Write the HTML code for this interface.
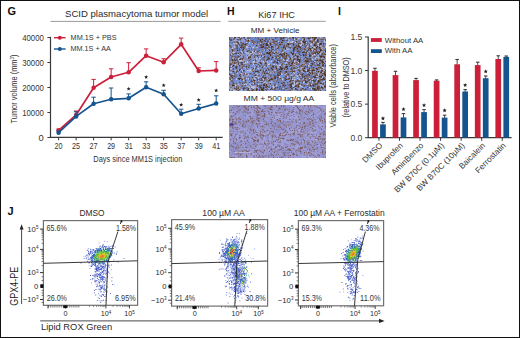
<!DOCTYPE html>
<html><head><meta charset="utf-8"><style>
html,body{margin:0;padding:0;background:#fff;}
#c{position:relative;width:520px;height:338px;overflow:hidden;background:#fff;}
#c svg{position:absolute;left:0;top:0;}
#b{position:absolute;left:0;top:0;width:518px;height:336px;border:1px solid #111;}
</style></head><body><div id="c">
<svg width="520" height="338" viewBox="0 0 520 338" font-family="'Liberation Sans', sans-serif">
<text x="7.6" y="14.9" font-size="11" font-weight="bold" fill="#111" >G</text>
<text x="227.0" y="15.1" font-size="10.5" font-weight="bold" fill="#111" >H</text>
<text x="338.0" y="14.6" font-size="10.5" font-weight="bold" fill="#111" >I</text>
<text x="7.6" y="215.1" font-size="11" font-weight="bold" fill="#111" >J</text>
<text x="65.0" y="16.8" font-size="9.8" textLength="143.2" lengthAdjust="spacingAndGlyphs" fill="#2a2a2a" >SCID plasmacytoma tumor model</text>
<line x1="50.5" y1="21.4" x2="220.6" y2="21.4" stroke="#9a9a9a" stroke-width="1" />
<line x1="50.5" y1="36.8" x2="50.5" y2="137.9" stroke="#3a3a3a" stroke-width="1.2" />
<line x1="49.9" y1="137.4" x2="222.7" y2="137.4" stroke="#3a3a3a" stroke-width="1.2" />
<line x1="47.4" y1="37.5" x2="50.5" y2="37.5" stroke="#3a3a3a" stroke-width="1" />
<text x="43.8" y="40.6" font-size="9.4" text-anchor="end" textLength="21.6" lengthAdjust="spacingAndGlyphs" fill="#333" >40000</text>
<line x1="47.4" y1="62.5" x2="50.5" y2="62.5" stroke="#3a3a3a" stroke-width="1" />
<text x="43.8" y="65.6" font-size="9.4" text-anchor="end" textLength="21.6" lengthAdjust="spacingAndGlyphs" fill="#333" >30000</text>
<line x1="47.4" y1="87.5" x2="50.5" y2="87.5" stroke="#3a3a3a" stroke-width="1" />
<text x="43.8" y="90.6" font-size="9.4" text-anchor="end" textLength="21.6" lengthAdjust="spacingAndGlyphs" fill="#333" >20000</text>
<line x1="47.4" y1="112.5" x2="50.5" y2="112.5" stroke="#3a3a3a" stroke-width="1" />
<text x="43.8" y="115.6" font-size="9.4" text-anchor="end" textLength="21.6" lengthAdjust="spacingAndGlyphs" fill="#333" >10000</text>
<line x1="47.4" y1="137.5" x2="50.5" y2="137.5" stroke="#3a3a3a" stroke-width="1" />
<text x="43.8" y="140.6" font-size="9.4" text-anchor="end" fill="#333" >0</text>
<line x1="58.6" y1="137.4" x2="58.6" y2="140.3" stroke="#3a3a3a" stroke-width="1" />
<text x="58.6" y="149.1" font-size="8.6" text-anchor="middle" textLength="8.0" lengthAdjust="spacingAndGlyphs" fill="#333" >20</text>
<line x1="76.11" y1="137.4" x2="76.11" y2="140.3" stroke="#3a3a3a" stroke-width="1" />
<text x="76.11" y="149.1" font-size="8.6" text-anchor="middle" textLength="8.0" lengthAdjust="spacingAndGlyphs" fill="#333" >25</text>
<line x1="93.62" y1="137.4" x2="93.62" y2="140.3" stroke="#3a3a3a" stroke-width="1" />
<text x="93.62" y="149.1" font-size="8.6" text-anchor="middle" textLength="8.0" lengthAdjust="spacingAndGlyphs" fill="#333" >27</text>
<line x1="111.13" y1="137.4" x2="111.13" y2="140.3" stroke="#3a3a3a" stroke-width="1" />
<text x="111.13" y="149.1" font-size="8.6" text-anchor="middle" textLength="8.0" lengthAdjust="spacingAndGlyphs" fill="#333" >29</text>
<line x1="128.64000000000001" y1="137.4" x2="128.64000000000001" y2="140.3" stroke="#3a3a3a" stroke-width="1" />
<text x="128.64000000000001" y="149.1" font-size="8.6" text-anchor="middle" textLength="8.0" lengthAdjust="spacingAndGlyphs" fill="#333" >31</text>
<line x1="146.15" y1="137.4" x2="146.15" y2="140.3" stroke="#3a3a3a" stroke-width="1" />
<text x="146.15" y="149.1" font-size="8.6" text-anchor="middle" textLength="8.0" lengthAdjust="spacingAndGlyphs" fill="#333" >33</text>
<line x1="163.66" y1="137.4" x2="163.66" y2="140.3" stroke="#3a3a3a" stroke-width="1" />
<text x="163.66" y="149.1" font-size="8.6" text-anchor="middle" textLength="8.0" lengthAdjust="spacingAndGlyphs" fill="#333" >35</text>
<line x1="181.17000000000002" y1="137.4" x2="181.17000000000002" y2="140.3" stroke="#3a3a3a" stroke-width="1" />
<text x="181.17000000000002" y="149.1" font-size="8.6" text-anchor="middle" textLength="8.0" lengthAdjust="spacingAndGlyphs" fill="#333" >37</text>
<line x1="198.68" y1="137.4" x2="198.68" y2="140.3" stroke="#3a3a3a" stroke-width="1" />
<text x="198.68" y="149.1" font-size="8.6" text-anchor="middle" textLength="8.0" lengthAdjust="spacingAndGlyphs" fill="#333" >39</text>
<line x1="216.19" y1="137.4" x2="216.19" y2="140.3" stroke="#3a3a3a" stroke-width="1" />
<text x="216.19" y="149.1" font-size="8.6" text-anchor="middle" textLength="8.0" lengthAdjust="spacingAndGlyphs" fill="#333" >41</text>
<text x="93.3" y="162.2" font-size="9.5" textLength="89" lengthAdjust="spacingAndGlyphs" fill="#333" >Days since MM1S injection</text>
<text transform="translate(17.4,89) rotate(-90)" font-size="9.2" text-anchor="middle" fill="#333" textLength="69" lengthAdjust="spacingAndGlyphs">Tumor volume (mm<tspan font-size="5.5" dy="-3.2">3</tspan><tspan dy="3.2">)</tspan></text>
<line x1="58.6" y1="129" x2="58.6" y2="130.4" stroke="#cc1f3a" stroke-width="1" />
<line x1="56.4" y1="129" x2="60.800000000000004" y2="129" stroke="#cc1f3a" stroke-width="1" />
<line x1="76.11" y1="111" x2="76.11" y2="115" stroke="#cc1f3a" stroke-width="1" />
<line x1="73.91" y1="111" x2="78.31" y2="111" stroke="#cc1f3a" stroke-width="1" />
<line x1="93.62" y1="79.4" x2="93.62" y2="87.7" stroke="#cc1f3a" stroke-width="1" />
<line x1="91.42" y1="79.4" x2="95.82000000000001" y2="79.4" stroke="#cc1f3a" stroke-width="1" />
<line x1="111.13" y1="68.8" x2="111.13" y2="77" stroke="#cc1f3a" stroke-width="1" />
<line x1="108.92999999999999" y1="68.8" x2="113.33" y2="68.8" stroke="#cc1f3a" stroke-width="1" />
<line x1="128.64000000000001" y1="62.7" x2="128.64000000000001" y2="72.3" stroke="#cc1f3a" stroke-width="1" />
<line x1="126.44000000000001" y1="62.7" x2="130.84" y2="62.7" stroke="#cc1f3a" stroke-width="1" />
<line x1="146.15" y1="48.9" x2="146.15" y2="55.7" stroke="#cc1f3a" stroke-width="1" />
<line x1="143.95000000000002" y1="48.9" x2="148.35" y2="48.9" stroke="#cc1f3a" stroke-width="1" />
<line x1="163.66" y1="58.7" x2="163.66" y2="62.2" stroke="#cc1f3a" stroke-width="1" />
<line x1="161.46" y1="58.7" x2="165.85999999999999" y2="58.7" stroke="#cc1f3a" stroke-width="1" />
<line x1="181.17000000000002" y1="38.1" x2="181.17000000000002" y2="44.3" stroke="#cc1f3a" stroke-width="1" />
<line x1="178.97000000000003" y1="38.1" x2="183.37" y2="38.1" stroke="#cc1f3a" stroke-width="1" />
<line x1="198.68" y1="67.8" x2="198.68" y2="71" stroke="#cc1f3a" stroke-width="1" />
<line x1="196.48000000000002" y1="67.8" x2="200.88" y2="67.8" stroke="#cc1f3a" stroke-width="1" />
<line x1="216.19" y1="61.6" x2="216.19" y2="70.4" stroke="#cc1f3a" stroke-width="1" />
<line x1="213.99" y1="61.6" x2="218.39" y2="61.6" stroke="#cc1f3a" stroke-width="1" />
<polyline points="58.6,130.4 76.11,115 93.62,87.7 111.13,77 128.64000000000001,72.3 146.15,55.7 163.66,62.2 181.17000000000002,44.3 198.68,71 216.19,70.4" fill="none" stroke="#cc1f3a" stroke-width="1.7" stroke-linejoin="round"/>
<circle cx="58.6" cy="130.4" r="2.25" fill="#cc1f3a"/>
<circle cx="76.11" cy="115" r="2.25" fill="#cc1f3a"/>
<circle cx="93.62" cy="87.7" r="2.25" fill="#cc1f3a"/>
<circle cx="111.13" cy="77" r="2.25" fill="#cc1f3a"/>
<circle cx="128.64000000000001" cy="72.3" r="2.25" fill="#cc1f3a"/>
<circle cx="146.15" cy="55.7" r="2.25" fill="#cc1f3a"/>
<circle cx="163.66" cy="62.2" r="2.25" fill="#cc1f3a"/>
<circle cx="181.17000000000002" cy="44.3" r="2.25" fill="#cc1f3a"/>
<circle cx="198.68" cy="71" r="2.25" fill="#cc1f3a"/>
<circle cx="216.19" cy="70.4" r="2.25" fill="#cc1f3a"/>
<line x1="58.6" y1="131" x2="58.6" y2="132.7" stroke="#15548f" stroke-width="1" />
<line x1="56.4" y1="131" x2="60.800000000000004" y2="131" stroke="#15548f" stroke-width="1" />
<line x1="76.11" y1="111.7" x2="76.11" y2="116.4" stroke="#15548f" stroke-width="1" />
<line x1="73.91" y1="111.7" x2="78.31" y2="111.7" stroke="#15548f" stroke-width="1" />
<line x1="93.62" y1="97.2" x2="93.62" y2="103.8" stroke="#15548f" stroke-width="1" />
<line x1="91.42" y1="97.2" x2="95.82000000000001" y2="97.2" stroke="#15548f" stroke-width="1" />
<line x1="111.13" y1="88" x2="111.13" y2="99.3" stroke="#15548f" stroke-width="1" />
<line x1="108.92999999999999" y1="88" x2="113.33" y2="88" stroke="#15548f" stroke-width="1" />
<line x1="128.64000000000001" y1="93.9" x2="128.64000000000001" y2="98.3" stroke="#15548f" stroke-width="1" />
<line x1="126.44000000000001" y1="93.9" x2="130.84" y2="93.9" stroke="#15548f" stroke-width="1" />
<line x1="146.15" y1="81.8" x2="146.15" y2="87.3" stroke="#15548f" stroke-width="1" />
<line x1="143.95000000000002" y1="81.8" x2="148.35" y2="81.8" stroke="#15548f" stroke-width="1" />
<line x1="163.66" y1="90.3" x2="163.66" y2="94.2" stroke="#15548f" stroke-width="1" />
<line x1="161.46" y1="90.3" x2="165.85999999999999" y2="90.3" stroke="#15548f" stroke-width="1" />
<line x1="181.17000000000002" y1="109.2" x2="181.17000000000002" y2="113.7" stroke="#15548f" stroke-width="1" />
<line x1="178.97000000000003" y1="109.2" x2="183.37" y2="109.2" stroke="#15548f" stroke-width="1" />
<line x1="198.68" y1="104.3" x2="198.68" y2="108.5" stroke="#15548f" stroke-width="1" />
<line x1="196.48000000000002" y1="104.3" x2="200.88" y2="104.3" stroke="#15548f" stroke-width="1" />
<line x1="216.19" y1="95.8" x2="216.19" y2="103.6" stroke="#15548f" stroke-width="1" />
<line x1="213.99" y1="95.8" x2="218.39" y2="95.8" stroke="#15548f" stroke-width="1" />
<polyline points="58.6,132.7 76.11,116.4 93.62,103.8 111.13,99.3 128.64000000000001,98.3 146.15,87.3 163.66,94.2 181.17000000000002,113.7 198.68,108.5 216.19,103.6" fill="none" stroke="#15548f" stroke-width="1.7" stroke-linejoin="round"/>
<circle cx="58.6" cy="132.7" r="2.25" fill="#15548f"/>
<circle cx="76.11" cy="116.4" r="2.25" fill="#15548f"/>
<circle cx="93.62" cy="103.8" r="2.25" fill="#15548f"/>
<circle cx="111.13" cy="99.3" r="2.25" fill="#15548f"/>
<circle cx="128.64000000000001" cy="98.3" r="2.25" fill="#15548f"/>
<circle cx="146.15" cy="87.3" r="2.25" fill="#15548f"/>
<circle cx="163.66" cy="94.2" r="2.25" fill="#15548f"/>
<circle cx="181.17000000000002" cy="113.7" r="2.25" fill="#15548f"/>
<circle cx="198.68" cy="108.5" r="2.25" fill="#15548f"/>
<circle cx="216.19" cy="103.6" r="2.25" fill="#15548f"/>
<polygon points="128.64,86.80 129.20,88.14 130.64,88.25 129.54,89.19 129.87,90.60 128.64,89.84 127.41,90.60 127.74,89.19 126.64,88.25 128.08,88.14" fill="#222"/>
<polygon points="146.15,74.90 146.71,76.24 148.15,76.35 147.05,77.29 147.38,78.70 146.15,77.94 144.92,78.70 145.25,77.29 144.15,76.35 145.59,76.24" fill="#222"/>
<polygon points="163.66,83.20 164.22,84.54 165.66,84.65 164.56,85.59 164.89,87.00 163.66,86.24 162.43,87.00 162.76,85.59 161.66,84.65 163.10,84.54" fill="#222"/>
<polygon points="181.17,102.70 181.73,104.04 183.17,104.15 182.07,105.09 182.40,106.50 181.17,105.74 179.94,106.50 180.27,105.09 179.17,104.15 180.61,104.04" fill="#222"/>
<polygon points="198.68,97.90 199.24,99.24 200.68,99.35 199.58,100.29 199.91,101.70 198.68,100.94 197.45,101.70 197.78,100.29 196.68,99.35 198.12,99.24" fill="#222"/>
<polygon points="216.19,88.40 216.75,89.74 218.19,89.85 217.09,90.79 217.42,92.20 216.19,91.44 214.96,92.20 215.29,90.79 214.19,89.85 215.63,89.74" fill="#222"/>
<line x1="54" y1="37.7" x2="65.6" y2="37.7" stroke="#cc1f3a" stroke-width="1.4" />
<circle cx="59.8" cy="37.8" r="2.0" fill="#cc1f3a"/>
<line x1="54" y1="49.0" x2="65.6" y2="49.0" stroke="#15548f" stroke-width="1.4" />
<circle cx="59.8" cy="49.1" r="2.0" fill="#15548f"/>
<text x="70.6" y="40.2" font-size="7.4" textLength="46" lengthAdjust="spacingAndGlyphs" fill="#333" >MM.1S + PBS</text>
<text x="70.6" y="51.3" font-size="7.4" textLength="40.2" lengthAdjust="spacingAndGlyphs" fill="#333" >MM.1S + AA</text>
<text x="258.2" y="17.7" font-size="9.3" textLength="36.8" lengthAdjust="spacingAndGlyphs" fill="#2a2a2a" >Ki67 IHC</text>
<line x1="228.2" y1="21.3" x2="325.7" y2="21.3" stroke="#9a9a9a" stroke-width="1" />
<text x="250.8" y="33.2" font-size="8" textLength="48.7" lengthAdjust="spacingAndGlyphs" fill="#2a2a2a" >MM + Vehicle</text>
<text x="243.6" y="101.3" font-size="8" textLength="70.6" lengthAdjust="spacingAndGlyphs" fill="#2a2a2a" >MM + 500 µg/g AA</text>
<filter id="bl" x="-5%" y="-5%" width="110%" height="110%"><feGaussianBlur stdDeviation="0.2"/></filter>
<clipPath id="cp1"><rect x="229" y="37" width="97" height="54"/></clipPath>
<g clip-path="url(#cp1)"><g filter="url(#bl)" shape-rendering="crispEdges"><rect x="229" y="37" width="97" height="54" fill="#686886"/><path fill="#bcc7e0" d="M233 37h1v1h-1zM240 37h1v1h-1zM246 37h1v1h-1zM288 37h1v1h-1zM320 37h1v1h-1zM325 37h1v1h-1zM298 38h1v1h-1zM249 39h1v1h-1zM294 39h1v1h-1zM302 39h1v1h-1zM311 39h1v1h-1zM315 40h1v1h-1zM324 40h1v1h-1zM239 41h1v1h-1zM278 41h1v1h-1zM292 41h2v1h-2zM301 41h1v1h-1zM246 42h1v1h-1zM249 42h1v1h-1zM288 42h1v1h-1zM290 42h3v1h-3zM295 42h1v1h-1zM301 42h1v1h-1zM306 42h1v1h-1zM236 43h1v1h-1zM252 43h1v1h-1zM260 43h1v1h-1zM268 43h1v1h-1zM318 43h1v1h-1zM301 44h1v1h-1zM311 44h1v1h-1zM300 45h1v1h-1zM234 46h1v1h-1zM246 46h1v1h-1zM307 46h1v1h-1zM247 47h1v1h-1zM253 47h1v1h-1zM314 47h1v1h-1zM232 48h1v1h-1zM312 49h1v1h-1zM241 51h1v1h-1zM252 51h1v1h-1zM255 51h1v1h-1zM233 52h1v1h-1zM242 52h1v1h-1zM245 52h1v1h-1zM252 52h1v1h-1zM282 52h1v1h-1zM248 53h1v1h-1zM250 53h1v1h-1zM259 53h1v1h-1zM320 53h1v1h-1zM231 54h1v1h-1zM314 54h1v1h-1zM312 55h1v1h-1zM247 57h1v1h-1zM256 58h1v1h-1zM259 58h1v1h-1zM288 58h1v1h-1zM315 58h1v1h-1zM283 59h1v1h-1zM312 59h1v1h-1zM240 60h2v1h-2zM287 60h1v1h-1zM253 61h2v1h-2zM263 61h1v1h-1zM271 61h1v1h-1zM294 61h1v1h-1zM245 62h1v1h-1zM247 62h1v1h-1zM253 62h1v1h-1zM298 62h1v1h-1zM309 63h1v1h-1zM235 64h1v1h-1zM253 64h1v1h-1zM268 64h1v1h-1zM274 64h1v1h-1zM276 64h1v1h-1zM279 65h2v1h-2zM308 65h1v1h-1zM231 66h1v1h-1zM264 66h1v1h-1zM254 67h1v1h-1zM322 67h1v1h-1zM230 68h2v1h-2zM298 68h1v1h-1zM323 68h1v1h-1zM241 69h1v1h-1zM320 69h1v1h-1zM235 70h1v1h-1zM247 70h1v1h-1zM249 70h2v1h-2zM275 70h1v1h-1zM306 70h1v1h-1zM242 71h1v1h-1zM293 72h1v1h-1zM241 73h1v1h-1zM245 73h1v1h-1zM233 74h1v1h-1zM281 74h1v1h-1zM318 74h1v1h-1zM300 75h1v1h-1zM256 76h1v1h-1zM279 76h1v1h-1zM297 76h1v1h-1zM294 77h1v1h-1zM322 77h1v1h-1zM246 78h1v1h-1zM248 78h1v1h-1zM254 78h1v1h-1zM297 78h1v1h-1zM309 78h1v1h-1zM236 79h1v1h-1zM263 79h1v1h-1zM282 79h1v1h-1zM292 79h1v1h-1zM294 79h1v1h-1zM299 79h1v1h-1zM312 79h1v1h-1zM317 79h1v1h-1zM229 80h1v1h-1zM243 80h1v1h-1zM312 81h1v1h-1zM324 81h1v1h-1zM264 82h1v1h-1zM294 82h1v1h-1zM303 82h1v1h-1zM253 83h1v1h-1zM294 83h1v1h-1zM296 83h1v1h-1zM238 84h1v1h-1zM244 84h1v1h-1zM246 84h1v1h-1zM250 84h1v1h-1zM258 84h1v1h-1zM294 84h1v1h-1zM307 84h1v1h-1zM311 84h1v1h-1zM235 85h1v1h-1zM276 85h1v1h-1zM292 85h1v1h-1zM300 85h1v1h-1zM253 86h1v1h-1zM273 86h1v1h-1zM293 86h1v1h-1zM251 87h3v1h-3zM273 87h1v1h-1zM309 87h1v1h-1zM253 88h1v1h-1zM283 88h1v1h-1zM311 88h1v1h-1zM249 89h1v1h-1zM234 90h1v1h-1zM302 90h1v1h-1z"/><path fill="#aab4d8" d="M245 37h1v1h-1zM286 38h1v1h-1zM294 38h1v1h-1zM285 39h1v1h-1zM310 39h1v1h-1zM316 39h1v1h-1zM234 40h1v1h-1zM269 40h1v1h-1zM288 41h1v1h-1zM324 41h1v1h-1zM239 42h1v1h-1zM287 42h1v1h-1zM313 42h1v1h-1zM324 42h1v1h-1zM233 43h2v1h-2zM249 43h1v1h-1zM311 43h1v1h-1zM317 43h1v1h-1zM234 44h1v1h-1zM306 44h1v1h-1zM310 44h1v1h-1zM290 45h1v1h-1zM318 45h1v1h-1zM247 46h1v1h-1zM290 46h1v1h-1zM325 46h1v1h-1zM232 47h1v1h-1zM234 47h1v1h-1zM246 47h1v1h-1zM252 47h1v1h-1zM256 47h2v1h-2zM325 47h1v1h-1zM287 49h2v1h-2zM285 50h1v1h-1zM246 52h1v1h-1zM283 52h1v1h-1zM307 52h1v1h-1zM247 53h1v1h-1zM251 53h1v1h-1zM261 53h1v1h-1zM237 54h1v1h-1zM249 54h1v1h-1zM273 54h1v1h-1zM249 55h1v1h-1zM262 56h1v1h-1zM292 56h1v1h-1zM274 57h1v1h-1zM277 57h1v1h-1zM281 57h1v1h-1zM316 57h1v1h-1zM233 58h1v1h-1zM238 58h1v1h-1zM254 58h1v1h-1zM318 58h1v1h-1zM238 59h1v1h-1zM256 59h1v1h-1zM239 60h1v1h-1zM284 60h1v1h-1zM286 60h1v1h-1zM240 61h1v1h-1zM242 61h1v1h-1zM247 61h1v1h-1zM267 61h1v1h-1zM278 61h1v1h-1zM314 61h1v1h-1zM230 62h1v1h-1zM257 62h1v1h-1zM263 62h1v1h-1zM267 62h1v1h-1zM285 62h2v1h-2zM245 63h1v1h-1zM269 63h1v1h-1zM285 63h1v1h-1zM318 63h1v1h-1zM269 64h1v1h-1zM273 64h1v1h-1zM277 65h2v1h-2zM308 66h1v1h-1zM278 67h1v1h-1zM323 67h1v1h-1zM257 68h2v1h-2zM301 68h1v1h-1zM250 69h1v1h-1zM300 69h1v1h-1zM310 69h1v1h-1zM242 70h1v1h-1zM248 70h1v1h-1zM324 70h1v1h-1zM249 71h1v1h-1zM268 71h1v1h-1zM302 71h1v1h-1zM230 72h2v1h-2zM268 72h1v1h-1zM270 72h1v1h-1zM322 72h1v1h-1zM237 73h1v1h-1zM255 73h1v1h-1zM281 73h1v1h-1zM286 73h1v1h-1zM294 73h1v1h-1zM318 73h1v1h-1zM248 74h1v1h-1zM257 74h1v1h-1zM282 74h1v1h-1zM299 74h1v1h-1zM291 75h1v1h-1zM296 75h1v1h-1zM255 76h1v1h-1zM287 76h1v1h-1zM316 76h1v1h-1zM237 77h1v1h-1zM258 77h1v1h-1zM279 77h1v1h-1zM236 78h1v1h-1zM258 78h1v1h-1zM282 78h1v1h-1zM303 78h1v1h-1zM313 78h1v1h-1zM231 79h1v1h-1zM248 79h1v1h-1zM255 79h1v1h-1zM318 79h1v1h-1zM258 80h1v1h-1zM294 80h1v1h-1zM260 81h1v1h-1zM310 81h1v1h-1zM323 81h1v1h-1zM271 82h1v1h-1zM312 82h1v1h-1zM316 82h1v1h-1zM308 83h1v1h-1zM235 84h1v1h-1zM320 84h1v1h-1zM270 85h1v1h-1zM293 85h2v1h-2zM322 85h1v1h-1zM247 86h1v1h-1zM251 86h2v1h-2zM254 86h1v1h-1zM300 86h3v1h-3zM323 86h1v1h-1zM249 87h1v1h-1zM254 87h2v1h-2zM294 88h1v1h-1zM231 89h1v1h-1zM241 89h1v1h-1zM311 89h1v1h-1zM233 90h1v1h-1zM235 90h1v1h-1zM240 90h2v1h-2zM271 90h1v1h-1zM293 90h1v1h-1z"/><path fill="#a3a7c7" d="M270 38h1v1h-1zM299 38h1v1h-1zM311 38h1v1h-1zM286 39h1v1h-1zM288 39h1v1h-1zM235 40h2v1h-2zM302 40h1v1h-1zM290 41h2v1h-2zM325 41h1v1h-1zM272 43h1v1h-1zM285 43h1v1h-1zM301 43h1v1h-1zM318 44h1v1h-1zM253 46h1v1h-1zM308 46h1v1h-1zM314 46h1v1h-1zM320 46h1v1h-1zM276 47h1v1h-1zM306 47h1v1h-1zM313 47h1v1h-1zM322 47h1v1h-1zM286 48h1v1h-1zM267 49h1v1h-1zM286 49h1v1h-1zM311 49h1v1h-1zM312 50h1v1h-1zM305 51h1v1h-1zM232 52h1v1h-1zM234 52h1v1h-1zM241 52h1v1h-1zM247 52h2v1h-2zM254 52h1v1h-1zM274 52h1v1h-1zM295 52h1v1h-1zM246 53h1v1h-1zM241 54h1v1h-1zM253 54h1v1h-1zM277 54h1v1h-1zM297 54h1v1h-1zM248 55h1v1h-1zM318 55h1v1h-1zM263 56h1v1h-1zM316 56h1v1h-1zM318 56h1v1h-1zM317 57h1v1h-1zM232 58h1v1h-1zM239 58h1v1h-1zM257 58h1v1h-1zM260 58h1v1h-1zM292 58h1v1h-1zM299 58h1v1h-1zM301 58h1v1h-1zM259 59h1v1h-1zM287 59h2v1h-2zM271 60h1v1h-1zM294 60h2v1h-2zM239 61h1v1h-1zM315 61h1v1h-1zM254 62h1v1h-1zM256 62h1v1h-1zM294 62h1v1h-1zM318 62h1v1h-1zM244 63h1v1h-1zM294 64h1v1h-1zM305 64h1v1h-1zM231 65h1v1h-1zM235 65h1v1h-1zM254 65h1v1h-1zM261 66h1v1h-1zM277 67h1v1h-1zM301 67h2v1h-2zM254 68h1v1h-1zM230 69h1v1h-1zM254 69h1v1h-1zM295 69h1v1h-1zM306 69h1v1h-1zM264 70h1v1h-1zM274 70h1v1h-1zM301 71h1v1h-1zM310 71h1v1h-1zM273 72h1v1h-1zM303 72h1v1h-1zM307 72h1v1h-1zM319 72h1v1h-1zM256 73h1v1h-1zM270 73h1v1h-1zM307 73h1v1h-1zM263 74h1v1h-1zM285 74h1v1h-1zM229 75h1v1h-1zM247 75h1v1h-1zM266 75h1v1h-1zM318 75h1v1h-1zM242 76h1v1h-1zM257 76h1v1h-1zM317 76h1v1h-1zM322 76h1v1h-1zM242 77h2v1h-2zM287 77h1v1h-1zM243 78h1v1h-1zM263 78h1v1h-1zM267 78h1v1h-1zM292 78h1v1h-1zM321 78h1v1h-1zM276 79h1v1h-1zM295 79h1v1h-1zM306 79h1v1h-1zM310 80h1v1h-1zM255 81h1v1h-1zM271 81h1v1h-1zM303 81h2v1h-2zM269 82h2v1h-2zM297 82h1v1h-1zM304 82h1v1h-1zM249 83h1v1h-1zM266 83h1v1h-1zM286 83h1v1h-1zM297 83h1v1h-1zM250 85h2v1h-2zM273 85h1v1h-1zM299 85h1v1h-1zM321 85h1v1h-1zM235 86h1v1h-1zM248 86h2v1h-2zM255 86h1v1h-1zM272 86h1v1h-1zM276 86h1v1h-1zM257 87h1v1h-1zM231 88h1v1h-1zM273 88h1v1h-1zM242 89h1v1h-1zM279 90h1v1h-1zM294 90h1v1h-1zM307 90h1v1h-1z"/><path fill="#8da2de" d="M236 37h1v1h-1zM317 37h1v1h-1zM237 38h2v1h-2zM235 39h1v1h-1zM242 39h2v1h-2zM247 39h1v1h-1zM289 39h1v1h-1zM298 39h1v1h-1zM305 39h1v1h-1zM307 39h1v1h-1zM242 40h3v1h-3zM271 40h1v1h-1zM288 40h2v1h-2zM242 41h1v1h-1zM308 41h1v1h-1zM325 42h1v1h-1zM235 43h1v1h-1zM300 44h1v1h-1zM312 44h1v1h-1zM238 45h1v1h-1zM248 45h1v1h-1zM258 45h1v1h-1zM311 45h1v1h-1zM321 45h1v1h-1zM325 45h1v1h-1zM233 46h1v1h-1zM254 46h1v1h-1zM267 46h1v1h-1zM274 46h1v1h-1zM277 46h1v1h-1zM312 46h1v1h-1zM248 47h1v1h-1zM250 47h1v1h-1zM252 48h1v1h-1zM269 48h2v1h-2zM274 48h1v1h-1zM287 48h2v1h-2zM321 48h1v1h-1zM230 49h1v1h-1zM264 49h1v1h-1zM270 49h1v1h-1zM289 49h1v1h-1zM291 49h1v1h-1zM244 50h1v1h-1zM253 50h1v1h-1zM264 50h1v1h-1zM286 50h1v1h-1zM245 51h1v1h-1zM260 51h1v1h-1zM274 51h1v1h-1zM284 51h1v1h-1zM287 51h2v1h-2zM321 51h1v1h-1zM324 51h1v1h-1zM253 52h1v1h-1zM321 52h1v1h-1zM324 52h1v1h-1zM233 53h1v1h-1zM242 53h1v1h-1zM253 53h3v1h-3zM238 54h1v1h-1zM243 54h1v1h-1zM246 54h1v1h-1zM250 54h1v1h-1zM255 54h2v1h-2zM291 54h1v1h-1zM320 54h1v1h-1zM241 55h1v1h-1zM246 55h1v1h-1zM308 55h1v1h-1zM314 55h1v1h-1zM241 56h1v1h-1zM246 56h2v1h-2zM260 56h1v1h-1zM291 56h1v1h-1zM295 56h1v1h-1zM301 56h1v1h-1zM325 56h1v1h-1zM233 57h1v1h-1zM241 57h1v1h-1zM246 57h1v1h-1zM256 57h1v1h-1zM259 57h1v1h-1zM294 57h2v1h-2zM318 57h2v1h-2zM281 58h1v1h-1zM312 58h1v1h-1zM321 58h2v1h-2zM252 59h1v1h-1zM258 59h1v1h-1zM315 59h1v1h-1zM325 59h1v1h-1zM243 60h2v1h-2zM257 60h3v1h-3zM261 60h1v1h-1zM283 60h1v1h-1zM324 60h1v1h-1zM257 61h2v1h-2zM262 61h1v1h-1zM270 61h1v1h-1zM246 62h1v1h-1zM248 62h1v1h-1zM269 62h1v1h-1zM271 62h1v1h-1zM325 62h1v1h-1zM243 63h1v1h-1zM253 63h1v1h-1zM263 63h1v1h-1zM267 63h2v1h-2zM286 63h1v1h-1zM315 63h1v1h-1zM239 64h1v1h-1zM267 64h1v1h-1zM279 64h2v1h-2zM309 64h1v1h-1zM324 64h1v1h-1zM267 65h2v1h-2zM284 65h1v1h-1zM296 65h1v1h-1zM309 65h1v1h-1zM251 66h1v1h-1zM254 66h1v1h-1zM258 66h1v1h-1zM277 66h2v1h-2zM297 66h1v1h-1zM309 66h1v1h-1zM243 67h1v1h-1zM245 67h1v1h-1zM290 67h1v1h-1zM245 68h1v1h-1zM250 68h1v1h-1zM249 69h1v1h-1zM264 69h1v1h-1zM296 69h1v1h-1zM245 70h2v1h-2zM305 70h1v1h-1zM246 71h3v1h-3zM250 71h2v1h-2zM261 71h1v1h-1zM296 71h1v1h-1zM315 71h1v1h-1zM245 72h4v1h-4zM295 72h1v1h-1zM260 74h1v1h-1zM248 75h2v1h-2zM297 75h1v1h-1zM229 76h1v1h-1zM261 76h1v1h-1zM254 77h1v1h-1zM259 77h1v1h-1zM270 77h1v1h-1zM247 78h1v1h-1zM255 78h1v1h-1zM299 78h1v1h-1zM268 79h1v1h-1zM288 80h1v1h-1zM229 81h1v1h-1zM247 81h1v1h-1zM262 81h1v1h-1zM265 81h1v1h-1zM293 81h1v1h-1zM263 82h1v1h-1zM265 82h2v1h-2zM272 82h1v1h-1zM322 82h1v1h-1zM258 83h1v1h-1zM243 84h1v1h-1zM249 84h1v1h-1zM306 84h1v1h-1zM239 85h1v1h-1zM255 85h1v1h-1zM320 85h1v1h-1zM240 86h1v1h-1zM229 87h1v1h-1zM248 87h1v1h-1zM270 87h1v1h-1zM274 87h1v1h-1zM302 87h1v1h-1zM229 88h1v1h-1zM239 88h1v1h-1zM249 88h1v1h-1zM268 88h3v1h-3zM299 88h1v1h-1zM324 88h1v1h-1zM230 89h1v1h-1zM233 89h1v1h-1zM250 89h1v1h-1zM269 89h1v1h-1zM293 89h1v1h-1zM321 89h1v1h-1zM230 90h1v1h-1zM242 90h1v1h-1zM245 90h1v1h-1zM268 90h3v1h-3zM272 90h2v1h-2zM322 90h1v1h-1z"/><path fill="#9697b3" d="M291 37h1v1h-1zM232 38h1v1h-1zM246 39h1v1h-1zM312 39h1v1h-1zM297 40h1v1h-1zM238 41h1v1h-1zM300 41h1v1h-1zM278 42h1v1h-1zM237 43h1v1h-1zM255 43h1v1h-1zM310 43h1v1h-1zM233 44h1v1h-1zM317 44h1v1h-1zM285 45h1v1h-1zM301 45h1v1h-1zM310 45h1v1h-1zM320 45h1v1h-1zM321 46h1v1h-1zM315 47h1v1h-1zM233 48h1v1h-1zM247 48h1v1h-1zM268 48h1v1h-1zM291 48h1v1h-1zM306 48h1v1h-1zM322 48h1v1h-1zM244 49h1v1h-1zM322 49h1v1h-1zM276 50h1v1h-1zM314 50h1v1h-1zM323 50h1v1h-1zM234 51h1v1h-1zM269 51h1v1h-1zM277 51h1v1h-1zM283 51h1v1h-1zM277 52h1v1h-1zM310 52h1v1h-1zM320 52h1v1h-1zM258 53h1v1h-1zM242 54h1v1h-1zM261 54h1v1h-1zM296 54h1v1h-1zM299 55h1v1h-1zM317 55h1v1h-1zM312 56h1v1h-1zM239 57h1v1h-1zM278 57h1v1h-1zM299 57h1v1h-1zM245 58h1v1h-1zM291 58h1v1h-1zM323 58h1v1h-1zM257 59h1v1h-1zM292 59h1v1h-1zM305 59h1v1h-1zM313 59h1v1h-1zM242 60h1v1h-1zM246 60h1v1h-1zM303 60h1v1h-1zM231 61h1v1h-1zM241 61h1v1h-1zM295 61h1v1h-1zM317 61h1v1h-1zM324 61h1v1h-1zM231 62h1v1h-1zM252 62h1v1h-1zM264 62h1v1h-1zM324 62h1v1h-1zM246 63h1v1h-1zM287 63h1v1h-1zM300 63h1v1h-1zM317 63h1v1h-1zM234 64h1v1h-1zM237 64h1v1h-1zM293 64h1v1h-1zM295 65h1v1h-1zM247 67h1v1h-1zM298 67h1v1h-1zM251 68h1v1h-1zM231 69h1v1h-1zM251 69h1v1h-1zM294 69h1v1h-1zM322 69h1v1h-1zM238 70h1v1h-1zM285 70h1v1h-1zM290 70h1v1h-1zM323 70h1v1h-1zM235 71h1v1h-1zM272 71h1v1h-1zM237 72h1v1h-1zM323 72h1v1h-1zM240 73h1v1h-1zM257 73h1v1h-1zM319 73h1v1h-1zM232 74h1v1h-1zM241 74h1v1h-1zM290 74h2v1h-2zM246 75h1v1h-1zM290 75h1v1h-1zM295 75h1v1h-1zM318 76h1v1h-1zM233 77h1v1h-1zM257 77h1v1h-1zM267 77h1v1h-1zM288 77h1v1h-1zM293 77h1v1h-1zM325 77h1v1h-1zM262 78h1v1h-1zM283 78h1v1h-1zM312 78h1v1h-1zM318 78h1v1h-1zM243 79h1v1h-1zM252 79h1v1h-1zM254 79h1v1h-1zM293 79h1v1h-1zM303 79h1v1h-1zM244 80h1v1h-1zM282 80h1v1h-1zM289 80h1v1h-1zM317 80h1v1h-1zM264 81h1v1h-1zM294 81h1v1h-1zM247 82h1v1h-1zM308 82h1v1h-1zM315 82h1v1h-1zM324 82h1v1h-1zM246 83h1v1h-1zM245 84h1v1h-1zM269 84h1v1h-1zM319 84h1v1h-1zM236 85h1v1h-1zM231 86h1v1h-1zM233 86h1v1h-1zM322 86h1v1h-1zM232 87h2v1h-2zM301 87h1v1h-1zM314 87h1v1h-1zM230 88h1v1h-1zM233 88h1v1h-1zM252 88h1v1h-1zM232 89h1v1h-1zM234 89h1v1h-1zM323 89h1v1h-1zM265 90h1v1h-1zM267 90h1v1h-1zM305 90h1v1h-1zM323 90h1v1h-1z"/><path fill="#8498d4" d="M242 37h1v1h-1zM321 37h1v1h-1zM245 38h1v1h-1zM233 40h1v1h-1zM241 40h1v1h-1zM307 40h1v1h-1zM268 42h1v1h-1zM302 43h1v1h-1zM258 44h1v1h-1zM299 44h1v1h-1zM291 45h1v1h-1zM307 45h1v1h-1zM312 45h1v1h-1zM270 46h1v1h-1zM276 46h1v1h-1zM235 47h1v1h-1zM310 47h1v1h-1zM321 47h1v1h-1zM248 49h1v1h-1zM318 49h1v1h-1zM268 50h1v1h-1zM318 50h2v1h-2zM233 51h1v1h-1zM235 51h1v1h-1zM309 51h1v1h-1zM322 51h1v1h-1zM294 52h1v1h-1zM307 53h1v1h-1zM325 53h1v1h-1zM247 54h1v1h-1zM274 54h1v1h-1zM285 54h1v1h-1zM291 55h1v1h-1zM307 55h1v1h-1zM324 55h2v1h-2zM251 56h1v1h-1zM256 56h1v1h-1zM259 56h1v1h-1zM257 57h1v1h-1zM261 57h1v1h-1zM287 57h1v1h-1zM302 57h1v1h-1zM315 57h1v1h-1zM325 57h1v1h-1zM229 58h1v1h-1zM274 58h1v1h-1zM302 58h1v1h-1zM243 59h2v1h-2zM253 59h1v1h-1zM245 60h1v1h-1zM254 60h1v1h-1zM270 60h1v1h-1zM323 60h1v1h-1zM325 60h1v1h-1zM261 61h1v1h-1zM265 61h2v1h-2zM288 61h1v1h-1zM297 61h1v1h-1zM255 62h1v1h-1zM237 63h1v1h-1zM263 64h1v1h-1zM295 64h1v1h-1zM237 65h1v1h-1zM252 66h1v1h-1zM284 66h1v1h-1zM294 66h1v1h-1zM316 66h1v1h-1zM324 67h1v1h-1zM306 68h1v1h-1zM238 69h1v1h-1zM246 69h1v1h-1zM248 69h1v1h-1zM258 69h2v1h-2zM305 69h1v1h-1zM234 70h1v1h-1zM251 70h1v1h-1zM314 71h1v1h-1zM249 72h2v1h-2zM296 72h1v1h-1zM308 72h1v1h-1zM242 73h1v1h-1zM271 73h1v1h-1zM273 73h1v1h-1zM282 73h2v1h-2zM293 73h1v1h-1zM245 74h1v1h-1zM313 74h1v1h-1zM241 75h2v1h-2zM267 75h1v1h-1zM272 75h1v1h-1zM299 75h1v1h-1zM244 76h1v1h-1zM247 76h1v1h-1zM266 76h1v1h-1zM296 76h1v1h-1zM324 76h1v1h-1zM246 77h1v1h-1zM280 77h1v1h-1zM298 77h1v1h-1zM301 77h1v1h-1zM253 78h1v1h-1zM293 78h1v1h-1zM295 78h1v1h-1zM298 78h1v1h-1zM317 78h1v1h-1zM235 79h1v1h-1zM237 79h1v1h-1zM283 79h1v1h-1zM263 80h1v1h-1zM287 80h1v1h-1zM261 81h1v1h-1zM272 81h1v1h-1zM287 81h1v1h-1zM255 82h1v1h-1zM267 82h1v1h-1zM247 83h1v1h-1zM250 83h1v1h-1zM252 83h1v1h-1zM260 83h1v1h-1zM262 83h1v1h-1zM324 83h1v1h-1zM277 84h1v1h-1zM324 84h1v1h-1zM247 85h1v1h-1zM254 85h1v1h-1zM268 85h1v1h-1zM277 85h1v1h-1zM323 85h1v1h-1zM320 86h1v1h-1zM300 87h1v1h-1zM310 87h1v1h-1zM250 88h1v1h-1zM255 88h1v1h-1zM265 88h1v1h-1zM293 88h1v1h-1zM324 89h1v1h-1zM280 90h1v1h-1zM295 90h2v1h-2z"/><path fill="#7d94d9" d="M254 37h1v1h-1zM261 37h1v1h-1zM263 37h1v1h-1zM300 37h1v1h-1zM305 37h2v1h-2zM318 37h1v1h-1zM322 37h1v1h-1zM236 38h1v1h-1zM246 38h1v1h-1zM285 38h1v1h-1zM317 38h1v1h-1zM325 38h1v1h-1zM236 39h1v1h-1zM299 39h2v1h-2zM306 39h1v1h-1zM237 40h1v1h-1zM296 40h1v1h-1zM308 40h1v1h-1zM316 40h1v1h-1zM231 41h2v1h-2zM241 41h1v1h-1zM243 41h2v1h-2zM270 41h1v1h-1zM285 41h1v1h-1zM244 42h1v1h-1zM247 42h1v1h-1zM265 42h1v1h-1zM308 42h2v1h-2zM319 42h1v1h-1zM239 43h1v1h-1zM248 43h1v1h-1zM250 43h1v1h-1zM297 43h1v1h-1zM230 44h2v1h-2zM248 44h3v1h-3zM303 44h1v1h-1zM231 45h2v1h-2zM247 45h1v1h-1zM250 45h2v1h-2zM272 45h1v1h-1zM232 46h1v1h-1zM235 46h1v1h-1zM238 46h1v1h-1zM251 46h2v1h-2zM302 46h1v1h-1zM311 46h1v1h-1zM229 47h1v1h-1zM239 47h1v1h-1zM254 47h1v1h-1zM274 47h1v1h-1zM287 47h1v1h-1zM304 47h1v1h-1zM229 48h2v1h-2zM240 48h1v1h-1zM245 48h2v1h-2zM250 48h1v1h-1zM289 48h1v1h-1zM324 48h1v1h-1zM229 49h1v1h-1zM241 49h1v1h-1zM247 49h1v1h-1zM250 49h1v1h-1zM252 49h1v1h-1zM274 49h1v1h-1zM277 49h1v1h-1zM280 49h1v1h-1zM290 49h1v1h-1zM241 50h1v1h-1zM245 50h1v1h-1zM273 50h1v1h-1zM278 50h1v1h-1zM284 50h1v1h-1zM231 51h1v1h-1zM236 51h1v1h-1zM240 51h1v1h-1zM263 51h1v1h-1zM267 51h1v1h-1zM273 51h1v1h-1zM275 51h1v1h-1zM278 51h2v1h-2zM285 51h1v1h-1zM308 51h1v1h-1zM229 52h2v1h-2zM263 52h2v1h-2zM287 52h1v1h-1zM229 53h2v1h-2zM265 53h1v1h-1zM279 53h1v1h-1zM288 53h2v1h-2zM316 53h1v1h-1zM229 54h1v1h-1zM234 54h1v1h-1zM290 54h1v1h-1zM298 54h1v1h-1zM229 55h1v1h-1zM239 55h1v1h-1zM263 55h1v1h-1zM290 55h1v1h-1zM313 55h1v1h-1zM230 56h1v1h-1zM240 56h1v1h-1zM245 56h1v1h-1zM252 56h1v1h-1zM287 56h1v1h-1zM302 56h1v1h-1zM251 57h1v1h-1zM291 57h1v1h-1zM307 57h1v1h-1zM311 57h1v1h-1zM247 58h1v1h-1zM251 58h2v1h-2zM265 58h2v1h-2zM247 59h2v1h-2zM265 59h1v1h-1zM286 59h1v1h-1zM302 59h1v1h-1zM314 59h1v1h-1zM247 60h1v1h-1zM262 60h1v1h-1zM265 60h1v1h-1zM269 60h1v1h-1zM272 60h1v1h-1zM313 60h1v1h-1zM236 61h1v1h-1zM245 61h2v1h-2zM252 61h1v1h-1zM259 61h1v1h-1zM269 61h1v1h-1zM272 61h1v1h-1zM249 62h1v1h-1zM258 62h1v1h-1zM268 62h1v1h-1zM270 62h1v1h-1zM282 62h1v1h-1zM302 62h2v1h-2zM316 62h1v1h-1zM239 63h1v1h-1zM247 63h1v1h-1zM270 63h2v1h-2zM274 63h1v1h-1zM279 63h2v1h-2zM301 63h3v1h-3zM256 64h1v1h-1zM259 64h2v1h-2zM271 64h1v1h-1zM283 64h1v1h-1zM300 64h1v1h-1zM310 64h1v1h-1zM238 65h1v1h-1zM245 65h1v1h-1zM252 65h1v1h-1zM257 65h2v1h-2zM283 65h1v1h-1zM285 65h1v1h-1zM321 65h1v1h-1zM267 66h3v1h-3zM288 66h1v1h-1zM313 66h2v1h-2zM233 67h2v1h-2zM238 67h1v1h-1zM244 67h1v1h-1zM250 67h1v1h-1zM258 67h1v1h-1zM263 67h4v1h-4zM268 67h1v1h-1zM289 67h1v1h-1zM315 67h1v1h-1zM325 67h1v1h-1zM234 68h1v1h-1zM244 68h1v1h-1zM248 68h2v1h-2zM259 68h2v1h-2zM266 68h1v1h-1zM269 68h1v1h-1zM325 68h1v1h-1zM244 69h2v1h-2zM253 69h1v1h-1zM267 69h1v1h-1zM289 69h1v1h-1zM297 69h1v1h-1zM315 69h1v1h-1zM240 70h1v1h-1zM253 70h1v1h-1zM289 70h1v1h-1zM315 70h1v1h-1zM231 71h1v1h-1zM239 71h1v1h-1zM245 71h1v1h-1zM260 71h1v1h-1zM266 71h1v1h-1zM295 71h1v1h-1zM297 71h2v1h-2zM313 71h1v1h-1zM239 72h1v1h-1zM251 72h2v1h-2zM256 72h1v1h-1zM260 72h2v1h-2zM290 72h1v1h-1zM232 73h1v1h-1zM248 73h1v1h-1zM259 73h2v1h-2zM272 73h1v1h-1zM292 73h1v1h-1zM295 73h2v1h-2zM238 74h1v1h-1zM242 74h1v1h-1zM266 74h2v1h-2zM276 74h1v1h-1zM284 74h1v1h-1zM292 74h1v1h-1zM296 74h1v1h-1zM245 75h1v1h-1zM250 75h1v1h-1zM262 75h1v1h-1zM292 75h1v1h-1zM298 75h1v1h-1zM312 75h2v1h-2zM260 76h1v1h-1zM268 76h1v1h-1zM280 76h1v1h-1zM284 76h1v1h-1zM260 77h2v1h-2zM269 77h1v1h-1zM281 77h2v1h-2zM295 77h2v1h-2zM317 77h1v1h-1zM240 79h1v1h-1zM246 79h1v1h-1zM296 79h1v1h-1zM298 79h1v1h-1zM302 79h1v1h-1zM235 80h1v1h-1zM238 80h1v1h-1zM265 80h1v1h-1zM237 81h2v1h-2zM240 81h1v1h-1zM243 81h1v1h-1zM248 81h2v1h-2zM286 81h1v1h-1zM316 81h1v1h-1zM321 81h1v1h-1zM229 82h1v1h-1zM234 82h1v1h-1zM237 82h1v1h-1zM300 82h1v1h-1zM238 83h1v1h-1zM245 83h1v1h-1zM251 83h1v1h-1zM259 83h1v1h-1zM263 83h1v1h-1zM271 83h2v1h-2zM289 83h1v1h-1zM300 83h1v1h-1zM303 83h1v1h-1zM237 84h1v1h-1zM242 84h1v1h-1zM248 84h1v1h-1zM273 84h1v1h-1zM276 84h1v1h-1zM281 84h1v1h-1zM293 84h1v1h-1zM246 85h1v1h-1zM281 85h1v1h-1zM316 85h1v1h-1zM229 86h1v1h-1zM239 86h1v1h-1zM246 86h1v1h-1zM270 86h1v1h-1zM306 86h1v1h-1zM235 87h1v1h-1zM239 87h1v1h-1zM295 87h1v1h-1zM303 87h2v1h-2zM311 87h1v1h-1zM241 88h1v1h-1zM258 88h1v1h-1zM290 88h1v1h-1zM298 88h1v1h-1zM304 88h1v1h-1zM245 89h1v1h-1zM258 89h1v1h-1zM298 89h2v1h-2zM236 90h1v1h-1zM258 90h1v1h-1zM292 90h1v1h-1z"/><path fill="#818abb" d="M230 37h1v1h-1zM259 38h2v1h-2zM287 38h1v1h-1zM301 38h1v1h-1zM321 38h1v1h-1zM232 39h1v1h-1zM250 40h1v1h-1zM292 40h1v1h-1zM294 40h1v1h-1zM311 40h1v1h-1zM319 40h1v1h-1zM235 41h1v1h-1zM279 41h1v1h-1zM315 41h1v1h-1zM235 42h1v1h-1zM286 42h1v1h-1zM289 42h1v1h-1zM295 43h1v1h-1zM313 43h1v1h-1zM247 44h1v1h-1zM259 44h1v1h-1zM274 44h1v1h-1zM278 44h1v1h-1zM285 44h1v1h-1zM296 44h1v1h-1zM308 44h1v1h-1zM279 45h1v1h-1zM324 45h1v1h-1zM248 46h1v1h-1zM318 46h1v1h-1zM286 47h1v1h-1zM307 47h1v1h-1zM231 48h1v1h-1zM272 48h1v1h-1zM280 48h1v1h-1zM315 48h1v1h-1zM323 48h1v1h-1zM256 49h2v1h-2zM230 50h2v1h-2zM246 50h1v1h-1zM272 50h1v1h-1zM280 50h1v1h-1zM291 50h1v1h-1zM230 51h1v1h-1zM253 51h1v1h-1zM268 51h1v1h-1zM289 51h1v1h-1zM295 51h1v1h-1zM312 51h1v1h-1zM235 52h1v1h-1zM244 52h1v1h-1zM260 52h1v1h-1zM308 52h1v1h-1zM231 53h1v1h-1zM256 53h1v1h-1zM285 53h1v1h-1zM308 53h1v1h-1zM232 54h1v1h-1zM244 54h2v1h-2zM248 54h1v1h-1zM257 54h1v1h-1zM316 54h1v1h-1zM319 54h1v1h-1zM242 55h1v1h-1zM260 55h1v1h-1zM264 55h1v1h-1zM315 55h1v1h-1zM242 56h1v1h-1zM244 56h1v1h-1zM258 56h1v1h-1zM240 57h1v1h-1zM242 57h1v1h-1zM244 57h1v1h-1zM252 57h2v1h-2zM255 57h1v1h-1zM296 57h1v1h-1zM322 57h1v1h-1zM261 58h1v1h-1zM305 58h1v1h-1zM313 58h1v1h-1zM325 58h1v1h-1zM238 60h1v1h-1zM250 60h2v1h-2zM256 60h1v1h-1zM268 60h1v1h-1zM289 60h1v1h-1zM243 61h1v1h-1zM260 61h1v1h-1zM281 61h1v1h-1zM289 61h1v1h-1zM296 61h1v1h-1zM251 62h1v1h-1zM261 62h1v1h-1zM278 62h1v1h-1zM301 62h1v1h-1zM311 62h1v1h-1zM320 62h1v1h-1zM258 63h1v1h-1zM262 63h1v1h-1zM284 63h1v1h-1zM290 63h1v1h-1zM304 63h1v1h-1zM240 64h1v1h-1zM290 64h1v1h-1zM306 64h1v1h-1zM321 64h1v1h-1zM236 65h1v1h-1zM241 65h1v1h-1zM247 65h1v1h-1zM269 65h1v1h-1zM230 66h1v1h-1zM255 66h1v1h-1zM293 66h1v1h-1zM295 66h1v1h-1zM298 66h1v1h-1zM317 66h2v1h-2zM232 67h1v1h-1zM237 68h1v1h-1zM243 68h1v1h-1zM265 68h1v1h-1zM300 68h1v1h-1zM314 68h1v1h-1zM242 69h1v1h-1zM257 69h1v1h-1zM270 69h1v1h-1zM293 69h1v1h-1zM301 69h1v1h-1zM304 69h1v1h-1zM319 69h1v1h-1zM323 69h1v1h-1zM232 70h1v1h-1zM297 70h1v1h-1zM319 70h1v1h-1zM309 71h1v1h-1zM229 72h1v1h-1zM238 72h1v1h-1zM240 72h1v1h-1zM276 72h1v1h-1zM238 73h1v1h-1zM243 73h1v1h-1zM258 73h1v1h-1zM261 73h1v1h-1zM256 74h1v1h-1zM310 74h1v1h-1zM320 74h1v1h-1zM257 75h1v1h-1zM293 75h1v1h-1zM323 75h1v1h-1zM246 76h1v1h-1zM252 76h1v1h-1zM267 76h1v1h-1zM269 76h1v1h-1zM272 76h1v1h-1zM290 76h1v1h-1zM323 76h1v1h-1zM297 77h1v1h-1zM269 78h1v1h-1zM267 79h1v1h-1zM289 79h1v1h-1zM267 80h1v1h-1zM271 80h1v1h-1zM266 81h1v1h-1zM322 81h1v1h-1zM241 82h1v1h-1zM268 82h1v1h-1zM273 82h1v1h-1zM291 82h1v1h-1zM293 82h1v1h-1zM299 82h1v1h-1zM301 83h1v1h-1zM240 84h1v1h-1zM259 84h3v1h-3zM267 84h1v1h-1zM300 84h1v1h-1zM238 85h1v1h-1zM243 85h1v1h-1zM248 85h1v1h-1zM252 85h1v1h-1zM264 86h1v1h-1zM288 86h1v1h-1zM245 87h1v1h-1zM256 87h1v1h-1zM292 87h1v1h-1zM299 87h1v1h-1zM240 88h1v1h-1zM254 88h1v1h-1zM266 88h1v1h-1zM297 88h1v1h-1zM237 89h1v1h-1zM255 89h1v1h-1zM268 89h1v1h-1zM310 89h1v1h-1zM320 89h1v1h-1zM325 89h1v1h-1zM246 90h1v1h-1zM260 90h1v1h-1zM291 90h1v1h-1zM306 90h1v1h-1zM317 90h1v1h-1zM324 90h1v1h-1z"/><path fill="#798ac6" d="M242 38h2v1h-2zM297 38h1v1h-1zM322 38h1v1h-1zM241 39h1v1h-1zM244 39h1v1h-1zM297 39h1v1h-1zM278 40h1v1h-1zM295 40h1v1h-1zM306 40h1v1h-1zM240 41h1v1h-1zM271 41h1v1h-1zM294 41h1v1h-1zM313 41h1v1h-1zM319 41h1v1h-1zM233 42h1v1h-1zM250 42h1v1h-1zM271 42h1v1h-1zM320 42h1v1h-1zM323 42h1v1h-1zM303 43h1v1h-1zM252 44h1v1h-1zM322 44h1v1h-1zM233 45h2v1h-2zM254 45h1v1h-1zM289 45h1v1h-1zM289 46h1v1h-1zM311 47h1v1h-1zM235 49h1v1h-1zM245 49h1v1h-1zM306 49h1v1h-1zM250 50h1v1h-1zM256 50h1v1h-1zM266 50h1v1h-1zM274 50h1v1h-1zM290 50h1v1h-1zM229 51h1v1h-1zM280 51h1v1h-1zM292 51h1v1h-1zM249 53h1v1h-1zM252 53h1v1h-1zM281 53h1v1h-1zM290 53h1v1h-1zM252 55h1v1h-1zM262 55h1v1h-1zM300 56h1v1h-1zM306 56h1v1h-1zM260 57h1v1h-1zM288 57h1v1h-1zM310 57h1v1h-1zM250 58h1v1h-1zM253 58h1v1h-1zM311 58h1v1h-1zM252 60h1v1h-1zM288 60h1v1h-1zM312 60h1v1h-1zM233 61h1v1h-1zM302 61h1v1h-1zM233 62h1v1h-1zM239 62h1v1h-1zM310 62h1v1h-1zM252 63h1v1h-1zM257 63h1v1h-1zM272 63h2v1h-2zM325 63h1v1h-1zM232 64h1v1h-1zM254 64h1v1h-1zM262 64h1v1h-1zM315 64h2v1h-2zM320 64h1v1h-1zM297 65h1v1h-1zM320 65h1v1h-1zM234 66h1v1h-1zM283 66h1v1h-1zM260 67h1v1h-1zM267 67h1v1h-1zM269 67h1v1h-1zM310 67h1v1h-1zM288 68h1v1h-1zM243 69h1v1h-1zM275 69h1v1h-1zM241 70h1v1h-1zM267 70h1v1h-1zM293 70h1v1h-1zM296 70h1v1h-1zM259 71h1v1h-1zM244 72h1v1h-1zM283 72h1v1h-1zM291 72h1v1h-1zM298 72h1v1h-1zM313 72h1v1h-1zM295 74h1v1h-1zM244 75h1v1h-1zM252 75h1v1h-1zM260 75h1v1h-1zM268 75h1v1h-1zM254 76h1v1h-1zM264 76h1v1h-1zM288 76h1v1h-1zM295 76h1v1h-1zM234 77h1v1h-1zM286 77h1v1h-1zM290 77h1v1h-1zM300 77h1v1h-1zM296 78h1v1h-1zM247 79h1v1h-1zM236 80h1v1h-1zM239 80h1v1h-1zM244 81h1v1h-1zM257 81h1v1h-1zM267 81h1v1h-1zM269 81h2v1h-2zM288 81h1v1h-1zM291 81h2v1h-2zM259 82h1v1h-1zM286 82h1v1h-1zM239 83h1v1h-1zM302 83h1v1h-1zM262 84h1v1h-1zM272 84h1v1h-1zM286 84h1v1h-1zM303 84h1v1h-1zM275 86h1v1h-1zM292 86h1v1h-1zM258 87h1v1h-1zM267 87h1v1h-1zM296 87h1v1h-1zM246 88h1v1h-1zM309 88h1v1h-1zM316 88h1v1h-1zM244 89h1v1h-1zM251 89h1v1h-1zM286 89h1v1h-1zM264 90h1v1h-1zM308 90h1v1h-1z"/><path fill="#91868e" d="M232 37h1v1h-1zM237 37h1v1h-1zM287 37h1v1h-1zM290 37h1v1h-1zM299 37h1v1h-1zM302 38h2v1h-2zM318 38h1v1h-1zM320 38h1v1h-1zM270 39h1v1h-1zM295 39h1v1h-1zM324 39h1v1h-1zM272 41h1v1h-1zM289 41h1v1h-1zM243 42h1v1h-1zM245 42h1v1h-1zM260 42h1v1h-1zM280 42h1v1h-1zM300 42h1v1h-1zM314 42h1v1h-1zM254 43h1v1h-1zM258 43h1v1h-1zM269 44h1v1h-1zM302 44h1v1h-1zM253 45h1v1h-1zM255 45h1v1h-1zM299 45h1v1h-1zM308 45h1v1h-1zM317 45h1v1h-1zM245 46h1v1h-1zM306 46h1v1h-1zM313 46h1v1h-1zM233 47h1v1h-1zM249 47h1v1h-1zM251 47h1v1h-1zM277 47h1v1h-1zM253 48h1v1h-1zM281 48h1v1h-1zM307 48h1v1h-1zM263 49h1v1h-1zM283 49h1v1h-1zM307 49h1v1h-1zM251 50h1v1h-1zM255 50h1v1h-1zM262 50h1v1h-1zM315 50h1v1h-1zM259 51h1v1h-1zM256 52h1v1h-1zM322 52h1v1h-1zM310 53h1v1h-1zM259 54h2v1h-2zM315 54h1v1h-1zM244 55h2v1h-2zM292 55h2v1h-2zM281 56h1v1h-1zM299 56h1v1h-1zM244 58h1v1h-1zM314 58h1v1h-1zM291 59h1v1h-1zM318 59h1v1h-1zM263 60h1v1h-1zM248 61h1v1h-1zM318 61h1v1h-1zM297 62h1v1h-1zM304 62h1v1h-1zM315 62h1v1h-1zM293 63h1v1h-1zM298 63h1v1h-1zM321 63h1v1h-1zM236 64h1v1h-1zM246 64h1v1h-1zM306 65h1v1h-1zM241 66h1v1h-1zM291 66h1v1h-1zM300 66h1v1h-1zM240 67h1v1h-1zM300 67h1v1h-1zM303 67h1v1h-1zM317 67h1v1h-1zM247 68h1v1h-1zM324 68h1v1h-1zM311 69h1v1h-1zM318 69h1v1h-1zM321 69h1v1h-1zM295 70h1v1h-1zM302 70h1v1h-1zM262 71h1v1h-1zM275 71h1v1h-1zM323 71h1v1h-1zM271 72h1v1h-1zM301 72h1v1h-1zM246 73h1v1h-1zM285 73h1v1h-1zM262 74h1v1h-1zM293 74h2v1h-2zM314 74h1v1h-1zM241 76h1v1h-1zM292 76h1v1h-1zM294 76h1v1h-1zM298 76h1v1h-1zM241 77h1v1h-1zM272 77h1v1h-1zM292 77h1v1h-1zM308 77h1v1h-1zM287 78h1v1h-1zM294 78h1v1h-1zM310 78h1v1h-1zM325 78h1v1h-1zM244 79h1v1h-1zM281 79h1v1h-1zM311 79h1v1h-1zM230 80h1v1h-1zM259 80h1v1h-1zM246 81h1v1h-1zM259 81h1v1h-1zM288 82h1v1h-1zM298 82h1v1h-1zM244 83h1v1h-1zM267 83h1v1h-1zM253 84h1v1h-1zM265 84h1v1h-1zM295 84h1v1h-1zM308 84h1v1h-1zM318 84h1v1h-1zM321 84h1v1h-1zM272 85h1v1h-1zM319 85h1v1h-1zM230 86h1v1h-1zM250 87h1v1h-1zM313 87h1v1h-1zM323 87h1v1h-1zM232 88h1v1h-1zM325 88h1v1h-1zM254 90h1v1h-1zM303 90h1v1h-1zM319 90h1v1h-1zM321 90h1v1h-1z"/><path fill="#81839d" d="M241 37h1v1h-1zM259 37h2v1h-2zM239 38h1v1h-1zM319 38h1v1h-1zM319 39h1v1h-1zM232 40h1v1h-1zM301 40h1v1h-1zM323 40h1v1h-1zM233 41h1v1h-1zM245 41h1v1h-1zM250 41h2v1h-2zM287 41h1v1h-1zM295 41h1v1h-1zM298 41h1v1h-1zM269 42h1v1h-1zM294 42h1v1h-1zM302 42h1v1h-1zM310 42h1v1h-1zM271 43h1v1h-1zM284 43h1v1h-1zM296 43h1v1h-1zM306 43h1v1h-1zM229 44h1v1h-1zM236 44h2v1h-2zM257 44h1v1h-1zM252 45h1v1h-1zM269 45h1v1h-1zM273 45h1v1h-1zM240 46h1v1h-1zM273 46h1v1h-1zM285 46h1v1h-1zM316 46h1v1h-1zM319 46h1v1h-1zM324 46h1v1h-1zM275 47h1v1h-1zM292 47h1v1h-1zM323 47h1v1h-1zM254 48h1v1h-1zM256 48h2v1h-2zM284 48h1v1h-1zM295 48h1v1h-1zM312 48h1v1h-1zM233 49h1v1h-1zM236 49h1v1h-1zM253 49h1v1h-1zM266 49h1v1h-1zM284 49h1v1h-1zM317 49h1v1h-1zM235 50h1v1h-1zM263 50h1v1h-1zM251 51h1v1h-1zM256 51h1v1h-1zM290 51h1v1h-1zM237 52h1v1h-1zM249 52h1v1h-1zM255 52h1v1h-1zM281 52h1v1h-1zM245 53h1v1h-1zM296 53h2v1h-2zM319 53h1v1h-1zM240 54h1v1h-1zM258 54h1v1h-1zM265 54h1v1h-1zM294 54h1v1h-1zM313 54h1v1h-1zM233 55h1v1h-1zM253 55h1v1h-1zM269 55h1v1h-1zM294 55h1v1h-1zM248 56h1v1h-1zM253 56h1v1h-1zM255 56h1v1h-1zM304 56h1v1h-1zM311 56h1v1h-1zM292 57h1v1h-1zM312 57h2v1h-2zM246 58h1v1h-1zM255 58h1v1h-1zM293 58h1v1h-1zM317 58h1v1h-1zM320 58h1v1h-1zM324 58h1v1h-1zM245 59h1v1h-1zM249 59h1v1h-1zM254 59h1v1h-1zM260 59h1v1h-1zM280 59h1v1h-1zM282 59h1v1h-1zM301 59h1v1h-1zM304 59h1v1h-1zM321 59h1v1h-1zM324 59h1v1h-1zM231 60h1v1h-1zM248 60h1v1h-1zM273 60h1v1h-1zM296 60h1v1h-1zM304 60h1v1h-1zM235 61h1v1h-1zM249 61h1v1h-1zM256 61h1v1h-1zM264 61h1v1h-1zM286 61h1v1h-1zM290 61h1v1h-1zM237 62h1v1h-1zM244 62h1v1h-1zM262 62h1v1h-1zM266 62h1v1h-1zM232 63h1v1h-1zM295 63h1v1h-1zM233 64h1v1h-1zM247 64h1v1h-1zM307 64h1v1h-1zM262 65h1v1h-1zM288 65h1v1h-1zM299 65h1v1h-1zM303 65h3v1h-3zM313 65h1v1h-1zM231 67h1v1h-1zM241 67h1v1h-1zM283 67h2v1h-2zM296 67h1v1h-1zM321 67h1v1h-1zM297 68h1v1h-1zM310 68h1v1h-1zM262 69h1v1h-1zM274 69h1v1h-1zM285 69h1v1h-1zM262 70h1v1h-1zM301 70h1v1h-1zM320 70h1v1h-1zM234 71h1v1h-1zM267 71h1v1h-1zM270 71h2v1h-2zM243 72h1v1h-1zM275 72h1v1h-1zM294 72h1v1h-1zM234 74h1v1h-1zM254 74h1v1h-1zM289 74h1v1h-1zM317 74h1v1h-1zM253 75h1v1h-1zM261 75h1v1h-1zM285 75h1v1h-1zM319 75h1v1h-1zM243 76h1v1h-1zM248 76h1v1h-1zM258 76h1v1h-1zM271 76h1v1h-1zM273 76h1v1h-1zM300 76h1v1h-1zM305 76h1v1h-1zM273 77h1v1h-1zM257 78h1v1h-1zM266 78h1v1h-1zM315 78h1v1h-1zM262 79h1v1h-1zM280 79h1v1h-1zM305 79h1v1h-1zM280 80h1v1h-1zM325 80h1v1h-1zM230 81h1v1h-1zM274 81h1v1h-1zM253 82h1v1h-1zM256 82h1v1h-1zM275 82h1v1h-1zM289 82h1v1h-1zM296 82h1v1h-1zM307 82h1v1h-1zM261 83h1v1h-1zM275 83h1v1h-1zM287 83h1v1h-1zM229 84h2v1h-2zM236 84h1v1h-1zM268 84h1v1h-1zM230 85h2v1h-2zM237 85h1v1h-1zM249 85h1v1h-1zM256 85h1v1h-1zM274 86h1v1h-1zM299 86h1v1h-1zM272 87h1v1h-1zM281 87h1v1h-1zM312 87h1v1h-1zM315 87h2v1h-2zM300 88h1v1h-1zM310 88h1v1h-1zM321 88h1v1h-1zM254 89h1v1h-1zM264 89h1v1h-1zM322 89h1v1h-1zM239 90h1v1h-1zM250 90h1v1h-1zM298 90h1v1h-1z"/><path fill="#728ad0" d="M252 37h2v1h-2zM256 37h1v1h-1zM262 37h1v1h-1zM264 37h1v1h-1zM270 37h1v1h-1zM273 37h1v1h-1zM294 37h1v1h-1zM296 37h2v1h-2zM231 38h1v1h-1zM235 38h1v1h-1zM252 38h1v1h-1zM263 38h2v1h-2zM268 38h1v1h-1zM272 38h1v1h-1zM274 38h1v1h-1zM277 38h1v1h-1zM279 38h1v1h-1zM291 38h1v1h-1zM300 38h1v1h-1zM306 38h1v1h-1zM323 38h1v1h-1zM250 39h1v1h-1zM257 39h1v1h-1zM263 39h2v1h-2zM271 39h1v1h-1zM275 39h2v1h-2zM279 39h1v1h-1zM292 39h1v1h-1zM229 40h1v1h-1zM238 40h2v1h-2zM249 40h1v1h-1zM258 40h1v1h-1zM266 40h1v1h-1zM275 40h1v1h-1zM291 40h1v1h-1zM305 40h1v1h-1zM321 40h1v1h-1zM229 41h2v1h-2zM249 41h1v1h-1zM269 41h1v1h-1zM284 41h1v1h-1zM286 41h1v1h-1zM323 41h1v1h-1zM230 42h1v1h-1zM248 42h1v1h-1zM264 42h1v1h-1zM283 42h1v1h-1zM229 43h2v1h-2zM240 43h1v1h-1zM244 43h1v1h-1zM251 43h1v1h-1zM283 43h1v1h-1zM294 43h1v1h-1zM322 43h1v1h-1zM232 44h1v1h-1zM251 44h1v1h-1zM255 44h1v1h-1zM272 44h2v1h-2zM283 44h1v1h-1zM324 44h1v1h-1zM249 45h1v1h-1zM282 45h1v1h-1zM239 46h1v1h-1zM255 46h1v1h-1zM259 46h1v1h-1zM264 46h1v1h-1zM280 46h1v1h-1zM292 46h2v1h-2zM301 46h1v1h-1zM303 46h1v1h-1zM238 47h1v1h-1zM255 47h1v1h-1zM258 47h1v1h-1zM238 48h1v1h-1zM255 48h1v1h-1zM258 48h1v1h-1zM263 48h1v1h-1zM258 49h1v1h-1zM260 49h1v1h-1zM278 49h1v1h-1zM292 49h1v1h-1zM240 50h1v1h-1zM267 50h1v1h-1zM277 50h1v1h-1zM287 50h3v1h-3zM302 50h2v1h-2zM244 51h1v1h-1zM264 51h1v1h-1zM266 51h1v1h-1zM286 51h1v1h-1zM296 51h1v1h-1zM231 52h1v1h-1zM238 52h1v1h-1zM261 52h1v1h-1zM271 52h1v1h-1zM279 52h2v1h-2zM286 52h1v1h-1zM288 52h1v1h-1zM292 52h1v1h-1zM296 52h1v1h-1zM239 53h1v1h-1zM275 53h1v1h-1zM301 53h2v1h-2zM239 54h1v1h-1zM266 54h2v1h-2zM301 54h1v1h-1zM307 54h2v1h-2zM234 55h2v1h-2zM266 55h1v1h-1zM272 55h1v1h-1zM302 55h1v1h-1zM229 56h1v1h-1zM290 56h1v1h-1zM307 56h2v1h-2zM229 57h2v1h-2zM234 57h1v1h-1zM265 57h1v1h-1zM270 57h1v1h-1zM303 57h2v1h-2zM308 57h1v1h-1zM230 58h1v1h-1zM270 58h1v1h-1zM273 58h1v1h-1zM282 58h1v1h-1zM229 59h1v1h-1zM270 59h1v1h-1zM272 59h3v1h-3zM229 60h1v1h-1zM276 60h1v1h-1zM301 60h1v1h-1zM229 61h1v1h-1zM250 61h2v1h-2zM268 61h1v1h-1zM243 62h1v1h-1zM279 62h1v1h-1zM284 62h1v1h-1zM248 63h2v1h-2zM275 63h1v1h-1zM281 63h1v1h-1zM229 64h1v1h-1zM249 64h1v1h-1zM251 64h2v1h-2zM255 64h1v1h-1zM272 64h1v1h-1zM275 64h1v1h-1zM246 65h1v1h-1zM250 65h2v1h-2zM253 65h1v1h-1zM256 65h1v1h-1zM275 65h1v1h-1zM298 65h1v1h-1zM238 66h1v1h-1zM250 66h1v1h-1zM253 66h1v1h-1zM271 66h1v1h-1zM324 66h1v1h-1zM252 67h1v1h-1zM255 67h1v1h-1zM257 67h1v1h-1zM259 67h1v1h-1zM279 67h1v1h-1zM288 67h1v1h-1zM238 68h1v1h-1zM261 68h2v1h-2zM273 68h2v1h-2zM289 68h1v1h-1zM299 68h1v1h-1zM308 68h1v1h-1zM234 69h4v1h-4zM256 69h1v1h-1zM261 69h1v1h-1zM283 69h1v1h-1zM284 70h1v1h-1zM287 70h2v1h-2zM317 70h2v1h-2zM229 71h2v1h-2zM240 71h1v1h-1zM269 71h1v1h-1zM232 72h1v1h-1zM306 72h1v1h-1zM316 72h1v1h-1zM230 73h2v1h-2zM235 73h2v1h-2zM239 73h1v1h-1zM252 73h1v1h-1zM275 73h2v1h-2zM289 73h1v1h-1zM304 73h1v1h-1zM306 73h1v1h-1zM236 74h2v1h-2zM251 74h1v1h-1zM258 74h2v1h-2zM275 74h1v1h-1zM321 74h1v1h-1zM237 75h2v1h-2zM251 75h1v1h-1zM280 75h4v1h-4zM287 75h1v1h-1zM303 75h1v1h-1zM237 76h2v1h-2zM250 76h2v1h-2zM259 76h1v1h-1zM281 76h3v1h-3zM238 77h1v1h-1zM235 78h1v1h-1zM251 78h1v1h-1zM234 79h1v1h-1zM256 79h1v1h-1zM275 79h1v1h-1zM234 80h1v1h-1zM237 80h1v1h-1zM240 80h1v1h-1zM246 80h4v1h-4zM275 80h1v1h-1zM283 80h1v1h-1zM286 80h1v1h-1zM301 80h1v1h-1zM316 80h1v1h-1zM234 81h3v1h-3zM253 81h1v1h-1zM280 81h2v1h-2zM283 81h1v1h-1zM285 81h1v1h-1zM230 82h2v1h-2zM235 82h2v1h-2zM238 82h1v1h-1zM248 82h1v1h-1zM250 82h2v1h-2zM285 82h1v1h-1zM231 83h1v1h-1zM237 83h1v1h-1zM241 83h1v1h-1zM248 83h1v1h-1zM256 83h1v1h-1zM276 83h2v1h-2zM279 83h2v1h-2zM285 83h1v1h-1zM304 83h2v1h-2zM311 83h3v1h-3zM239 84h1v1h-1zM241 84h1v1h-1zM271 84h1v1h-1zM280 84h1v1h-1zM304 84h2v1h-2zM229 85h1v1h-1zM262 85h1v1h-1zM279 85h2v1h-2zM287 85h1v1h-1zM244 86h2v1h-2zM278 86h1v1h-1zM281 86h1v1h-1zM286 86h2v1h-2zM305 86h1v1h-1zM307 86h1v1h-1zM242 87h1v1h-1zM285 87h2v1h-2zM305 87h2v1h-2zM276 88h1v1h-1zM278 88h1v1h-1zM282 88h1v1h-1zM307 88h2v1h-2zM287 89h1v1h-1zM289 89h1v1h-1zM309 89h1v1h-1zM244 90h1v1h-1zM274 90h1v1h-1zM276 90h3v1h-3zM285 90h2v1h-2zM299 90h1v1h-1zM312 90h1v1h-1z"/><path fill="#6e81c1" d="M231 37h1v1h-1zM249 37h1v1h-1zM251 37h1v1h-1zM266 37h4v1h-4zM272 37h1v1h-1zM274 37h1v1h-1zM278 37h1v1h-1zM307 37h1v1h-1zM230 38h1v1h-1zM250 38h2v1h-2zM253 38h4v1h-4zM262 38h1v1h-1zM267 38h1v1h-1zM273 38h1v1h-1zM278 38h1v1h-1zM284 38h1v1h-1zM305 38h1v1h-1zM251 39h6v1h-6zM267 39h1v1h-1zM274 39h1v1h-1zM277 39h2v1h-2zM283 39h1v1h-1zM290 39h2v1h-2zM254 40h1v1h-1zM256 40h1v1h-1zM262 40h2v1h-2zM270 40h1v1h-1zM276 40h1v1h-1zM279 40h2v1h-2zM285 40h1v1h-1zM290 40h1v1h-1zM320 40h1v1h-1zM263 41h1v1h-1zM283 41h1v1h-1zM231 42h1v1h-1zM251 42h1v1h-1zM256 42h1v1h-1zM263 42h1v1h-1zM276 42h1v1h-1zM284 42h1v1h-1zM298 42h2v1h-2zM231 43h1v1h-1zM256 43h1v1h-1zM273 43h1v1h-1zM278 43h1v1h-1zM281 43h2v1h-2zM286 43h1v1h-1zM289 43h1v1h-1zM309 43h1v1h-1zM254 44h1v1h-1zM256 44h1v1h-1zM291 44h2v1h-2zM295 44h1v1h-1zM264 45h1v1h-1zM281 45h1v1h-1zM292 45h1v1h-1zM294 45h1v1h-1zM305 45h1v1h-1zM266 46h1v1h-1zM281 46h2v1h-2zM279 47h2v1h-2zM291 47h1v1h-1zM301 47h3v1h-3zM260 48h3v1h-3zM276 48h1v1h-1zM279 48h1v1h-1zM298 48h1v1h-1zM238 49h1v1h-1zM240 49h1v1h-1zM259 49h1v1h-1zM261 49h1v1h-1zM279 49h1v1h-1zM303 49h1v1h-1zM229 50h1v1h-1zM236 50h1v1h-1zM252 50h1v1h-1zM260 50h2v1h-2zM295 50h2v1h-2zM305 50h1v1h-1zM238 51h2v1h-2zM261 51h1v1h-1zM272 51h1v1h-1zM302 51h1v1h-1zM262 52h1v1h-1zM301 52h1v1h-1zM244 53h1v1h-1zM287 53h1v1h-1zM300 53h1v1h-1zM304 53h1v1h-1zM271 54h2v1h-2zM275 54h1v1h-1zM300 54h1v1h-1zM236 55h1v1h-1zM265 55h1v1h-1zM267 55h1v1h-1zM273 55h2v1h-2zM280 55h1v1h-1zM269 56h3v1h-3zM273 56h2v1h-2zM279 56h1v1h-1zM262 57h1v1h-1zM266 57h1v1h-1zM235 58h1v1h-1zM262 58h1v1h-1zM264 58h1v1h-1zM280 58h1v1h-1zM287 58h1v1h-1zM303 58h1v1h-1zM275 59h2v1h-2zM302 60h1v1h-1zM309 60h1v1h-1zM276 61h1v1h-1zM301 61h1v1h-1zM310 61h1v1h-1zM229 62h1v1h-1zM250 62h1v1h-1zM259 63h1v1h-1zM283 63h1v1h-1zM308 63h1v1h-1zM245 64h1v1h-1zM277 64h2v1h-2zM271 65h1v1h-1zM276 65h1v1h-1zM324 65h1v1h-1zM247 66h1v1h-1zM249 66h1v1h-1zM265 66h1v1h-1zM274 66h1v1h-1zM281 66h1v1h-1zM310 66h1v1h-1zM312 66h1v1h-1zM253 67h1v1h-1zM274 67h1v1h-1zM306 67h1v1h-1zM309 67h1v1h-1zM316 67h1v1h-1zM232 68h1v1h-1zM239 68h1v1h-1zM277 68h1v1h-1zM305 68h1v1h-1zM273 69h1v1h-1zM288 69h1v1h-1zM233 70h1v1h-1zM255 70h2v1h-2zM270 70h2v1h-2zM273 70h1v1h-1zM279 70h1v1h-1zM283 70h1v1h-1zM286 70h1v1h-1zM273 71h1v1h-1zM282 71h3v1h-3zM289 71h1v1h-1zM306 71h1v1h-1zM235 72h1v1h-1zM254 72h1v1h-1zM265 72h1v1h-1zM281 72h2v1h-2zM288 72h2v1h-2zM302 72h1v1h-1zM304 72h2v1h-2zM233 73h1v1h-1zM263 73h1v1h-1zM274 73h1v1h-1zM297 73h1v1h-1zM301 73h1v1h-1zM305 73h1v1h-1zM311 73h1v1h-1zM231 74h1v1h-1zM243 74h1v1h-1zM250 74h1v1h-1zM272 74h1v1h-1zM274 74h1v1h-1zM283 74h1v1h-1zM304 74h2v1h-2zM311 74h1v1h-1zM284 75h1v1h-1zM310 75h1v1h-1zM239 76h1v1h-1zM249 76h1v1h-1zM301 76h1v1h-1zM310 76h2v1h-2zM229 77h1v1h-1zM239 77h1v1h-1zM249 77h3v1h-3zM253 77h1v1h-1zM307 77h1v1h-1zM231 78h1v1h-1zM250 78h1v1h-1zM276 78h1v1h-1zM286 78h1v1h-1zM290 78h1v1h-1zM314 78h1v1h-1zM316 78h1v1h-1zM232 79h2v1h-2zM250 79h2v1h-2zM279 79h1v1h-1zM314 79h1v1h-1zM250 80h1v1h-1zM256 80h1v1h-1zM278 80h2v1h-2zM323 80h2v1h-2zM241 81h2v1h-2zM256 81h1v1h-1zM275 81h1v1h-1zM277 81h1v1h-1zM279 81h1v1h-1zM282 81h1v1h-1zM284 81h1v1h-1zM309 81h1v1h-1zM252 82h1v1h-1zM274 82h1v1h-1zM276 82h2v1h-2zM280 82h1v1h-1zM301 82h1v1h-1zM313 82h1v1h-1zM321 82h1v1h-1zM230 83h1v1h-1zM232 83h1v1h-1zM235 83h1v1h-1zM257 83h1v1h-1zM278 83h1v1h-1zM288 83h1v1h-1zM307 83h1v1h-1zM231 84h1v1h-1zM279 84h1v1h-1zM292 84h1v1h-1zM278 85h1v1h-1zM262 86h1v1h-1zM285 86h1v1h-1zM312 86h1v1h-1zM278 87h1v1h-1zM283 87h2v1h-2zM284 88h1v1h-1zM277 89h1v1h-1zM282 89h1v1h-1zM285 89h1v1h-1zM288 89h1v1h-1zM308 89h1v1h-1zM231 90h1v1h-1zM275 90h1v1h-1zM282 90h2v1h-2zM310 90h2v1h-2z"/><path fill="#88797c" d="M289 37h1v1h-1zM271 38h1v1h-1zM288 38h1v1h-1zM248 39h1v1h-1zM301 39h1v1h-1zM315 39h1v1h-1zM253 40h1v1h-1zM272 40h1v1h-1zM312 40h1v1h-1zM246 41h1v1h-1zM255 41h1v1h-1zM297 41h1v1h-1zM320 41h1v1h-1zM236 42h1v1h-1zM242 42h1v1h-1zM275 42h1v1h-1zM322 42h1v1h-1zM275 43h2v1h-2zM279 43h1v1h-1zM312 43h1v1h-1zM277 44h1v1h-1zM286 44h1v1h-1zM244 45h1v1h-1zM274 45h1v1h-1zM324 47h1v1h-1zM275 48h1v1h-1zM282 48h1v1h-1zM292 48h1v1h-1zM313 48h1v1h-1zM249 49h1v1h-1zM296 49h1v1h-1zM309 49h1v1h-1zM323 49h1v1h-1zM234 50h1v1h-1zM281 50h1v1h-1zM283 50h1v1h-1zM299 50h1v1h-1zM304 50h1v1h-1zM309 50h1v1h-1zM249 51h1v1h-1zM276 51h1v1h-1zM291 51h1v1h-1zM257 52h1v1h-1zM289 52h1v1h-1zM309 52h1v1h-1zM313 52h1v1h-1zM318 52h1v1h-1zM240 53h1v1h-1zM257 53h1v1h-1zM260 53h1v1h-1zM252 54h1v1h-1zM276 54h1v1h-1zM278 54h1v1h-1zM251 55h1v1h-1zM254 55h1v1h-1zM289 55h1v1h-1zM311 55h1v1h-1zM323 55h1v1h-1zM313 56h1v1h-1zM317 56h1v1h-1zM232 57h1v1h-1zM245 57h1v1h-1zM293 57h1v1h-1zM301 57h1v1h-1zM249 58h1v1h-1zM289 58h1v1h-1zM319 58h1v1h-1zM246 59h1v1h-1zM281 59h1v1h-1zM311 59h1v1h-1zM281 60h2v1h-2zM290 60h1v1h-1zM230 61h1v1h-1zM234 61h1v1h-1zM282 61h1v1h-1zM287 61h1v1h-1zM303 61h1v1h-1zM319 61h1v1h-1zM287 62h1v1h-1zM291 62h1v1h-1zM295 62h1v1h-1zM305 62h1v1h-1zM308 62h1v1h-1zM233 63h1v1h-1zM236 63h1v1h-1zM323 63h1v1h-1zM243 64h1v1h-1zM248 64h1v1h-1zM284 64h2v1h-2zM301 64h1v1h-1zM242 65h1v1h-1zM263 65h1v1h-1zM274 65h1v1h-1zM289 65h1v1h-1zM312 65h1v1h-1zM316 65h1v1h-1zM240 66h1v1h-1zM260 66h1v1h-1zM292 66h1v1h-1zM319 66h2v1h-2zM239 67h1v1h-1zM270 67h1v1h-1zM292 67h1v1h-1zM295 67h1v1h-1zM308 67h1v1h-1zM292 68h1v1h-1zM311 68h2v1h-2zM318 68h1v1h-1zM320 68h1v1h-1zM263 69h1v1h-1zM265 69h1v1h-1zM276 69h1v1h-1zM314 69h1v1h-1zM324 69h2v1h-2zM236 70h1v1h-1zM252 70h1v1h-1zM265 70h1v1h-1zM252 71h1v1h-1zM257 72h1v1h-1zM267 72h1v1h-1zM284 72h1v1h-1zM315 72h1v1h-1zM262 73h1v1h-1zM269 73h1v1h-1zM317 73h1v1h-1zM247 74h1v1h-1zM249 74h1v1h-1zM253 74h1v1h-1zM261 74h1v1h-1zM264 74h1v1h-1zM268 74h1v1h-1zM286 74h1v1h-1zM315 74h1v1h-1zM236 75h1v1h-1zM286 75h1v1h-1zM289 75h1v1h-1zM320 75h1v1h-1zM253 76h1v1h-1zM276 76h1v1h-1zM244 77h2v1h-2zM309 77h1v1h-1zM318 77h2v1h-2zM252 78h1v1h-1zM277 78h1v1h-1zM281 78h1v1h-1zM306 78h1v1h-1zM320 78h1v1h-1zM322 78h1v1h-1zM266 79h1v1h-1zM300 79h2v1h-2zM313 79h1v1h-1zM272 80h2v1h-2zM276 80h1v1h-1zM281 80h1v1h-1zM295 80h1v1h-1zM300 80h1v1h-1zM239 81h1v1h-1zM258 81h1v1h-1zM273 81h1v1h-1zM311 81h1v1h-1zM246 82h1v1h-1zM282 82h1v1h-1zM323 82h1v1h-1zM268 83h2v1h-2zM295 83h1v1h-1zM298 83h1v1h-1zM234 84h1v1h-1zM282 84h1v1h-1zM296 84h1v1h-1zM269 85h1v1h-1zM318 85h1v1h-1zM237 86h1v1h-1zM250 86h1v1h-1zM256 86h1v1h-1zM277 86h1v1h-1zM289 86h1v1h-1zM294 86h1v1h-1zM309 86h1v1h-1zM316 86h1v1h-1zM240 87h1v1h-1zM297 87h1v1h-1zM272 88h1v1h-1zM238 89h1v1h-1zM260 89h1v1h-1zM276 89h1v1h-1zM280 89h1v1h-1zM294 89h1v1h-1zM302 89h1v1h-1zM232 90h1v1h-1zM255 90h1v1h-1zM304 90h1v1h-1z"/><path fill="#777896" d="M257 37h2v1h-2zM285 37h1v1h-1zM298 37h1v1h-1zM301 37h1v1h-1zM309 37h1v1h-1zM319 37h1v1h-1zM323 37h1v1h-1zM312 38h2v1h-2zM316 38h1v1h-1zM234 39h1v1h-1zM308 39h1v1h-1zM240 40h1v1h-1zM255 40h1v1h-1zM261 40h1v1h-1zM274 40h1v1h-1zM298 40h2v1h-2zM310 40h1v1h-1zM322 40h1v1h-1zM234 41h1v1h-1zM281 41h1v1h-1zM307 41h1v1h-1zM314 41h1v1h-1zM285 42h1v1h-1zM321 42h1v1h-1zM257 43h1v1h-1zM261 43h1v1h-1zM314 43h1v1h-1zM238 44h1v1h-1zM240 44h2v1h-2zM253 44h1v1h-1zM262 44h1v1h-1zM284 44h1v1h-1zM257 45h1v1h-1zM280 45h1v1h-1zM283 45h1v1h-1zM322 45h1v1h-1zM231 46h1v1h-1zM256 46h3v1h-3zM287 46h1v1h-1zM291 46h1v1h-1zM294 46h1v1h-1zM310 46h1v1h-1zM268 47h1v1h-1zM273 48h1v1h-1zM302 48h1v1h-1zM305 48h1v1h-1zM317 48h1v1h-1zM231 49h1v1h-1zM234 49h1v1h-1zM246 49h1v1h-1zM281 49h1v1h-1zM299 49h1v1h-1zM301 49h1v1h-1zM313 49h1v1h-1zM324 49h1v1h-1zM279 50h1v1h-1zM292 50h1v1h-1zM300 50h1v1h-1zM317 50h1v1h-1zM242 51h1v1h-1zM246 51h1v1h-1zM250 51h1v1h-1zM265 51h1v1h-1zM294 51h1v1h-1zM301 51h1v1h-1zM311 51h1v1h-1zM323 51h1v1h-1zM258 52h1v1h-1zM265 52h1v1h-1zM276 53h1v1h-1zM278 53h1v1h-1zM321 53h1v1h-1zM235 54h1v1h-1zM262 54h1v1h-1zM312 54h1v1h-1zM318 54h1v1h-1zM232 55h1v1h-1zM243 55h1v1h-1zM285 55h1v1h-1zM298 55h1v1h-1zM288 56h1v1h-1zM275 57h1v1h-1zM237 58h1v1h-1zM258 58h1v1h-1zM296 58h1v1h-1zM300 58h1v1h-1zM316 58h1v1h-1zM241 59h1v1h-1zM251 59h1v1h-1zM255 59h1v1h-1zM266 59h1v1h-1zM278 59h1v1h-1zM296 59h1v1h-1zM316 59h1v1h-1zM267 60h1v1h-1zM292 60h1v1h-1zM283 61h1v1h-1zM281 62h1v1h-1zM313 62h1v1h-1zM317 62h1v1h-1zM229 63h1v1h-1zM240 63h1v1h-1zM264 63h1v1h-1zM297 63h1v1h-1zM310 63h1v1h-1zM250 64h1v1h-1zM257 64h1v1h-1zM264 64h1v1h-1zM270 64h1v1h-1zM287 64h1v1h-1zM303 64h1v1h-1zM308 64h1v1h-1zM314 64h1v1h-1zM232 65h1v1h-1zM240 65h1v1h-1zM248 65h1v1h-1zM255 65h1v1h-1zM264 65h1v1h-1zM282 65h1v1h-1zM292 65h1v1h-1zM229 66h1v1h-1zM237 66h1v1h-1zM244 66h1v1h-1zM263 66h1v1h-1zM270 66h1v1h-1zM279 66h1v1h-1zM290 66h1v1h-1zM296 66h1v1h-1zM302 66h1v1h-1zM321 66h1v1h-1zM237 67h1v1h-1zM249 67h1v1h-1zM263 68h1v1h-1zM285 68h2v1h-2zM296 68h1v1h-1zM307 68h1v1h-1zM230 70h2v1h-2zM254 70h1v1h-1zM259 70h1v1h-1zM261 70h1v1h-1zM282 70h1v1h-1zM294 70h1v1h-1zM254 71h1v1h-1zM276 71h1v1h-1zM278 71h1v1h-1zM311 71h1v1h-1zM319 71h1v1h-1zM242 72h1v1h-1zM253 72h1v1h-1zM300 72h1v1h-1zM253 73h1v1h-1zM315 73h1v1h-1zM321 73h1v1h-1zM269 74h1v1h-1zM306 74h1v1h-1zM322 74h1v1h-1zM235 75h1v1h-1zM236 76h1v1h-1zM245 76h1v1h-1zM265 76h1v1h-1zM278 76h1v1h-1zM289 76h1v1h-1zM309 76h1v1h-1zM235 77h1v1h-1zM248 77h1v1h-1zM268 77h1v1h-1zM299 77h1v1h-1zM310 77h1v1h-1zM242 78h1v1h-1zM260 78h1v1h-1zM273 78h1v1h-1zM278 78h1v1h-1zM284 78h1v1h-1zM229 79h1v1h-1zM245 79h1v1h-1zM258 79h1v1h-1zM260 79h1v1h-1zM265 79h1v1h-1zM290 79h1v1h-1zM315 79h1v1h-1zM233 80h1v1h-1zM241 80h1v1h-1zM252 80h1v1h-1zM266 80h1v1h-1zM284 80h1v1h-1zM296 80h1v1h-1zM307 80h1v1h-1zM263 81h1v1h-1zM301 81h1v1h-1zM243 82h1v1h-1zM260 82h1v1h-1zM290 82h1v1h-1zM240 83h1v1h-1zM273 83h2v1h-2zM306 83h1v1h-1zM318 83h1v1h-1zM247 84h1v1h-1zM270 84h1v1h-1zM285 84h1v1h-1zM288 84h1v1h-1zM309 84h1v1h-1zM240 85h2v1h-2zM253 85h1v1h-1zM305 85h1v1h-1zM243 86h1v1h-1zM258 86h1v1h-1zM261 86h1v1h-1zM268 86h1v1h-1zM282 86h2v1h-2zM310 86h1v1h-1zM315 86h1v1h-1zM241 87h1v1h-1zM288 87h2v1h-2zM320 87h1v1h-1zM257 88h1v1h-1zM259 88h1v1h-1zM264 88h1v1h-1zM267 88h1v1h-1zM288 88h2v1h-2zM301 88h1v1h-1zM235 89h1v1h-1zM240 89h1v1h-1zM246 89h1v1h-1zM303 89h2v1h-2zM257 90h1v1h-1zM289 90h1v1h-1zM309 90h1v1h-1z"/><path fill="#7b6b6f" d="M311 37h1v1h-1zM248 38h1v1h-1zM257 38h1v1h-1zM320 39h1v1h-1zM246 40h1v1h-1zM300 40h1v1h-1zM236 41h1v1h-1zM247 41h1v1h-1zM252 41h1v1h-1zM257 41h1v1h-1zM273 41h1v1h-1zM277 41h1v1h-1zM299 41h1v1h-1zM254 42h1v1h-1zM262 42h1v1h-1zM272 42h1v1h-1zM296 42h1v1h-1zM246 43h1v1h-1zM280 43h1v1h-1zM307 43h1v1h-1zM305 44h1v1h-1zM316 44h1v1h-1zM243 45h1v1h-1zM246 45h1v1h-1zM262 45h2v1h-2zM268 45h1v1h-1zM275 45h1v1h-1zM316 45h1v1h-1zM243 46h1v1h-1zM275 46h1v1h-1zM279 46h1v1h-1zM315 46h1v1h-1zM322 46h2v1h-2zM236 47h1v1h-1zM245 47h1v1h-1zM259 47h1v1h-1zM266 47h1v1h-1zM281 47h1v1h-1zM309 47h1v1h-1zM318 47h1v1h-1zM249 48h1v1h-1zM266 48h1v1h-1zM308 48h1v1h-1zM318 48h1v1h-1zM254 49h1v1h-1zM269 49h1v1h-1zM275 49h1v1h-1zM282 49h1v1h-1zM319 49h1v1h-1zM233 50h1v1h-1zM259 50h1v1h-1zM270 50h1v1h-1zM301 50h1v1h-1zM322 50h1v1h-1zM248 51h1v1h-1zM262 51h1v1h-1zM270 51h1v1h-1zM282 51h1v1h-1zM313 51h2v1h-2zM259 52h1v1h-1zM285 52h1v1h-1zM323 52h1v1h-1zM270 53h1v1h-1zM314 53h1v1h-1zM323 53h1v1h-1zM310 54h1v1h-1zM321 54h1v1h-1zM323 54h1v1h-1zM250 55h1v1h-1zM258 55h1v1h-1zM287 55h1v1h-1zM301 55h1v1h-1zM316 55h1v1h-1zM322 55h1v1h-1zM231 56h1v1h-1zM235 56h1v1h-1zM249 56h1v1h-1zM277 56h1v1h-1zM284 56h1v1h-1zM296 56h1v1h-1zM236 57h1v1h-1zM285 57h1v1h-1zM277 58h1v1h-1zM233 59h1v1h-1zM237 59h1v1h-1zM284 59h1v1h-1zM295 59h1v1h-1zM306 59h1v1h-1zM319 59h1v1h-1zM236 60h1v1h-1zM274 60h1v1h-1zM232 61h1v1h-1zM238 61h1v1h-1zM255 61h1v1h-1zM273 61h1v1h-1zM279 61h1v1h-1zM291 61h1v1h-1zM300 61h1v1h-1zM283 62h1v1h-1zM290 62h1v1h-1zM300 62h1v1h-1zM307 62h1v1h-1zM235 63h1v1h-1zM296 63h1v1h-1zM299 63h1v1h-1zM305 63h3v1h-3zM265 64h2v1h-2zM281 64h1v1h-1zM288 64h1v1h-1zM298 64h2v1h-2zM304 64h1v1h-1zM313 64h1v1h-1zM260 65h2v1h-2zM293 65h2v1h-2zM302 65h1v1h-1zM307 65h1v1h-1zM315 65h1v1h-1zM233 66h1v1h-1zM239 66h1v1h-1zM242 66h1v1h-1zM245 66h1v1h-1zM303 66h1v1h-1zM315 66h1v1h-1zM322 66h1v1h-1zM311 67h1v1h-1zM319 68h1v1h-1zM232 69h1v1h-1zM247 69h1v1h-1zM269 69h1v1h-1zM271 69h1v1h-1zM287 69h1v1h-1zM269 70h1v1h-1zM281 70h1v1h-1zM291 70h1v1h-1zM300 70h1v1h-1zM300 71h1v1h-1zM322 71h1v1h-1zM272 72h1v1h-1zM297 72h1v1h-1zM310 72h2v1h-2zM314 72h1v1h-1zM318 72h1v1h-1zM229 73h1v1h-1zM284 73h1v1h-1zM299 73h1v1h-1zM308 73h1v1h-1zM314 73h1v1h-1zM320 73h1v1h-1zM271 74h1v1h-1zM273 74h1v1h-1zM323 74h1v1h-1zM234 75h1v1h-1zM240 75h1v1h-1zM256 75h1v1h-1zM265 75h1v1h-1zM271 75h1v1h-1zM273 75h1v1h-1zM294 75h1v1h-1zM307 75h1v1h-1zM316 75h1v1h-1zM324 75h1v1h-1zM308 76h1v1h-1zM264 77h1v1h-1zM271 77h1v1h-1zM289 77h1v1h-1zM303 77h1v1h-1zM313 77h1v1h-1zM259 78h1v1h-1zM308 78h1v1h-1zM319 78h1v1h-1zM264 79h1v1h-1zM273 79h1v1h-1zM291 79h1v1h-1zM307 79h1v1h-1zM316 79h1v1h-1zM319 79h1v1h-1zM299 80h1v1h-1zM297 81h1v1h-1zM243 83h1v1h-1zM265 83h1v1h-1zM319 83h1v1h-1zM322 83h1v1h-1zM325 83h1v1h-1zM257 84h1v1h-1zM287 84h1v1h-1zM297 84h1v1h-1zM322 84h1v1h-1zM244 85h1v1h-1zM258 85h1v1h-1zM284 85h1v1h-1zM297 85h1v1h-1zM303 85h1v1h-1zM307 85h1v1h-1zM311 85h1v1h-1zM315 85h1v1h-1zM324 85h1v1h-1zM232 86h1v1h-1zM238 86h1v1h-1zM303 86h1v1h-1zM231 87h1v1h-1zM237 87h1v1h-1zM246 87h1v1h-1zM271 87h1v1h-1zM260 88h1v1h-1zM280 88h1v1h-1zM306 88h1v1h-1zM320 88h1v1h-1zM284 89h1v1h-1zM301 89h1v1h-1zM319 89h1v1h-1zM229 90h1v1h-1zM243 90h1v1h-1zM253 90h1v1h-1zM288 90h1v1h-1zM297 90h1v1h-1z"/><path fill="#6a76a8" d="M276 37h1v1h-1zM279 37h1v1h-1zM282 37h1v1h-1zM286 37h1v1h-1zM233 38h1v1h-1zM244 38h1v1h-1zM261 38h1v1h-1zM276 38h1v1h-1zM324 38h1v1h-1zM268 39h1v1h-1zM282 39h1v1h-1zM284 39h1v1h-1zM309 39h1v1h-1zM245 40h1v1h-1zM259 40h1v1h-1zM281 40h1v1h-1zM256 41h1v1h-1zM266 41h1v1h-1zM280 41h1v1h-1zM316 41h1v1h-1zM232 42h1v1h-1zM258 42h2v1h-2zM266 42h1v1h-1zM277 42h1v1h-1zM232 43h1v1h-1zM262 43h2v1h-2zM265 43h1v1h-1zM324 43h1v1h-1zM235 44h1v1h-1zM264 44h1v1h-1zM290 44h1v1h-1zM325 44h1v1h-1zM235 45h1v1h-1zM259 45h1v1h-1zM271 45h1v1h-1zM276 45h2v1h-2zM287 45h1v1h-1zM295 45h1v1h-1zM297 45h1v1h-1zM303 45h1v1h-1zM260 46h1v1h-1zM265 46h1v1h-1zM300 46h1v1h-1zM304 46h1v1h-1zM270 47h1v1h-1zM282 47h1v1h-1zM297 47h1v1h-1zM234 48h2v1h-2zM242 48h1v1h-1zM248 48h1v1h-1zM299 48h1v1h-1zM303 48h1v1h-1zM271 49h1v1h-1zM295 49h1v1h-1zM298 49h1v1h-1zM302 49h1v1h-1zM325 49h1v1h-1zM238 50h1v1h-1zM247 50h1v1h-1zM258 50h1v1h-1zM306 50h1v1h-1zM237 51h1v1h-1zM243 51h1v1h-1zM300 51h1v1h-1zM315 51h1v1h-1zM239 52h1v1h-1zM278 52h1v1h-1zM297 52h2v1h-2zM237 53h1v1h-1zM262 53h3v1h-3zM271 53h1v1h-1zM294 53h2v1h-2zM299 53h1v1h-1zM303 53h1v1h-1zM305 53h1v1h-1zM236 54h1v1h-1zM288 54h1v1h-1zM302 54h1v1h-1zM304 54h1v1h-1zM311 54h1v1h-1zM231 55h1v1h-1zM237 55h2v1h-2zM268 55h1v1h-1zM271 55h1v1h-1zM275 55h2v1h-2zM279 55h1v1h-1zM283 55h1v1h-1zM297 55h1v1h-1zM233 56h1v1h-1zM236 56h1v1h-1zM265 56h4v1h-4zM280 56h1v1h-1zM303 56h1v1h-1zM305 56h1v1h-1zM271 57h1v1h-1zM273 57h1v1h-1zM290 57h1v1h-1zM309 57h1v1h-1zM314 57h1v1h-1zM236 58h1v1h-1zM263 58h1v1h-1zM271 58h1v1h-1zM283 58h1v1h-1zM230 59h1v1h-1zM235 59h1v1h-1zM261 59h1v1h-1zM279 59h1v1h-1zM230 60h1v1h-1zM260 60h1v1h-1zM275 60h1v1h-1zM298 60h1v1h-1zM314 60h1v1h-1zM280 61h1v1h-1zM312 61h1v1h-1zM320 61h1v1h-1zM235 62h1v1h-1zM275 62h1v1h-1zM309 62h1v1h-1zM312 62h1v1h-1zM276 63h1v1h-1zM314 63h1v1h-1zM311 64h1v1h-1zM244 65h1v1h-1zM265 65h1v1h-1zM272 65h1v1h-1zM286 65h1v1h-1zM314 65h1v1h-1zM266 66h1v1h-1zM282 66h1v1h-1zM304 66h1v1h-1zM306 66h1v1h-1zM261 67h1v1h-1zM282 67h1v1h-1zM312 67h1v1h-1zM240 68h1v1h-1zM252 68h1v1h-1zM264 68h1v1h-1zM270 68h1v1h-1zM275 68h1v1h-1zM278 68h2v1h-2zM290 68h1v1h-1zM315 68h1v1h-1zM233 69h1v1h-1zM278 69h1v1h-1zM299 69h1v1h-1zM258 70h1v1h-1zM276 70h1v1h-1zM280 70h1v1h-1zM310 70h1v1h-1zM316 70h1v1h-1zM238 71h1v1h-1zM244 71h1v1h-1zM264 71h1v1h-1zM274 71h1v1h-1zM277 71h1v1h-1zM287 71h1v1h-1zM317 71h1v1h-1zM320 71h1v1h-1zM233 72h2v1h-2zM263 72h1v1h-1zM266 72h1v1h-1zM287 72h1v1h-1zM299 72h1v1h-1zM317 72h1v1h-1zM247 73h1v1h-1zM265 73h1v1h-1zM290 73h1v1h-1zM300 73h1v1h-1zM309 73h1v1h-1zM313 73h1v1h-1zM235 74h1v1h-1zM252 74h1v1h-1zM265 74h1v1h-1zM270 74h1v1h-1zM303 74h1v1h-1zM259 75h1v1h-1zM264 75h1v1h-1zM269 75h1v1h-1zM276 75h1v1h-1zM304 75h1v1h-1zM308 75h1v1h-1zM312 76h1v1h-1zM230 77h2v1h-2zM236 77h1v1h-1zM240 77h1v1h-1zM247 77h1v1h-1zM276 77h1v1h-1zM304 77h1v1h-1zM306 77h1v1h-1zM229 78h1v1h-1zM232 78h1v1h-1zM256 78h1v1h-1zM279 78h1v1h-1zM302 78h1v1h-1zM311 78h1v1h-1zM259 79h1v1h-1zM274 79h1v1h-1zM278 79h1v1h-1zM284 79h1v1h-1zM325 79h1v1h-1zM242 80h1v1h-1zM274 80h1v1h-1zM302 80h1v1h-1zM306 80h1v1h-1zM233 81h1v1h-1zM250 81h1v1h-1zM278 81h1v1h-1zM320 81h1v1h-1zM242 82h1v1h-1zM279 82h1v1h-1zM310 82h2v1h-2zM229 83h1v1h-1zM234 83h1v1h-1zM255 83h1v1h-1zM283 83h1v1h-1zM267 85h1v1h-1zM275 85h1v1h-1zM286 85h1v1h-1zM288 85h1v1h-1zM301 85h1v1h-1zM234 86h1v1h-1zM241 86h1v1h-1zM263 86h1v1h-1zM269 86h1v1h-1zM271 86h1v1h-1zM308 86h1v1h-1zM230 87h1v1h-1zM234 87h1v1h-1zM243 87h1v1h-1zM262 87h1v1h-1zM276 87h1v1h-1zM280 87h1v1h-1zM282 87h1v1h-1zM287 87h1v1h-1zM294 87h1v1h-1zM308 87h1v1h-1zM277 88h1v1h-1zM281 88h1v1h-1zM287 88h1v1h-1zM305 88h1v1h-1zM275 89h1v1h-1zM278 89h1v1h-1zM291 89h1v1h-1zM306 89h1v1h-1zM237 90h1v1h-1zM281 90h1v1h-1zM287 90h1v1h-1zM313 90h1v1h-1z"/><path fill="#725e5a" d="M324 37h1v1h-1zM229 38h1v1h-1zM241 38h1v1h-1zM295 38h1v1h-1zM238 39h2v1h-2zM259 39h1v1h-1zM265 39h2v1h-2zM293 39h1v1h-1zM313 39h1v1h-1zM318 39h1v1h-1zM323 39h1v1h-1zM252 40h1v1h-1zM265 40h1v1h-1zM273 40h1v1h-1zM309 40h1v1h-1zM313 40h1v1h-1zM253 41h1v1h-1zM268 41h1v1h-1zM309 41h1v1h-1zM321 41h1v1h-1zM234 42h1v1h-1zM297 42h1v1h-1zM307 42h1v1h-1zM264 43h1v1h-1zM269 43h1v1h-1zM292 43h1v1h-1zM316 43h1v1h-1zM265 44h1v1h-1zM275 44h1v1h-1zM309 44h1v1h-1zM265 45h1v1h-1zM309 45h1v1h-1zM313 45h1v1h-1zM237 46h1v1h-1zM244 46h1v1h-1zM278 46h1v1h-1zM284 46h1v1h-1zM296 46h1v1h-1zM231 47h1v1h-1zM272 47h1v1h-1zM285 47h1v1h-1zM298 47h1v1h-1zM308 47h1v1h-1zM317 47h1v1h-1zM320 47h1v1h-1zM278 48h1v1h-1zM283 48h1v1h-1zM300 48h2v1h-2zM314 48h1v1h-1zM320 48h1v1h-1zM237 49h1v1h-1zM251 49h1v1h-1zM262 49h1v1h-1zM268 49h1v1h-1zM276 49h1v1h-1zM265 50h1v1h-1zM298 50h1v1h-1zM281 51h1v1h-1zM317 51h2v1h-2zM290 52h1v1h-1zM312 52h1v1h-1zM272 53h1v1h-1zM277 53h1v1h-1zM306 53h1v1h-1zM309 53h1v1h-1zM263 54h1v1h-1zM255 55h1v1h-1zM259 55h1v1h-1zM305 55h1v1h-1zM232 56h1v1h-1zM254 56h1v1h-1zM276 56h1v1h-1zM278 56h1v1h-1zM315 56h1v1h-1zM319 56h1v1h-1zM284 57h1v1h-1zM286 57h1v1h-1zM306 57h1v1h-1zM243 58h1v1h-1zM278 58h1v1h-1zM269 59h1v1h-1zM289 59h2v1h-2zM300 59h1v1h-1zM237 60h1v1h-1zM249 60h1v1h-1zM264 60h1v1h-1zM293 60h1v1h-1zM318 60h1v1h-1zM237 61h1v1h-1zM316 61h1v1h-1zM232 62h1v1h-1zM293 62h1v1h-1zM314 62h1v1h-1zM231 63h1v1h-1zM251 63h1v1h-1zM288 63h2v1h-2zM294 63h1v1h-1zM231 64h1v1h-1zM289 64h1v1h-1zM292 64h1v1h-1zM300 65h1v1h-1zM318 65h1v1h-1zM325 65h1v1h-1zM259 66h1v1h-1zM307 67h1v1h-1zM319 67h1v1h-1zM284 68h1v1h-1zM303 68h1v1h-1zM255 69h1v1h-1zM277 69h1v1h-1zM286 69h1v1h-1zM302 69h1v1h-1zM313 69h1v1h-1zM263 70h1v1h-1zM311 70h1v1h-1zM232 71h1v1h-1zM236 71h1v1h-1zM241 71h1v1h-1zM253 71h1v1h-1zM258 72h1v1h-1zM269 72h1v1h-1zM280 72h1v1h-1zM250 73h1v1h-1zM298 73h1v1h-1zM322 73h1v1h-1zM244 74h1v1h-1zM246 74h1v1h-1zM312 74h1v1h-1zM258 75h1v1h-1zM230 76h1v1h-1zM293 76h1v1h-1zM306 76h1v1h-1zM255 77h1v1h-1zM230 78h1v1h-1zM245 78h1v1h-1zM307 78h1v1h-1zM241 79h1v1h-1zM249 79h1v1h-1zM269 79h1v1h-1zM287 79h1v1h-1zM304 79h1v1h-1zM231 80h1v1h-1zM277 80h1v1h-1zM291 80h1v1h-1zM303 80h1v1h-1zM309 80h1v1h-1zM320 80h1v1h-1zM245 81h1v1h-1zM252 81h1v1h-1zM295 81h1v1h-1zM298 81h1v1h-1zM232 82h1v1h-1zM239 82h1v1h-1zM244 82h2v1h-2zM292 82h1v1h-1zM236 83h1v1h-1zM309 83h2v1h-2zM314 83h1v1h-1zM233 84h1v1h-1zM310 84h1v1h-1zM242 85h1v1h-1zM308 85h1v1h-1zM325 85h1v1h-1zM236 86h1v1h-1zM242 86h1v1h-1zM265 86h2v1h-2zM297 86h1v1h-1zM319 87h1v1h-1zM325 87h1v1h-1zM237 88h1v1h-1zM315 88h1v1h-1zM229 89h1v1h-1zM247 89h1v1h-1zM266 89h1v1h-1zM279 89h1v1h-1zM318 89h1v1h-1zM249 90h1v1h-1zM266 90h1v1h-1zM301 90h1v1h-1z"/><path fill="#705448" d="M229 37h1v1h-1zM238 37h1v1h-1zM243 37h1v1h-1zM302 37h1v1h-1zM310 37h1v1h-1zM314 37h1v1h-1zM234 38h1v1h-1zM240 38h1v1h-1zM258 38h1v1h-1zM266 38h1v1h-1zM280 38h1v1h-1zM296 38h1v1h-1zM229 39h1v1h-1zM231 39h1v1h-1zM296 39h1v1h-1zM321 39h2v1h-2zM287 40h1v1h-1zM314 40h1v1h-1zM312 41h1v1h-1zM315 42h2v1h-2zM300 43h1v1h-1zM315 43h1v1h-1zM242 44h1v1h-1zM261 44h1v1h-1zM276 44h1v1h-1zM287 44h1v1h-1zM298 44h1v1h-1zM229 45h1v1h-1zM236 45h1v1h-1zM242 45h1v1h-1zM278 45h1v1h-1zM323 45h1v1h-1zM230 46h1v1h-1zM236 46h1v1h-1zM268 46h1v1h-1zM309 46h1v1h-1zM265 47h1v1h-1zM244 48h1v1h-1zM304 48h1v1h-1zM319 48h1v1h-1zM325 48h1v1h-1zM242 49h1v1h-1zM285 49h1v1h-1zM304 49h1v1h-1zM321 49h1v1h-1zM249 50h1v1h-1zM282 50h1v1h-1zM310 50h1v1h-1zM313 50h1v1h-1zM324 50h1v1h-1zM304 51h1v1h-1zM250 52h1v1h-1zM272 52h1v1h-1zM276 52h1v1h-1zM299 52h1v1h-1zM305 52h1v1h-1zM316 52h1v1h-1zM232 53h1v1h-1zM234 53h1v1h-1zM273 53h1v1h-1zM324 53h1v1h-1zM230 54h1v1h-1zM251 54h1v1h-1zM293 54h1v1h-1zM309 54h1v1h-1zM322 54h1v1h-1zM324 54h1v1h-1zM288 55h1v1h-1zM304 55h1v1h-1zM306 55h1v1h-1zM319 55h1v1h-1zM321 55h1v1h-1zM234 56h1v1h-1zM243 56h1v1h-1zM283 56h1v1h-1zM289 56h1v1h-1zM324 56h1v1h-1zM237 57h1v1h-1zM254 57h1v1h-1zM241 58h2v1h-2zM285 58h2v1h-2zM294 58h1v1h-1zM306 58h1v1h-1zM236 59h1v1h-1zM250 59h1v1h-1zM277 59h1v1h-1zM317 59h1v1h-1zM322 59h2v1h-2zM233 60h1v1h-1zM316 60h1v1h-1zM244 61h1v1h-1zM288 62h1v1h-1zM296 62h1v1h-1zM306 62h1v1h-1zM321 62h1v1h-1zM230 63h1v1h-1zM241 63h1v1h-1zM254 63h1v1h-1zM282 63h1v1h-1zM322 63h1v1h-1zM282 64h1v1h-1zM291 64h1v1h-1zM296 64h1v1h-1zM302 64h1v1h-1zM322 64h1v1h-1zM259 65h1v1h-1zM270 65h1v1h-1zM281 65h1v1h-1zM301 65h1v1h-1zM311 65h1v1h-1zM232 66h1v1h-1zM285 66h1v1h-1zM299 66h1v1h-1zM301 66h1v1h-1zM325 66h1v1h-1zM235 67h1v1h-1zM251 67h1v1h-1zM272 67h1v1h-1zM297 67h1v1h-1zM318 67h1v1h-1zM255 68h1v1h-1zM283 68h1v1h-1zM302 68h1v1h-1zM252 69h1v1h-1zM303 69h1v1h-1zM308 69h1v1h-1zM312 69h1v1h-1zM257 70h1v1h-1zM298 70h1v1h-1zM290 71h1v1h-1zM303 71h1v1h-1zM316 71h1v1h-1zM324 71h1v1h-1zM241 72h1v1h-1zM274 72h1v1h-1zM279 72h1v1h-1zM268 73h1v1h-1zM319 74h1v1h-1zM305 75h2v1h-2zM315 75h1v1h-1zM263 76h1v1h-1zM270 76h1v1h-1zM299 76h1v1h-1zM303 76h1v1h-1zM314 76h1v1h-1zM325 76h1v1h-1zM284 77h1v1h-1zM291 77h1v1h-1zM323 77h1v1h-1zM244 78h1v1h-1zM265 78h1v1h-1zM288 78h1v1h-1zM301 78h1v1h-1zM230 79h1v1h-1zM261 79h1v1h-1zM277 79h1v1h-1zM285 79h1v1h-1zM288 79h1v1h-1zM309 79h2v1h-2zM268 80h1v1h-1zM298 80h1v1h-1zM304 80h2v1h-2zM311 80h2v1h-2zM254 81h1v1h-1zM299 81h1v1h-1zM302 81h1v1h-1zM261 82h1v1h-1zM287 82h1v1h-1zM291 83h1v1h-1zM321 83h1v1h-1zM251 84h1v1h-1zM283 84h1v1h-1zM289 84h1v1h-1zM301 84h2v1h-2zM325 84h1v1h-1zM234 85h1v1h-1zM257 85h1v1h-1zM259 85h1v1h-1zM296 85h1v1h-1zM318 86h2v1h-2zM321 86h1v1h-1zM238 87h1v1h-1zM265 87h1v1h-1zM245 88h1v1h-1zM274 88h1v1h-1zM279 88h1v1h-1zM322 88h2v1h-2zM239 89h1v1h-1zM253 89h1v1h-1zM263 89h1v1h-1zM265 89h1v1h-1zM267 89h1v1h-1zM274 89h1v1h-1zM297 89h1v1h-1zM300 89h1v1h-1zM317 89h1v1h-1zM247 90h2v1h-2zM251 90h1v1h-1zM290 90h1v1h-1zM318 90h1v1h-1z"/><path fill="#5f5665" d="M248 37h1v1h-1zM255 37h1v1h-1zM275 37h1v1h-1zM277 37h1v1h-1zM280 37h1v1h-1zM313 37h1v1h-1zM265 38h1v1h-1zM269 38h1v1h-1zM275 38h1v1h-1zM282 38h1v1h-1zM230 39h1v1h-1zM233 39h1v1h-1zM237 39h1v1h-1zM245 39h1v1h-1zM260 39h1v1h-1zM273 39h1v1h-1zM280 39h2v1h-2zM230 40h1v1h-1zM251 40h1v1h-1zM284 40h1v1h-1zM286 40h1v1h-1zM303 40h2v1h-2zM318 40h1v1h-1zM260 41h1v1h-1zM262 41h1v1h-1zM265 41h1v1h-1zM267 41h1v1h-1zM318 41h1v1h-1zM229 42h1v1h-1zM238 42h1v1h-1zM252 42h1v1h-1zM257 42h1v1h-1zM273 42h1v1h-1zM311 42h1v1h-1zM242 43h1v1h-1zM245 43h1v1h-1zM247 43h1v1h-1zM267 43h1v1h-1zM274 43h1v1h-1zM290 43h2v1h-2zM293 43h1v1h-1zM299 43h1v1h-1zM304 43h1v1h-1zM239 44h1v1h-1zM243 44h2v1h-2zM260 44h1v1h-1zM289 44h1v1h-1zM304 44h1v1h-1zM245 45h1v1h-1zM260 45h1v1h-1zM302 45h1v1h-1zM241 46h2v1h-2zM261 46h1v1h-1zM286 46h1v1h-1zM305 46h1v1h-1zM237 47h1v1h-1zM242 47h1v1h-1zM260 47h1v1h-1zM263 47h1v1h-1zM269 47h1v1h-1zM289 47h1v1h-1zM265 48h1v1h-1zM267 48h1v1h-1zM316 48h1v1h-1zM239 49h1v1h-1zM273 49h1v1h-1zM294 49h1v1h-1zM300 49h1v1h-1zM305 49h1v1h-1zM315 49h2v1h-2zM242 50h1v1h-1zM307 50h1v1h-1zM316 50h1v1h-1zM232 51h1v1h-1zM257 51h1v1h-1zM299 51h1v1h-1zM307 51h1v1h-1zM240 52h1v1h-1zM268 52h1v1h-1zM275 52h1v1h-1zM280 53h1v1h-1zM282 53h1v1h-1zM298 53h1v1h-1zM312 53h1v1h-1zM233 54h1v1h-1zM269 54h1v1h-1zM283 54h1v1h-1zM287 54h1v1h-1zM230 55h1v1h-1zM240 55h1v1h-1zM256 55h2v1h-2zM277 55h1v1h-1zM284 55h1v1h-1zM300 55h1v1h-1zM239 56h1v1h-1zM285 56h1v1h-1zM293 56h1v1h-1zM314 56h1v1h-1zM243 57h1v1h-1zM263 57h1v1h-1zM279 57h1v1h-1zM234 58h1v1h-1zM240 58h1v1h-1zM269 58h1v1h-1zM275 58h1v1h-1zM309 58h1v1h-1zM234 59h1v1h-1zM268 59h1v1h-1zM310 59h1v1h-1zM234 60h1v1h-1zM291 60h1v1h-1zM300 60h1v1h-1zM310 60h1v1h-1zM275 61h1v1h-1zM284 61h1v1h-1zM309 61h1v1h-1zM311 61h1v1h-1zM259 62h1v1h-1zM273 62h2v1h-2zM276 62h1v1h-1zM256 63h1v1h-1zM266 63h1v1h-1zM320 63h1v1h-1zM318 64h1v1h-1zM229 65h1v1h-1zM249 65h1v1h-1zM266 65h1v1h-1zM235 66h1v1h-1zM243 66h1v1h-1zM276 66h1v1h-1zM230 67h1v1h-1zM242 67h1v1h-1zM271 67h1v1h-1zM273 67h1v1h-1zM281 67h1v1h-1zM287 67h1v1h-1zM291 67h1v1h-1zM293 67h2v1h-2zM267 68h1v1h-1zM293 68h2v1h-2zM317 68h1v1h-1zM240 69h1v1h-1zM280 69h1v1h-1zM290 69h1v1h-1zM298 69h1v1h-1zM307 69h1v1h-1zM316 69h1v1h-1zM237 70h1v1h-1zM244 70h1v1h-1zM292 70h1v1h-1zM307 70h1v1h-1zM237 71h1v1h-1zM299 71h1v1h-1zM312 71h1v1h-1zM325 71h1v1h-1zM236 72h1v1h-1zM292 72h1v1h-1zM325 72h1v1h-1zM234 73h1v1h-1zM277 73h1v1h-1zM303 73h1v1h-1zM325 73h1v1h-1zM230 74h1v1h-1zM287 74h1v1h-1zM301 74h1v1h-1zM307 74h1v1h-1zM230 75h1v1h-1zM232 75h1v1h-1zM263 75h1v1h-1zM279 75h1v1h-1zM317 75h1v1h-1zM234 76h1v1h-1zM285 76h1v1h-1zM256 77h1v1h-1zM275 77h1v1h-1zM302 77h1v1h-1zM233 78h1v1h-1zM272 78h1v1h-1zM300 78h1v1h-1zM324 78h1v1h-1zM320 79h1v1h-1zM251 80h1v1h-1zM253 80h1v1h-1zM260 80h3v1h-3zM264 80h1v1h-1zM293 80h1v1h-1zM308 80h1v1h-1zM314 80h2v1h-2zM296 81h1v1h-1zM306 81h1v1h-1zM315 81h1v1h-1zM249 82h1v1h-1zM254 82h1v1h-1zM283 82h2v1h-2zM302 82h1v1h-1zM320 82h1v1h-1zM264 83h1v1h-1zM282 83h1v1h-1zM317 83h1v1h-1zM232 84h1v1h-1zM252 84h1v1h-1zM275 84h1v1h-1zM313 84h1v1h-1zM316 84h1v1h-1zM323 84h1v1h-1zM261 85h1v1h-1zM265 85h1v1h-1zM274 85h1v1h-1zM289 85h1v1h-1zM312 85h1v1h-1zM257 86h1v1h-1zM259 86h1v1h-1zM279 86h1v1h-1zM284 86h1v1h-1zM290 86h1v1h-1zM311 86h1v1h-1zM317 86h1v1h-1zM244 87h1v1h-1zM259 87h1v1h-1zM269 87h1v1h-1zM291 87h1v1h-1zM298 87h1v1h-1zM324 87h1v1h-1zM236 88h1v1h-1zM242 88h1v1h-1zM251 88h1v1h-1zM262 88h1v1h-1zM275 88h1v1h-1zM285 88h1v1h-1zM292 88h1v1h-1zM303 88h1v1h-1zM319 88h1v1h-1zM252 89h1v1h-1zM259 89h1v1h-1zM272 89h1v1h-1zM295 89h1v1h-1zM238 90h1v1h-1zM314 90h1v1h-1zM316 90h1v1h-1z"/><path fill="#644637" d="M239 37h1v1h-1zM284 37h1v1h-1zM303 37h1v1h-1zM309 38h1v1h-1zM315 38h1v1h-1zM240 39h1v1h-1zM317 39h1v1h-1zM231 40h1v1h-1zM261 41h1v1h-1zM274 41h1v1h-1zM305 42h1v1h-1zM312 42h1v1h-1zM298 43h1v1h-1zM305 43h1v1h-1zM315 44h1v1h-1zM319 44h1v1h-1zM261 45h1v1h-1zM298 45h1v1h-1zM319 45h1v1h-1zM262 46h1v1h-1zM283 46h1v1h-1zM297 46h1v1h-1zM278 47h1v1h-1zM284 47h1v1h-1zM290 47h1v1h-1zM305 47h1v1h-1zM237 48h1v1h-1zM243 48h1v1h-1zM293 48h1v1h-1zM232 49h1v1h-1zM308 49h1v1h-1zM269 50h1v1h-1zM271 51h1v1h-1zM293 51h1v1h-1zM298 51h1v1h-1zM316 51h1v1h-1zM319 51h2v1h-2zM251 52h1v1h-1zM270 52h1v1h-1zM284 52h1v1h-1zM291 52h1v1h-1zM293 52h1v1h-1zM314 52h1v1h-1zM317 52h1v1h-1zM235 53h1v1h-1zM241 53h1v1h-1zM283 53h2v1h-2zM291 53h1v1h-1zM313 53h1v1h-1zM317 53h1v1h-1zM322 53h1v1h-1zM264 54h1v1h-1zM305 54h1v1h-1zM261 55h1v1h-1zM281 55h1v1h-1zM286 55h1v1h-1zM238 56h1v1h-1zM250 56h1v1h-1zM257 56h1v1h-1zM261 56h1v1h-1zM282 56h1v1h-1zM322 56h1v1h-1zM248 57h2v1h-2zM268 57h1v1h-1zM276 57h1v1h-1zM320 57h2v1h-2zM307 58h1v1h-1zM242 59h1v1h-1zM293 59h2v1h-2zM307 59h1v1h-1zM232 60h1v1h-1zM255 60h1v1h-1zM266 60h1v1h-1zM277 60h1v1h-1zM279 60h1v1h-1zM306 60h1v1h-1zM319 60h1v1h-1zM322 60h1v1h-1zM274 61h1v1h-1zM285 61h1v1h-1zM293 61h1v1h-1zM321 61h1v1h-1zM325 61h1v1h-1zM265 62h1v1h-1zM289 62h1v1h-1zM299 62h1v1h-1zM234 63h1v1h-1zM250 63h1v1h-1zM255 63h1v1h-1zM311 63h1v1h-1zM238 64h1v1h-1zM242 64h1v1h-1zM258 64h1v1h-1zM312 64h1v1h-1zM317 64h1v1h-1zM291 65h1v1h-1zM317 65h1v1h-1zM280 66h1v1h-1zM305 66h1v1h-1zM307 66h1v1h-1zM248 67h1v1h-1zM276 67h1v1h-1zM320 67h1v1h-1zM229 68h1v1h-1zM321 68h1v1h-1zM229 69h1v1h-1zM239 69h1v1h-1zM309 70h1v1h-1zM321 70h1v1h-1zM325 70h1v1h-1zM265 71h1v1h-1zM292 71h2v1h-2zM304 71h1v1h-1zM278 72h1v1h-1zM285 72h1v1h-1zM312 72h1v1h-1zM320 72h1v1h-1zM324 72h1v1h-1zM244 73h1v1h-1zM280 73h1v1h-1zM323 73h1v1h-1zM240 74h1v1h-1zM308 74h2v1h-2zM316 74h1v1h-1zM324 74h1v1h-1zM240 76h1v1h-1zM274 76h2v1h-2zM291 76h1v1h-1zM302 76h1v1h-1zM315 76h1v1h-1zM261 78h1v1h-1zM280 78h1v1h-1zM304 78h2v1h-2zM257 79h1v1h-1zM270 79h1v1h-1zM272 79h1v1h-1zM323 79h1v1h-1zM285 80h1v1h-1zM292 80h1v1h-1zM297 80h1v1h-1zM319 80h1v1h-1zM251 81h1v1h-1zM319 81h1v1h-1zM325 81h1v1h-1zM257 82h1v1h-1zM262 82h1v1h-1zM295 82h1v1h-1zM317 82h2v1h-2zM325 82h1v1h-1zM254 83h1v1h-1zM281 83h1v1h-1zM292 83h1v1h-1zM315 83h2v1h-2zM323 83h1v1h-1zM264 84h1v1h-1zM266 84h1v1h-1zM291 84h1v1h-1zM298 84h1v1h-1zM315 84h1v1h-1zM260 85h1v1h-1zM285 85h1v1h-1zM298 85h1v1h-1zM304 85h1v1h-1zM296 86h1v1h-1zM313 86h1v1h-1zM261 87h1v1h-1zM293 87h1v1h-1zM318 87h1v1h-1zM234 88h1v1h-1zM238 88h1v1h-1zM256 88h1v1h-1zM286 88h1v1h-1zM281 89h1v1h-1zM313 89h1v1h-1zM315 89h2v1h-2zM315 90h1v1h-1zM320 90h1v1h-1zM325 90h1v1h-1z"/><path fill="#544444" d="M283 37h1v1h-1zM293 37h1v1h-1zM283 38h1v1h-1zM293 38h1v1h-1zM304 38h1v1h-1zM272 39h1v1h-1zM264 40h1v1h-1zM283 40h1v1h-1zM325 40h1v1h-1zM248 41h1v1h-1zM276 41h1v1h-1zM302 41h1v1h-1zM304 41h2v1h-2zM279 42h1v1h-1zM282 42h1v1h-1zM303 42h1v1h-1zM243 43h1v1h-1zM253 43h1v1h-1zM287 43h1v1h-1zM266 44h1v1h-1zM293 44h1v1h-1zM321 44h1v1h-1zM241 45h1v1h-1zM286 45h1v1h-1zM293 45h1v1h-1zM296 45h1v1h-1zM306 45h1v1h-1zM241 47h1v1h-1zM243 47h1v1h-1zM271 47h1v1h-1zM299 47h1v1h-1zM271 48h1v1h-1zM277 48h1v1h-1zM310 48h1v1h-1zM243 49h1v1h-1zM272 49h1v1h-1zM297 49h1v1h-1zM314 49h1v1h-1zM271 50h1v1h-1zM311 50h1v1h-1zM254 51h1v1h-1zM297 51h1v1h-1zM243 52h1v1h-1zM304 52h1v1h-1zM315 52h1v1h-1zM236 53h1v1h-1zM238 53h1v1h-1zM266 53h1v1h-1zM274 53h1v1h-1zM293 53h1v1h-1zM279 54h1v1h-1zM299 54h1v1h-1zM264 56h1v1h-1zM286 56h1v1h-1zM298 56h1v1h-1zM309 56h2v1h-2zM250 57h1v1h-1zM264 57h1v1h-1zM284 58h1v1h-1zM310 58h1v1h-1zM239 59h1v1h-1zM271 59h1v1h-1zM285 59h1v1h-1zM320 59h1v1h-1zM235 60h1v1h-1zM278 60h1v1h-1zM297 60h1v1h-1zM308 60h1v1h-1zM315 60h1v1h-1zM321 60h1v1h-1zM305 61h1v1h-1zM308 61h1v1h-1zM313 61h1v1h-1zM234 62h1v1h-1zM238 62h1v1h-1zM242 62h1v1h-1zM238 63h1v1h-1zM260 63h2v1h-2zM277 63h1v1h-1zM291 63h1v1h-1zM312 63h1v1h-1zM324 63h1v1h-1zM241 64h1v1h-1zM286 64h1v1h-1zM323 64h1v1h-1zM239 65h1v1h-1zM310 65h1v1h-1zM322 65h1v1h-1zM256 66h1v1h-1zM272 66h1v1h-1zM287 66h1v1h-1zM311 66h1v1h-1zM229 67h1v1h-1zM262 67h1v1h-1zM304 67h1v1h-1zM313 67h1v1h-1zM233 68h1v1h-1zM236 68h1v1h-1zM253 68h1v1h-1zM280 68h1v1h-1zM291 68h1v1h-1zM268 69h1v1h-1zM284 69h1v1h-1zM239 70h1v1h-1zM243 70h1v1h-1zM277 70h1v1h-1zM299 70h1v1h-1zM304 70h1v1h-1zM256 71h1v1h-1zM258 71h1v1h-1zM263 71h1v1h-1zM285 71h1v1h-1zM305 71h1v1h-1zM308 71h1v1h-1zM321 71h1v1h-1zM264 72h1v1h-1zM286 72h1v1h-1zM309 72h1v1h-1zM254 73h1v1h-1zM264 73h1v1h-1zM266 73h2v1h-2zM279 73h1v1h-1zM310 73h1v1h-1zM277 74h1v1h-1zM298 74h1v1h-1zM231 75h1v1h-1zM239 75h1v1h-1zM277 75h1v1h-1zM302 75h1v1h-1zM309 75h1v1h-1zM231 76h1v1h-1zM286 76h1v1h-1zM320 76h1v1h-1zM252 77h1v1h-1zM262 77h2v1h-2zM274 77h1v1h-1zM321 77h1v1h-1zM271 78h1v1h-1zM274 78h1v1h-1zM242 79h1v1h-1zM321 79h1v1h-1zM245 80h1v1h-1zM290 80h1v1h-1zM289 81h2v1h-2zM307 81h1v1h-1zM278 82h1v1h-1zM233 83h1v1h-1zM242 83h1v1h-1zM270 83h1v1h-1zM263 84h1v1h-1zM290 85h2v1h-2zM280 86h1v1h-1zM266 87h1v1h-1zM275 87h1v1h-1zM307 87h1v1h-1zM243 88h2v1h-2zM261 88h1v1h-1zM291 88h1v1h-1zM312 88h2v1h-2zM318 88h1v1h-1zM243 89h1v1h-1zM296 89h1v1h-1zM259 90h1v1h-1z"/><path fill="#4d3125" d="M234 37h2v1h-2zM244 37h1v1h-1zM292 37h1v1h-1zM312 37h1v1h-1zM315 37h2v1h-2zM281 38h1v1h-1zM308 38h1v1h-1zM314 38h1v1h-1zM262 39h1v1h-1zM304 39h1v1h-1zM314 39h1v1h-1zM248 40h1v1h-1zM260 40h1v1h-1zM282 40h1v1h-1zM317 40h1v1h-1zM296 41h1v1h-1zM303 41h1v1h-1zM310 41h1v1h-1zM317 41h1v1h-1zM237 42h1v1h-1zM281 42h1v1h-1zM304 42h1v1h-1zM238 43h1v1h-1zM266 43h1v1h-1zM270 43h1v1h-1zM288 43h1v1h-1zM320 43h2v1h-2zM323 43h1v1h-1zM245 44h1v1h-1zM263 44h1v1h-1zM267 44h1v1h-1zM270 44h1v1h-1zM279 44h2v1h-2zM288 44h1v1h-1zM314 44h1v1h-1zM320 44h1v1h-1zM256 45h1v1h-1zM266 45h2v1h-2zM284 45h1v1h-1zM314 45h2v1h-2zM263 46h1v1h-1zM271 46h2v1h-2zM298 46h2v1h-2zM317 46h1v1h-1zM240 47h1v1h-1zM261 47h2v1h-2zM283 47h1v1h-1zM294 47h2v1h-2zM300 47h1v1h-1zM312 47h1v1h-1zM316 47h1v1h-1zM319 47h1v1h-1zM285 48h1v1h-1zM294 48h1v1h-1zM297 48h1v1h-1zM309 48h1v1h-1zM293 49h1v1h-1zM310 49h1v1h-1zM320 49h1v1h-1zM232 50h1v1h-1zM237 50h1v1h-1zM293 50h1v1h-1zM320 50h2v1h-2zM325 50h1v1h-1zM247 51h1v1h-1zM325 51h1v1h-1zM267 52h1v1h-1zM269 52h1v1h-1zM302 52h2v1h-2zM306 52h1v1h-1zM319 52h1v1h-1zM267 53h3v1h-3zM286 53h1v1h-1zM292 53h1v1h-1zM315 53h1v1h-1zM318 53h1v1h-1zM270 54h1v1h-1zM280 54h2v1h-2zM284 54h1v1h-1zM292 54h1v1h-1zM303 54h1v1h-1zM325 54h1v1h-1zM270 55h1v1h-1zM282 55h1v1h-1zM295 55h1v1h-1zM303 55h1v1h-1zM309 55h2v1h-2zM297 56h1v1h-1zM320 56h2v1h-2zM323 56h1v1h-1zM272 57h1v1h-1zM297 57h1v1h-1zM305 57h1v1h-1zM324 57h1v1h-1zM248 58h1v1h-1zM268 58h1v1h-1zM290 58h1v1h-1zM232 59h1v1h-1zM240 59h1v1h-1zM267 59h1v1h-1zM297 59h3v1h-3zM299 60h1v1h-1zM305 60h1v1h-1zM317 60h1v1h-1zM320 60h1v1h-1zM299 61h1v1h-1zM306 61h2v1h-2zM322 61h1v1h-1zM241 62h1v1h-1zM260 62h1v1h-1zM277 62h1v1h-1zM292 62h1v1h-1zM322 62h2v1h-2zM265 63h1v1h-1zM292 63h1v1h-1zM319 63h1v1h-1zM230 64h1v1h-1zM233 65h1v1h-1zM290 65h1v1h-1zM319 65h1v1h-1zM323 65h1v1h-1zM236 66h1v1h-1zM246 66h1v1h-1zM273 66h1v1h-1zM286 66h1v1h-1zM236 67h1v1h-1zM280 67h1v1h-1zM285 67h2v1h-2zM271 68h1v1h-1zM276 68h1v1h-1zM281 68h2v1h-2zM287 68h1v1h-1zM304 68h1v1h-1zM309 68h1v1h-1zM316 68h1v1h-1zM272 69h1v1h-1zM279 69h1v1h-1zM281 69h1v1h-1zM317 69h1v1h-1zM260 70h1v1h-1zM266 70h1v1h-1zM303 70h1v1h-1zM308 70h1v1h-1zM312 70h3v1h-3zM322 70h1v1h-1zM233 71h1v1h-1zM255 71h1v1h-1zM257 71h1v1h-1zM280 71h1v1h-1zM286 71h1v1h-1zM294 71h1v1h-1zM307 71h1v1h-1zM318 71h1v1h-1zM321 72h1v1h-1zM312 73h1v1h-1zM324 73h1v1h-1zM229 74h1v1h-1zM280 74h1v1h-1zM288 74h1v1h-1zM302 74h1v1h-1zM325 74h1v1h-1zM255 75h1v1h-1zM278 75h1v1h-1zM322 75h1v1h-1zM325 75h1v1h-1zM304 76h1v1h-1zM313 76h1v1h-1zM319 76h1v1h-1zM321 76h1v1h-1zM232 77h1v1h-1zM265 77h1v1h-1zM277 77h1v1h-1zM314 77h2v1h-2zM238 78h3v1h-3zM264 78h1v1h-1zM275 78h1v1h-1zM285 78h1v1h-1zM289 78h1v1h-1zM291 78h1v1h-1zM323 78h1v1h-1zM239 79h1v1h-1zM271 79h1v1h-1zM286 79h1v1h-1zM322 79h1v1h-1zM324 79h1v1h-1zM254 80h1v1h-1zM269 80h1v1h-1zM313 80h1v1h-1zM318 80h1v1h-1zM305 81h1v1h-1zM314 81h1v1h-1zM318 81h1v1h-1zM305 82h2v1h-2zM299 83h1v1h-1zM320 83h1v1h-1zM290 84h1v1h-1zM232 85h2v1h-2zM263 85h2v1h-2zM266 85h1v1h-1zM283 85h1v1h-1zM310 85h1v1h-1zM313 85h1v1h-1zM267 86h1v1h-1zM291 86h1v1h-1zM295 86h1v1h-1zM298 86h1v1h-1zM324 86h2v1h-2zM260 87h1v1h-1zM263 87h1v1h-1zM277 87h1v1h-1zM290 87h1v1h-1zM317 87h1v1h-1zM321 87h2v1h-2zM248 88h1v1h-1zM263 88h1v1h-1zM271 88h1v1h-1zM295 88h1v1h-1zM302 88h1v1h-1zM314 88h1v1h-1zM317 88h1v1h-1zM236 89h1v1h-1zM248 89h1v1h-1zM256 89h2v1h-2zM261 89h2v1h-2zM270 89h1v1h-1zM305 89h1v1h-1zM314 89h1v1h-1zM252 90h1v1h-1zM256 90h1v1h-1zM262 90h2v1h-2z"/></g></g>
<clipPath id="cp2"><rect x="229" y="105" width="97" height="53"/></clipPath>
<g clip-path="url(#cp2)"><g filter="url(#bl)" shape-rendering="crispEdges"><rect x="229" y="105" width="97" height="53" fill="#9a9ad4"/><path fill="#a2a2dc" d="M261 105h2v1h-2zM293 105h1v1h-1zM293 106h2v1h-2zM295 107h1v1h-1zM324 108h1v1h-1zM273 111h1v1h-1zM287 111h1v1h-1zM252 112h1v1h-1zM274 112h1v1h-1zM320 112h1v1h-1zM229 113h3v1h-3zM273 113h1v1h-1zM229 114h2v1h-2zM278 114h2v1h-2zM292 114h1v1h-1zM229 115h1v1h-1zM267 115h2v1h-2zM278 115h2v1h-2zM314 115h1v1h-1zM247 116h1v1h-1zM273 116h1v1h-1zM275 116h1v1h-1zM277 116h3v1h-3zM295 116h2v1h-2zM275 117h1v1h-1zM277 117h4v1h-4zM290 117h1v1h-1zM292 117h1v1h-1zM295 117h2v1h-2zM272 118h2v1h-2zM276 118h1v1h-1zM294 118h1v1h-1zM296 118h1v1h-1zM286 120h1v1h-1zM258 122h1v1h-1zM322 124h1v1h-1zM235 125h1v1h-1zM321 125h1v1h-1zM313 127h1v1h-1zM297 128h1v1h-1zM314 128h2v1h-2zM287 129h1v1h-1zM298 129h1v1h-1zM298 130h2v1h-2zM267 131h1v1h-1zM292 131h2v1h-2zM295 131h2v1h-2zM299 131h1v1h-1zM229 132h1v1h-1zM259 132h1v1h-1zM267 132h1v1h-1zM291 132h2v1h-2zM296 132h1v1h-1zM298 132h1v1h-1zM312 132h1v1h-1zM314 132h1v1h-1zM264 133h1v1h-1zM313 133h2v1h-2zM241 134h1v1h-1zM258 134h1v1h-1zM264 134h1v1h-1zM283 134h2v1h-2zM237 135h1v1h-1zM298 135h1v1h-1zM309 135h1v1h-1zM311 135h1v1h-1zM314 135h1v1h-1zM317 135h1v1h-1zM236 136h2v1h-2zM237 137h1v1h-1zM257 137h1v1h-1zM259 137h1v1h-1zM270 137h1v1h-1zM307 137h2v1h-2zM229 138h1v1h-1zM264 138h1v1h-1zM273 138h1v1h-1zM285 138h1v1h-1zM309 138h1v1h-1zM259 139h1v1h-1zM280 139h2v1h-2zM284 139h2v1h-2zM310 139h2v1h-2zM315 139h2v1h-2zM282 140h1v1h-1zM284 140h2v1h-2zM316 140h1v1h-1zM263 141h1v1h-1zM265 141h1v1h-1zM278 141h1v1h-1zM261 142h2v1h-2zM265 142h2v1h-2zM275 142h2v1h-2zM287 142h1v1h-1zM263 143h1v1h-1zM275 143h1v1h-1zM277 143h1v1h-1zM270 144h1v1h-1zM276 144h1v1h-1zM290 144h1v1h-1zM274 145h1v1h-1zM281 145h1v1h-1zM295 145h1v1h-1zM319 145h1v1h-1zM260 146h1v1h-1zM264 146h2v1h-2zM272 146h2v1h-2zM289 146h1v1h-1zM291 146h1v1h-1zM296 146h2v1h-2zM322 146h2v1h-2zM259 147h1v1h-1zM261 147h1v1h-1zM272 147h2v1h-2zM294 147h4v1h-4zM256 148h1v1h-1zM259 148h1v1h-1zM295 148h2v1h-2zM260 149h1v1h-1zM268 149h1v1h-1zM250 151h1v1h-1zM307 151h1v1h-1zM253 153h1v1h-1zM253 154h2v1h-2zM305 154h1v1h-1zM308 154h1v1h-1zM308 155h1v1h-1zM251 156h1v1h-1zM302 156h1v1h-1zM305 156h1v1h-1zM307 156h3v1h-3zM251 157h2v1h-2zM303 157h1v1h-1zM305 157h1v1h-1zM308 157h4v1h-4z"/><path fill="#9f9ed8" d="M259 105h1v1h-1zM292 105h1v1h-1zM302 105h1v1h-1zM233 106h1v1h-1zM261 106h1v1h-1zM292 106h1v1h-1zM302 106h1v1h-1zM260 107h1v1h-1zM323 107h1v1h-1zM325 107h1v1h-1zM296 108h1v1h-1zM300 108h1v1h-1zM319 109h1v1h-1zM249 110h1v1h-1zM297 110h1v1h-1zM325 110h1v1h-1zM232 111h1v1h-1zM252 111h1v1h-1zM251 112h1v1h-1zM267 112h1v1h-1zM273 112h1v1h-1zM278 112h1v1h-1zM253 113h1v1h-1zM274 113h1v1h-1zM286 113h1v1h-1zM266 114h2v1h-2zM280 114h1v1h-1zM283 114h1v1h-1zM294 114h1v1h-1zM275 115h1v1h-1zM282 115h1v1h-1zM293 115h1v1h-1zM295 115h1v1h-1zM229 116h1v1h-1zM237 116h1v1h-1zM268 116h1v1h-1zM276 116h1v1h-1zM288 116h1v1h-1zM292 116h1v1h-1zM297 116h1v1h-1zM314 116h1v1h-1zM248 117h2v1h-2zM276 117h1v1h-1zM281 117h1v1h-1zM289 117h1v1h-1zM291 117h1v1h-1zM297 117h1v1h-1zM275 118h1v1h-1zM281 118h1v1h-1zM291 118h1v1h-1zM295 118h1v1h-1zM297 118h1v1h-1zM273 119h2v1h-2zM282 119h1v1h-1zM284 119h1v1h-1zM287 119h2v1h-2zM291 119h1v1h-1zM234 120h1v1h-1zM287 120h3v1h-3zM309 120h1v1h-1zM317 120h1v1h-1zM231 122h1v1h-1zM259 122h1v1h-1zM295 123h1v1h-1zM321 123h1v1h-1zM318 124h3v1h-3zM320 125h1v1h-1zM236 126h1v1h-1zM287 126h1v1h-1zM255 127h1v1h-1zM288 127h1v1h-1zM297 127h1v1h-1zM316 127h1v1h-1zM242 128h1v1h-1zM255 128h1v1h-1zM288 128h1v1h-1zM245 129h2v1h-2zM256 129h1v1h-1zM259 129h1v1h-1zM266 129h1v1h-1zM288 129h1v1h-1zM292 129h1v1h-1zM229 130h1v1h-1zM239 130h1v1h-1zM257 130h1v1h-1zM287 130h1v1h-1zM289 130h1v1h-1zM293 130h1v1h-1zM310 130h1v1h-1zM258 131h2v1h-2zM268 131h1v1h-1zM289 131h3v1h-3zM311 131h1v1h-1zM316 131h1v1h-1zM230 132h2v1h-2zM247 132h1v1h-1zM268 132h1v1h-1zM288 132h2v1h-2zM295 132h1v1h-1zM311 132h1v1h-1zM315 132h1v1h-1zM236 133h1v1h-1zM238 133h1v1h-1zM255 133h1v1h-1zM265 133h3v1h-3zM284 133h2v1h-2zM287 133h2v1h-2zM295 133h1v1h-1zM315 133h1v1h-1zM229 134h1v1h-1zM239 134h1v1h-1zM242 134h1v1h-1zM247 134h2v1h-2zM255 134h1v1h-1zM265 134h1v1h-1zM276 134h2v1h-2zM296 134h1v1h-1zM310 134h1v1h-1zM315 134h1v1h-1zM229 135h1v1h-1zM238 135h1v1h-1zM241 135h1v1h-1zM246 135h1v1h-1zM270 135h1v1h-1zM277 135h1v1h-1zM310 135h1v1h-1zM253 136h1v1h-1zM285 136h1v1h-1zM236 137h1v1h-1zM253 137h1v1h-1zM258 137h1v1h-1zM264 137h1v1h-1zM299 137h1v1h-1zM311 137h2v1h-2zM230 138h1v1h-1zM234 138h1v1h-1zM253 138h2v1h-2zM259 138h1v1h-1zM263 138h1v1h-1zM265 138h1v1h-1zM274 138h2v1h-2zM308 138h1v1h-1zM312 138h1v1h-1zM249 139h2v1h-2zM256 139h1v1h-1zM263 139h2v1h-2zM269 139h2v1h-2zM273 139h1v1h-1zM304 139h1v1h-1zM250 140h1v1h-1zM264 140h1v1h-1zM281 140h1v1h-1zM283 140h1v1h-1zM310 140h1v1h-1zM261 141h2v1h-2zM276 141h1v1h-1zM281 141h1v1h-1zM285 141h3v1h-3zM316 141h1v1h-1zM259 142h1v1h-1zM285 142h1v1h-1zM288 142h1v1h-1zM276 143h1v1h-1zM278 143h2v1h-2zM281 143h1v1h-1zM286 143h1v1h-1zM288 143h1v1h-1zM275 144h1v1h-1zM280 144h1v1h-1zM282 144h1v1h-1zM289 144h1v1h-1zM319 144h1v1h-1zM258 145h1v1h-1zM262 145h1v1h-1zM265 145h1v1h-1zM268 145h1v1h-1zM271 145h1v1h-1zM275 145h1v1h-1zM282 145h2v1h-2zM296 145h3v1h-3zM318 145h1v1h-1zM324 145h1v1h-1zM258 146h2v1h-2zM261 146h1v1h-1zM274 146h1v1h-1zM299 146h1v1h-1zM324 146h1v1h-1zM257 147h2v1h-2zM264 147h1v1h-1zM278 147h1v1h-1zM288 147h1v1h-1zM290 147h1v1h-1zM258 148h1v1h-1zM263 148h2v1h-2zM275 148h1v1h-1zM277 148h1v1h-1zM297 148h1v1h-1zM322 148h1v1h-1zM256 149h1v1h-1zM265 149h1v1h-1zM292 149h1v1h-1zM295 149h1v1h-1zM251 150h1v1h-1zM262 150h1v1h-1zM269 150h1v1h-1zM276 150h1v1h-1zM315 150h1v1h-1zM257 151h1v1h-1zM290 151h1v1h-1zM293 151h2v1h-2zM303 151h1v1h-1zM308 151h1v1h-1zM315 151h1v1h-1zM252 152h1v1h-1zM313 152h1v1h-1zM252 153h1v1h-1zM272 153h1v1h-1zM313 153h2v1h-2zM249 154h1v1h-1zM302 154h1v1h-1zM315 154h1v1h-1zM251 155h2v1h-2zM292 155h1v1h-1zM301 155h3v1h-3zM305 155h1v1h-1zM249 156h2v1h-2zM278 156h1v1h-1zM293 156h3v1h-3zM300 156h1v1h-1zM303 156h1v1h-1zM306 156h1v1h-1zM248 157h3v1h-3z"/><path fill="#9d9dd6" d="M317 105h1v1h-1zM320 105h1v1h-1zM274 106h1v1h-1zM303 106h1v1h-1zM295 108h1v1h-1zM325 108h1v1h-1zM295 110h1v1h-1zM318 110h1v1h-1zM274 111h1v1h-1zM286 112h1v1h-1zM316 112h1v1h-1zM252 113h1v1h-1zM266 113h1v1h-1zM293 113h1v1h-1zM311 113h1v1h-1zM248 114h1v1h-1zM275 114h1v1h-1zM295 114h1v1h-1zM317 114h1v1h-1zM319 114h1v1h-1zM239 115h1v1h-1zM248 115h1v1h-1zM285 115h1v1h-1zM235 116h1v1h-1zM238 116h1v1h-1zM267 116h1v1h-1zM271 116h1v1h-1zM311 116h2v1h-2zM237 117h1v1h-1zM312 117h1v1h-1zM233 118h1v1h-1zM292 118h1v1h-1zM267 119h1v1h-1zM323 119h1v1h-1zM318 120h1v1h-1zM319 121h1v1h-1zM317 122h1v1h-1zM230 123h1v1h-1zM263 123h1v1h-1zM302 123h1v1h-1zM320 123h1v1h-1zM230 124h1v1h-1zM238 124h1v1h-1zM261 124h1v1h-1zM321 124h1v1h-1zM236 125h1v1h-1zM316 125h1v1h-1zM323 125h1v1h-1zM317 126h1v1h-1zM320 126h1v1h-1zM323 126h1v1h-1zM238 127h2v1h-2zM229 128h1v1h-1zM257 128h1v1h-1zM230 129h1v1h-1zM244 129h1v1h-1zM257 129h1v1h-1zM291 129h1v1h-1zM238 130h1v1h-1zM256 130h1v1h-1zM288 130h1v1h-1zM246 131h1v1h-1zM266 132h1v1h-1zM293 132h1v1h-1zM316 132h1v1h-1zM248 133h1v1h-1zM258 133h1v1h-1zM312 133h1v1h-1zM240 134h1v1h-1zM246 134h1v1h-1zM306 134h1v1h-1zM269 135h1v1h-1zM273 135h1v1h-1zM289 135h1v1h-1zM305 135h1v1h-1zM315 135h1v1h-1zM238 136h1v1h-1zM286 136h2v1h-2zM289 136h1v1h-1zM317 136h1v1h-1zM237 138h1v1h-1zM240 138h2v1h-2zM287 138h1v1h-1zM307 138h1v1h-1zM242 139h2v1h-2zM274 139h1v1h-1zM312 139h1v1h-1zM314 139h1v1h-1zM317 139h1v1h-1zM239 140h1v1h-1zM263 140h1v1h-1zM269 140h2v1h-2zM272 140h1v1h-1zM279 140h1v1h-1zM317 140h1v1h-1zM229 141h1v1h-1zM282 141h1v1h-1zM284 141h1v1h-1zM310 141h1v1h-1zM274 142h1v1h-1zM274 143h1v1h-1zM280 143h1v1h-1zM287 143h1v1h-1zM283 144h1v1h-1zM259 145h1v1h-1zM261 145h1v1h-1zM269 145h1v1h-1zM257 146h1v1h-1zM278 146h1v1h-1zM293 146h1v1h-1zM267 147h1v1h-1zM245 148h1v1h-1zM253 149h1v1h-1zM266 149h1v1h-1zM273 149h1v1h-1zM303 149h2v1h-2zM268 150h1v1h-1zM273 150h1v1h-1zM294 150h1v1h-1zM230 151h1v1h-1zM249 152h1v1h-1zM290 152h1v1h-1zM311 152h1v1h-1zM316 152h1v1h-1zM298 153h1v1h-1zM312 153h1v1h-1zM315 153h1v1h-1zM255 154h1v1h-1zM279 154h1v1h-1zM249 155h1v1h-1zM234 156h2v1h-2zM312 156h1v1h-1zM296 157h2v1h-2zM302 157h1v1h-1z"/><path fill="#9c9cd6" d="M260 105h1v1h-1zM259 106h1v1h-1zM319 106h1v1h-1zM321 107h1v1h-1zM229 108h1v1h-1zM249 108h1v1h-1zM261 108h1v1h-1zM294 108h1v1h-1zM301 108h1v1h-1zM323 108h1v1h-1zM296 109h1v1h-1zM302 109h1v1h-1zM318 109h1v1h-1zM251 110h1v1h-1zM296 110h1v1h-1zM317 110h1v1h-1zM231 112h1v1h-1zM232 113h1v1h-1zM267 113h1v1h-1zM280 113h1v1h-1zM290 113h1v1h-1zM292 113h1v1h-1zM294 113h1v1h-1zM315 113h2v1h-2zM246 114h2v1h-2zM250 114h2v1h-2zM311 114h1v1h-1zM236 115h1v1h-1zM252 115h1v1h-1zM269 115h1v1h-1zM272 115h1v1h-1zM317 115h1v1h-1zM270 116h1v1h-1zM289 116h1v1h-1zM247 117h1v1h-1zM282 117h1v1h-1zM277 118h1v1h-1zM288 118h1v1h-1zM315 118h1v1h-1zM275 119h1v1h-1zM283 119h1v1h-1zM297 119h1v1h-1zM318 119h1v1h-1zM290 120h1v1h-1zM315 120h1v1h-1zM299 121h1v1h-1zM255 122h1v1h-1zM257 122h1v1h-1zM261 122h1v1h-1zM238 123h1v1h-1zM301 123h1v1h-1zM317 123h1v1h-1zM323 124h1v1h-1zM234 126h1v1h-1zM237 126h1v1h-1zM316 126h1v1h-1zM317 127h1v1h-1zM321 127h1v1h-1zM256 128h1v1h-1zM287 128h1v1h-1zM317 128h1v1h-1zM240 129h1v1h-1zM265 129h1v1h-1zM293 129h1v1h-1zM261 130h1v1h-1zM316 130h1v1h-1zM247 131h1v1h-1zM254 131h1v1h-1zM256 131h2v1h-2zM288 131h1v1h-1zM309 131h2v1h-2zM308 132h1v1h-1zM310 132h1v1h-1zM256 133h1v1h-1zM289 133h1v1h-1zM310 133h1v1h-1zM254 134h1v1h-1zM275 134h1v1h-1zM282 134h1v1h-1zM305 134h1v1h-1zM318 134h1v1h-1zM242 135h1v1h-1zM249 135h1v1h-1zM276 135h1v1h-1zM287 135h1v1h-1zM295 135h1v1h-1zM230 136h1v1h-1zM270 136h1v1h-1zM294 136h1v1h-1zM229 137h2v1h-2zM233 137h1v1h-1zM265 137h1v1h-1zM269 137h1v1h-1zM285 137h2v1h-2zM324 137h1v1h-1zM242 138h1v1h-1zM250 138h1v1h-1zM270 138h1v1h-1zM276 138h1v1h-1zM286 138h1v1h-1zM313 138h1v1h-1zM229 139h1v1h-1zM275 139h1v1h-1zM242 140h1v1h-1zM262 140h1v1h-1zM312 140h1v1h-1zM243 141h1v1h-1zM251 141h1v1h-1zM283 141h1v1h-1zM242 142h1v1h-1zM244 142h1v1h-1zM283 142h1v1h-1zM286 142h1v1h-1zM289 142h1v1h-1zM282 143h1v1h-1zM302 143h1v1h-1zM243 144h1v1h-1zM281 144h1v1h-1zM318 144h1v1h-1zM270 145h1v1h-1zM269 146h1v1h-1zM292 146h1v1h-1zM319 146h1v1h-1zM257 148h1v1h-1zM267 148h1v1h-1zM269 148h1v1h-1zM303 148h1v1h-1zM229 151h1v1h-1zM251 151h2v1h-2zM230 152h1v1h-1zM257 152h1v1h-1zM272 152h1v1h-1zM312 152h1v1h-1zM315 152h1v1h-1zM254 153h3v1h-3zM266 153h1v1h-1zM297 153h1v1h-1zM229 154h1v1h-1zM244 154h1v1h-1zM300 155h1v1h-1zM315 155h1v1h-1zM236 156h1v1h-1zM248 156h1v1h-1zM236 157h1v1h-1zM278 157h1v1h-1zM300 157h1v1h-1z"/><path fill="#9c9bd3" d="M296 107h1v1h-1zM252 108h1v1h-1zM230 111h1v1h-1zM317 111h1v1h-1zM274 114h1v1h-1zM277 114h1v1h-1zM273 117h1v1h-1zM293 117h2v1h-2zM284 120h1v1h-1zM233 122h1v1h-1zM233 123h1v1h-1zM322 125h1v1h-1zM256 127h1v1h-1zM238 128h1v1h-1zM299 129h1v1h-1zM313 132h1v1h-1zM241 133h1v1h-1zM257 133h1v1h-1zM263 133h1v1h-1zM311 133h1v1h-1zM287 134h1v1h-1zM264 136h1v1h-1zM313 137h1v1h-1zM316 137h1v1h-1zM232 139h1v1h-1zM255 139h1v1h-1zM267 142h2v1h-2zM281 142h1v1h-1zM269 144h1v1h-1zM264 145h1v1h-1zM272 145h1v1h-1zM301 146h1v1h-1zM271 147h1v1h-1zM289 147h1v1h-1zM292 147h2v1h-2zM287 148h1v1h-1zM255 149h1v1h-1zM292 151h1v1h-1zM316 151h1v1h-1zM259 152h1v1h-1zM307 152h1v1h-1zM250 154h1v1h-1zM310 154h1v1h-1zM252 156h1v1h-1zM296 156h1v1h-1zM311 156h1v1h-1zM315 157h1v1h-1z"/><path fill="#9999d3" d="M248 105h1v1h-1zM273 105h1v1h-1zM287 105h2v1h-2zM306 105h1v1h-1zM275 106h1v1h-1zM320 106h1v1h-1zM324 106h1v1h-1zM291 107h1v1h-1zM306 107h1v1h-1zM250 108h1v1h-1zM253 108h1v1h-1zM305 108h1v1h-1zM317 108h1v1h-1zM322 108h1v1h-1zM235 109h1v1h-1zM275 109h1v1h-1zM314 109h1v1h-1zM316 109h1v1h-1zM322 109h1v1h-1zM233 110h1v1h-1zM253 110h1v1h-1zM253 111h1v1h-1zM271 111h1v1h-1zM284 112h1v1h-1zM240 113h1v1h-1zM272 113h1v1h-1zM232 114h1v1h-1zM240 114h2v1h-2zM249 114h1v1h-1zM289 114h1v1h-1zM297 114h1v1h-1zM310 114h1v1h-1zM299 115h1v1h-1zM308 115h1v1h-1zM252 116h1v1h-1zM254 116h1v1h-1zM266 116h1v1h-1zM269 116h1v1h-1zM245 117h1v1h-1zM266 117h1v1h-1zM288 117h1v1h-1zM300 117h1v1h-1zM242 119h1v1h-1zM281 119h1v1h-1zM285 119h1v1h-1zM317 119h1v1h-1zM231 120h1v1h-1zM241 120h1v1h-1zM265 120h2v1h-2zM274 120h1v1h-1zM256 121h2v1h-2zM260 121h1v1h-1zM230 122h1v1h-1zM260 122h1v1h-1zM299 122h1v1h-1zM239 123h1v1h-1zM261 123h2v1h-2zM264 123h1v1h-1zM294 123h1v1h-1zM295 124h1v1h-1zM298 124h2v1h-2zM234 125h1v1h-1zM238 125h1v1h-1zM292 125h1v1h-1zM324 125h1v1h-1zM240 126h1v1h-1zM254 126h1v1h-1zM267 127h1v1h-1zM287 127h1v1h-1zM294 127h1v1h-1zM323 127h1v1h-1zM265 128h1v1h-1zM292 128h1v1h-1zM304 129h1v1h-1zM316 129h1v1h-1zM325 129h1v1h-1zM244 130h1v1h-1zM259 130h1v1h-1zM265 130h1v1h-1zM283 130h1v1h-1zM304 130h1v1h-1zM321 130h1v1h-1zM281 131h2v1h-2zM232 132h1v1h-1zM235 132h1v1h-1zM239 132h1v1h-1zM251 132h1v1h-1zM261 132h1v1h-1zM282 132h1v1h-1zM307 132h1v1h-1zM239 133h1v1h-1zM244 133h1v1h-1zM261 133h1v1h-1zM291 133h1v1h-1zM301 133h1v1h-1zM233 134h1v1h-1zM234 135h1v1h-1zM245 135h1v1h-1zM286 135h1v1h-1zM297 135h1v1h-1zM303 135h2v1h-2zM321 135h1v1h-1zM233 136h1v1h-1zM250 136h1v1h-1zM269 136h1v1h-1zM281 136h1v1h-1zM280 137h1v1h-1zM288 137h1v1h-1zM290 137h1v1h-1zM294 137h1v1h-1zM300 137h1v1h-1zM325 137h1v1h-1zM231 138h1v1h-1zM277 138h1v1h-1zM292 138h1v1h-1zM241 139h1v1h-1zM252 139h1v1h-1zM266 139h1v1h-1zM307 139h1v1h-1zM238 140h1v1h-1zM249 140h1v1h-1zM299 140h1v1h-1zM305 140h1v1h-1zM313 140h1v1h-1zM245 141h1v1h-1zM305 141h1v1h-1zM250 142h1v1h-1zM294 142h1v1h-1zM302 142h1v1h-1zM256 143h1v1h-1zM289 143h1v1h-1zM242 144h1v1h-1zM255 144h1v1h-1zM297 144h1v1h-1zM253 145h1v1h-1zM301 145h1v1h-1zM316 145h1v1h-1zM243 146h1v1h-1zM318 146h1v1h-1zM254 147h1v1h-1zM248 148h1v1h-1zM251 149h1v1h-1zM258 149h1v1h-1zM302 149h1v1h-1zM305 149h1v1h-1zM325 149h1v1h-1zM230 150h1v1h-1zM266 150h1v1h-1zM319 150h2v1h-2zM265 151h1v1h-1zM267 151h1v1h-1zM273 151h1v1h-1zM231 152h1v1h-1zM294 152h2v1h-2zM302 152h1v1h-1zM318 152h1v1h-1zM247 153h1v1h-1zM259 153h1v1h-1zM267 153h1v1h-1zM276 153h2v1h-2zM305 153h1v1h-1zM318 153h1v1h-1zM230 154h1v1h-1zM256 154h2v1h-2zM255 155h1v1h-1zM267 155h1v1h-1zM230 156h1v1h-1zM291 156h1v1h-1zM313 156h1v1h-1zM317 156h1v1h-1zM320 156h1v1h-1zM304 157h1v1h-1zM313 157h1v1h-1zM317 157h1v1h-1zM320 157h1v1h-1z"/><path fill="#9998d0" d="M325 105h1v1h-1zM249 107h1v1h-1zM252 107h1v1h-1zM302 108h1v1h-1zM229 109h1v1h-1zM252 109h1v1h-1zM233 111h1v1h-1zM276 111h1v1h-1zM312 112h1v1h-1zM271 113h1v1h-1zM281 113h2v1h-2zM285 113h1v1h-1zM276 114h1v1h-1zM291 114h1v1h-1zM290 115h1v1h-1zM294 115h1v1h-1zM315 115h1v1h-1zM239 116h1v1h-1zM272 116h1v1h-1zM269 118h1v1h-1zM290 118h1v1h-1zM313 118h1v1h-1zM235 119h1v1h-1zM292 120h1v1h-1zM323 120h1v1h-1zM321 121h1v1h-1zM311 122h1v1h-1zM319 122h1v1h-1zM321 122h1v1h-1zM237 123h1v1h-1zM298 127h2v1h-2zM263 128h1v1h-1zM296 128h1v1h-1zM300 128h1v1h-1zM311 128h1v1h-1zM268 129h1v1h-1zM290 129h1v1h-1zM314 131h2v1h-2zM285 132h1v1h-1zM297 132h1v1h-1zM262 133h1v1h-1zM299 133h2v1h-2zM243 134h1v1h-1zM270 134h1v1h-1zM278 135h1v1h-1zM306 135h1v1h-1zM293 136h1v1h-1zM299 136h1v1h-1zM309 136h1v1h-1zM256 138h1v1h-1zM271 138h1v1h-1zM311 138h1v1h-1zM240 139h1v1h-1zM265 139h1v1h-1zM308 139h1v1h-1zM232 140h1v1h-1zM274 140h1v1h-1zM266 141h1v1h-1zM255 142h1v1h-1zM263 142h1v1h-1zM257 143h1v1h-1zM267 144h1v1h-1zM271 144h1v1h-1zM274 144h1v1h-1zM276 145h1v1h-1zM289 145h1v1h-1zM241 146h1v1h-1zM267 146h1v1h-1zM280 146h1v1h-1zM241 147h1v1h-1zM265 147h1v1h-1zM270 147h1v1h-1zM274 147h1v1h-1zM291 147h1v1h-1zM265 148h1v1h-1zM245 149h1v1h-1zM291 149h1v1h-1zM301 149h1v1h-1zM277 150h1v1h-1zM307 150h1v1h-1zM244 151h1v1h-1zM253 151h1v1h-1zM244 153h1v1h-1zM265 154h1v1h-1zM247 155h1v1h-1zM294 155h1v1h-1zM314 155h1v1h-1zM301 156h1v1h-1z"/><path fill="#9797d1" d="M258 105h1v1h-1zM285 105h2v1h-2zM291 105h1v1h-1zM299 105h1v1h-1zM319 105h1v1h-1zM323 105h1v1h-1zM263 106h1v1h-1zM273 106h1v1h-1zM307 106h1v1h-1zM236 107h1v1h-1zM273 107h1v1h-1zM275 107h2v1h-2zM313 107h1v1h-1zM237 108h1v1h-1zM271 108h1v1h-1zM275 108h1v1h-1zM277 108h1v1h-1zM291 108h1v1h-1zM314 108h1v1h-1zM236 109h2v1h-2zM249 109h2v1h-2zM253 109h1v1h-1zM255 109h1v1h-1zM264 109h1v1h-1zM277 109h1v1h-1zM305 109h1v1h-1zM323 109h1v1h-1zM241 110h2v1h-2zM273 110h2v1h-2zM279 111h1v1h-1zM285 111h1v1h-1zM294 111h1v1h-1zM303 111h1v1h-1zM313 111h1v1h-1zM320 111h1v1h-1zM325 111h1v1h-1zM241 112h1v1h-1zM293 112h1v1h-1zM301 112h1v1h-1zM314 112h1v1h-1zM323 112h1v1h-1zM233 113h1v1h-1zM246 113h1v1h-1zM251 113h1v1h-1zM262 113h1v1h-1zM270 113h1v1h-1zM310 113h1v1h-1zM322 113h2v1h-2zM233 114h1v1h-1zM238 114h2v1h-2zM253 114h1v1h-1zM263 114h1v1h-1zM296 114h1v1h-1zM318 114h1v1h-1zM238 115h1v1h-1zM241 115h1v1h-1zM246 115h1v1h-1zM254 115h1v1h-1zM266 115h1v1h-1zM297 115h2v1h-2zM309 115h1v1h-1zM316 115h1v1h-1zM234 116h1v1h-1zM240 116h1v1h-1zM244 116h1v1h-1zM285 116h1v1h-1zM287 116h1v1h-1zM310 116h1v1h-1zM317 116h1v1h-1zM233 117h2v1h-2zM253 117h1v1h-1zM315 117h1v1h-1zM325 117h1v1h-1zM249 118h1v1h-1zM255 118h1v1h-1zM265 118h1v1h-1zM268 118h1v1h-1zM284 118h1v1h-1zM301 118h1v1h-1zM244 119h1v1h-1zM264 119h1v1h-1zM304 119h1v1h-1zM240 120h1v1h-1zM273 120h1v1h-1zM297 120h1v1h-1zM299 120h1v1h-1zM304 120h1v1h-1zM262 121h1v1h-1zM267 121h1v1h-1zM273 121h1v1h-1zM281 121h1v1h-1zM286 121h1v1h-1zM294 121h1v1h-1zM298 121h1v1h-1zM305 121h2v1h-2zM229 122h1v1h-1zM237 122h1v1h-1zM241 122h1v1h-1zM256 122h1v1h-1zM267 122h1v1h-1zM298 122h1v1h-1zM302 122h1v1h-1zM314 123h1v1h-1zM241 124h1v1h-1zM248 124h1v1h-1zM254 124h1v1h-1zM263 124h1v1h-1zM281 124h1v1h-1zM293 124h1v1h-1zM297 124h1v1h-1zM300 124h2v1h-2zM307 124h1v1h-1zM316 124h1v1h-1zM229 125h1v1h-1zM231 125h1v1h-1zM254 125h1v1h-1zM293 125h3v1h-3zM315 125h1v1h-1zM239 126h1v1h-1zM256 126h1v1h-1zM258 126h1v1h-1zM266 126h2v1h-2zM291 126h1v1h-1zM293 126h3v1h-3zM306 126h1v1h-1zM324 126h1v1h-1zM241 127h2v1h-2zM246 127h2v1h-2zM258 127h2v1h-2zM268 127h3v1h-3zM283 127h1v1h-1zM308 127h1v1h-1zM231 128h1v1h-1zM241 128h1v1h-1zM258 128h1v1h-1zM268 128h2v1h-2zM305 128h1v1h-1zM316 128h1v1h-1zM318 128h1v1h-1zM322 128h2v1h-2zM235 129h1v1h-1zM243 129h1v1h-1zM258 129h1v1h-1zM269 129h1v1h-1zM286 129h1v1h-1zM306 129h1v1h-1zM319 129h1v1h-1zM322 129h1v1h-1zM241 130h1v1h-1zM270 130h1v1h-1zM319 130h1v1h-1zM322 130h1v1h-1zM245 131h1v1h-1zM248 131h1v1h-1zM252 131h1v1h-1zM262 131h1v1h-1zM278 131h1v1h-1zM308 131h1v1h-1zM320 131h1v1h-1zM234 132h1v1h-1zM243 132h1v1h-1zM281 132h1v1h-1zM317 132h1v1h-1zM234 133h1v1h-1zM250 133h1v1h-1zM271 133h2v1h-2zM274 133h2v1h-2zM317 133h1v1h-1zM238 134h1v1h-1zM250 134h1v1h-1zM271 134h1v1h-1zM281 134h1v1h-1zM321 134h1v1h-1zM252 135h1v1h-1zM292 135h1v1h-1zM296 135h1v1h-1zM243 136h1v1h-1zM266 136h1v1h-1zM288 136h1v1h-1zM295 136h1v1h-1zM297 136h1v1h-1zM305 136h1v1h-1zM231 137h2v1h-2zM242 137h2v1h-2zM250 137h1v1h-1zM284 137h1v1h-1zM303 137h2v1h-2zM323 137h1v1h-1zM248 138h1v1h-1zM290 138h2v1h-2zM293 138h1v1h-1zM301 138h1v1h-1zM304 138h1v1h-1zM238 139h2v1h-2zM245 139h1v1h-1zM299 139h1v1h-1zM305 139h2v1h-2zM234 140h2v1h-2zM251 140h1v1h-1zM260 140h1v1h-1zM237 141h2v1h-2zM259 141h1v1h-1zM298 141h1v1h-1zM309 141h1v1h-1zM317 141h1v1h-1zM320 141h1v1h-1zM231 142h2v1h-2zM284 142h1v1h-1zM290 142h1v1h-1zM305 142h1v1h-1zM318 142h1v1h-1zM240 143h1v1h-1zM251 143h1v1h-1zM258 143h1v1h-1zM306 143h1v1h-1zM252 144h1v1h-1zM311 144h2v1h-2zM233 145h1v1h-1zM239 145h1v1h-1zM242 145h1v1h-1zM254 145h1v1h-1zM284 145h1v1h-1zM287 145h1v1h-1zM245 146h1v1h-1zM317 146h1v1h-1zM255 147h1v1h-1zM241 148h1v1h-1zM243 148h1v1h-1zM247 148h1v1h-1zM285 148h1v1h-1zM304 148h2v1h-2zM311 148h1v1h-1zM319 148h1v1h-1zM250 149h1v1h-1zM269 149h1v1h-1zM283 149h2v1h-2zM306 149h1v1h-1zM317 149h1v1h-1zM229 150h1v1h-1zM253 150h1v1h-1zM267 150h1v1h-1zM317 150h1v1h-1zM231 151h1v1h-1zM278 151h1v1h-1zM280 151h1v1h-1zM288 151h1v1h-1zM297 151h1v1h-1zM302 151h1v1h-1zM320 151h1v1h-1zM268 152h1v1h-1zM281 152h1v1h-1zM298 152h2v1h-2zM230 153h2v1h-2zM268 153h2v1h-2zM275 153h1v1h-1zM280 153h1v1h-1zM289 153h1v1h-1zM299 153h1v1h-1zM303 153h1v1h-1zM237 154h1v1h-1zM248 154h1v1h-1zM259 154h2v1h-2zM263 154h1v1h-1zM267 154h1v1h-1zM281 154h1v1h-1zM319 154h1v1h-1zM229 155h1v1h-1zM236 155h1v1h-1zM243 155h1v1h-1zM245 155h1v1h-1zM279 155h2v1h-2zM291 155h1v1h-1zM316 155h1v1h-1zM229 156h1v1h-1zM233 156h1v1h-1zM237 156h1v1h-1zM292 156h1v1h-1zM321 156h1v1h-1zM325 156h1v1h-1zM237 157h1v1h-1zM244 157h1v1h-1zM265 157h1v1h-1zM267 157h1v1h-1zM276 157h1v1h-1zM294 157h2v1h-2zM318 157h1v1h-1zM321 157h2v1h-2z"/><path fill="#9696cf" d="M290 105h1v1h-1zM297 105h2v1h-2zM287 106h2v1h-2zM299 106h1v1h-1zM309 106h1v1h-1zM321 106h1v1h-1zM229 107h2v1h-2zM277 107h1v1h-1zM287 107h2v1h-2zM299 107h1v1h-1zM305 107h1v1h-1zM315 107h1v1h-1zM235 108h1v1h-1zM238 108h2v1h-2zM242 108h2v1h-2zM262 108h2v1h-2zM303 108h2v1h-2zM310 108h2v1h-2zM313 108h1v1h-1zM316 108h1v1h-1zM254 109h1v1h-1zM265 109h2v1h-2zM276 109h1v1h-1zM291 109h1v1h-1zM270 110h1v1h-1zM279 110h1v1h-1zM282 110h1v1h-1zM287 110h1v1h-1zM290 110h1v1h-1zM313 110h1v1h-1zM249 111h1v1h-1zM280 111h1v1h-1zM287 112h1v1h-1zM320 113h1v1h-1zM236 114h1v1h-1zM244 114h1v1h-1zM254 114h1v1h-1zM322 114h1v1h-1zM302 115h1v1h-1zM304 115h1v1h-1zM318 115h1v1h-1zM321 115h1v1h-1zM323 115h1v1h-1zM241 116h1v1h-1zM258 116h1v1h-1zM291 116h1v1h-1zM303 116h2v1h-2zM306 116h1v1h-1zM324 116h1v1h-1zM255 117h1v1h-1zM306 117h1v1h-1zM311 117h1v1h-1zM316 117h1v1h-1zM246 118h1v1h-1zM254 118h1v1h-1zM270 118h1v1h-1zM322 118h1v1h-1zM250 120h1v1h-1zM275 120h1v1h-1zM274 121h1v1h-1zM282 121h1v1h-1zM285 121h1v1h-1zM300 121h1v1h-1zM304 121h1v1h-1zM249 122h1v1h-1zM254 122h1v1h-1zM308 122h1v1h-1zM298 123h1v1h-1zM311 124h1v1h-1zM314 124h1v1h-1zM317 124h1v1h-1zM256 125h1v1h-1zM260 125h1v1h-1zM264 125h1v1h-1zM300 125h2v1h-2zM231 126h1v1h-1zM241 126h1v1h-1zM253 126h1v1h-1zM309 126h2v1h-2zM229 127h1v1h-1zM266 127h1v1h-1zM271 127h1v1h-1zM290 127h1v1h-1zM292 127h2v1h-2zM303 127h1v1h-1zM314 127h1v1h-1zM252 128h1v1h-1zM259 128h1v1h-1zM280 129h1v1h-1zM300 129h1v1h-1zM324 129h1v1h-1zM232 130h1v1h-1zM249 130h1v1h-1zM258 130h1v1h-1zM281 130h1v1h-1zM317 130h1v1h-1zM235 131h1v1h-1zM283 131h1v1h-1zM317 131h2v1h-2zM325 131h1v1h-1zM236 132h1v1h-1zM242 132h1v1h-1zM276 132h1v1h-1zM235 133h1v1h-1zM278 133h1v1h-1zM281 133h1v1h-1zM302 133h1v1h-1zM318 133h1v1h-1zM272 134h1v1h-1zM291 135h1v1h-1zM324 135h1v1h-1zM277 136h1v1h-1zM291 136h1v1h-1zM298 136h1v1h-1zM316 136h1v1h-1zM249 137h1v1h-1zM287 137h1v1h-1zM243 138h1v1h-1zM294 138h1v1h-1zM300 138h1v1h-1zM305 138h1v1h-1zM271 139h1v1h-1zM296 139h1v1h-1zM309 139h1v1h-1zM325 139h1v1h-1zM245 140h1v1h-1zM294 140h1v1h-1zM324 140h1v1h-1zM236 141h1v1h-1zM290 141h2v1h-2zM300 141h1v1h-1zM318 141h1v1h-1zM230 142h1v1h-1zM291 142h1v1h-1zM305 143h1v1h-1zM310 143h2v1h-2zM303 144h1v1h-1zM325 144h1v1h-1zM285 145h1v1h-1zM302 145h1v1h-1zM317 145h1v1h-1zM253 146h1v1h-1zM266 146h1v1h-1zM284 146h1v1h-1zM303 146h1v1h-1zM315 146h1v1h-1zM315 147h1v1h-1zM240 148h1v1h-1zM249 148h1v1h-1zM251 148h1v1h-1zM286 149h1v1h-1zM293 149h1v1h-1zM311 149h1v1h-1zM318 149h1v1h-1zM261 150h1v1h-1zM304 150h1v1h-1zM245 151h1v1h-1zM279 151h1v1h-1zM286 151h1v1h-1zM312 151h1v1h-1zM318 151h1v1h-1zM266 152h1v1h-1zM279 152h2v1h-2zM303 152h1v1h-1zM324 152h1v1h-1zM261 153h1v1h-1zM279 153h1v1h-1zM281 153h1v1h-1zM235 154h1v1h-1zM261 154h1v1h-1zM274 154h1v1h-1zM286 154h1v1h-1zM234 155h1v1h-1zM324 155h1v1h-1zM244 156h1v1h-1zM275 156h1v1h-1zM277 156h1v1h-1zM235 157h1v1h-1zM275 157h1v1h-1zM286 157h1v1h-1zM299 157h1v1h-1z"/><path fill="#9894c5" d="M294 105h1v1h-1zM303 105h1v1h-1zM315 105h2v1h-2zM324 105h1v1h-1zM305 106h1v1h-1zM301 107h1v1h-1zM257 108h1v1h-1zM293 108h1v1h-1zM292 109h1v1h-1zM232 110h1v1h-1zM324 110h1v1h-1zM290 111h1v1h-1zM297 111h2v1h-2zM319 111h1v1h-1zM290 112h1v1h-1zM324 112h1v1h-1zM238 113h1v1h-1zM250 113h1v1h-1zM289 113h1v1h-1zM295 113h1v1h-1zM312 113h1v1h-1zM270 114h1v1h-1zM308 114h1v1h-1zM312 114h1v1h-1zM320 114h1v1h-1zM280 115h1v1h-1zM282 116h1v1h-1zM313 116h1v1h-1zM270 117h1v1h-1zM267 118h1v1h-1zM289 118h1v1h-1zM293 118h1v1h-1zM310 118h1v1h-1zM312 118h1v1h-1zM325 118h1v1h-1zM234 119h1v1h-1zM230 121h1v1h-1zM234 121h1v1h-1zM316 121h1v1h-1zM323 121h1v1h-1zM265 122h1v1h-1zM318 122h1v1h-1zM320 122h1v1h-1zM323 122h1v1h-1zM288 123h1v1h-1zM318 123h1v1h-1zM255 124h1v1h-1zM313 124h1v1h-1zM250 125h1v1h-1zM281 125h1v1h-1zM319 125h1v1h-1zM297 126h1v1h-1zM319 126h1v1h-1zM261 127h1v1h-1zM324 127h1v1h-1zM253 128h1v1h-1zM290 128h2v1h-2zM295 128h1v1h-1zM313 128h1v1h-1zM239 129h1v1h-1zM261 129h1v1h-1zM312 129h1v1h-1zM314 129h1v1h-1zM246 130h1v1h-1zM297 130h1v1h-1zM300 130h3v1h-3zM231 131h1v1h-1zM238 131h2v1h-2zM265 131h1v1h-1zM298 131h1v1h-1zM237 132h1v1h-1zM258 132h1v1h-1zM299 132h1v1h-1zM321 132h1v1h-1zM229 133h1v1h-1zM259 133h1v1h-1zM290 133h1v1h-1zM296 133h1v1h-1zM305 133h2v1h-2zM322 133h1v1h-1zM266 134h1v1h-1zM269 134h1v1h-1zM314 134h1v1h-1zM236 135h1v1h-1zM281 135h1v1h-1zM313 135h1v1h-1zM240 136h1v1h-1zM257 136h1v1h-1zM278 136h1v1h-1zM282 136h1v1h-1zM284 136h1v1h-1zM306 136h1v1h-1zM315 136h1v1h-1zM238 137h1v1h-1zM263 137h1v1h-1zM273 137h1v1h-1zM317 137h1v1h-1zM235 138h1v1h-1zM238 138h1v1h-1zM245 138h1v1h-1zM257 138h2v1h-2zM314 138h1v1h-1zM319 138h1v1h-1zM279 139h1v1h-1zM282 139h1v1h-1zM288 139h2v1h-2zM315 140h1v1h-1zM232 141h1v1h-1zM234 141h2v1h-2zM264 141h1v1h-1zM269 141h1v1h-1zM272 141h1v1h-1zM288 141h1v1h-1zM229 142h1v1h-1zM260 142h1v1h-1zM269 142h2v1h-2zM300 142h1v1h-1zM259 143h1v1h-1zM262 143h1v1h-1zM266 143h1v1h-1zM295 143h1v1h-1zM303 143h1v1h-1zM319 143h2v1h-2zM266 144h1v1h-1zM279 144h1v1h-1zM284 144h1v1h-1zM298 144h1v1h-1zM244 145h1v1h-1zM257 145h1v1h-1zM291 145h2v1h-2zM322 145h1v1h-1zM242 146h1v1h-1zM268 146h1v1h-1zM300 146h1v1h-1zM321 146h1v1h-1zM262 147h1v1h-1zM280 147h1v1h-1zM325 147h1v1h-1zM261 148h2v1h-2zM272 148h1v1h-1zM279 148h2v1h-2zM286 148h1v1h-1zM290 148h1v1h-1zM254 149h1v1h-1zM261 149h1v1h-1zM282 149h1v1h-1zM272 150h1v1h-1zM281 150h1v1h-1zM301 150h1v1h-1zM312 150h1v1h-1zM271 151h1v1h-1zM305 151h1v1h-1zM255 152h1v1h-1zM292 152h1v1h-1zM245 153h2v1h-2zM273 153h2v1h-2zM321 153h1v1h-1zM252 154h1v1h-1zM266 154h1v1h-1zM273 154h1v1h-1zM287 154h1v1h-1zM300 154h1v1h-1zM312 155h1v1h-1zM231 156h1v1h-1zM290 156h1v1h-1zM316 156h1v1h-1zM247 157h1v1h-1zM254 157h1v1h-1zM269 157h1v1h-1zM324 157h1v1h-1z"/><path fill="#9595cf" d="M229 105h1v1h-1zM231 105h1v1h-1zM235 105h1v1h-1zM247 105h1v1h-1zM282 105h1v1h-1zM230 106h1v1h-1zM247 106h1v1h-1zM286 106h1v1h-1zM290 106h1v1h-1zM298 106h1v1h-1zM313 106h1v1h-1zM264 107h1v1h-1zM282 107h1v1h-1zM307 107h1v1h-1zM240 108h1v1h-1zM273 108h2v1h-2zM292 108h1v1h-1zM299 108h1v1h-1zM242 109h1v1h-1zM244 109h1v1h-1zM259 109h2v1h-2zM267 109h1v1h-1zM290 109h1v1h-1zM234 110h1v1h-1zM259 110h1v1h-1zM264 110h1v1h-1zM266 110h1v1h-1zM275 110h1v1h-1zM280 110h2v1h-2zM305 110h2v1h-2zM315 110h2v1h-2zM235 111h1v1h-1zM241 111h1v1h-1zM248 111h1v1h-1zM270 111h1v1h-1zM275 111h1v1h-1zM312 111h1v1h-1zM235 112h1v1h-1zM240 112h1v1h-1zM260 112h1v1h-1zM305 112h1v1h-1zM241 113h2v1h-2zM244 113h1v1h-1zM306 113h1v1h-1zM242 114h1v1h-1zM245 114h1v1h-1zM302 114h1v1h-1zM304 114h1v1h-1zM240 115h1v1h-1zM242 115h1v1h-1zM303 115h1v1h-1zM242 116h1v1h-1zM259 116h1v1h-1zM300 116h1v1h-1zM305 116h1v1h-1zM308 116h1v1h-1zM315 116h2v1h-2zM322 116h1v1h-1zM242 117h3v1h-3zM254 117h1v1h-1zM261 117h1v1h-1zM265 117h1v1h-1zM287 117h1v1h-1zM308 117h1v1h-1zM310 117h1v1h-1zM247 118h1v1h-1zM261 118h1v1h-1zM305 118h2v1h-2zM316 118h1v1h-1zM249 119h1v1h-1zM255 119h1v1h-1zM260 119h1v1h-1zM269 119h1v1h-1zM305 119h2v1h-2zM261 120h2v1h-2zM300 120h1v1h-1zM303 120h1v1h-1zM305 120h2v1h-2zM314 120h1v1h-1zM241 121h1v1h-1zM261 121h1v1h-1zM269 121h1v1h-1zM290 121h1v1h-1zM301 121h1v1h-1zM303 121h1v1h-1zM307 121h1v1h-1zM314 121h1v1h-1zM268 122h1v1h-1zM270 122h1v1h-1zM290 122h1v1h-1zM294 122h1v1h-1zM307 122h1v1h-1zM314 122h1v1h-1zM249 123h1v1h-1zM287 123h1v1h-1zM305 123h1v1h-1zM249 124h2v1h-2zM286 124h1v1h-1zM292 124h1v1h-1zM240 125h1v1h-1zM255 125h1v1h-1zM259 125h1v1h-1zM265 125h1v1h-1zM317 125h1v1h-1zM249 126h1v1h-1zM264 126h1v1h-1zM269 126h1v1h-1zM290 126h1v1h-1zM306 127h1v1h-1zM322 127h1v1h-1zM275 128h2v1h-2zM308 128h2v1h-2zM324 128h1v1h-1zM233 129h2v1h-2zM307 129h1v1h-1zM320 129h1v1h-1zM323 129h1v1h-1zM235 130h2v1h-2zM248 130h1v1h-1zM275 130h1v1h-1zM280 130h1v1h-1zM306 130h1v1h-1zM323 130h1v1h-1zM325 130h1v1h-1zM236 131h1v1h-1zM244 131h1v1h-1zM251 131h1v1h-1zM280 131h1v1h-1zM233 132h1v1h-1zM270 132h2v1h-2zM274 132h1v1h-1zM277 132h1v1h-1zM233 133h1v1h-1zM253 133h1v1h-1zM253 135h1v1h-1zM268 136h1v1h-1zM292 136h1v1h-1zM321 136h3v1h-3zM266 137h1v1h-1zM289 137h1v1h-1zM296 137h1v1h-1zM305 137h1v1h-1zM289 138h1v1h-1zM246 139h2v1h-2zM300 139h1v1h-1zM302 139h1v1h-1zM298 140h1v1h-1zM325 140h1v1h-1zM239 141h1v1h-1zM248 141h2v1h-2zM252 141h1v1h-1zM292 141h2v1h-2zM308 141h1v1h-1zM323 141h1v1h-1zM236 142h1v1h-1zM240 142h1v1h-1zM299 142h1v1h-1zM303 142h1v1h-1zM313 142h1v1h-1zM317 142h1v1h-1zM230 143h1v1h-1zM241 143h2v1h-2zM247 143h1v1h-1zM252 143h1v1h-1zM312 143h2v1h-2zM316 143h3v1h-3zM232 144h1v1h-1zM234 144h1v1h-1zM239 144h1v1h-1zM302 144h1v1h-1zM313 144h1v1h-1zM234 145h1v1h-1zM312 145h1v1h-1zM252 146h1v1h-1zM310 146h1v1h-1zM316 146h1v1h-1zM248 147h2v1h-2zM284 147h1v1h-1zM318 147h2v1h-2zM284 148h1v1h-1zM318 148h1v1h-1zM234 149h1v1h-1zM241 149h2v1h-2zM285 149h1v1h-1zM319 149h1v1h-1zM324 149h1v1h-1zM318 150h1v1h-1zM324 150h2v1h-2zM268 151h1v1h-1zM281 151h2v1h-2zM323 151h1v1h-1zM267 152h1v1h-1zM243 153h1v1h-1zM285 153h2v1h-2zM319 153h1v1h-1zM232 154h1v1h-1zM262 154h1v1h-1zM282 154h1v1h-1zM299 154h1v1h-1zM320 154h2v1h-2zM244 155h1v1h-1zM257 155h1v1h-1zM274 155h1v1h-1zM282 155h1v1h-1zM299 155h1v1h-1zM321 155h3v1h-3zM325 155h1v1h-1zM243 156h1v1h-1zM258 156h1v1h-1zM261 156h1v1h-1zM271 156h1v1h-1zM299 156h1v1h-1zM322 156h1v1h-1zM229 157h1v1h-1zM243 157h1v1h-1zM255 157h1v1h-1zM264 157h1v1h-1zM285 157h1v1h-1zM290 157h2v1h-2z"/><path fill="#9393cc" d="M230 105h1v1h-1zM238 105h1v1h-1zM246 105h1v1h-1zM269 105h1v1h-1zM279 105h1v1h-1zM289 105h1v1h-1zM229 106h1v1h-1zM240 106h1v1h-1zM246 106h1v1h-1zM250 106h1v1h-1zM267 106h1v1h-1zM269 106h1v1h-1zM280 106h1v1h-1zM291 106h1v1h-1zM312 106h1v1h-1zM322 106h1v1h-1zM240 107h1v1h-1zM265 107h2v1h-2zM281 107h1v1h-1zM289 107h2v1h-2zM309 107h1v1h-1zM316 107h1v1h-1zM234 108h1v1h-1zM266 108h1v1h-1zM272 108h1v1h-1zM281 108h1v1h-1zM283 108h1v1h-1zM290 108h1v1h-1zM306 108h2v1h-2zM312 108h1v1h-1zM315 108h1v1h-1zM321 108h1v1h-1zM241 109h1v1h-1zM261 109h1v1h-1zM268 109h1v1h-1zM273 109h2v1h-2zM281 109h1v1h-1zM308 109h1v1h-1zM311 109h1v1h-1zM315 109h1v1h-1zM245 110h1v1h-1zM255 110h1v1h-1zM260 110h1v1h-1zM263 110h1v1h-1zM265 110h1v1h-1zM276 110h1v1h-1zM283 110h1v1h-1zM286 110h1v1h-1zM314 110h1v1h-1zM238 111h1v1h-1zM240 111h1v1h-1zM284 111h1v1h-1zM304 111h1v1h-1zM262 112h1v1h-1zM264 112h1v1h-1zM303 112h1v1h-1zM310 112h1v1h-1zM237 113h1v1h-1zM243 113h1v1h-1zM249 113h1v1h-1zM257 113h1v1h-1zM291 113h1v1h-1zM298 113h1v1h-1zM301 113h2v1h-2zM304 113h1v1h-1zM243 114h1v1h-1zM255 114h1v1h-1zM298 114h2v1h-2zM303 114h1v1h-1zM255 115h1v1h-1zM261 115h1v1h-1zM307 115h1v1h-1zM322 115h1v1h-1zM243 116h1v1h-1zM255 116h1v1h-1zM302 116h1v1h-1zM307 116h1v1h-1zM309 116h1v1h-1zM323 116h1v1h-1zM325 116h1v1h-1zM240 117h1v1h-1zM259 117h1v1h-1zM303 117h1v1h-1zM307 117h1v1h-1zM243 118h3v1h-3zM253 118h1v1h-1zM262 118h1v1h-1zM317 118h1v1h-1zM243 119h1v1h-1zM245 119h2v1h-2zM251 119h3v1h-3zM262 119h1v1h-1zM280 119h1v1h-1zM301 119h1v1h-1zM237 120h1v1h-1zM239 120h1v1h-1zM256 120h1v1h-1zM260 120h1v1h-1zM269 120h1v1h-1zM272 120h1v1h-1zM301 120h2v1h-2zM310 120h1v1h-1zM237 121h1v1h-1zM249 121h2v1h-2zM268 121h1v1h-1zM270 121h1v1h-1zM275 121h2v1h-2zM293 121h1v1h-1zM302 121h1v1h-1zM242 122h1v1h-1zM248 122h1v1h-1zM269 122h1v1h-1zM274 122h3v1h-3zM279 122h1v1h-1zM284 122h2v1h-2zM293 122h1v1h-1zM305 122h2v1h-2zM241 123h1v1h-1zM246 123h1v1h-1zM248 123h1v1h-1zM269 123h1v1h-1zM272 123h1v1h-1zM277 123h1v1h-1zM283 123h1v1h-1zM286 123h1v1h-1zM290 123h4v1h-4zM306 123h1v1h-1zM315 123h2v1h-2zM247 124h1v1h-1zM253 124h1v1h-1zM270 124h1v1h-1zM273 124h1v1h-1zM282 124h1v1h-1zM291 124h1v1h-1zM308 124h1v1h-1zM315 124h1v1h-1zM253 125h1v1h-1zM267 125h5v1h-5zM283 125h1v1h-1zM291 125h1v1h-1zM303 125h1v1h-1zM246 126h2v1h-2zM252 126h1v1h-1zM259 126h1v1h-1zM265 126h1v1h-1zM270 126h1v1h-1zM280 126h1v1h-1zM283 126h1v1h-1zM311 126h1v1h-1zM249 127h1v1h-1zM252 127h1v1h-1zM272 127h1v1h-1zM275 127h1v1h-1zM309 127h1v1h-1zM249 128h1v1h-1zM264 128h1v1h-1zM272 128h2v1h-2zM277 128h1v1h-1zM279 128h1v1h-1zM303 128h1v1h-1zM260 129h1v1h-1zM270 129h3v1h-3zM277 129h1v1h-1zM234 130h1v1h-1zM262 130h1v1h-1zM273 130h2v1h-2zM276 130h1v1h-1zM282 130h1v1h-1zM286 130h1v1h-1zM324 130h1v1h-1zM234 131h1v1h-1zM249 131h1v1h-1zM274 131h4v1h-4zM279 131h1v1h-1zM275 132h1v1h-1zM279 132h1v1h-1zM320 132h1v1h-1zM325 132h1v1h-1zM316 133h1v1h-1zM319 133h1v1h-1zM232 134h1v1h-1zM244 134h1v1h-1zM253 134h1v1h-1zM291 134h1v1h-1zM322 134h1v1h-1zM250 135h1v1h-1zM319 135h1v1h-1zM322 135h1v1h-1zM232 136h1v1h-1zM267 136h1v1h-1zM280 136h1v1h-1zM304 136h1v1h-1zM324 136h2v1h-2zM251 137h1v1h-1zM277 137h1v1h-1zM295 137h1v1h-1zM322 137h1v1h-1zM247 138h1v1h-1zM296 138h1v1h-1zM302 138h1v1h-1zM297 139h2v1h-2zM246 140h1v1h-1zM248 140h1v1h-1zM300 140h1v1h-1zM302 140h1v1h-1zM319 140h3v1h-3zM246 141h1v1h-1zM289 141h1v1h-1zM319 141h1v1h-1zM233 142h1v1h-1zM237 142h1v1h-1zM239 142h1v1h-1zM246 142h2v1h-2zM251 142h2v1h-2zM292 142h1v1h-1zM295 142h1v1h-1zM323 142h1v1h-1zM237 143h3v1h-3zM250 143h1v1h-1zM253 143h1v1h-1zM284 143h1v1h-1zM244 144h1v1h-1zM246 144h1v1h-1zM250 144h2v1h-2zM300 144h1v1h-1zM235 145h1v1h-1zM246 145h1v1h-1zM251 145h2v1h-2zM308 145h1v1h-1zM315 145h1v1h-1zM234 146h1v1h-1zM247 146h1v1h-1zM286 146h1v1h-1zM308 146h2v1h-2zM230 147h2v1h-2zM253 147h1v1h-1zM309 147h2v1h-2zM230 148h1v1h-1zM232 148h1v1h-1zM239 148h1v1h-1zM250 148h1v1h-1zM306 148h1v1h-1zM314 148h1v1h-1zM321 148h1v1h-1zM230 149h1v1h-1zM233 149h1v1h-1zM240 149h1v1h-1zM320 149h1v1h-1zM232 150h1v1h-1zM236 150h2v1h-2zM258 150h1v1h-1zM284 150h1v1h-1zM235 151h1v1h-1zM237 151h1v1h-1zM283 151h2v1h-2zM287 151h1v1h-1zM235 152h2v1h-2zM239 152h1v1h-1zM243 152h1v1h-1zM260 152h2v1h-2zM286 152h1v1h-1zM323 152h1v1h-1zM235 153h2v1h-2zM262 153h1v1h-1zM278 153h1v1h-1zM243 154h1v1h-1zM290 154h1v1h-1zM325 154h1v1h-1zM260 155h1v1h-1zM281 155h1v1h-1zM298 155h1v1h-1zM304 155h1v1h-1zM257 156h1v1h-1zM270 156h1v1h-1zM276 156h1v1h-1zM284 156h1v1h-1zM286 156h1v1h-1zM289 156h1v1h-1zM297 156h1v1h-1zM270 157h1v1h-1zM319 157h1v1h-1z"/><path fill="#948fc3" d="M237 105h1v1h-1zM277 105h1v1h-1zM245 106h1v1h-1zM317 106h1v1h-1zM239 107h1v1h-1zM247 107h1v1h-1zM256 107h1v1h-1zM298 107h1v1h-1zM304 107h1v1h-1zM314 107h1v1h-1zM318 107h1v1h-1zM320 107h1v1h-1zM232 108h2v1h-2zM244 108h1v1h-1zM232 109h1v1h-1zM278 109h1v1h-1zM288 110h2v1h-2zM291 110h1v1h-1zM322 110h1v1h-1zM254 111h1v1h-1zM257 111h1v1h-1zM239 112h1v1h-1zM253 112h1v1h-1zM270 112h1v1h-1zM282 112h1v1h-1zM289 112h1v1h-1zM298 112h1v1h-1zM318 112h1v1h-1zM321 112h1v1h-1zM275 113h1v1h-1zM277 113h1v1h-1zM308 113h1v1h-1zM261 114h1v1h-1zM286 114h1v1h-1zM232 115h1v1h-1zM250 115h1v1h-1zM284 115h1v1h-1zM292 115h1v1h-1zM245 116h1v1h-1zM299 116h1v1h-1zM262 117h1v1h-1zM299 117h1v1h-1zM320 117h1v1h-1zM322 117h1v1h-1zM324 117h1v1h-1zM230 118h1v1h-1zM236 118h2v1h-2zM264 118h1v1h-1zM302 118h1v1h-1zM304 118h1v1h-1zM318 118h1v1h-1zM323 118h1v1h-1zM231 119h1v1h-1zM254 119h1v1h-1zM292 119h1v1h-1zM302 119h2v1h-2zM312 119h1v1h-1zM322 119h1v1h-1zM233 120h1v1h-1zM255 120h1v1h-1zM229 121h1v1h-1zM231 121h1v1h-1zM242 121h1v1h-1zM263 121h1v1h-1zM266 121h1v1h-1zM313 121h1v1h-1zM263 122h1v1h-1zM291 122h1v1h-1zM324 122h1v1h-1zM260 123h1v1h-1zM265 123h1v1h-1zM323 123h3v1h-3zM239 124h2v1h-2zM251 124h1v1h-1zM324 124h1v1h-1zM232 125h1v1h-1zM241 125h1v1h-1zM249 125h1v1h-1zM252 125h1v1h-1zM298 125h1v1h-1zM302 125h1v1h-1zM311 125h1v1h-1zM248 126h1v1h-1zM285 126h1v1h-1zM300 126h2v1h-2zM303 126h1v1h-1zM233 127h1v1h-1zM245 127h1v1h-1zM250 127h1v1h-1zM254 127h1v1h-1zM260 127h1v1h-1zM263 127h1v1h-1zM274 127h1v1h-1zM282 127h1v1h-1zM315 127h1v1h-1zM285 128h1v1h-1zM306 128h1v1h-1zM310 128h1v1h-1zM275 129h1v1h-1zM264 130h1v1h-1zM284 130h1v1h-1zM232 131h1v1h-1zM302 131h1v1h-1zM306 131h1v1h-1zM263 132h1v1h-1zM269 132h1v1h-1zM246 133h1v1h-1zM267 134h1v1h-1zM292 134h1v1h-1zM312 134h1v1h-1zM256 135h1v1h-1zM320 135h1v1h-1zM325 135h1v1h-1zM251 136h1v1h-1zM255 136h1v1h-1zM258 136h1v1h-1zM274 136h1v1h-1zM276 136h1v1h-1zM262 137h1v1h-1zM268 137h1v1h-1zM274 137h1v1h-1zM279 137h1v1h-1zM281 137h1v1h-1zM320 137h2v1h-2zM232 138h1v1h-1zM246 138h1v1h-1zM268 138h1v1h-1zM235 139h1v1h-1zM266 140h1v1h-1zM307 140h1v1h-1zM245 142h1v1h-1zM306 142h1v1h-1zM232 143h1v1h-1zM296 143h1v1h-1zM299 143h1v1h-1zM315 143h1v1h-1zM272 144h1v1h-1zM286 144h2v1h-2zM314 144h1v1h-1zM232 145h1v1h-1zM245 145h1v1h-1zM263 145h1v1h-1zM286 145h1v1h-1zM325 145h1v1h-1zM246 146h1v1h-1zM294 146h2v1h-2zM320 146h1v1h-1zM325 146h1v1h-1zM232 147h1v1h-1zM316 147h1v1h-1zM312 148h1v1h-1zM315 148h1v1h-1zM320 148h1v1h-1zM246 149h1v1h-1zM263 149h1v1h-1zM308 149h1v1h-1zM239 150h2v1h-2zM247 150h1v1h-1zM299 150h1v1h-1zM310 150h1v1h-1zM314 150h1v1h-1zM241 151h1v1h-1zM249 151h1v1h-1zM258 151h2v1h-2zM296 151h1v1h-1zM321 151h1v1h-1zM253 152h1v1h-1zM258 152h1v1h-1zM270 152h1v1h-1zM276 152h1v1h-1zM314 152h1v1h-1zM320 153h1v1h-1zM245 154h1v1h-1zM301 154h1v1h-1zM239 155h1v1h-1zM272 155h1v1h-1zM275 155h1v1h-1zM266 156h1v1h-1zM310 156h1v1h-1zM318 156h1v1h-1zM324 156h1v1h-1zM301 157h1v1h-1z"/><path fill="#968eb7" d="M252 105h2v1h-2zM272 105h1v1h-1zM249 106h1v1h-1zM252 106h1v1h-1zM256 106h1v1h-1zM295 106h1v1h-1zM294 107h1v1h-1zM302 107h1v1h-1zM251 108h1v1h-1zM230 109h1v1h-1zM251 109h1v1h-1zM256 109h1v1h-1zM325 109h1v1h-1zM277 111h1v1h-1zM255 112h1v1h-1zM279 113h1v1h-1zM314 113h1v1h-1zM273 114h1v1h-1zM314 114h1v1h-1zM230 115h1v1h-1zM270 115h2v1h-2zM274 115h1v1h-1zM287 115h1v1h-1zM293 116h1v1h-1zM251 117h1v1h-1zM269 117h1v1h-1zM229 118h1v1h-1zM234 118h1v1h-1zM282 118h1v1h-1zM248 119h1v1h-1zM272 119h1v1h-1zM276 119h1v1h-1zM325 119h1v1h-1zM271 120h1v1h-1zM283 120h1v1h-1zM291 120h1v1h-1zM236 121h1v1h-1zM318 121h1v1h-1zM254 123h1v1h-1zM319 123h1v1h-1zM259 124h1v1h-1zM287 124h1v1h-1zM289 124h1v1h-1zM306 124h1v1h-1zM290 125h1v1h-1zM318 125h1v1h-1zM288 126h2v1h-2zM313 126h1v1h-1zM231 127h1v1h-1zM312 127h1v1h-1zM235 128h1v1h-1zM254 128h1v1h-1zM261 128h2v1h-2zM282 128h1v1h-1zM320 128h1v1h-1zM238 129h1v1h-1zM247 129h1v1h-1zM255 129h1v1h-1zM295 129h2v1h-2zM311 129h1v1h-1zM313 129h1v1h-1zM230 130h1v1h-1zM242 130h1v1h-1zM254 130h1v1h-1zM291 130h1v1h-1zM295 130h1v1h-1zM311 130h1v1h-1zM229 131h1v1h-1zM263 131h1v1h-1zM287 131h1v1h-1zM312 131h1v1h-1zM286 132h1v1h-1zM300 132h1v1h-1zM302 132h1v1h-1zM304 132h3v1h-3zM240 133h1v1h-1zM242 133h1v1h-1zM279 133h1v1h-1zM297 133h1v1h-1zM303 133h1v1h-1zM251 134h1v1h-1zM263 134h1v1h-1zM235 135h1v1h-1zM231 136h1v1h-1zM259 136h1v1h-1zM261 136h1v1h-1zM271 136h1v1h-1zM307 136h1v1h-1zM282 137h2v1h-2zM314 137h1v1h-1zM319 137h1v1h-1zM260 138h1v1h-1zM278 138h1v1h-1zM298 138h1v1h-1zM231 139h1v1h-1zM287 139h1v1h-1zM321 139h1v1h-1zM230 140h1v1h-1zM265 140h1v1h-1zM286 140h1v1h-1zM303 140h1v1h-1zM314 140h1v1h-1zM255 141h2v1h-2zM267 141h1v1h-1zM279 141h1v1h-1zM315 141h1v1h-1zM271 142h1v1h-1zM277 142h1v1h-1zM309 142h1v1h-1zM314 142h1v1h-1zM273 143h1v1h-1zM262 144h1v1h-1zM264 144h1v1h-1zM278 144h1v1h-1zM288 144h1v1h-1zM324 144h1v1h-1zM256 145h1v1h-1zM294 145h1v1h-1zM299 145h1v1h-1zM239 146h1v1h-1zM262 146h1v1h-1zM288 146h1v1h-1zM240 147h1v1h-1zM260 147h1v1h-1zM263 147h1v1h-1zM279 147h1v1h-1zM287 147h1v1h-1zM299 147h1v1h-1zM255 148h1v1h-1zM260 148h1v1h-1zM273 148h1v1h-1zM262 149h1v1h-1zM296 149h2v1h-2zM315 149h1v1h-1zM263 150h1v1h-1zM274 150h2v1h-2zM287 150h1v1h-1zM309 151h3v1h-3zM244 152h1v1h-1zM250 152h2v1h-2zM310 152h1v1h-1zM306 153h1v1h-1zM309 153h1v1h-1zM231 154h1v1h-1zM277 154h1v1h-1zM306 154h1v1h-1zM314 154h1v1h-1zM237 155h1v1h-1zM263 155h1v1h-1zM287 155h1v1h-1zM311 155h1v1h-1zM264 156h1v1h-1zM323 156h1v1h-1zM256 157h1v1h-1zM272 157h1v1h-1z"/><path fill="#908fc7" d="M240 105h1v1h-1zM242 105h2v1h-2zM266 105h2v1h-2zM270 105h1v1h-1zM278 105h1v1h-1zM280 105h1v1h-1zM312 105h2v1h-2zM236 106h1v1h-1zM241 106h1v1h-1zM268 106h1v1h-1zM278 106h2v1h-2zM282 106h1v1h-1zM285 106h1v1h-1zM289 106h1v1h-1zM311 106h1v1h-1zM242 107h1v1h-1zM267 107h3v1h-3zM278 107h1v1h-1zM284 107h1v1h-1zM286 107h1v1h-1zM312 107h1v1h-1zM282 108h1v1h-1zM284 108h1v1h-1zM286 108h3v1h-3zM308 108h1v1h-1zM282 109h2v1h-2zM306 109h2v1h-2zM236 110h1v1h-1zM246 110h1v1h-1zM307 110h3v1h-3zM246 111h1v1h-1zM260 111h1v1h-1zM282 111h1v1h-1zM309 111h2v1h-2zM238 112h1v1h-1zM244 112h1v1h-1zM261 112h1v1h-1zM300 112h1v1h-1zM307 112h1v1h-1zM311 112h1v1h-1zM245 113h1v1h-1zM255 113h1v1h-1zM258 113h3v1h-3zM303 113h1v1h-1zM323 114h1v1h-1zM244 115h1v1h-1zM256 115h1v1h-1zM324 115h2v1h-2zM301 116h1v1h-1zM318 116h1v1h-1zM241 117h1v1h-1zM258 117h1v1h-1zM260 117h1v1h-1zM263 117h1v1h-1zM283 117h1v1h-1zM285 117h1v1h-1zM318 117h1v1h-1zM323 117h1v1h-1zM241 118h2v1h-2zM285 118h1v1h-1zM241 119h1v1h-1zM259 119h1v1h-1zM261 119h1v1h-1zM238 120h1v1h-1zM244 120h3v1h-3zM270 120h1v1h-1zM276 120h1v1h-1zM279 121h1v1h-1zM245 122h1v1h-1zM247 122h1v1h-1zM251 122h1v1h-1zM272 122h1v1h-1zM277 122h2v1h-2zM245 123h1v1h-1zM247 123h1v1h-1zM250 123h2v1h-2zM273 123h1v1h-1zM276 123h1v1h-1zM278 123h2v1h-2zM284 123h2v1h-2zM289 123h1v1h-1zM237 124h1v1h-1zM246 124h1v1h-1zM269 124h1v1h-1zM272 124h1v1h-1zM276 124h1v1h-1zM278 124h1v1h-1zM285 124h1v1h-1zM304 124h1v1h-1zM244 125h4v1h-4zM266 125h1v1h-1zM274 125h2v1h-2zM278 125h1v1h-1zM282 125h1v1h-1zM229 126h1v1h-1zM271 126h1v1h-1zM276 126h1v1h-1zM284 126h1v1h-1zM312 126h1v1h-1zM273 127h1v1h-1zM276 127h1v1h-1zM284 127h1v1h-1zM307 127h1v1h-1zM318 127h1v1h-1zM278 128h1v1h-1zM280 128h1v1h-1zM284 128h1v1h-1zM273 129h1v1h-1zM278 129h2v1h-2zM272 130h1v1h-1zM278 130h2v1h-2zM322 131h1v1h-1zM278 132h1v1h-1zM318 132h1v1h-1zM273 133h1v1h-1zM244 136h1v1h-1zM295 138h1v1h-1zM248 139h1v1h-1zM295 139h1v1h-1zM295 140h2v1h-2zM301 141h1v1h-1zM324 141h1v1h-1zM238 142h1v1h-1zM253 142h2v1h-2zM258 142h1v1h-1zM293 142h1v1h-1zM236 143h1v1h-1zM248 143h2v1h-2zM230 144h1v1h-1zM236 144h1v1h-1zM247 144h3v1h-3zM304 144h3v1h-3zM315 144h1v1h-1zM236 145h1v1h-1zM247 145h2v1h-2zM303 145h1v1h-1zM306 145h2v1h-2zM309 145h1v1h-1zM235 146h1v1h-1zM237 146h1v1h-1zM248 146h2v1h-2zM306 146h2v1h-2zM313 146h1v1h-1zM229 147h1v1h-1zM234 147h1v1h-1zM306 147h2v1h-2zM311 147h1v1h-1zM231 148h1v1h-1zM233 148h2v1h-2zM236 148h2v1h-2zM307 148h2v1h-2zM231 149h2v1h-2zM238 149h2v1h-2zM243 149h1v1h-1zM249 149h1v1h-1zM234 150h2v1h-2zM232 151h1v1h-1zM236 151h1v1h-1zM285 151h1v1h-1zM232 152h3v1h-3zM240 152h2v1h-2zM246 152h1v1h-1zM232 153h2v1h-2zM240 153h1v1h-1zM242 153h1v1h-1zM233 154h1v1h-1zM242 154h1v1h-1zM258 154h1v1h-1zM269 154h1v1h-1zM324 154h1v1h-1zM241 155h2v1h-2zM261 155h1v1h-1zM264 155h1v1h-1zM269 155h1v1h-1zM283 155h1v1h-1zM239 156h4v1h-4zM272 156h1v1h-1zM274 156h1v1h-1zM285 156h1v1h-1zM238 157h4v1h-4zM263 157h1v1h-1zM271 157h1v1h-1zM274 157h1v1h-1zM284 157h1v1h-1z"/><path fill="#9289b7" d="M268 105h1v1h-1zM305 105h1v1h-1zM322 105h1v1h-1zM234 106h1v1h-1zM242 106h1v1h-1zM266 106h1v1h-1zM277 106h1v1h-1zM234 107h2v1h-2zM241 108h1v1h-1zM258 108h1v1h-1zM234 109h1v1h-1zM243 109h1v1h-1zM269 109h1v1h-1zM286 109h1v1h-1zM288 109h1v1h-1zM300 109h1v1h-1zM240 110h1v1h-1zM243 110h1v1h-1zM268 110h1v1h-1zM272 110h1v1h-1zM277 110h1v1h-1zM229 111h1v1h-1zM247 111h1v1h-1zM267 111h1v1h-1zM269 111h1v1h-1zM301 111h1v1h-1zM321 111h1v1h-1zM232 112h1v1h-1zM269 112h1v1h-1zM317 112h1v1h-1zM322 112h1v1h-1zM325 112h1v1h-1zM234 113h1v1h-1zM236 113h1v1h-1zM239 113h1v1h-1zM263 113h1v1h-1zM284 113h1v1h-1zM296 113h1v1h-1zM309 113h1v1h-1zM234 114h1v1h-1zM260 114h1v1h-1zM265 114h1v1h-1zM301 114h1v1h-1zM233 115h1v1h-1zM259 115h1v1h-1zM265 115h1v1h-1zM291 115h1v1h-1zM274 116h1v1h-1zM284 116h1v1h-1zM290 116h1v1h-1zM236 117h1v1h-1zM256 117h1v1h-1zM284 117h1v1h-1zM305 117h1v1h-1zM319 117h1v1h-1zM231 118h1v1h-1zM286 118h1v1h-1zM237 119h2v1h-2zM247 119h1v1h-1zM295 119h2v1h-2zM298 119h1v1h-1zM313 119h1v1h-1zM236 120h1v1h-1zM298 120h1v1h-1zM307 120h1v1h-1zM325 120h1v1h-1zM244 121h2v1h-2zM254 121h1v1h-1zM264 121h1v1h-1zM284 121h1v1h-1zM288 121h2v1h-2zM295 121h1v1h-1zM320 121h1v1h-1zM300 122h1v1h-1zM255 123h1v1h-1zM282 123h1v1h-1zM299 123h1v1h-1zM311 123h1v1h-1zM231 124h1v1h-1zM245 124h1v1h-1zM271 124h1v1h-1zM274 124h1v1h-1zM277 124h1v1h-1zM280 124h1v1h-1zM303 124h1v1h-1zM233 125h1v1h-1zM251 125h1v1h-1zM263 125h1v1h-1zM280 125h1v1h-1zM289 125h1v1h-1zM308 125h1v1h-1zM310 125h1v1h-1zM325 125h1v1h-1zM281 126h2v1h-2zM314 126h1v1h-1zM251 127h1v1h-1zM277 127h1v1h-1zM285 127h1v1h-1zM251 128h1v1h-1zM302 128h1v1h-1zM284 129h2v1h-2zM308 129h1v1h-1zM243 130h1v1h-1zM250 130h1v1h-1zM268 130h1v1h-1zM271 130h1v1h-1zM307 130h2v1h-2zM280 132h1v1h-1zM301 132h1v1h-1zM319 132h1v1h-1zM231 133h1v1h-1zM286 133h1v1h-1zM298 133h1v1h-1zM307 133h1v1h-1zM325 133h1v1h-1zM252 134h1v1h-1zM289 134h1v1h-1zM301 134h1v1h-1zM303 134h1v1h-1zM240 135h1v1h-1zM251 135h1v1h-1zM264 135h1v1h-1zM267 135h1v1h-1zM235 136h1v1h-1zM246 136h1v1h-1zM302 136h1v1h-1zM308 136h1v1h-1zM235 137h1v1h-1zM271 137h1v1h-1zM302 137h1v1h-1zM279 138h1v1h-1zM303 138h1v1h-1zM272 139h1v1h-1zM294 139h1v1h-1zM301 139h1v1h-1zM319 139h1v1h-1zM241 140h1v1h-1zM273 140h1v1h-1zM278 140h1v1h-1zM308 140h1v1h-1zM274 141h1v1h-1zM294 141h1v1h-1zM306 141h1v1h-1zM311 141h1v1h-1zM321 141h1v1h-1zM249 142h1v1h-1zM257 142h1v1h-1zM319 142h2v1h-2zM322 142h1v1h-1zM272 143h1v1h-1zM285 143h1v1h-1zM323 143h1v1h-1zM325 143h1v1h-1zM245 144h1v1h-1zM259 144h1v1h-1zM321 144h1v1h-1zM304 145h2v1h-2zM310 145h1v1h-1zM285 146h1v1h-1zM302 146h1v1h-1zM311 146h1v1h-1zM314 146h1v1h-1zM251 147h1v1h-1zM282 147h1v1h-1zM320 147h1v1h-1zM270 148h1v1h-1zM291 148h1v1h-1zM323 148h1v1h-1zM323 149h1v1h-1zM298 150h1v1h-1zM302 150h1v1h-1zM305 150h1v1h-1zM276 151h1v1h-1zM289 151h1v1h-1zM324 151h1v1h-1zM271 152h1v1h-1zM278 152h1v1h-1zM321 152h1v1h-1zM239 153h1v1h-1zM300 153h1v1h-1zM304 153h1v1h-1zM324 153h2v1h-2zM234 154h1v1h-1zM238 154h1v1h-1zM270 154h1v1h-1zM275 154h1v1h-1zM288 154h1v1h-1zM317 154h1v1h-1zM270 155h1v1h-1zM277 155h1v1h-1zM279 156h2v1h-2zM288 156h1v1h-1z"/><path fill="#9386a6" d="M271 105h1v1h-1zM275 105h1v1h-1zM251 106h1v1h-1zM254 106h1v1h-1zM300 106h1v1h-1zM315 106h1v1h-1zM231 107h1v1h-1zM241 107h1v1h-1zM248 107h1v1h-1zM311 107h1v1h-1zM265 108h1v1h-1zM280 108h1v1h-1zM318 108h1v1h-1zM298 109h1v1h-1zM324 109h1v1h-1zM239 110h1v1h-1zM256 110h1v1h-1zM242 111h1v1h-1zM318 111h1v1h-1zM324 111h1v1h-1zM229 112h1v1h-1zM295 112h1v1h-1zM313 112h1v1h-1zM265 113h1v1h-1zM278 113h1v1h-1zM321 113h1v1h-1zM282 114h1v1h-1zM305 114h1v1h-1zM315 114h1v1h-1zM276 115h2v1h-2zM281 115h1v1h-1zM312 115h1v1h-1zM281 116h1v1h-1zM238 117h1v1h-1zM252 117h1v1h-1zM300 118h1v1h-1zM320 118h1v1h-1zM300 119h1v1h-1zM321 119h1v1h-1zM230 120h1v1h-1zM277 120h1v1h-1zM296 120h1v1h-1zM321 120h1v1h-1zM235 121h1v1h-1zM287 121h1v1h-1zM240 122h1v1h-1zM264 122h1v1h-1zM283 122h1v1h-1zM258 123h1v1h-1zM309 123h1v1h-1zM234 124h1v1h-1zM305 124h1v1h-1zM312 124h1v1h-1zM239 125h1v1h-1zM257 125h2v1h-2zM306 125h1v1h-1zM314 125h1v1h-1zM232 126h1v1h-1zM307 126h2v1h-2zM321 126h1v1h-1zM244 127h1v1h-1zM248 127h1v1h-1zM262 127h1v1h-1zM281 127h1v1h-1zM295 127h1v1h-1zM300 127h1v1h-1zM305 127h1v1h-1zM248 128h1v1h-1zM301 128h1v1h-1zM252 129h1v1h-1zM254 129h1v1h-1zM267 129h1v1h-1zM294 129h1v1h-1zM297 129h1v1h-1zM303 129h1v1h-1zM231 130h1v1h-1zM233 130h1v1h-1zM252 130h1v1h-1zM255 130h1v1h-1zM266 130h1v1h-1zM296 130h1v1h-1zM303 130h1v1h-1zM305 130h1v1h-1zM242 131h1v1h-1zM261 131h1v1h-1zM304 131h1v1h-1zM319 131h1v1h-1zM241 132h1v1h-1zM250 132h1v1h-1zM257 132h1v1h-1zM264 132h2v1h-2zM303 132h1v1h-1zM249 133h1v1h-1zM252 133h1v1h-1zM309 133h1v1h-1zM259 134h1v1h-1zM274 134h1v1h-1zM285 134h1v1h-1zM247 135h1v1h-1zM259 135h1v1h-1zM239 136h1v1h-1zM260 136h1v1h-1zM310 136h2v1h-2zM244 137h1v1h-1zM310 137h1v1h-1zM255 138h1v1h-1zM267 138h1v1h-1zM233 139h1v1h-1zM236 140h1v1h-1zM256 140h1v1h-1zM280 140h1v1h-1zM311 140h1v1h-1zM322 140h2v1h-2zM271 141h1v1h-1zM314 141h1v1h-1zM254 143h1v1h-1zM261 143h1v1h-1zM294 143h1v1h-1zM277 144h1v1h-1zM277 145h1v1h-1zM293 145h1v1h-1zM240 146h1v1h-1zM263 146h1v1h-1zM271 146h1v1h-1zM282 146h1v1h-1zM290 146h1v1h-1zM239 147h1v1h-1zM243 147h1v1h-1zM252 147h1v1h-1zM283 147h1v1h-1zM298 147h1v1h-1zM253 148h1v1h-1zM266 148h1v1h-1zM299 148h1v1h-1zM310 148h1v1h-1zM257 149h1v1h-1zM267 149h1v1h-1zM274 149h2v1h-2zM294 149h1v1h-1zM298 149h1v1h-1zM312 149h1v1h-1zM321 149h1v1h-1zM280 150h1v1h-1zM292 150h1v1h-1zM313 150h1v1h-1zM262 151h3v1h-3zM291 151h1v1h-1zM306 151h1v1h-1zM273 152h1v1h-1zM305 152h1v1h-1zM249 153h1v1h-1zM257 153h1v1h-1zM288 153h1v1h-1zM307 153h1v1h-1zM297 154h1v1h-1zM307 154h1v1h-1zM313 154h1v1h-1zM253 155h1v1h-1zM276 155h1v1h-1zM306 155h1v1h-1zM253 156h1v1h-1zM281 156h1v1h-1zM314 156h1v1h-1zM292 157h1v1h-1zM307 157h1v1h-1z"/><path fill="#8d86b3" d="M241 105h1v1h-1zM254 105h2v1h-2zM321 105h1v1h-1zM235 106h1v1h-1zM264 106h1v1h-1zM284 106h1v1h-1zM238 107h1v1h-1zM283 107h1v1h-1zM285 107h1v1h-1zM308 107h1v1h-1zM254 108h1v1h-1zM264 108h1v1h-1zM289 108h1v1h-1zM320 108h1v1h-1zM233 109h1v1h-1zM238 109h1v1h-1zM310 109h1v1h-1zM237 110h1v1h-1zM257 110h1v1h-1zM261 110h1v1h-1zM267 110h1v1h-1zM285 110h1v1h-1zM321 110h1v1h-1zM243 111h1v1h-1zM272 111h1v1h-1zM283 111h1v1h-1zM307 111h1v1h-1zM322 111h1v1h-1zM236 112h1v1h-1zM246 112h1v1h-1zM248 112h1v1h-1zM254 112h1v1h-1zM268 112h1v1h-1zM281 112h1v1h-1zM297 112h1v1h-1zM306 112h1v1h-1zM261 113h1v1h-1zM283 113h1v1h-1zM268 114h2v1h-2zM285 114h1v1h-1zM301 115h1v1h-1zM319 115h2v1h-2zM233 116h1v1h-1zM253 116h1v1h-1zM256 116h1v1h-1zM260 116h1v1h-1zM265 116h1v1h-1zM319 116h1v1h-1zM302 117h1v1h-1zM240 118h1v1h-1zM280 118h1v1h-1zM303 118h1v1h-1zM279 119h1v1h-1zM242 120h1v1h-1zM252 120h1v1h-1zM259 120h1v1h-1zM263 120h1v1h-1zM308 120h1v1h-1zM311 120h1v1h-1zM319 120h1v1h-1zM324 120h1v1h-1zM238 121h1v1h-1zM247 121h1v1h-1zM277 121h1v1h-1zM311 121h1v1h-1zM315 121h1v1h-1zM273 122h1v1h-1zM281 122h1v1h-1zM289 122h1v1h-1zM295 122h1v1h-1zM312 122h1v1h-1zM316 122h1v1h-1zM236 123h1v1h-1zM270 123h1v1h-1zM280 123h1v1h-1zM310 123h1v1h-1zM322 123h1v1h-1zM243 124h2v1h-2zM258 124h1v1h-1zM267 124h1v1h-1zM275 124h1v1h-1zM325 124h1v1h-1zM248 125h1v1h-1zM262 125h1v1h-1zM276 125h1v1h-1zM285 125h1v1h-1zM304 125h1v1h-1zM309 125h1v1h-1zM243 126h2v1h-2zM250 126h1v1h-1zM263 126h1v1h-1zM268 126h1v1h-1zM273 126h1v1h-1zM277 126h1v1h-1zM286 126h1v1h-1zM230 127h1v1h-1zM279 127h1v1h-1zM320 127h1v1h-1zM234 128h1v1h-1zM236 128h1v1h-1zM283 128h1v1h-1zM293 128h1v1h-1zM325 128h1v1h-1zM251 129h1v1h-1zM309 129h1v1h-1zM309 130h1v1h-1zM244 132h1v1h-1zM255 132h1v1h-1zM322 132h1v1h-1zM324 132h1v1h-1zM282 133h1v1h-1zM230 134h1v1h-1zM262 134h1v1h-1zM316 134h1v1h-1zM232 135h1v1h-1zM243 135h1v1h-1zM248 135h1v1h-1zM265 135h1v1h-1zM293 135h2v1h-2zM248 136h1v1h-1zM283 136h1v1h-1zM290 136h1v1h-1zM303 136h1v1h-1zM254 137h1v1h-1zM261 137h1v1h-1zM275 137h2v1h-2zM297 137h1v1h-1zM309 137h1v1h-1zM297 138h1v1h-1zM320 139h1v1h-1zM240 140h1v1h-1zM275 140h3v1h-3zM293 140h1v1h-1zM309 140h1v1h-1zM270 141h1v1h-1zM277 141h1v1h-1zM241 142h1v1h-1zM307 142h1v1h-1zM234 143h1v1h-1zM246 143h1v1h-1zM255 143h1v1h-1zM260 143h1v1h-1zM297 143h1v1h-1zM309 143h1v1h-1zM322 143h1v1h-1zM229 144h1v1h-1zM233 144h1v1h-1zM235 144h1v1h-1zM238 144h1v1h-1zM260 144h1v1h-1zM263 144h1v1h-1zM292 144h1v1h-1zM323 144h1v1h-1zM238 145h1v1h-1zM249 145h1v1h-1zM280 145h1v1h-1zM313 145h1v1h-1zM230 146h1v1h-1zM236 146h1v1h-1zM251 146h1v1h-1zM270 146h1v1h-1zM312 146h1v1h-1zM250 147h1v1h-1zM313 147h1v1h-1zM322 147h1v1h-1zM292 148h1v1h-1zM235 149h1v1h-1zM237 149h1v1h-1zM244 149h1v1h-1zM270 149h1v1h-1zM277 149h1v1h-1zM233 150h1v1h-1zM241 150h1v1h-1zM243 150h1v1h-1zM283 150h1v1h-1zM288 150h1v1h-1zM303 150h1v1h-1zM323 150h1v1h-1zM239 151h2v1h-2zM243 151h1v1h-1zM298 151h1v1h-1zM301 151h1v1h-1zM313 151h1v1h-1zM242 152h1v1h-1zM247 152h2v1h-2zM277 152h1v1h-1zM282 152h1v1h-1zM287 152h1v1h-1zM293 152h1v1h-1zM296 152h1v1h-1zM301 152h1v1h-1zM270 153h1v1h-1zM282 153h1v1h-1zM292 153h1v1h-1zM294 153h1v1h-1zM296 153h1v1h-1zM239 154h1v1h-1zM241 154h1v1h-1zM283 154h1v1h-1zM285 154h1v1h-1zM303 154h1v1h-1zM322 154h2v1h-2zM231 155h1v1h-1zM254 155h1v1h-1zM258 155h1v1h-1zM268 155h1v1h-1zM286 155h1v1h-1zM273 156h1v1h-1zM282 156h2v1h-2zM319 156h1v1h-1zM260 157h2v1h-2zM289 157h1v1h-1zM314 157h1v1h-1z"/><path fill="#8e7fa5" d="M234 105h1v1h-1zM239 105h1v1h-1zM251 105h1v1h-1zM263 105h1v1h-1zM265 105h1v1h-1zM284 105h1v1h-1zM311 105h1v1h-1zM270 106h1v1h-1zM304 106h1v1h-1zM310 106h1v1h-1zM233 107h1v1h-1zM243 107h1v1h-1zM246 107h1v1h-1zM280 107h1v1h-1zM303 107h1v1h-1zM310 107h1v1h-1zM247 108h1v1h-1zM267 108h2v1h-2zM285 108h1v1h-1zM309 108h1v1h-1zM319 108h1v1h-1zM263 109h1v1h-1zM272 109h1v1h-1zM280 109h1v1h-1zM289 109h1v1h-1zM230 110h1v1h-1zM258 110h1v1h-1zM271 110h1v1h-1zM284 110h1v1h-1zM301 110h1v1h-1zM320 110h1v1h-1zM239 111h1v1h-1zM244 111h1v1h-1zM255 111h1v1h-1zM259 111h1v1h-1zM291 111h1v1h-1zM296 111h1v1h-1zM243 112h1v1h-1zM247 112h1v1h-1zM263 112h1v1h-1zM283 112h1v1h-1zM288 112h1v1h-1zM307 113h1v1h-1zM235 114h1v1h-1zM256 114h1v1h-1zM300 114h1v1h-1zM235 115h1v1h-1zM260 115h1v1h-1zM283 115h1v1h-1zM230 116h1v1h-1zM261 116h1v1h-1zM263 116h1v1h-1zM286 116h1v1h-1zM320 116h1v1h-1zM231 117h1v1h-1zM235 117h1v1h-1zM264 117h1v1h-1zM271 117h1v1h-1zM286 117h1v1h-1zM301 117h1v1h-1zM317 117h1v1h-1zM232 118h1v1h-1zM235 118h1v1h-1zM256 118h1v1h-1zM274 118h1v1h-1zM307 118h1v1h-1zM311 118h1v1h-1zM257 119h1v1h-1zM309 119h1v1h-1zM311 119h1v1h-1zM243 120h1v1h-1zM249 120h1v1h-1zM251 120h1v1h-1zM264 120h1v1h-1zM295 120h1v1h-1zM313 120h1v1h-1zM239 121h1v1h-1zM243 121h1v1h-1zM272 121h1v1h-1zM239 122h1v1h-1zM243 122h2v1h-2zM280 122h1v1h-1zM287 122h2v1h-2zM292 122h1v1h-1zM242 123h3v1h-3zM252 123h1v1h-1zM267 123h1v1h-1zM308 123h1v1h-1zM232 124h1v1h-1zM302 124h1v1h-1zM273 125h1v1h-1zM312 125h1v1h-1zM272 126h1v1h-1zM279 126h1v1h-1zM296 126h1v1h-1zM315 126h1v1h-1zM234 127h1v1h-1zM243 127h1v1h-1zM264 127h1v1h-1zM311 127h1v1h-1zM319 127h1v1h-1zM233 128h1v1h-1zM237 128h1v1h-1zM271 128h1v1h-1zM274 128h1v1h-1zM307 128h1v1h-1zM319 128h1v1h-1zM249 129h1v1h-1zM274 129h1v1h-1zM260 130h1v1h-1zM241 131h1v1h-1zM243 131h1v1h-1zM270 131h1v1h-1zM285 131h1v1h-1zM307 131h1v1h-1zM245 132h1v1h-1zM283 132h1v1h-1zM243 133h1v1h-1zM251 133h1v1h-1zM283 133h1v1h-1zM297 134h1v1h-1zM319 134h1v1h-1zM283 135h1v1h-1zM301 135h1v1h-1zM308 135h1v1h-1zM312 135h1v1h-1zM234 136h1v1h-1zM262 136h1v1h-1zM301 136h1v1h-1zM312 136h2v1h-2zM234 137h1v1h-1zM267 137h1v1h-1zM301 137h1v1h-1zM318 137h1v1h-1zM272 138h1v1h-1zM321 138h3v1h-3zM286 139h1v1h-1zM297 140h1v1h-1zM301 140h1v1h-1zM247 141h1v1h-1zM296 141h1v1h-1zM322 141h1v1h-1zM235 142h1v1h-1zM312 142h1v1h-1zM292 143h2v1h-2zM300 143h1v1h-1zM321 143h1v1h-1zM237 144h1v1h-1zM240 144h1v1h-1zM285 144h1v1h-1zM301 144h1v1h-1zM230 145h1v1h-1zM237 145h1v1h-1zM241 145h1v1h-1zM255 145h1v1h-1zM267 145h1v1h-1zM238 146h1v1h-1zM304 146h1v1h-1zM247 147h1v1h-1zM266 147h1v1h-1zM324 147h1v1h-1zM229 148h1v1h-1zM238 148h1v1h-1zM252 148h1v1h-1zM288 148h1v1h-1zM309 148h1v1h-1zM229 149h1v1h-1zM279 149h1v1h-1zM310 149h1v1h-1zM322 149h1v1h-1zM238 150h1v1h-1zM248 150h1v1h-1zM254 150h1v1h-1zM285 150h1v1h-1zM291 150h1v1h-1zM238 151h1v1h-1zM254 151h2v1h-2zM274 151h1v1h-1zM295 151h1v1h-1zM229 152h1v1h-1zM237 152h1v1h-1zM288 152h1v1h-1zM234 153h1v1h-1zM248 153h1v1h-1zM250 153h1v1h-1zM258 153h1v1h-1zM283 153h1v1h-1zM287 153h1v1h-1zM301 153h1v1h-1zM309 154h1v1h-1zM312 154h1v1h-1zM238 155h1v1h-1zM250 155h1v1h-1zM262 155h1v1h-1zM266 155h1v1h-1zM318 155h1v1h-1zM256 156h1v1h-1zM269 156h1v1h-1zM253 157h1v1h-1zM259 157h1v1h-1zM268 157h1v1h-1zM279 157h1v1h-1zM306 157h1v1h-1z"/><path fill="#8f7b8d" d="M314 105h1v1h-1zM237 106h1v1h-1zM253 106h1v1h-1zM258 106h1v1h-1zM272 106h1v1h-1zM314 106h1v1h-1zM279 107h1v1h-1zM248 108h1v1h-1zM278 108h1v1h-1zM297 108h1v1h-1zM231 109h1v1h-1zM247 109h1v1h-1zM279 109h1v1h-1zM303 109h1v1h-1zM248 110h1v1h-1zM292 110h1v1h-1zM323 110h1v1h-1zM265 111h1v1h-1zM288 111h1v1h-1zM230 112h1v1h-1zM242 112h1v1h-1zM277 112h1v1h-1zM276 113h1v1h-1zM281 114h1v1h-1zM321 114h1v1h-1zM234 115h1v1h-1zM313 115h1v1h-1zM280 116h1v1h-1zM294 116h1v1h-1zM267 117h1v1h-1zM304 117h1v1h-1zM238 118h1v1h-1zM321 118h1v1h-1zM250 119h1v1h-1zM293 119h1v1h-1zM308 119h1v1h-1zM314 119h2v1h-2zM247 120h1v1h-1zM254 120h1v1h-1zM278 120h1v1h-1zM251 121h1v1h-1zM255 121h1v1h-1zM278 121h1v1h-1zM291 121h1v1h-1zM310 121h1v1h-1zM235 122h2v1h-2zM253 122h1v1h-1zM282 122h1v1h-1zM313 122h1v1h-1zM232 123h1v1h-1zM257 124h1v1h-1zM288 124h1v1h-1zM290 124h1v1h-1zM288 125h1v1h-1zM305 125h1v1h-1zM307 125h1v1h-1zM260 126h2v1h-2zM257 127h1v1h-1zM325 127h1v1h-1zM239 128h1v1h-1zM281 129h1v1h-1zM302 129h1v1h-1zM247 130h1v1h-1zM312 130h2v1h-2zM233 131h1v1h-1zM286 131h1v1h-1zM294 131h1v1h-1zM300 131h1v1h-1zM303 131h1v1h-1zM313 131h1v1h-1zM240 132h1v1h-1zM260 132h1v1h-1zM232 133h1v1h-1zM237 133h1v1h-1zM270 133h1v1h-1zM304 133h1v1h-1zM308 133h1v1h-1zM320 133h1v1h-1zM323 133h2v1h-2zM236 134h1v1h-1zM245 134h1v1h-1zM260 134h1v1h-1zM273 134h1v1h-1zM309 134h1v1h-1zM325 134h1v1h-1zM268 135h1v1h-1zM299 135h1v1h-1zM307 135h1v1h-1zM323 135h1v1h-1zM273 136h1v1h-1zM314 136h1v1h-1zM256 137h1v1h-1zM272 137h1v1h-1zM239 138h1v1h-1zM251 138h1v1h-1zM284 138h1v1h-1zM315 138h1v1h-1zM318 138h1v1h-1zM283 139h1v1h-1zM323 139h1v1h-1zM233 140h1v1h-1zM267 140h1v1h-1zM289 140h1v1h-1zM253 141h1v1h-1zM258 141h1v1h-1zM307 141h1v1h-1zM272 142h1v1h-1zM296 142h1v1h-1zM301 142h1v1h-1zM315 142h1v1h-1zM243 143h1v1h-1zM267 143h2v1h-2zM304 143h1v1h-1zM231 144h1v1h-1zM256 144h2v1h-2zM261 144h1v1h-1zM291 144h1v1h-1zM295 144h1v1h-1zM310 144h1v1h-1zM240 145h1v1h-1zM273 145h1v1h-1zM279 145h1v1h-1zM320 145h2v1h-2zM256 146h1v1h-1zM275 146h1v1h-1zM281 146h1v1h-1zM268 147h2v1h-2zM254 148h1v1h-1zM268 148h1v1h-1zM282 148h1v1h-1zM289 148h1v1h-1zM298 148h1v1h-1zM316 148h1v1h-1zM324 148h2v1h-2zM259 149h1v1h-1zM281 149h1v1h-1zM290 149h1v1h-1zM316 149h1v1h-1zM242 150h1v1h-1zM259 150h1v1h-1zM271 150h1v1h-1zM279 150h1v1h-1zM286 150h1v1h-1zM297 150h1v1h-1zM233 151h1v1h-1zM272 151h1v1h-1zM275 151h1v1h-1zM317 151h1v1h-1zM245 152h1v1h-1zM263 152h1v1h-1zM306 152h1v1h-1zM320 152h1v1h-1zM229 153h1v1h-1zM263 153h1v1h-1zM310 153h1v1h-1zM285 155h1v1h-1zM307 155h1v1h-1zM265 156h1v1h-1zM242 157h1v1h-1zM257 157h1v1h-1zM293 157h1v1h-1zM316 157h1v1h-1zM323 157h1v1h-1z"/><path fill="#877a9c" d="M233 105h1v1h-1zM236 105h1v1h-1zM244 105h1v1h-1zM249 105h2v1h-2zM283 105h1v1h-1zM307 105h2v1h-2zM239 106h1v1h-1zM243 106h1v1h-1zM237 107h1v1h-1zM259 107h1v1h-1zM270 107h1v1h-1zM272 107h1v1h-1zM255 108h1v1h-1zM246 109h1v1h-1zM262 109h1v1h-1zM301 109h1v1h-1zM238 110h1v1h-1zM244 110h1v1h-1zM247 110h1v1h-1zM302 110h1v1h-1zM310 110h2v1h-2zM236 111h1v1h-1zM299 111h2v1h-2zM305 111h1v1h-1zM311 111h1v1h-1zM323 111h1v1h-1zM237 112h1v1h-1zM245 112h1v1h-1zM249 112h1v1h-1zM259 112h1v1h-1zM272 112h1v1h-1zM292 112h1v1h-1zM296 112h1v1h-1zM302 112h1v1h-1zM309 112h1v1h-1zM248 113h1v1h-1zM268 113h2v1h-2zM287 113h1v1h-1zM297 113h1v1h-1zM300 113h1v1h-1zM284 114h1v1h-1zM307 114h1v1h-1zM325 114h1v1h-1zM231 115h1v1h-1zM243 115h1v1h-1zM286 115h1v1h-1zM300 115h1v1h-1zM257 116h1v1h-1zM298 116h1v1h-1zM321 116h1v1h-1zM230 117h1v1h-1zM250 117h1v1h-1zM274 117h1v1h-1zM260 118h1v1h-1zM263 118h1v1h-1zM279 118h1v1h-1zM308 118h1v1h-1zM324 118h1v1h-1zM230 119h1v1h-1zM239 119h1v1h-1zM258 119h1v1h-1zM290 119h1v1h-1zM232 120h1v1h-1zM257 120h1v1h-1zM240 121h1v1h-1zM253 121h1v1h-1zM265 121h1v1h-1zM309 121h1v1h-1zM312 121h1v1h-1zM322 121h1v1h-1zM234 122h1v1h-1zM266 122h1v1h-1zM286 122h1v1h-1zM315 122h1v1h-1zM234 123h1v1h-1zM240 123h1v1h-1zM253 123h1v1h-1zM257 123h1v1h-1zM268 123h1v1h-1zM274 123h1v1h-1zM235 124h2v1h-2zM242 124h1v1h-1zM252 124h1v1h-1zM256 124h1v1h-1zM264 124h2v1h-2zM268 124h1v1h-1zM279 124h1v1h-1zM283 124h1v1h-1zM277 125h1v1h-1zM279 125h1v1h-1zM284 125h1v1h-1zM297 125h1v1h-1zM230 126h1v1h-1zM233 126h1v1h-1zM251 126h1v1h-1zM274 126h2v1h-2zM299 126h1v1h-1zM318 126h1v1h-1zM236 127h1v1h-1zM286 127h1v1h-1zM291 127h1v1h-1zM304 127h1v1h-1zM250 128h1v1h-1zM294 128h1v1h-1zM298 128h2v1h-2zM321 128h1v1h-1zM263 129h1v1h-1zM289 129h1v1h-1zM305 129h1v1h-1zM315 129h1v1h-1zM263 130h1v1h-1zM277 130h1v1h-1zM290 130h1v1h-1zM237 131h1v1h-1zM240 131h1v1h-1zM250 131h1v1h-1zM255 131h1v1h-1zM266 131h1v1h-1zM269 131h1v1h-1zM284 131h1v1h-1zM323 131h1v1h-1zM249 132h1v1h-1zM253 132h1v1h-1zM272 132h2v1h-2zM323 132h1v1h-1zM245 133h1v1h-1zM254 133h1v1h-1zM292 133h1v1h-1zM261 134h1v1h-1zM293 134h1v1h-1zM302 134h1v1h-1zM308 134h1v1h-1zM244 135h1v1h-1zM258 135h1v1h-1zM261 135h1v1h-1zM266 135h1v1h-1zM271 135h1v1h-1zM274 135h2v1h-2zM290 135h1v1h-1zM302 135h1v1h-1zM316 135h1v1h-1zM245 136h1v1h-1zM254 136h1v1h-1zM265 136h1v1h-1zM279 136h1v1h-1zM246 137h2v1h-2zM252 137h1v1h-1zM298 137h1v1h-1zM236 138h1v1h-1zM261 138h1v1h-1zM281 138h1v1h-1zM316 138h1v1h-1zM325 138h1v1h-1zM254 139h1v1h-1zM257 139h1v1h-1zM262 139h1v1h-1zM276 139h2v1h-2zM292 139h1v1h-1zM268 140h1v1h-1zM291 140h1v1h-1zM240 141h1v1h-1zM280 141h1v1h-1zM297 141h1v1h-1zM234 142h1v1h-1zM248 142h1v1h-1zM278 142h1v1h-1zM304 142h1v1h-1zM324 142h1v1h-1zM265 143h1v1h-1zM271 143h1v1h-1zM314 143h1v1h-1zM308 144h1v1h-1zM316 144h1v1h-1zM320 144h1v1h-1zM229 145h1v1h-1zM231 145h1v1h-1zM250 145h1v1h-1zM266 145h1v1h-1zM323 145h1v1h-1zM229 146h1v1h-1zM231 146h1v1h-1zM276 146h2v1h-2zM305 146h1v1h-1zM235 147h1v1h-1zM237 147h1v1h-1zM242 147h1v1h-1zM276 147h1v1h-1zM281 147h1v1h-1zM308 147h1v1h-1zM294 148h1v1h-1zM313 148h1v1h-1zM236 149h1v1h-1zM264 149h1v1h-1zM278 149h1v1h-1zM300 149h1v1h-1zM307 149h1v1h-1zM231 150h1v1h-1zM270 150h1v1h-1zM278 150h1v1h-1zM295 150h1v1h-1zM300 150h1v1h-1zM322 150h1v1h-1zM234 151h1v1h-1zM260 151h1v1h-1zM277 151h1v1h-1zM314 151h1v1h-1zM284 152h1v1h-1zM289 152h1v1h-1zM300 152h1v1h-1zM237 153h1v1h-1zM241 153h1v1h-1zM251 153h1v1h-1zM271 153h1v1h-1zM322 153h2v1h-2zM246 154h1v1h-1zM251 154h1v1h-1zM268 154h1v1h-1zM296 154h1v1h-1zM311 154h1v1h-1zM265 155h1v1h-1zM288 155h2v1h-2zM293 155h1v1h-1zM259 156h2v1h-2zM315 156h1v1h-1zM258 157h1v1h-1zM262 157h1v1h-1zM277 157h1v1h-1zM280 157h1v1h-1zM283 157h1v1h-1zM325 157h1v1h-1z"/><path fill="#867083" d="M245 105h1v1h-1zM264 105h1v1h-1zM274 105h1v1h-1zM276 105h1v1h-1zM295 105h2v1h-2zM257 106h1v1h-1zM281 106h1v1h-1zM296 106h2v1h-2zM316 106h1v1h-1zM232 107h1v1h-1zM244 107h1v1h-1zM253 107h2v1h-2zM317 107h1v1h-1zM319 107h1v1h-1zM236 108h1v1h-1zM245 108h1v1h-1zM256 108h1v1h-1zM260 108h1v1h-1zM269 108h1v1h-1zM239 109h2v1h-2zM245 109h1v1h-1zM285 109h1v1h-1zM287 109h1v1h-1zM309 109h1v1h-1zM320 109h2v1h-2zM229 110h1v1h-1zM278 110h1v1h-1zM237 111h1v1h-1zM245 111h1v1h-1zM263 111h2v1h-2zM268 111h1v1h-1zM289 111h1v1h-1zM292 111h1v1h-1zM302 111h1v1h-1zM306 111h1v1h-1zM250 112h1v1h-1zM256 112h1v1h-1zM275 112h1v1h-1zM279 112h2v1h-2zM299 112h1v1h-1zM304 112h1v1h-1zM247 113h1v1h-1zM256 113h1v1h-1zM288 113h1v1h-1zM299 113h1v1h-1zM313 113h1v1h-1zM324 113h1v1h-1zM258 114h2v1h-2zM271 114h1v1h-1zM287 114h1v1h-1zM293 114h1v1h-1zM306 114h1v1h-1zM324 114h1v1h-1zM245 115h1v1h-1zM257 115h2v1h-2zM262 115h2v1h-2zM273 115h1v1h-1zM288 115h1v1h-1zM311 115h1v1h-1zM231 116h2v1h-2zM250 116h1v1h-1zM262 116h1v1h-1zM283 116h1v1h-1zM239 117h1v1h-1zM257 117h1v1h-1zM298 117h1v1h-1zM239 118h1v1h-1zM250 118h2v1h-2zM257 118h1v1h-1zM259 118h1v1h-1zM309 118h1v1h-1zM233 119h1v1h-1zM256 119h1v1h-1zM270 119h2v1h-2zM289 119h1v1h-1zM307 119h1v1h-1zM310 119h1v1h-1zM319 119h2v1h-2zM229 120h1v1h-1zM253 120h1v1h-1zM279 120h1v1h-1zM248 121h1v1h-1zM259 121h1v1h-1zM271 121h1v1h-1zM283 121h1v1h-1zM292 121h1v1h-1zM296 121h1v1h-1zM324 121h2v1h-2zM232 122h1v1h-1zM238 122h1v1h-1zM246 122h1v1h-1zM250 122h1v1h-1zM252 122h1v1h-1zM271 122h1v1h-1zM296 122h1v1h-1zM303 122h1v1h-1zM309 122h2v1h-2zM322 122h1v1h-1zM266 123h1v1h-1zM281 123h1v1h-1zM303 123h1v1h-1zM307 123h1v1h-1zM312 123h2v1h-2zM284 124h1v1h-1zM309 124h2v1h-2zM243 125h1v1h-1zM272 125h1v1h-1zM296 125h1v1h-1zM299 125h1v1h-1zM245 126h1v1h-1zM278 126h1v1h-1zM302 126h1v1h-1zM305 126h1v1h-1zM235 127h1v1h-1zM278 127h1v1h-1zM296 127h1v1h-1zM301 127h1v1h-1zM310 127h1v1h-1zM232 128h1v1h-1zM281 128h1v1h-1zM304 128h1v1h-1zM237 129h1v1h-1zM262 129h1v1h-1zM276 129h1v1h-1zM282 129h1v1h-1zM251 130h1v1h-1zM294 130h1v1h-1zM314 130h2v1h-2zM230 131h1v1h-1zM253 131h1v1h-1zM271 131h3v1h-3zM297 131h1v1h-1zM324 131h1v1h-1zM254 132h1v1h-1zM256 132h1v1h-1zM262 132h1v1h-1zM284 132h1v1h-1zM294 132h1v1h-1zM260 133h1v1h-1zM269 133h1v1h-1zM294 133h1v1h-1zM321 133h1v1h-1zM256 134h1v1h-1zM268 134h1v1h-1zM279 134h2v1h-2zM290 134h1v1h-1zM294 134h1v1h-1zM299 134h2v1h-2zM307 134h1v1h-1zM311 134h1v1h-1zM313 134h1v1h-1zM324 134h1v1h-1zM230 135h1v1h-1zM239 135h1v1h-1zM257 135h1v1h-1zM260 135h1v1h-1zM284 135h1v1h-1zM300 135h1v1h-1zM247 136h1v1h-1zM263 136h1v1h-1zM275 136h1v1h-1zM318 136h1v1h-1zM320 136h1v1h-1zM240 137h1v1h-1zM245 137h1v1h-1zM255 137h1v1h-1zM260 137h1v1h-1zM315 137h1v1h-1zM262 138h1v1h-1zM320 138h1v1h-1zM324 138h1v1h-1zM258 139h1v1h-1zM290 139h1v1h-1zM253 140h1v1h-1zM318 140h1v1h-1zM244 141h1v1h-1zM268 141h1v1h-1zM295 141h1v1h-1zM304 141h1v1h-1zM325 141h1v1h-1zM279 142h2v1h-2zM297 142h1v1h-1zM316 142h1v1h-1zM321 142h1v1h-1zM229 143h1v1h-1zM233 143h1v1h-1zM269 143h1v1h-1zM298 143h1v1h-1zM301 143h1v1h-1zM307 143h2v1h-2zM241 144h1v1h-1zM253 144h2v1h-2zM268 144h1v1h-1zM293 144h1v1h-1zM299 144h1v1h-1zM307 144h1v1h-1zM309 144h1v1h-1zM278 145h1v1h-1zM290 145h1v1h-1zM311 145h1v1h-1zM314 145h1v1h-1zM233 146h1v1h-1zM250 146h1v1h-1zM233 147h1v1h-1zM238 147h1v1h-1zM285 147h2v1h-2zM304 147h2v1h-2zM317 147h1v1h-1zM323 147h1v1h-1zM274 148h1v1h-1zM281 148h1v1h-1zM283 148h1v1h-1zM293 148h1v1h-1zM302 148h1v1h-1zM317 148h1v1h-1zM272 149h1v1h-1zM280 149h1v1h-1zM299 149h1v1h-1zM309 149h1v1h-1zM313 149h1v1h-1zM244 150h3v1h-3zM249 150h1v1h-1zM260 150h1v1h-1zM282 150h1v1h-1zM296 150h1v1h-1zM309 150h1v1h-1zM311 150h1v1h-1zM246 151h1v1h-1zM248 151h1v1h-1zM261 151h1v1h-1zM299 151h1v1h-1zM325 151h1v1h-1zM238 152h1v1h-1zM254 152h1v1h-1zM256 152h1v1h-1zM283 152h1v1h-1zM285 152h1v1h-1zM291 152h1v1h-1zM309 152h1v1h-1zM284 153h1v1h-1zM308 153h1v1h-1zM311 153h1v1h-1zM236 154h1v1h-1zM271 154h2v1h-2zM276 154h1v1h-1zM292 154h1v1h-1zM304 154h1v1h-1zM318 154h1v1h-1zM240 155h1v1h-1zM256 155h1v1h-1zM271 155h1v1h-1zM284 155h1v1h-1zM296 155h2v1h-2zM309 155h2v1h-2zM317 155h1v1h-1zM238 156h1v1h-1zM247 156h1v1h-1zM254 156h1v1h-1zM262 156h2v1h-2zM268 156h1v1h-1zM230 157h1v1h-1zM232 157h2v1h-2zM246 157h1v1h-1zM281 157h2v1h-2zM288 157h1v1h-1z"/><path fill="#7d5f65" d="M256 105h2v1h-2zM281 105h1v1h-1zM304 105h1v1h-1zM310 105h1v1h-1zM238 106h1v1h-1zM244 106h1v1h-1zM248 106h1v1h-1zM265 106h1v1h-1zM271 106h1v1h-1zM276 106h1v1h-1zM283 106h1v1h-1zM308 106h1v1h-1zM245 107h1v1h-1zM251 107h1v1h-1zM257 107h2v1h-2zM271 107h1v1h-1zM293 107h1v1h-1zM297 107h1v1h-1zM246 108h1v1h-1zM259 108h1v1h-1zM270 108h1v1h-1zM279 108h1v1h-1zM298 108h1v1h-1zM248 109h1v1h-1zM257 109h1v1h-1zM270 109h2v1h-2zM284 109h1v1h-1zM293 109h1v1h-1zM299 109h1v1h-1zM231 110h1v1h-1zM254 110h1v1h-1zM262 110h1v1h-1zM299 110h2v1h-2zM312 110h1v1h-1zM256 111h1v1h-1zM258 111h1v1h-1zM261 111h2v1h-2zM293 111h1v1h-1zM308 111h1v1h-1zM233 112h1v1h-1zM257 112h2v1h-2zM271 112h1v1h-1zM276 112h1v1h-1zM291 112h1v1h-1zM308 112h1v1h-1zM235 113h1v1h-1zM264 113h1v1h-1zM305 113h1v1h-1zM325 113h1v1h-1zM257 114h1v1h-1zM264 114h1v1h-1zM313 114h1v1h-1zM264 115h1v1h-1zM249 116h1v1h-1zM264 116h1v1h-1zM272 117h1v1h-1zM313 117h1v1h-1zM321 117h1v1h-1zM252 118h1v1h-1zM258 118h1v1h-1zM283 118h1v1h-1zM319 118h1v1h-1zM229 119h1v1h-1zM232 119h1v1h-1zM236 119h1v1h-1zM240 119h1v1h-1zM263 119h1v1h-1zM277 119h1v1h-1zM299 119h1v1h-1zM324 119h1v1h-1zM248 120h1v1h-1zM258 120h1v1h-1zM280 120h1v1h-1zM312 120h1v1h-1zM320 120h1v1h-1zM322 120h1v1h-1zM232 121h2v1h-2zM246 121h1v1h-1zM252 121h1v1h-1zM258 121h1v1h-1zM280 121h1v1h-1zM304 122h1v1h-1zM325 122h1v1h-1zM235 123h1v1h-1zM256 123h1v1h-1zM259 123h1v1h-1zM271 123h1v1h-1zM275 123h1v1h-1zM300 123h1v1h-1zM304 123h1v1h-1zM233 124h1v1h-1zM266 124h1v1h-1zM242 125h1v1h-1zM286 125h1v1h-1zM313 125h1v1h-1zM242 126h1v1h-1zM257 126h1v1h-1zM262 126h1v1h-1zM304 126h1v1h-1zM322 126h1v1h-1zM325 126h1v1h-1zM232 127h1v1h-1zM237 127h1v1h-1zM280 127h1v1h-1zM302 127h1v1h-1zM270 128h1v1h-1zM289 128h1v1h-1zM312 128h1v1h-1zM236 129h1v1h-1zM250 129h1v1h-1zM253 129h1v1h-1zM283 129h1v1h-1zM301 129h1v1h-1zM321 129h1v1h-1zM253 130h1v1h-1zM267 130h1v1h-1zM285 130h1v1h-1zM292 130h1v1h-1zM260 131h1v1h-1zM264 131h1v1h-1zM301 131h1v1h-1zM287 132h1v1h-1zM230 133h1v1h-1zM280 133h1v1h-1zM293 133h1v1h-1zM231 134h1v1h-1zM235 134h1v1h-1zM257 134h1v1h-1zM286 134h1v1h-1zM288 134h1v1h-1zM298 134h1v1h-1zM320 134h1v1h-1zM323 134h1v1h-1zM231 135h1v1h-1zM262 135h2v1h-2zM272 135h1v1h-1zM279 135h2v1h-2zM282 135h1v1h-1zM285 135h1v1h-1zM272 136h1v1h-1zM300 136h1v1h-1zM319 136h1v1h-1zM239 137h1v1h-1zM248 137h1v1h-1zM278 137h1v1h-1zM233 138h1v1h-1zM244 138h1v1h-1zM252 138h1v1h-1zM280 138h1v1h-1zM282 138h2v1h-2zM310 138h1v1h-1zM317 138h1v1h-1zM230 139h1v1h-1zM236 139h1v1h-1zM253 139h1v1h-1zM278 139h1v1h-1zM291 139h1v1h-1zM293 139h1v1h-1zM303 139h1v1h-1zM318 139h1v1h-1zM322 139h1v1h-1zM324 139h1v1h-1zM247 140h1v1h-1zM254 140h2v1h-2zM257 140h2v1h-2zM287 140h2v1h-2zM290 140h1v1h-1zM292 140h1v1h-1zM304 140h1v1h-1zM233 141h1v1h-1zM241 141h1v1h-1zM254 141h1v1h-1zM257 141h1v1h-1zM273 141h1v1h-1zM275 141h1v1h-1zM312 141h1v1h-1zM264 142h1v1h-1zM298 142h1v1h-1zM308 142h1v1h-1zM325 142h1v1h-1zM235 143h1v1h-1zM245 143h1v1h-1zM264 143h1v1h-1zM291 143h1v1h-1zM324 143h1v1h-1zM265 144h1v1h-1zM273 144h1v1h-1zM294 144h1v1h-1zM317 144h1v1h-1zM232 146h1v1h-1zM255 146h1v1h-1zM279 146h1v1h-1zM287 146h1v1h-1zM236 147h1v1h-1zM245 147h2v1h-2zM275 147h1v1h-1zM300 147h3v1h-3zM312 147h1v1h-1zM321 147h1v1h-1zM235 148h1v1h-1zM271 148h1v1h-1zM300 148h2v1h-2zM271 149h1v1h-1zM287 149h3v1h-3zM314 149h1v1h-1zM255 150h3v1h-3zM264 150h1v1h-1zM289 150h2v1h-2zM242 151h1v1h-1zM247 151h1v1h-1zM256 151h1v1h-1zM269 151h1v1h-1zM300 151h1v1h-1zM322 151h1v1h-1zM262 152h1v1h-1zM274 152h1v1h-1zM304 152h1v1h-1zM308 152h1v1h-1zM322 152h1v1h-1zM325 152h1v1h-1zM238 153h1v1h-1zM293 153h1v1h-1zM240 154h1v1h-1zM278 154h1v1h-1zM284 154h1v1h-1zM293 154h2v1h-2zM246 155h1v1h-1zM259 155h1v1h-1zM273 155h1v1h-1zM290 155h1v1h-1zM313 155h1v1h-1zM319 155h1v1h-1zM246 156h1v1h-1zM231 157h1v1h-1zM234 157h1v1h-1zM273 157h1v1h-1z"/></g></g>
<line x1="234" y1="152.4" x2="251" y2="152.4" stroke="#d0d0ec" stroke-width="0.8" opacity="0.7"/>
<ellipse cx="231.5" cy="124.5" rx="2.2" ry="1.8" fill="#4a3c86" opacity="0.85"/>
<line x1="368.2" y1="36.5" x2="368.2" y2="138" stroke="#3a3a3a" stroke-width="1.2" />
<line x1="367.6" y1="137.7" x2="511.6" y2="137.7" stroke="#3a3a3a" stroke-width="1.2" />
<line x1="365" y1="37.0" x2="368.2" y2="37.0" stroke="#3a3a3a" stroke-width="1" />
<text x="362.4" y="40.3" font-size="8.6" text-anchor="end" fill="#3a3a3a" >1.5</text>
<line x1="365" y1="70.57" x2="368.2" y2="70.57" stroke="#3a3a3a" stroke-width="1" />
<text x="362.4" y="73.86999999999999" font-size="8.6" text-anchor="end" fill="#3a3a3a" >1.0</text>
<line x1="365" y1="104.14" x2="368.2" y2="104.14" stroke="#3a3a3a" stroke-width="1" />
<text x="362.4" y="107.44" font-size="8.6" text-anchor="end" fill="#3a3a3a" >0.5</text>
<line x1="365" y1="137.71" x2="368.2" y2="137.71" stroke="#3a3a3a" stroke-width="1" />
<text x="362.4" y="141.01000000000002" font-size="8.6" text-anchor="end" fill="#3a3a3a" >0.0</text>
<rect x="372.1" y="70.8" width="5.7" height="66.8" fill="#cc1f3a" />
<line x1="374.95000000000005" y1="68.3" x2="374.95000000000005" y2="71.1" stroke="#3a3a3a" stroke-width="0.9" />
<line x1="373.20000000000005" y1="68.3" x2="376.70000000000005" y2="68.3" stroke="#3a3a3a" stroke-width="1.1" />
<rect x="380.1" y="124.4" width="5.7" height="13.199999999999989" fill="#15548f" />
<line x1="382.95000000000005" y1="122.4" x2="382.95000000000005" y2="124.7" stroke="#3a3a3a" stroke-width="0.9" />
<line x1="381.20000000000005" y1="122.4" x2="384.70000000000005" y2="122.4" stroke="#3a3a3a" stroke-width="1.1" />
<polygon points="382.95,116.20 383.53,117.60 385.04,117.72 383.89,118.71 384.24,120.18 382.95,119.39 381.66,120.18 382.01,118.71 380.86,117.72 382.37,117.60" fill="#222"/>
<line x1="378.95000000000005" y1="137.6" x2="378.95000000000005" y2="140.8" stroke="#3a3a3a" stroke-width="1" />
<text transform="translate(382.95000000000005,146.0) rotate(-45)" font-size="8.2" text-anchor="end" fill="#333">DMSO</text>
<rect x="392.65000000000003" y="75.1" width="5.7" height="62.5" fill="#cc1f3a" />
<line x1="395.50000000000006" y1="71.3" x2="395.50000000000006" y2="75.39999999999999" stroke="#3a3a3a" stroke-width="0.9" />
<line x1="393.75000000000006" y1="71.3" x2="397.25000000000006" y2="71.3" stroke="#3a3a3a" stroke-width="1.1" />
<rect x="400.65000000000003" y="117.4" width="5.7" height="20.19999999999999" fill="#15548f" />
<line x1="403.50000000000006" y1="113.6" x2="403.50000000000006" y2="117.7" stroke="#3a3a3a" stroke-width="0.9" />
<line x1="401.75000000000006" y1="113.6" x2="405.25000000000006" y2="113.6" stroke="#3a3a3a" stroke-width="1.1" />
<polygon points="403.50,107.10 404.08,108.50 405.59,108.62 404.44,109.61 404.79,111.08 403.50,110.29 402.21,111.08 402.56,109.61 401.41,108.62 402.92,108.50" fill="#222"/>
<line x1="399.50000000000006" y1="137.6" x2="399.50000000000006" y2="140.8" stroke="#3a3a3a" stroke-width="1" />
<text transform="translate(403.50000000000006,146.0) rotate(-45)" font-size="8.2" text-anchor="end" fill="#333">Ibuprofen</text>
<rect x="413.20000000000005" y="80.1" width="5.7" height="57.5" fill="#cc1f3a" />
<line x1="416.05000000000007" y1="78.4" x2="416.05000000000007" y2="80.39999999999999" stroke="#3a3a3a" stroke-width="0.9" />
<line x1="414.30000000000007" y1="78.4" x2="417.80000000000007" y2="78.4" stroke="#3a3a3a" stroke-width="1.1" />
<rect x="421.20000000000005" y="112.1" width="5.7" height="25.5" fill="#15548f" />
<line x1="424.05000000000007" y1="109.6" x2="424.05000000000007" y2="112.39999999999999" stroke="#3a3a3a" stroke-width="0.9" />
<line x1="422.30000000000007" y1="109.6" x2="425.80000000000007" y2="109.6" stroke="#3a3a3a" stroke-width="1.1" />
<polygon points="424.05,103.10 424.63,104.50 426.14,104.62 424.99,105.61 425.34,107.08 424.05,106.29 422.76,107.08 423.11,105.61 421.96,104.62 423.47,104.50" fill="#222"/>
<line x1="420.05000000000007" y1="137.6" x2="420.05000000000007" y2="140.8" stroke="#3a3a3a" stroke-width="1" />
<text transform="translate(424.05000000000007,146.0) rotate(-45)" font-size="8.2" text-anchor="end" fill="#333">AminBenzo</text>
<rect x="433.75" y="80.7" width="5.7" height="56.89999999999999" fill="#cc1f3a" />
<line x1="436.6" y1="79.9" x2="436.6" y2="81.0" stroke="#3a3a3a" stroke-width="0.9" />
<line x1="434.85" y1="79.9" x2="438.35" y2="79.9" stroke="#3a3a3a" stroke-width="1.1" />
<rect x="441.75" y="117.6" width="5.7" height="20.0" fill="#15548f" />
<line x1="444.6" y1="115.2" x2="444.6" y2="117.89999999999999" stroke="#3a3a3a" stroke-width="0.9" />
<line x1="442.85" y1="115.2" x2="446.35" y2="115.2" stroke="#3a3a3a" stroke-width="1.1" />
<polygon points="444.60,108.20 445.18,109.60 446.69,109.72 445.54,110.71 445.89,112.18 444.60,111.39 443.31,112.18 443.66,110.71 442.51,109.72 444.02,109.60" fill="#222"/>
<line x1="440.6" y1="137.6" x2="440.6" y2="140.8" stroke="#3a3a3a" stroke-width="1" />
<text transform="translate(444.6,146.0) rotate(-45)" font-size="8.2" text-anchor="end" fill="#333">BW B70C (0.1µM)</text>
<rect x="454.3" y="64.3" width="5.7" height="73.3" fill="#cc1f3a" />
<line x1="457.15000000000003" y1="59.5" x2="457.15000000000003" y2="64.6" stroke="#3a3a3a" stroke-width="0.9" />
<line x1="455.40000000000003" y1="59.5" x2="458.90000000000003" y2="59.5" stroke="#3a3a3a" stroke-width="1.1" />
<rect x="462.3" y="91.5" width="5.7" height="46.099999999999994" fill="#15548f" />
<line x1="465.15000000000003" y1="89.6" x2="465.15000000000003" y2="91.8" stroke="#3a3a3a" stroke-width="0.9" />
<line x1="463.40000000000003" y1="89.6" x2="466.90000000000003" y2="89.6" stroke="#3a3a3a" stroke-width="1.1" />
<polygon points="465.15,82.90 465.73,84.30 467.24,84.42 466.09,85.41 466.44,86.88 465.15,86.09 463.86,86.88 464.21,85.41 463.06,84.42 464.57,84.30" fill="#222"/>
<line x1="461.15000000000003" y1="137.6" x2="461.15000000000003" y2="140.8" stroke="#3a3a3a" stroke-width="1" />
<text transform="translate(465.15000000000003,146.0) rotate(-45)" font-size="8.2" text-anchor="end" fill="#333">BW B70C (10µM)</text>
<rect x="474.85" y="65.1" width="5.7" height="72.5" fill="#cc1f3a" />
<line x1="477.70000000000005" y1="62.2" x2="477.70000000000005" y2="65.39999999999999" stroke="#3a3a3a" stroke-width="0.9" />
<line x1="475.95000000000005" y1="62.2" x2="479.45000000000005" y2="62.2" stroke="#3a3a3a" stroke-width="1.1" />
<rect x="482.85" y="78.2" width="5.7" height="59.39999999999999" fill="#15548f" />
<line x1="485.70000000000005" y1="76" x2="485.70000000000005" y2="78.5" stroke="#3a3a3a" stroke-width="0.9" />
<line x1="483.95000000000005" y1="76" x2="487.45000000000005" y2="76" stroke="#3a3a3a" stroke-width="1.1" />
<polygon points="485.70,69.30 486.28,70.70 487.79,70.82 486.64,71.81 486.99,73.28 485.70,72.49 484.41,73.28 484.76,71.81 483.61,70.82 485.12,70.70" fill="#222"/>
<line x1="481.70000000000005" y1="137.6" x2="481.70000000000005" y2="140.8" stroke="#3a3a3a" stroke-width="1" />
<text transform="translate(485.70000000000005,146.0) rotate(-45)" font-size="8.2" text-anchor="end" fill="#333">Baicalein</text>
<rect x="495.40000000000003" y="59" width="5.7" height="78.6" fill="#cc1f3a" />
<line x1="498.25000000000006" y1="55.8" x2="498.25000000000006" y2="59.3" stroke="#3a3a3a" stroke-width="0.9" />
<line x1="496.50000000000006" y1="55.8" x2="500.00000000000006" y2="55.8" stroke="#3a3a3a" stroke-width="1.1" />
<rect x="503.40000000000003" y="56.9" width="5.7" height="80.69999999999999" fill="#15548f" />
<line x1="506.25000000000006" y1="56" x2="506.25000000000006" y2="57.199999999999996" stroke="#3a3a3a" stroke-width="0.9" />
<line x1="504.50000000000006" y1="56" x2="508.00000000000006" y2="56" stroke="#3a3a3a" stroke-width="1.1" />
<line x1="502.25000000000006" y1="137.6" x2="502.25000000000006" y2="140.8" stroke="#3a3a3a" stroke-width="1" />
<text transform="translate(506.25000000000006,146.0) rotate(-45)" font-size="8.2" text-anchor="end" fill="#333">Ferrostatin</text>
<rect x="370.9" y="38.1" width="10.9" height="3.8" fill="#cc1f3a" />
<text x="384.8" y="42.5" font-size="8.0" textLength="38.5" lengthAdjust="spacingAndGlyphs" fill="#333" >Without AA</text>
<rect x="370.9" y="49.2" width="10.9" height="3.8" fill="#15548f" />
<text x="384.8" y="53.4" font-size="8.0" textLength="27.6" lengthAdjust="spacingAndGlyphs" fill="#333" >With AA</text>
<text transform="translate(336.4,85.8) rotate(-90)" font-size="8.8" text-anchor="middle" fill="#333" textLength="83.6" lengthAdjust="spacingAndGlyphs">Viable cells (absorbance)</text>
<text transform="translate(349.1,87.4) rotate(-90)" font-size="8.8" text-anchor="middle" fill="#333" textLength="60.2" lengthAdjust="spacingAndGlyphs">(relative to DMSO)</text>
<text x="92" y="216.4" font-size="8.3" text-anchor="middle" textLength="25" lengthAdjust="spacingAndGlyphs" fill="#2a2a2a" >DMSO</text>
<g><path fill="#20a060" d="M107.3 258.0h.9v.9h-.9zM105.6 248.8h.9v.9h-.9zM93.7 255.4h.9v.9h-.9zM107.4 249.1h.9v.9h-.9zM92.3 263.7h.9v.9h-.9zM110.8 253.4h.9v.9h-.9zM92.9 255.6h.9v.9h-.9zM105.4 252.3h.9v.9h-.9zM105.6 260.0h.9v.9h-.9zM106.8 258.2h.9v.9h-.9zM107.8 259.4h.9v.9h-.9zM94.7 257.7h.9v.9h-.9zM102.9 252.3h.9v.9h-.9zM107.9 252.8h.9v.9h-.9zM108.4 251.1h.9v.9h-.9zM107.7 255.8h.9v.9h-.9zM92.8 259.9h.9v.9h-.9zM91.9 255.4h.9v.9h-.9zM105.7 252.7h.9v.9h-.9zM97.3 254.9h.9v.9h-.9zM103.7 250.1h.9v.9h-.9zM90.8 258.9h.9v.9h-.9zM97.9 249.5h.9v.9h-.9zM105.7 258.9h.9v.9h-.9zM97.3 251.0h.9v.9h-.9zM95.7 255.7h.9v.9h-.9zM105.6 255.2h.9v.9h-.9zM100.4 252.4h.9v.9h-.9zM98.0 251.9h.9v.9h-.9zM110.3 248.0h.9v.9h-.9zM96.8 251.4h.9v.9h-.9zM96.7 252.1h.9v.9h-.9zM97.5 255.4h.9v.9h-.9zM93.4 255.8h.9v.9h-.9zM99.2 250.8h.9v.9h-.9zM106.0 250.9h.9v.9h-.9zM97.0 250.0h.9v.9h-.9zM106.0 259.1h.9v.9h-.9zM108.8 246.7h.9v.9h-.9zM104.8 253.2h.9v.9h-.9zM95.5 260.2h.9v.9h-.9zM100.6 251.0h.9v.9h-.9zM94.6 255.9h.9v.9h-.9zM103.8 259.2h.9v.9h-.9zM105.6 252.8h.9v.9h-.9zM96.0 259.3h.9v.9h-.9zM95.4 260.0h.9v.9h-.9zM103.2 250.7h.9v.9h-.9zM105.6 260.2h.9v.9h-.9zM104.0 260.1h.9v.9h-.9zM106.3 248.9h.9v.9h-.9zM94.7 257.4h.9v.9h-.9zM105.4 248.7h.9v.9h-.9zM90.9 257.8h.9v.9h-.9zM106.5 251.4h.9v.9h-.9zM107.6 254.0h.9v.9h-.9zM109.2 254.8h.9v.9h-.9zM104.7 251.8h.9v.9h-.9zM104.0 260.8h.9v.9h-.9zM98.2 262.4h.9v.9h-.9zM95.5 257.3h.9v.9h-.9zM105.0 252.6h.9v.9h-.9zM98.6 261.0h.9v.9h-.9zM103.3 258.4h.9v.9h-.9zM101.0 252.5h.9v.9h-.9zM104.3 260.4h.9v.9h-.9zM98.4 252.4h.9v.9h-.9zM105.8 256.5h.9v.9h-.9zM107.4 257.0h.9v.9h-.9zM100.4 249.5h.9v.9h-.9zM97.3 249.3h.9v.9h-.9zM105.5 251.5h.9v.9h-.9zM98.2 260.3h.9v.9h-.9zM107.2 260.0h.9v.9h-.9zM108.3 250.0h.9v.9h-.9zM94.1 257.8h.9v.9h-.9zM108.9 250.1h.9v.9h-.9zM99.9 262.3h.9v.9h-.9zM104.1 250.1h.9v.9h-.9zM96.3 261.1h.9v.9h-.9zM96.4 261.1h.9v.9h-.9zM106.9 252.7h.9v.9h-.9zM96.5 250.6h.9v.9h-.9zM95.8 253.6h.9v.9h-.9zM95.3 255.2h.9v.9h-.9zM97.7 259.1h.9v.9h-.9zM104.7 250.9h.9v.9h-.9zM90.7 257.5h.9v.9h-.9zM100.7 249.8h.9v.9h-.9zM96.4 254.3h.9v.9h-.9zM107.6 257.9h.9v.9h-.9zM96.1 254.1h.9v.9h-.9zM92.1 257.0h.9v.9h-.9zM107.5 248.3h.9v.9h-.9zM111.2 251.2h.9v.9h-.9zM94.1 260.7h.9v.9h-.9zM94.8 255.0h.9v.9h-.9zM106.3 250.2h.9v.9h-.9zM108.2 249.3h.9v.9h-.9zM99.5 253.7h.9v.9h-.9zM107.5 251.7h.9v.9h-.9zM93.6 257.1h.9v.9h-.9zM97.5 249.3h.9v.9h-.9zM97.3 257.8h.9v.9h-.9zM102.6 251.3h.9v.9h-.9zM101.4 252.9h.9v.9h-.9z"/><path fill="#30b040" d="M97.6 260.0h.9v.9h-.9zM104.3 257.6h.9v.9h-.9zM108.1 253.3h.9v.9h-.9zM103.3 252.9h.9v.9h-.9zM99.0 254.2h.9v.9h-.9zM102.0 259.5h.9v.9h-.9zM109.8 252.5h.9v.9h-.9zM98.0 254.3h.9v.9h-.9zM99.6 252.0h.9v.9h-.9zM109.3 253.2h.9v.9h-.9zM103.9 258.9h.9v.9h-.9zM108.5 254.9h.9v.9h-.9zM99.6 260.8h.9v.9h-.9zM102.7 251.7h.9v.9h-.9zM94.8 257.5h.9v.9h-.9zM107.0 252.6h.9v.9h-.9zM97.7 253.9h.9v.9h-.9zM103.5 259.5h.9v.9h-.9zM97.7 259.9h.9v.9h-.9zM100.4 252.1h.9v.9h-.9zM99.9 259.6h.9v.9h-.9zM105.5 256.2h.9v.9h-.9zM105.1 253.3h.9v.9h-.9zM98.0 254.9h.9v.9h-.9zM97.3 256.3h.9v.9h-.9zM99.0 250.5h.9v.9h-.9zM101.0 259.5h.9v.9h-.9zM100.7 252.5h.9v.9h-.9zM96.7 253.5h.9v.9h-.9zM103.8 258.2h.9v.9h-.9zM103.5 261.4h.9v.9h-.9zM98.0 258.4h.9v.9h-.9zM106.0 253.1h.9v.9h-.9zM106.4 255.5h.9v.9h-.9zM107.5 249.6h.9v.9h-.9zM103.3 259.0h.9v.9h-.9zM95.9 258.3h.9v.9h-.9zM105.2 251.5h.9v.9h-.9zM99.4 252.7h.9v.9h-.9zM104.9 256.2h.9v.9h-.9zM96.8 255.0h.9v.9h-.9zM101.6 250.5h.9v.9h-.9zM103.6 250.9h.9v.9h-.9zM108.6 256.6h.9v.9h-.9zM99.4 259.4h.9v.9h-.9zM104.0 250.9h.9v.9h-.9zM96.7 251.5h.9v.9h-.9zM105.1 253.5h.9v.9h-.9zM96.3 258.5h.9v.9h-.9zM104.7 257.4h.9v.9h-.9zM103.2 257.8h.9v.9h-.9zM101.4 253.4h.9v.9h-.9zM104.1 250.9h.9v.9h-.9zM107.3 253.6h.9v.9h-.9zM96.3 254.3h.9v.9h-.9zM107.2 257.5h.9v.9h-.9zM105.7 259.4h.9v.9h-.9zM105.5 253.5h.9v.9h-.9zM94.4 258.5h.9v.9h-.9zM104.2 257.6h.9v.9h-.9zM105.0 252.9h.9v.9h-.9zM96.7 257.9h.9v.9h-.9zM103.9 257.3h.9v.9h-.9zM107.3 252.6h.9v.9h-.9zM97.2 253.1h.9v.9h-.9zM102.7 258.6h.9v.9h-.9zM101.0 252.4h.9v.9h-.9zM96.7 258.4h.9v.9h-.9zM104.1 256.8h.9v.9h-.9zM97.0 258.5h.9v.9h-.9zM97.8 251.8h.9v.9h-.9zM95.9 255.6h.9v.9h-.9zM98.0 253.4h.9v.9h-.9zM106.0 253.0h.9v.9h-.9zM97.0 254.6h.9v.9h-.9zM100.5 252.6h.9v.9h-.9zM100.4 259.3h.9v.9h-.9zM97.5 258.5h.9v.9h-.9zM105.3 253.3h.9v.9h-.9zM104.6 251.4h.9v.9h-.9zM106.1 251.7h.9v.9h-.9zM100.8 258.8h.9v.9h-.9zM96.2 256.6h.9v.9h-.9zM97.9 255.8h.9v.9h-.9zM98.1 260.3h.9v.9h-.9zM97.7 259.0h.9v.9h-.9zM101.9 252.8h.9v.9h-.9zM101.5 258.3h.9v.9h-.9zM104.7 256.2h.9v.9h-.9zM105.8 255.7h.9v.9h-.9zM94.8 257.3h.9v.9h-.9zM95.5 260.1h.9v.9h-.9zM96.9 257.1h.9v.9h-.9zM107.1 257.4h.9v.9h-.9zM105.8 257.1h.9v.9h-.9zM103.4 252.9h.9v.9h-.9zM100.7 259.2h.9v.9h-.9zM106.7 255.3h.9v.9h-.9zM97.6 262.5h.9v.9h-.9zM100.5 251.3h.9v.9h-.9zM98.3 257.1h.9v.9h-.9zM101.4 251.8h.9v.9h-.9zM101.6 259.2h.9v.9h-.9zM104.2 258.2h.9v.9h-.9zM105.6 257.4h.9v.9h-.9zM101.1 259.0h.9v.9h-.9zM107.7 256.0h.9v.9h-.9zM105.7 256.7h.9v.9h-.9zM98.3 260.0h.9v.9h-.9z"/><path fill="#f0a020" d="M98.7 256.4h.9v.9h-.9zM104.7 253.5h.9v.9h-.9zM104.3 256.5h.9v.9h-.9zM98.9 255.2h.9v.9h-.9zM104.1 256.2h.9v.9h-.9zM98.6 257.0h.9v.9h-.9zM101.0 257.4h.9v.9h-.9zM104.6 256.2h.9v.9h-.9zM103.8 255.2h.9v.9h-.9zM101.8 257.2h.9v.9h-.9zM99.1 256.7h.9v.9h-.9zM104.8 256.2h.9v.9h-.9zM104.7 255.1h.9v.9h-.9zM101.9 254.1h.9v.9h-.9zM106.0 255.2h.9v.9h-.9zM99.5 254.8h.9v.9h-.9zM100.4 257.8h.9v.9h-.9zM98.5 255.3h.9v.9h-.9zM98.8 255.6h.9v.9h-.9zM104.6 256.5h.9v.9h-.9zM103.5 257.5h.9v.9h-.9zM104.4 254.1h.9v.9h-.9zM99.4 254.9h.9v.9h-.9zM101.9 254.0h.9v.9h-.9z"/><path fill="#2090a0" d="M94.4 252.4h.9v.9h-.9zM106.1 259.7h.9v.9h-.9zM98.1 249.4h.9v.9h-.9zM96.9 260.9h.9v.9h-.9zM94.0 254.9h.9v.9h-.9zM102.7 262.6h.9v.9h-.9zM109.4 254.3h.9v.9h-.9zM109.2 257.2h.9v.9h-.9zM93.7 254.0h.9v.9h-.9zM96.5 261.4h.9v.9h-.9zM90.8 256.3h.9v.9h-.9zM99.0 250.3h.9v.9h-.9zM92.2 260.2h.9v.9h-.9zM96.3 261.6h.9v.9h-.9zM106.8 250.7h.9v.9h-.9zM107.2 251.7h.9v.9h-.9zM110.9 252.8h.9v.9h-.9zM96.9 261.5h.9v.9h-.9zM99.4 250.9h.9v.9h-.9zM91.5 256.9h.9v.9h-.9zM109.8 256.8h.9v.9h-.9zM94.8 252.2h.9v.9h-.9zM111.6 250.3h.9v.9h-.9zM92.3 258.9h.9v.9h-.9zM109.2 248.7h.9v.9h-.9zM98.1 251.4h.9v.9h-.9zM110.5 255.1h.9v.9h-.9zM108.4 260.4h.9v.9h-.9zM107.8 250.7h.9v.9h-.9zM112.0 251.4h.9v.9h-.9zM94.6 262.5h.9v.9h-.9zM106.6 248.9h.9v.9h-.9zM109.5 256.3h.9v.9h-.9zM92.1 257.1h.9v.9h-.9zM99.3 260.8h.9v.9h-.9zM93.9 257.3h.9v.9h-.9zM98.2 248.8h.9v.9h-.9zM93.9 254.3h.9v.9h-.9zM103.6 259.9h.9v.9h-.9zM107.5 258.1h.9v.9h-.9zM94.5 252.3h.9v.9h-.9zM102.6 249.0h.9v.9h-.9zM91.9 257.3h.9v.9h-.9zM94.4 259.3h.9v.9h-.9zM91.3 258.5h.9v.9h-.9zM96.4 250.0h.9v.9h-.9zM91.1 257.3h.9v.9h-.9zM93.0 257.5h.9v.9h-.9zM111.3 253.3h.9v.9h-.9zM94.4 261.8h.9v.9h-.9zM92.1 255.2h.9v.9h-.9zM102.1 247.3h.9v.9h-.9zM111.3 255.1h.9v.9h-.9zM103.7 260.0h.9v.9h-.9zM107.3 261.5h.9v.9h-.9zM92.7 258.6h.9v.9h-.9z"/><path fill="#c8d020" d="M105.7 253.5h.9v.9h-.9zM104.9 252.4h.9v.9h-.9zM96.8 257.0h.9v.9h-.9zM96.3 254.7h.9v.9h-.9zM99.6 252.0h.9v.9h-.9zM108.4 252.1h.9v.9h-.9zM102.5 261.3h.9v.9h-.9zM104.6 257.2h.9v.9h-.9zM95.8 256.1h.9v.9h-.9zM107.5 255.2h.9v.9h-.9zM95.8 260.2h.9v.9h-.9zM99.3 258.9h.9v.9h-.9zM105.4 258.5h.9v.9h-.9zM96.5 255.7h.9v.9h-.9zM94.1 256.4h.9v.9h-.9zM95.3 260.1h.9v.9h-.9zM104.1 252.6h.9v.9h-.9zM96.9 256.6h.9v.9h-.9zM99.3 260.3h.9v.9h-.9zM95.7 260.0h.9v.9h-.9zM105.5 256.9h.9v.9h-.9zM103.7 258.6h.9v.9h-.9zM96.7 253.0h.9v.9h-.9zM101.0 253.0h.9v.9h-.9zM105.0 256.7h.9v.9h-.9zM96.8 258.8h.9v.9h-.9zM98.3 259.1h.9v.9h-.9zM103.1 258.6h.9v.9h-.9zM104.5 253.4h.9v.9h-.9zM105.2 257.8h.9v.9h-.9zM105.8 252.9h.9v.9h-.9zM105.5 255.3h.9v.9h-.9zM106.7 254.1h.9v.9h-.9zM106.8 254.3h.9v.9h-.9zM108.3 256.1h.9v.9h-.9zM100.0 251.9h.9v.9h-.9zM102.0 253.4h.9v.9h-.9zM99.5 258.9h.9v.9h-.9zM99.8 252.9h.9v.9h-.9zM100.9 252.4h.9v.9h-.9zM105.5 257.5h.9v.9h-.9zM100.4 261.2h.9v.9h-.9zM107.6 255.3h.9v.9h-.9zM103.5 257.9h.9v.9h-.9zM108.1 253.6h.9v.9h-.9zM102.1 253.0h.9v.9h-.9zM100.5 258.7h.9v.9h-.9zM97.0 253.1h.9v.9h-.9zM95.4 253.7h.9v.9h-.9zM93.8 258.4h.9v.9h-.9z"/><path fill="#8090e0" d="M108.8 261.9h.9v.9h-.9zM96.4 249.5h.9v.9h-.9zM105.2 246.3h.9v.9h-.9zM108.1 246.9h.9v.9h-.9zM89.1 258.8h.9v.9h-.9zM102.9 244.1h.9v.9h-.9zM93.1 261.4h.9v.9h-.9zM85.8 257.9h.9v.9h-.9zM89.8 251.9h.9v.9h-.9zM90.9 260.0h.9v.9h-.9zM96.4 248.0h.9v.9h-.9zM101.3 265.4h.9v.9h-.9zM88.3 262.0h.9v.9h-.9zM104.2 240.8h.9v.9h-.9zM91.1 255.6h.9v.9h-.9zM83.5 256.2h.9v.9h-.9zM98.6 242.6h.9v.9h-.9zM114.7 246.6h.9v.9h-.9zM103.1 248.6h.9v.9h-.9zM88.6 265.2h.9v.9h-.9zM90.7 252.0h.9v.9h-.9zM88.4 261.7h.9v.9h-.9zM94.1 265.0h.9v.9h-.9zM111.0 248.1h.9v.9h-.9zM88.7 261.8h.9v.9h-.9zM90.1 258.7h.9v.9h-.9zM93.0 250.1h.9v.9h-.9zM112.3 252.8h.9v.9h-.9zM90.2 265.9h.9v.9h-.9zM99.3 274.3h.9v.9h-.9zM98.0 260.3h.9v.9h-.9zM95.1 276.6h.9v.9h-.9zM97.0 265.3h.9v.9h-.9zM100.9 269.6h.9v.9h-.9zM105.1 273.8h.9v.9h-.9zM96.5 262.4h.9v.9h-.9zM97.0 261.4h.9v.9h-.9zM102.1 280.1h.9v.9h-.9zM102.6 277.5h.9v.9h-.9zM103.9 273.2h.9v.9h-.9zM98.7 256.6h.9v.9h-.9zM99.2 271.3h.9v.9h-.9zM98.7 270.2h.9v.9h-.9zM103.5 263.0h.9v.9h-.9zM101.1 277.8h.9v.9h-.9zM108.4 253.9h.9v.9h-.9zM104.6 267.9h.9v.9h-.9zM99.6 258.1h.9v.9h-.9zM101.0 268.6h.9v.9h-.9zM95.2 264.4h.9v.9h-.9zM106.6 262.3h.9v.9h-.9zM91.0 282.6h.9v.9h-.9zM102.8 263.6h.9v.9h-.9zM100.1 277.0h.9v.9h-.9zM91.4 264.2h.9v.9h-.9zM99.2 279.5h.9v.9h-.9zM95.1 262.2h.9v.9h-.9zM107.5 250.1h.9v.9h-.9zM108.6 264.8h.9v.9h-.9zM97.3 269.7h.9v.9h-.9zM104.0 288.5h.9v.9h-.9zM103.2 271.6h.9v.9h-.9zM97.8 260.3h.9v.9h-.9zM102.6 271.0h.9v.9h-.9zM102.3 263.0h.9v.9h-.9zM102.2 284.5h.9v.9h-.9zM105.7 267.8h.9v.9h-.9zM101.9 262.4h.9v.9h-.9zM102.7 261.1h.9v.9h-.9zM101.2 256.1h.9v.9h-.9zM101.3 278.5h.9v.9h-.9zM94.7 270.9h.9v.9h-.9zM103.8 261.4h.9v.9h-.9zM106.9 258.6h.9v.9h-.9zM98.4 265.5h.9v.9h-.9zM96.8 277.4h.9v.9h-.9zM99.7 288.3h.9v.9h-.9zM98.6 254.7h.9v.9h-.9zM103.6 275.7h.9v.9h-.9zM94.5 275.6h.9v.9h-.9zM96.2 261.4h.9v.9h-.9zM113.8 284.4h.9v.9h-.9zM105.5 294.3h.9v.9h-.9zM100.9 285.2h.9v.9h-.9zM100.6 286.8h.9v.9h-.9zM106.7 273.5h.9v.9h-.9zM105.8 282.9h.9v.9h-.9zM104.1 281.3h.9v.9h-.9zM100.8 288.4h.9v.9h-.9zM101.5 281.5h.9v.9h-.9zM100.2 288.9h.9v.9h-.9zM104.2 296.0h.9v.9h-.9zM96.6 300.4h.9v.9h-.9zM101.3 276.0h.9v.9h-.9zM107.2 286.9h.9v.9h-.9zM94.4 278.5h.9v.9h-.9z"/><path fill="#4060c8" d="M102.6 244.8h.9v.9h-.9zM93.3 249.2h.9v.9h-.9zM105.7 247.7h.9v.9h-.9zM88.0 251.0h.9v.9h-.9zM88.5 254.3h.9v.9h-.9zM106.6 241.4h.9v.9h-.9zM99.3 248.9h.9v.9h-.9zM94.4 251.0h.9v.9h-.9zM92.0 261.2h.9v.9h-.9zM91.6 260.8h.9v.9h-.9zM94.9 265.6h.9v.9h-.9zM97.3 248.4h.9v.9h-.9zM90.0 251.0h.9v.9h-.9zM93.2 252.2h.9v.9h-.9zM110.4 245.9h.9v.9h-.9zM90.3 248.8h.9v.9h-.9zM89.2 254.2h.9v.9h-.9zM89.6 253.0h.9v.9h-.9zM103.1 247.2h.9v.9h-.9zM90.6 250.9h.9v.9h-.9zM100.0 263.4h.9v.9h-.9zM87.3 249.8h.9v.9h-.9zM117.7 261.5h.9v.9h-.9zM103.3 261.9h.9v.9h-.9zM103.9 267.3h.9v.9h-.9zM101.1 267.8h.9v.9h-.9zM102.3 271.3h.9v.9h-.9zM100.9 268.5h.9v.9h-.9zM89.5 267.9h.9v.9h-.9zM103.9 282.1h.9v.9h-.9zM102.7 278.3h.9v.9h-.9zM103.3 281.1h.9v.9h-.9zM106.0 269.6h.9v.9h-.9zM100.9 261.5h.9v.9h-.9zM95.6 283.7h.9v.9h-.9zM99.4 264.2h.9v.9h-.9zM96.8 267.9h.9v.9h-.9zM99.1 284.9h.9v.9h-.9zM99.7 265.6h.9v.9h-.9zM96.3 262.0h.9v.9h-.9zM102.4 267.3h.9v.9h-.9zM100.5 265.4h.9v.9h-.9zM96.6 264.9h.9v.9h-.9zM95.1 280.9h.9v.9h-.9zM98.9 267.0h.9v.9h-.9zM96.6 273.6h.9v.9h-.9zM103.3 266.3h.9v.9h-.9zM101.5 271.5h.9v.9h-.9zM104.9 255.8h.9v.9h-.9zM98.2 267.7h.9v.9h-.9zM95.9 270.5h.9v.9h-.9zM92.5 262.5h.9v.9h-.9zM99.5 285.8h.9v.9h-.9zM95.8 258.6h.9v.9h-.9zM101.0 266.2h.9v.9h-.9zM100.5 275.5h.9v.9h-.9zM99.2 273.2h.9v.9h-.9zM102.4 278.1h.9v.9h-.9zM99.9 277.7h.9v.9h-.9zM102.0 258.2h.9v.9h-.9zM102.8 265.9h.9v.9h-.9zM99.7 267.8h.9v.9h-.9zM108.6 266.8h.9v.9h-.9zM99.9 278.8h.9v.9h-.9zM101.9 285.8h.9v.9h-.9zM104.8 279.3h.9v.9h-.9zM102.2 287.4h.9v.9h-.9zM99.0 282.1h.9v.9h-.9zM102.8 276.6h.9v.9h-.9zM102.2 271.3h.9v.9h-.9zM97.3 300.2h.9v.9h-.9zM103.5 288.8h.9v.9h-.9zM107.2 291.4h.9v.9h-.9zM99.5 294.9h.9v.9h-.9zM102.7 287.8h.9v.9h-.9zM103.3 294.0h.9v.9h-.9zM100.6 296.2h.9v.9h-.9zM97.1 276.0h.9v.9h-.9zM95.3 294.6h.9v.9h-.9zM102.0 294.0h.9v.9h-.9zM98.3 293.3h.9v.9h-.9zM100.8 291.2h.9v.9h-.9zM103.1 299.8h.9v.9h-.9zM101.3 288.2h.9v.9h-.9zM100.2 286.7h.9v.9h-.9z"/><path fill="#6a7ad8" d="M83.8 258.0h.9v.9h-.9zM88.0 253.1h.9v.9h-.9zM106.5 246.7h.9v.9h-.9zM100.2 249.5h.9v.9h-.9zM93.1 249.6h.9v.9h-.9zM105.3 247.1h.9v.9h-.9zM103.3 247.1h.9v.9h-.9zM108.3 247.9h.9v.9h-.9zM91.6 256.1h.9v.9h-.9zM90.0 257.0h.9v.9h-.9zM87.8 248.3h.9v.9h-.9zM90.3 249.6h.9v.9h-.9zM91.9 252.3h.9v.9h-.9zM88.9 262.7h.9v.9h-.9zM85.3 255.8h.9v.9h-.9zM90.1 251.9h.9v.9h-.9zM109.7 248.1h.9v.9h-.9zM91.8 262.9h.9v.9h-.9zM94.9 251.6h.9v.9h-.9zM88.9 254.7h.9v.9h-.9zM90.7 264.7h.9v.9h-.9zM90.0 260.7h.9v.9h-.9zM115.6 253.7h.9v.9h-.9zM86.8 250.2h.9v.9h-.9zM90.6 257.1h.9v.9h-.9zM106.4 264.7h.9v.9h-.9zM96.8 276.0h.9v.9h-.9zM104.6 266.8h.9v.9h-.9zM92.1 275.2h.9v.9h-.9zM97.9 266.6h.9v.9h-.9zM100.2 272.5h.9v.9h-.9zM106.9 276.4h.9v.9h-.9zM103.2 282.6h.9v.9h-.9zM94.0 263.4h.9v.9h-.9zM105.1 260.3h.9v.9h-.9zM101.9 278.4h.9v.9h-.9zM103.0 274.2h.9v.9h-.9zM96.6 269.5h.9v.9h-.9zM95.9 275.4h.9v.9h-.9zM90.3 279.0h.9v.9h-.9zM96.7 269.9h.9v.9h-.9zM100.9 276.8h.9v.9h-.9zM95.6 256.0h.9v.9h-.9zM106.9 268.9h.9v.9h-.9zM95.5 251.4h.9v.9h-.9zM93.0 264.2h.9v.9h-.9zM92.1 278.8h.9v.9h-.9zM104.4 265.6h.9v.9h-.9zM94.4 273.9h.9v.9h-.9zM98.3 288.7h.9v.9h-.9zM109.2 272.7h.9v.9h-.9zM95.4 281.5h.9v.9h-.9zM108.0 271.9h.9v.9h-.9zM97.6 282.5h.9v.9h-.9zM97.6 265.2h.9v.9h-.9zM108.0 270.9h.9v.9h-.9zM100.9 263.4h.9v.9h-.9zM101.2 273.2h.9v.9h-.9zM99.2 275.7h.9v.9h-.9zM100.7 268.1h.9v.9h-.9zM102.7 279.2h.9v.9h-.9zM97.0 251.4h.9v.9h-.9zM97.2 279.9h.9v.9h-.9zM96.8 266.8h.9v.9h-.9zM104.5 269.8h.9v.9h-.9zM105.6 278.2h.9v.9h-.9zM105.2 290.8h.9v.9h-.9zM105.2 280.3h.9v.9h-.9zM103.6 292.0h.9v.9h-.9zM106.9 277.2h.9v.9h-.9zM99.7 290.6h.9v.9h-.9zM98.2 285.9h.9v.9h-.9zM103.9 287.2h.9v.9h-.9z"/><path fill="#2f45b8" d="M96.5 249.3h.9v.9h-.9zM104.8 246.4h.9v.9h-.9zM102.1 245.4h.9v.9h-.9zM90.8 253.5h.9v.9h-.9zM80.5 262.5h.9v.9h-.9zM111.8 245.3h.9v.9h-.9zM97.3 250.0h.9v.9h-.9zM94.8 251.1h.9v.9h-.9zM87.0 260.7h.9v.9h-.9zM102.4 266.2h.9v.9h-.9zM87.6 256.6h.9v.9h-.9zM123.5 258.2h.9v.9h-.9zM94.9 250.0h.9v.9h-.9zM95.2 264.1h.9v.9h-.9zM88.2 252.6h.9v.9h-.9zM86.4 255.2h.9v.9h-.9zM112.9 248.1h.9v.9h-.9zM99.7 245.8h.9v.9h-.9zM103.4 265.7h.9v.9h-.9zM92.1 252.9h.9v.9h-.9zM91.2 262.0h.9v.9h-.9zM94.9 265.3h.9v.9h-.9zM110.5 248.1h.9v.9h-.9zM104.3 263.3h.9v.9h-.9zM91.6 250.8h.9v.9h-.9zM103.2 247.9h.9v.9h-.9zM92.4 249.3h.9v.9h-.9zM99.0 263.1h.9v.9h-.9zM94.6 273.7h.9v.9h-.9zM100.2 271.9h.9v.9h-.9zM94.2 276.4h.9v.9h-.9zM101.5 279.0h.9v.9h-.9zM99.3 277.1h.9v.9h-.9zM96.2 268.1h.9v.9h-.9zM95.1 268.8h.9v.9h-.9zM99.4 273.7h.9v.9h-.9zM98.0 274.1h.9v.9h-.9zM96.5 274.4h.9v.9h-.9zM97.8 267.0h.9v.9h-.9zM102.1 276.0h.9v.9h-.9zM99.9 269.0h.9v.9h-.9zM95.8 267.8h.9v.9h-.9zM92.5 278.0h.9v.9h-.9zM95.1 262.8h.9v.9h-.9zM100.3 274.1h.9v.9h-.9zM100.6 276.9h.9v.9h-.9zM100.7 287.3h.9v.9h-.9zM102.4 271.4h.9v.9h-.9zM99.9 257.6h.9v.9h-.9zM101.8 272.1h.9v.9h-.9zM98.5 269.0h.9v.9h-.9zM96.1 270.2h.9v.9h-.9zM97.7 259.5h.9v.9h-.9zM97.4 270.5h.9v.9h-.9zM100.2 274.9h.9v.9h-.9zM96.1 269.1h.9v.9h-.9zM94.8 260.7h.9v.9h-.9zM102.1 255.4h.9v.9h-.9zM98.1 268.4h.9v.9h-.9zM90.0 275.1h.9v.9h-.9zM97.9 278.9h.9v.9h-.9zM97.3 268.3h.9v.9h-.9zM99.9 284.9h.9v.9h-.9zM94.0 290.2h.9v.9h-.9zM95.5 289.0h.9v.9h-.9zM98.8 289.2h.9v.9h-.9zM103.1 295.2h.9v.9h-.9zM97.7 297.4h.9v.9h-.9zM111.5 277.2h.9v.9h-.9zM101.5 300.3h.9v.9h-.9zM99.6 281.4h.9v.9h-.9zM100.9 287.9h.9v.9h-.9zM101.4 286.8h.9v.9h-.9zM100.3 301.9h.9v.9h-.9zM96.8 275.8h.9v.9h-.9z"/><path fill="#3050c0" d="M98.3 261.2h.9v.9h-.9zM95.9 261.4h.9v.9h-.9zM97.0 251.8h.9v.9h-.9zM107.9 249.9h.9v.9h-.9zM108.8 255.5h.9v.9h-.9zM93.9 256.3h.9v.9h-.9zM92.2 260.9h.9v.9h-.9zM93.0 255.8h.9v.9h-.9zM101.5 262.4h.9v.9h-.9zM98.1 263.6h.9v.9h-.9zM95.9 260.3h.9v.9h-.9zM96.4 260.4h.9v.9h-.9zM93.1 255.4h.9v.9h-.9zM94.0 254.1h.9v.9h-.9zM112.0 251.7h.9v.9h-.9zM91.9 258.5h.9v.9h-.9zM101.0 249.5h.9v.9h-.9zM103.2 249.1h.9v.9h-.9zM94.6 254.6h.9v.9h-.9zM100.1 261.4h.9v.9h-.9zM110.4 256.2h.9v.9h-.9zM99.1 250.6h.9v.9h-.9zM108.0 256.7h.9v.9h-.9zM100.5 249.5h.9v.9h-.9zM109.4 249.7h.9v.9h-.9zM101.3 250.3h.9v.9h-.9zM108.9 249.4h.9v.9h-.9zM100.5 250.2h.9v.9h-.9zM107.3 258.7h.9v.9h-.9zM105.3 248.9h.9v.9h-.9zM100.0 249.4h.9v.9h-.9zM93.1 254.0h.9v.9h-.9zM100.2 248.0h.9v.9h-.9zM105.0 248.2h.9v.9h-.9zM94.2 258.8h.9v.9h-.9zM108.6 258.6h.9v.9h-.9zM104.8 249.0h.9v.9h-.9zM95.5 260.7h.9v.9h-.9zM93.1 255.0h.9v.9h-.9zM105.0 249.0h.9v.9h-.9zM91.0 260.3h.9v.9h-.9zM107.2 248.0h.9v.9h-.9zM107.7 248.4h.9v.9h-.9zM102.0 261.0h.9v.9h-.9zM109.8 249.8h.9v.9h-.9zM94.1 260.8h.9v.9h-.9zM111.0 254.0h.9v.9h-.9zM108.9 249.2h.9v.9h-.9zM99.7 248.1h.9v.9h-.9zM96.0 260.2h.9v.9h-.9zM104.6 250.4h.9v.9h-.9zM106.1 259.8h.9v.9h-.9zM92.1 255.6h.9v.9h-.9zM106.5 260.5h.9v.9h-.9zM96.8 251.7h.9v.9h-.9zM102.5 261.5h.9v.9h-.9zM95.2 252.3h.9v.9h-.9zM109.8 251.7h.9v.9h-.9zM91.9 257.1h.9v.9h-.9zM109.5 256.5h.9v.9h-.9zM106.0 251.0h.9v.9h-.9zM94.0 252.6h.9v.9h-.9zM98.4 250.0h.9v.9h-.9zM98.4 248.2h.9v.9h-.9zM106.9 249.7h.9v.9h-.9zM106.8 260.8h.9v.9h-.9zM98.4 261.2h.9v.9h-.9z"/><path fill="#e03020" d="M103.0 254.7h.9v.9h-.9zM102.6 254.6h.9v.9h-.9zM100.4 254.9h.9v.9h-.9zM101.8 256.9h.9v.9h-.9zM100.0 255.9h.9v.9h-.9zM102.4 254.6h.9v.9h-.9zM103.2 254.9h.9v.9h-.9zM102.0 255.1h.9v.9h-.9zM100.8 254.4h.9v.9h-.9zM100.1 255.7h.9v.9h-.9zM101.1 257.4h.9v.9h-.9zM103.2 256.0h.9v.9h-.9zM99.8 256.8h.9v.9h-.9zM101.8 256.5h.9v.9h-.9zM102.9 255.1h.9v.9h-.9z"/><path fill="#5a6ad0" d="M102.5 246.0h.9v.9h-.9zM93.6 263.2h.9v.9h-.9zM87.7 259.0h.9v.9h-.9zM94.3 250.5h.9v.9h-.9zM88.5 262.3h.9v.9h-.9zM94.3 264.8h.9v.9h-.9zM113.8 252.6h.9v.9h-.9zM90.4 258.3h.9v.9h-.9zM116.6 251.5h.9v.9h-.9zM91.9 265.1h.9v.9h-.9zM104.0 262.4h.9v.9h-.9zM95.6 266.9h.9v.9h-.9zM91.4 265.6h.9v.9h-.9zM91.6 262.6h.9v.9h-.9zM101.7 246.2h.9v.9h-.9zM103.2 273.2h.9v.9h-.9zM101.7 267.3h.9v.9h-.9zM106.4 274.5h.9v.9h-.9zM103.9 276.8h.9v.9h-.9zM105.0 265.3h.9v.9h-.9zM94.2 281.3h.9v.9h-.9zM94.9 271.2h.9v.9h-.9zM110.7 269.4h.9v.9h-.9zM93.5 275.6h.9v.9h-.9zM105.7 264.9h.9v.9h-.9zM104.2 277.0h.9v.9h-.9zM105.3 270.3h.9v.9h-.9zM101.7 274.5h.9v.9h-.9zM99.5 268.7h.9v.9h-.9zM106.7 285.9h.9v.9h-.9zM97.1 251.9h.9v.9h-.9zM100.4 259.2h.9v.9h-.9zM102.1 262.9h.9v.9h-.9zM97.1 266.4h.9v.9h-.9zM103.5 263.7h.9v.9h-.9zM100.4 265.8h.9v.9h-.9zM108.3 264.4h.9v.9h-.9zM111.1 264.5h.9v.9h-.9zM93.7 264.4h.9v.9h-.9zM104.6 271.5h.9v.9h-.9zM102.5 277.1h.9v.9h-.9zM102.3 264.4h.9v.9h-.9zM97.2 269.5h.9v.9h-.9zM100.8 280.9h.9v.9h-.9zM95.5 252.2h.9v.9h-.9zM104.7 277.5h.9v.9h-.9zM100.5 291.5h.9v.9h-.9zM101.7 279.1h.9v.9h-.9zM97.6 273.5h.9v.9h-.9zM100.3 279.8h.9v.9h-.9zM101.7 286.5h.9v.9h-.9zM104.8 289.1h.9v.9h-.9zM96.9 278.0h.9v.9h-.9zM102.7 285.6h.9v.9h-.9zM103.4 291.4h.9v.9h-.9zM107.3 275.9h.9v.9h-.9zM111.4 280.5h.9v.9h-.9zM103.3 289.4h.9v.9h-.9zM92.5 275.1h.9v.9h-.9zM96.9 284.5h.9v.9h-.9zM96.4 272.8h.9v.9h-.9zM103.4 279.4h.9v.9h-.9zM100.2 289.1h.9v.9h-.9zM110.1 293.0h.9v.9h-.9zM112.0 284.0h.9v.9h-.9z"/><path fill="#90c830" d="M98.7 254.9h.9v.9h-.9zM99.5 255.3h.9v.9h-.9zM102.9 257.6h.9v.9h-.9zM101.9 254.4h.9v.9h-.9zM103.0 253.9h.9v.9h-.9zM102.8 253.0h.9v.9h-.9zM104.7 255.2h.9v.9h-.9zM101.7 257.3h.9v.9h-.9zM98.8 256.5h.9v.9h-.9zM99.2 256.6h.9v.9h-.9zM103.8 257.2h.9v.9h-.9zM98.4 255.7h.9v.9h-.9zM98.6 255.6h.9v.9h-.9zM101.5 253.6h.9v.9h-.9zM101.8 257.3h.9v.9h-.9zM104.6 254.6h.9v.9h-.9zM99.9 258.4h.9v.9h-.9zM98.4 256.0h.9v.9h-.9zM105.2 254.9h.9v.9h-.9zM98.7 256.5h.9v.9h-.9zM103.3 255.0h.9v.9h-.9zM104.6 255.5h.9v.9h-.9zM103.0 256.6h.9v.9h-.9zM99.3 257.3h.9v.9h-.9zM103.7 257.9h.9v.9h-.9zM102.3 253.3h.9v.9h-.9zM103.8 255.3h.9v.9h-.9zM99.9 257.6h.9v.9h-.9z"/><path fill="#3a4fc0" d="M103.9 269.6h.9v.9h-.9zM116.1 253.6h.9v.9h-.9zM88.9 253.7h.9v.9h-.9zM91.5 260.3h.9v.9h-.9zM108.9 247.6h.9v.9h-.9zM98.9 248.7h.9v.9h-.9zM86.6 254.5h.9v.9h-.9zM108.4 245.7h.9v.9h-.9zM109.8 251.1h.9v.9h-.9zM88.4 258.6h.9v.9h-.9zM95.2 261.8h.9v.9h-.9zM91.1 266.1h.9v.9h-.9zM105.1 263.9h.9v.9h-.9zM91.1 257.6h.9v.9h-.9zM100.6 265.4h.9v.9h-.9zM103.0 263.6h.9v.9h-.9zM85.9 257.5h.9v.9h-.9zM105.7 246.0h.9v.9h-.9zM93.8 261.4h.9v.9h-.9zM99.3 246.7h.9v.9h-.9zM104.0 246.0h.9v.9h-.9zM113.4 259.4h.9v.9h-.9zM95.7 248.0h.9v.9h-.9zM97.5 270.5h.9v.9h-.9zM109.4 248.4h.9v.9h-.9zM112.7 245.8h.9v.9h-.9zM110.9 253.6h.9v.9h-.9zM89.8 252.4h.9v.9h-.9zM101.1 247.4h.9v.9h-.9zM104.2 284.6h.9v.9h-.9zM96.4 265.9h.9v.9h-.9zM103.1 268.3h.9v.9h-.9zM92.8 264.0h.9v.9h-.9zM98.7 274.5h.9v.9h-.9zM104.9 266.4h.9v.9h-.9zM95.6 274.5h.9v.9h-.9zM98.8 261.9h.9v.9h-.9zM100.8 267.7h.9v.9h-.9zM102.2 267.0h.9v.9h-.9zM101.6 269.4h.9v.9h-.9zM106.1 271.7h.9v.9h-.9zM103.1 270.1h.9v.9h-.9zM98.7 275.6h.9v.9h-.9zM96.0 267.8h.9v.9h-.9zM94.4 268.4h.9v.9h-.9zM97.0 260.1h.9v.9h-.9zM94.9 271.5h.9v.9h-.9zM98.3 281.3h.9v.9h-.9zM105.8 273.0h.9v.9h-.9zM97.3 275.7h.9v.9h-.9zM96.1 280.3h.9v.9h-.9zM106.3 281.2h.9v.9h-.9zM102.6 276.3h.9v.9h-.9zM102.1 266.4h.9v.9h-.9zM96.3 286.3h.9v.9h-.9zM108.3 265.5h.9v.9h-.9zM102.1 278.7h.9v.9h-.9zM94.6 274.8h.9v.9h-.9zM96.4 266.2h.9v.9h-.9zM99.3 269.1h.9v.9h-.9zM104.2 285.7h.9v.9h-.9zM94.7 280.1h.9v.9h-.9zM105.3 300.2h.9v.9h-.9zM104.5 296.1h.9v.9h-.9zM101.0 295.8h.9v.9h-.9zM99.2 283.4h.9v.9h-.9zM96.8 285.5h.9v.9h-.9zM101.6 294.4h.9v.9h-.9zM104.5 284.7h.9v.9h-.9zM94.0 292.4h.9v.9h-.9zM99.0 298.2h.9v.9h-.9zM104.5 290.0h.9v.9h-.9zM99.8 300.4h.9v.9h-.9zM101.8 276.5h.9v.9h-.9zM104.3 288.4h.9v.9h-.9z"/><path fill="#e8d020" d="M103.4 253.4h.9v.9h-.9zM99.3 257.6h.9v.9h-.9zM104.2 255.8h.9v.9h-.9zM104.5 253.0h.9v.9h-.9zM99.2 256.5h.9v.9h-.9zM103.2 253.3h.9v.9h-.9zM97.7 254.8h.9v.9h-.9zM98.6 255.0h.9v.9h-.9zM102.8 253.7h.9v.9h-.9zM105.5 255.2h.9v.9h-.9zM103.9 256.7h.9v.9h-.9zM103.7 257.5h.9v.9h-.9zM103.6 257.0h.9v.9h-.9zM99.3 257.6h.9v.9h-.9zM103.1 253.7h.9v.9h-.9zM99.7 254.6h.9v.9h-.9zM105.0 256.1h.9v.9h-.9zM102.1 254.1h.9v.9h-.9zM98.5 255.4h.9v.9h-.9zM103.7 253.5h.9v.9h-.9zM101.9 258.3h.9v.9h-.9zM104.3 254.6h.9v.9h-.9zM104.4 254.6h.9v.9h-.9zM104.6 256.8h.9v.9h-.9zM101.7 258.4h.9v.9h-.9zM104.3 255.8h.9v.9h-.9zM103.0 254.7h.9v.9h-.9zM99.3 254.4h.9v.9h-.9zM100.0 253.9h.9v.9h-.9zM99.6 255.2h.9v.9h-.9zM102.4 253.7h.9v.9h-.9z"/><path fill="#f08020" d="M102.2 254.4h.9v.9h-.9zM100.1 257.1h.9v.9h-.9zM100.7 256.7h.9v.9h-.9zM103.2 255.0h.9v.9h-.9zM103.1 256.1h.9v.9h-.9zM100.5 256.2h.9v.9h-.9zM103.4 255.5h.9v.9h-.9zM99.8 256.0h.9v.9h-.9zM100.3 255.7h.9v.9h-.9zM101.0 254.8h.9v.9h-.9zM100.2 256.2h.9v.9h-.9zM101.9 256.6h.9v.9h-.9zM102.1 255.0h.9v.9h-.9zM101.1 255.9h.9v.9h-.9zM102.6 256.5h.9v.9h-.9zM102.6 256.6h.9v.9h-.9zM101.8 256.5h.9v.9h-.9zM101.3 257.1h.9v.9h-.9zM100.1 257.2h.9v.9h-.9zM102.9 255.5h.9v.9h-.9zM102.2 255.0h.9v.9h-.9z"/><path fill="#58bc38" d="M95.1 257.2h.9v.9h-.9zM96.6 255.9h.9v.9h-.9zM106.5 257.5h.9v.9h-.9zM99.0 260.6h.9v.9h-.9zM101.2 262.4h.9v.9h-.9zM105.8 254.5h.9v.9h-.9zM99.0 258.8h.9v.9h-.9zM95.6 259.5h.9v.9h-.9zM103.0 262.0h.9v.9h-.9zM95.2 257.4h.9v.9h-.9zM104.2 257.9h.9v.9h-.9zM107.1 251.5h.9v.9h-.9zM101.9 258.9h.9v.9h-.9zM102.5 251.6h.9v.9h-.9zM107.8 253.3h.9v.9h-.9zM100.8 253.3h.9v.9h-.9zM100.6 262.2h.9v.9h-.9zM94.8 257.5h.9v.9h-.9zM94.8 257.1h.9v.9h-.9zM99.5 250.9h.9v.9h-.9zM105.8 255.6h.9v.9h-.9zM96.9 253.8h.9v.9h-.9zM98.0 254.3h.9v.9h-.9zM102.2 258.2h.9v.9h-.9zM104.1 251.4h.9v.9h-.9zM94.0 256.7h.9v.9h-.9zM93.9 257.1h.9v.9h-.9zM98.1 258.3h.9v.9h-.9zM108.6 254.2h.9v.9h-.9zM95.2 255.6h.9v.9h-.9zM100.2 253.4h.9v.9h-.9zM108.0 251.8h.9v.9h-.9zM105.3 256.9h.9v.9h-.9zM102.7 250.2h.9v.9h-.9zM101.0 253.1h.9v.9h-.9zM100.8 258.4h.9v.9h-.9zM107.3 257.8h.9v.9h-.9zM103.0 251.2h.9v.9h-.9zM95.8 255.8h.9v.9h-.9zM104.7 252.7h.9v.9h-.9zM97.6 260.3h.9v.9h-.9zM96.6 255.8h.9v.9h-.9zM105.4 257.7h.9v.9h-.9zM102.4 251.7h.9v.9h-.9zM98.7 252.6h.9v.9h-.9zM94.1 257.1h.9v.9h-.9zM99.7 250.5h.9v.9h-.9zM100.4 259.2h.9v.9h-.9zM95.3 255.6h.9v.9h-.9zM105.1 253.2h.9v.9h-.9zM105.8 251.6h.9v.9h-.9zM105.0 256.2h.9v.9h-.9z"/></g>
<rect x="43.4" y="220.6" width="94.19999999999999" height="84.70000000000002" fill="none" stroke="#707070" stroke-width="1.2"/>
<line x1="43.4" y1="263.3" x2="137.6" y2="260.8" stroke="#222" stroke-width="0.9" />
<polyline points="121.5,220.6 107.8,262.3 106,305.3" fill="none" stroke="#222" stroke-width="0.9"/>
<text x="46.6" y="231.2" font-size="8.3" textLength="20.3" lengthAdjust="spacingAndGlyphs" fill="#333" >65.6%</text>
<rect x="115.5" y="224.0" width="21.2" height="7.6" fill="#fff" />
<rect x="120.7" y="220.4" width="1.6" height="1.8" fill="#111"/>
<text x="136.1" y="231.2" font-size="8.3" text-anchor="end" textLength="20.1" lengthAdjust="spacingAndGlyphs" fill="#333" >1.58%</text>
<text x="46.699999999999996" y="300.9" font-size="8.3" textLength="20.3" lengthAdjust="spacingAndGlyphs" fill="#333" >26.0%</text>
<text x="135.6" y="300.9" font-size="8.3" text-anchor="end" textLength="20.5" lengthAdjust="spacingAndGlyphs" fill="#333" >6.95%</text>
<line x1="40.0" y1="229.1" x2="43.4" y2="229.1" stroke="#333" stroke-width="1.0" />
<text x="38.4" y="231.79999999999998" font-size="7.7" text-anchor="end" fill="#2a2a2a" >10<tspan font-size="4.5" dy="-2.8">5</tspan></text>
<line x1="40.0" y1="249.4" x2="43.4" y2="249.4" stroke="#333" stroke-width="1.0" />
<text x="38.4" y="252.1" font-size="7.7" text-anchor="end" fill="#2a2a2a" >10<tspan font-size="4.5" dy="-2.8">4</tspan></text>
<line x1="40.0" y1="272.6" x2="43.4" y2="272.6" stroke="#333" stroke-width="1.0" />
<text x="38.4" y="275.3" font-size="7.7" text-anchor="end" fill="#2a2a2a" >10<tspan font-size="4.5" dy="-2.8">3</tspan></text>
<line x1="40.0" y1="286.0" x2="43.4" y2="286.0" stroke="#333" stroke-width="1.0" />
<text x="38.4" y="288.7" font-size="7.7" text-anchor="end" fill="#2a2a2a" >0</text>
<line x1="40.0" y1="299.5" x2="43.4" y2="299.5" stroke="#333" stroke-width="1.0" />
<text x="38.4" y="302.2" font-size="7.7" text-anchor="end" fill="#2a2a2a" >−10<tspan font-size="4.5" dy="-2.8">3</tspan></text>
<line x1="41.6" y1="243.2890910880212" x2="43.4" y2="243.2890910880212" stroke="#444" stroke-width="0.7" />
<line x1="41.6" y1="265.61610410059563" x2="43.4" y2="265.61610410059563" stroke="#444" stroke-width="0.7" />
<line x1="41.6" y1="239.71443852919086" x2="43.4" y2="239.71443852919086" stroke="#444" stroke-width="0.7" />
<line x1="41.6" y1="261.53078689050386" x2="43.4" y2="261.53078689050386" stroke="#444" stroke-width="0.7" />
<line x1="41.6" y1="237.17818217604236" x2="43.4" y2="237.17818217604236" stroke="#444" stroke-width="0.7" />
<line x1="41.6" y1="258.6322082011913" x2="43.4" y2="258.6322082011913" stroke="#444" stroke-width="0.7" />
<line x1="41.6" y1="235.21090891197883" x2="43.4" y2="235.21090891197883" stroke="#444" stroke-width="0.7" />
<line x1="41.6" y1="256.38389589940437" x2="43.4" y2="256.38389589940437" stroke="#444" stroke-width="0.7" />
<line x1="41.6" y1="233.60352961721205" x2="43.4" y2="233.60352961721205" stroke="#444" stroke-width="0.7" />
<line x1="41.6" y1="254.5468909910995" x2="43.4" y2="254.5468909910995" stroke="#444" stroke-width="0.7" />
<line x1="41.6" y1="232.2445097877106" x2="43.4" y2="232.2445097877106" stroke="#444" stroke-width="0.7" />
<line x1="41.6" y1="252.99372547166928" x2="43.4" y2="252.99372547166928" stroke="#444" stroke-width="0.7" />
<line x1="41.6" y1="231.06727326406354" x2="43.4" y2="231.06727326406354" stroke="#444" stroke-width="0.7" />
<line x1="41.6" y1="251.64831230178694" x2="43.4" y2="251.64831230178694" stroke="#444" stroke-width="0.7" />
<line x1="41.6" y1="230.0288770583817" x2="43.4" y2="230.0288770583817" stroke="#444" stroke-width="0.7" />
<line x1="41.6" y1="250.4615737810077" x2="43.4" y2="250.4615737810077" stroke="#444" stroke-width="0.7" />
<line x1="41.6" y1="276.8" x2="43.4" y2="276.8" stroke="#444" stroke-width="0.7" />
<line x1="41.6" y1="280.5" x2="43.4" y2="280.5" stroke="#444" stroke-width="0.7" />
<line x1="41.6" y1="290.5" x2="43.4" y2="290.5" stroke="#444" stroke-width="0.7" />
<line x1="41.6" y1="293.0" x2="43.4" y2="293.0" stroke="#444" stroke-width="0.7" />
<line x1="41.6" y1="295.5" x2="43.4" y2="295.5" stroke="#444" stroke-width="0.7" />
<line x1="41.6" y1="302.5" x2="43.4" y2="302.5" stroke="#444" stroke-width="0.7" />
<rect x="40.4" y="284.2" width="3.0" height="3.8" fill="#111"/>
<line x1="65.5" y1="305.3" x2="65.5" y2="308.5" stroke="#333" stroke-width="0.9" />
<text x="65.5" y="316.4" font-size="7.2" text-anchor="middle" fill="#2a2a2a" >0</text>
<line x1="105.9" y1="305.3" x2="105.9" y2="308.5" stroke="#333" stroke-width="0.9" />
<text x="105.9" y="316.4" font-size="7.2" text-anchor="middle" fill="#2a2a2a" >10<tspan font-size="4.5" dy="-2.8">4</tspan></text>
<line x1="129.5" y1="305.3" x2="129.5" y2="308.5" stroke="#333" stroke-width="0.9" />
<text x="129.5" y="316.4" font-size="7.2" text-anchor="middle" fill="#2a2a2a" >10<tspan font-size="4.5" dy="-2.8">5</tspan></text>
<line x1="89.40430789766997" y1="305.3" x2="89.40430789766997" y2="307.1" stroke="#555" stroke-width="0.6" />
<line x1="113.00430789766996" y1="305.3" x2="113.00430789766996" y2="307.1" stroke="#555" stroke-width="0.6" />
<line x1="93.56006161138404" y1="305.3" x2="93.56006161138404" y2="307.1" stroke="#555" stroke-width="0.6" />
<line x1="117.16006161138404" y1="305.3" x2="117.16006161138404" y2="307.1" stroke="#555" stroke-width="0.6" />
<line x1="96.50861579533992" y1="305.3" x2="96.50861579533992" y2="307.1" stroke="#555" stroke-width="0.6" />
<line x1="120.10861579533992" y1="305.3" x2="120.10861579533992" y2="307.1" stroke="#555" stroke-width="0.6" />
<line x1="98.79569210233005" y1="305.3" x2="98.79569210233005" y2="307.1" stroke="#555" stroke-width="0.6" />
<line x1="122.39569210233005" y1="305.3" x2="122.39569210233005" y2="307.1" stroke="#555" stroke-width="0.6" />
<line x1="100.664369509054" y1="305.3" x2="100.664369509054" y2="307.1" stroke="#555" stroke-width="0.6" />
<line x1="124.26436950905399" y1="305.3" x2="124.26436950905399" y2="307.1" stroke="#555" stroke-width="0.6" />
<line x1="102.24431374433647" y1="305.3" x2="102.24431374433647" y2="307.1" stroke="#555" stroke-width="0.6" />
<line x1="125.84431374433646" y1="305.3" x2="125.84431374433646" y2="307.1" stroke="#555" stroke-width="0.6" />
<line x1="103.61292369300988" y1="305.3" x2="103.61292369300988" y2="307.1" stroke="#555" stroke-width="0.6" />
<line x1="127.21292369300987" y1="305.3" x2="127.21292369300987" y2="307.1" stroke="#555" stroke-width="0.6" />
<line x1="104.82012322276807" y1="305.3" x2="104.82012322276807" y2="307.1" stroke="#555" stroke-width="0.6" />
<line x1="128.42012322276807" y1="305.3" x2="128.42012322276807" y2="307.1" stroke="#555" stroke-width="0.6" />
<line x1="48.400000000000006" y1="305.3" x2="48.400000000000006" y2="307.5" stroke="#444" stroke-width="0.7" />
<line x1="50.3" y1="305.3" x2="50.3" y2="307.5" stroke="#444" stroke-width="0.7" />
<line x1="52.2" y1="305.3" x2="52.2" y2="307.5" stroke="#444" stroke-width="0.7" />
<line x1="54.1" y1="305.3" x2="54.1" y2="307.5" stroke="#444" stroke-width="0.7" />
<line x1="56.0" y1="305.3" x2="56.0" y2="307.5" stroke="#444" stroke-width="0.7" />
<line x1="57.9" y1="305.3" x2="57.9" y2="307.5" stroke="#444" stroke-width="0.7" />
<line x1="59.8" y1="305.3" x2="59.8" y2="307.5" stroke="#444" stroke-width="0.7" />
<line x1="61.7" y1="305.3" x2="61.7" y2="307.5" stroke="#444" stroke-width="0.7" />
<line x1="63.6" y1="305.3" x2="63.6" y2="307.5" stroke="#444" stroke-width="0.7" />
<line x1="65.5" y1="305.3" x2="65.5" y2="307.5" stroke="#444" stroke-width="0.7" />
<line x1="67.4" y1="305.3" x2="67.4" y2="307.5" stroke="#444" stroke-width="0.7" />
<line x1="69.3" y1="305.3" x2="69.3" y2="307.5" stroke="#444" stroke-width="0.7" />
<line x1="71.2" y1="305.3" x2="71.2" y2="307.5" stroke="#444" stroke-width="0.7" />
<line x1="73.1" y1="305.3" x2="73.1" y2="307.5" stroke="#444" stroke-width="0.7" />
<line x1="75.0" y1="305.3" x2="75.0" y2="307.5" stroke="#444" stroke-width="0.7" />
<line x1="76.9" y1="305.3" x2="76.9" y2="307.5" stroke="#444" stroke-width="0.7" />
<line x1="78.8" y1="305.3" x2="78.8" y2="307.5" stroke="#444" stroke-width="0.7" />
<line x1="48.0" y1="305.3" x2="48.0" y2="308.5" stroke="#333" stroke-width="0.9" />
<rect x="63.3" y="305.3" width="4" height="2.8" fill="#111"/>
<text x="223.5" y="216.4" font-size="8.3" text-anchor="middle" textLength="42.3" lengthAdjust="spacingAndGlyphs" fill="#2a2a2a" >100 µM AA</text>
<g><path fill="#20a060" d="M228.9 254.7h.9v.9h-.9zM231.2 244.2h.9v.9h-.9zM230.8 259.6h.9v.9h-.9zM231.4 257.0h.9v.9h-.9zM234.1 244.4h.9v.9h-.9zM228.1 248.4h.9v.9h-.9zM230.8 255.8h.9v.9h-.9zM230.6 255.9h.9v.9h-.9zM228.3 253.9h.9v.9h-.9zM226.8 253.8h.9v.9h-.9zM229.2 259.0h.9v.9h-.9zM230.6 257.9h.9v.9h-.9zM229.8 246.8h.9v.9h-.9zM229.1 249.8h.9v.9h-.9zM231.1 248.2h.9v.9h-.9zM231.8 257.0h.9v.9h-.9zM235.6 252.3h.9v.9h-.9zM236.4 255.3h.9v.9h-.9zM236.9 246.6h.9v.9h-.9zM234.2 248.3h.9v.9h-.9zM228.9 251.1h.9v.9h-.9zM228.0 249.2h.9v.9h-.9zM237.0 252.6h.9v.9h-.9zM231.4 244.8h.9v.9h-.9zM232.1 258.7h.9v.9h-.9zM234.5 245.0h.9v.9h-.9zM227.8 258.1h.9v.9h-.9zM226.6 248.2h.9v.9h-.9zM228.6 252.9h.9v.9h-.9zM235.8 250.5h.9v.9h-.9zM235.3 256.3h.9v.9h-.9zM228.0 253.0h.9v.9h-.9zM235.6 248.8h.9v.9h-.9zM234.9 248.8h.9v.9h-.9zM229.7 249.5h.9v.9h-.9zM231.4 257.5h.9v.9h-.9zM235.7 246.1h.9v.9h-.9zM233.8 257.7h.9v.9h-.9zM235.9 246.3h.9v.9h-.9zM227.3 249.4h.9v.9h-.9zM231.4 258.8h.9v.9h-.9zM229.5 250.3h.9v.9h-.9zM233.4 245.9h.9v.9h-.9zM234.0 252.9h.9v.9h-.9zM225.1 252.8h.9v.9h-.9zM229.3 245.0h.9v.9h-.9zM237.1 251.1h.9v.9h-.9zM227.1 256.6h.9v.9h-.9zM225.6 255.0h.9v.9h-.9zM227.7 251.1h.9v.9h-.9zM234.0 257.5h.9v.9h-.9zM232.3 249.2h.9v.9h-.9zM231.2 258.3h.9v.9h-.9zM235.4 247.3h.9v.9h-.9zM232.7 248.6h.9v.9h-.9zM227.2 253.8h.9v.9h-.9zM232.2 257.9h.9v.9h-.9zM226.6 245.1h.9v.9h-.9zM234.1 251.6h.9v.9h-.9zM230.1 246.1h.9v.9h-.9zM235.7 252.0h.9v.9h-.9zM234.6 245.3h.9v.9h-.9zM235.6 249.6h.9v.9h-.9zM227.9 251.8h.9v.9h-.9zM228.6 247.9h.9v.9h-.9zM233.5 249.9h.9v.9h-.9zM227.3 251.2h.9v.9h-.9zM232.7 246.5h.9v.9h-.9zM230.9 248.3h.9v.9h-.9zM229.4 252.5h.9v.9h-.9zM226.9 247.2h.9v.9h-.9zM237.7 247.3h.9v.9h-.9zM227.5 256.8h.9v.9h-.9zM235.7 250.9h.9v.9h-.9zM230.1 256.0h.9v.9h-.9zM231.3 254.5h.9v.9h-.9zM235.2 252.2h.9v.9h-.9zM228.6 258.2h.9v.9h-.9zM228.8 259.5h.9v.9h-.9zM225.9 257.9h.9v.9h-.9zM228.9 245.0h.9v.9h-.9zM234.5 257.1h.9v.9h-.9zM228.1 251.3h.9v.9h-.9zM231.7 256.0h.9v.9h-.9zM230.3 248.5h.9v.9h-.9zM237.0 252.3h.9v.9h-.9zM227.3 253.1h.9v.9h-.9zM230.6 247.0h.9v.9h-.9zM234.1 249.3h.9v.9h-.9zM234.1 251.6h.9v.9h-.9zM228.9 258.6h.9v.9h-.9zM226.7 255.9h.9v.9h-.9zM243.6 280.6h.9v.9h-.9zM241.9 261.5h.9v.9h-.9zM242.6 281.6h.9v.9h-.9zM238.8 272.3h.9v.9h-.9zM235.4 289.2h.9v.9h-.9zM234.2 277.8h.9v.9h-.9zM242.9 273.0h.9v.9h-.9zM238.0 277.4h.9v.9h-.9zM241.8 285.5h.9v.9h-.9zM242.4 282.1h.9v.9h-.9zM239.0 275.5h.9v.9h-.9zM238.4 269.0h.9v.9h-.9zM244.3 285.5h.9v.9h-.9zM244.0 275.0h.9v.9h-.9zM236.8 283.3h.9v.9h-.9zM240.1 279.1h.9v.9h-.9zM245.9 275.3h.9v.9h-.9zM237.8 275.0h.9v.9h-.9zM236.5 275.4h.9v.9h-.9zM241.1 273.5h.9v.9h-.9zM240.8 276.9h.9v.9h-.9zM240.3 280.8h.9v.9h-.9zM238.8 266.9h.9v.9h-.9zM243.9 272.9h.9v.9h-.9zM235.0 267.7h.9v.9h-.9zM240.7 282.6h.9v.9h-.9zM241.6 280.6h.9v.9h-.9zM248.2 274.7h.9v.9h-.9zM242.0 283.0h.9v.9h-.9zM237.9 280.7h.9v.9h-.9z"/><path fill="#5a6ad0" d="M229.7 261.3h.9v.9h-.9zM225.5 242.3h.9v.9h-.9zM222.0 249.5h.9v.9h-.9zM241.3 240.6h.9v.9h-.9zM234.1 240.8h.9v.9h-.9zM225.4 250.7h.9v.9h-.9zM234.5 262.1h.9v.9h-.9zM225.9 260.6h.9v.9h-.9zM233.3 258.4h.9v.9h-.9zM225.3 256.8h.9v.9h-.9zM228.3 243.5h.9v.9h-.9zM238.9 242.4h.9v.9h-.9zM226.4 247.9h.9v.9h-.9zM238.1 249.4h.9v.9h-.9zM227.3 246.5h.9v.9h-.9zM221.3 243.6h.9v.9h-.9zM224.9 252.4h.9v.9h-.9zM236.6 237.4h.9v.9h-.9zM227.0 243.4h.9v.9h-.9zM220.8 262.1h.9v.9h-.9zM238.3 263.0h.9v.9h-.9zM224.5 258.9h.9v.9h-.9zM234.9 259.7h.9v.9h-.9zM234.2 239.1h.9v.9h-.9zM237.8 242.1h.9v.9h-.9zM225.2 248.2h.9v.9h-.9zM227.4 263.9h.9v.9h-.9zM237.8 240.9h.9v.9h-.9zM220.8 254.9h.9v.9h-.9zM237.0 257.3h.9v.9h-.9zM221.9 256.3h.9v.9h-.9zM241.7 244.7h.9v.9h-.9zM220.9 256.2h.9v.9h-.9zM225.3 260.3h.9v.9h-.9zM239.8 246.9h.9v.9h-.9zM231.5 243.8h.9v.9h-.9zM230.1 260.0h.9v.9h-.9zM237.3 261.4h.9v.9h-.9zM232.1 236.4h.9v.9h-.9zM236.4 242.4h.9v.9h-.9zM234.1 244.0h.9v.9h-.9zM224.4 253.1h.9v.9h-.9zM235.7 239.7h.9v.9h-.9zM236.3 261.2h.9v.9h-.9zM219.9 256.6h.9v.9h-.9zM229.7 259.9h.9v.9h-.9zM226.4 270.7h.9v.9h-.9zM225.3 246.4h.9v.9h-.9zM236.6 279.3h.9v.9h-.9zM238.1 269.8h.9v.9h-.9zM233.3 263.1h.9v.9h-.9zM240.3 278.5h.9v.9h-.9zM232.9 272.8h.9v.9h-.9zM236.6 268.4h.9v.9h-.9zM244.5 273.9h.9v.9h-.9zM236.5 275.9h.9v.9h-.9zM233.3 259.0h.9v.9h-.9zM245.6 262.2h.9v.9h-.9zM248.0 286.7h.9v.9h-.9zM243.8 273.5h.9v.9h-.9zM235.4 267.2h.9v.9h-.9zM235.7 269.1h.9v.9h-.9zM241.1 257.5h.9v.9h-.9zM240.6 252.3h.9v.9h-.9zM231.5 280.5h.9v.9h-.9zM238.7 256.8h.9v.9h-.9zM239.8 269.4h.9v.9h-.9zM241.6 257.4h.9v.9h-.9zM238.2 261.1h.9v.9h-.9zM238.5 278.7h.9v.9h-.9zM229.8 263.2h.9v.9h-.9zM240.3 259.4h.9v.9h-.9zM236.3 272.1h.9v.9h-.9zM237.7 286.9h.9v.9h-.9zM227.6 282.2h.9v.9h-.9zM230.7 264.5h.9v.9h-.9zM229.9 264.1h.9v.9h-.9zM239.5 279.6h.9v.9h-.9zM244.7 267.6h.9v.9h-.9zM234.1 262.5h.9v.9h-.9zM240.8 273.1h.9v.9h-.9zM231.4 286.4h.9v.9h-.9zM237.9 260.2h.9v.9h-.9zM235.4 281.8h.9v.9h-.9zM235.8 271.7h.9v.9h-.9zM235.9 270.9h.9v.9h-.9zM232.3 272.2h.9v.9h-.9zM236.1 268.0h.9v.9h-.9zM237.4 263.4h.9v.9h-.9zM240.7 272.7h.9v.9h-.9zM227.9 270.1h.9v.9h-.9zM234.9 279.9h.9v.9h-.9zM242.2 269.3h.9v.9h-.9zM234.7 260.1h.9v.9h-.9zM237.7 276.3h.9v.9h-.9zM246.4 280.1h.9v.9h-.9zM238.4 276.4h.9v.9h-.9zM239.9 285.8h.9v.9h-.9zM235.3 299.9h.9v.9h-.9zM228.8 283.2h.9v.9h-.9zM239.1 276.2h.9v.9h-.9zM228.0 265.8h.9v.9h-.9zM230.4 275.5h.9v.9h-.9zM226.0 285.8h.9v.9h-.9zM236.3 267.2h.9v.9h-.9zM241.8 274.6h.9v.9h-.9zM236.2 273.9h.9v.9h-.9zM244.4 262.2h.9v.9h-.9zM236.2 269.0h.9v.9h-.9zM239.6 284.5h.9v.9h-.9zM236.4 265.2h.9v.9h-.9zM233.8 273.7h.9v.9h-.9zM242.1 264.1h.9v.9h-.9zM235.6 266.4h.9v.9h-.9zM234.8 290.3h.9v.9h-.9zM239.5 285.7h.9v.9h-.9zM233.5 287.4h.9v.9h-.9zM235.7 288.5h.9v.9h-.9zM235.4 288.6h.9v.9h-.9zM240.1 291.5h.9v.9h-.9zM237.9 292.2h.9v.9h-.9zM239.7 288.9h.9v.9h-.9zM224.8 286.3h.9v.9h-.9zM234.1 295.0h.9v.9h-.9zM227.6 302.6h.9v.9h-.9zM232.9 296.4h.9v.9h-.9zM244.1 282.7h.9v.9h-.9zM236.6 292.7h.9v.9h-.9zM240.4 291.5h.9v.9h-.9zM236.9 287.9h.9v.9h-.9zM231.1 286.4h.9v.9h-.9zM250.1 281.6h.9v.9h-.9zM244.7 287.4h.9v.9h-.9zM233.7 291.2h.9v.9h-.9zM241.5 292.2h.9v.9h-.9z"/><path fill="#30b040" d="M232.0 249.0h.9v.9h-.9zM234.6 253.0h.9v.9h-.9zM230.8 257.1h.9v.9h-.9zM232.3 247.6h.9v.9h-.9zM227.0 252.2h.9v.9h-.9zM228.1 250.9h.9v.9h-.9zM230.6 247.6h.9v.9h-.9zM234.6 249.2h.9v.9h-.9zM230.3 250.3h.9v.9h-.9zM231.8 255.8h.9v.9h-.9zM229.4 250.1h.9v.9h-.9zM233.7 247.6h.9v.9h-.9zM230.0 251.8h.9v.9h-.9zM233.4 249.8h.9v.9h-.9zM228.0 254.3h.9v.9h-.9zM230.1 257.6h.9v.9h-.9zM232.5 248.3h.9v.9h-.9zM234.2 252.7h.9v.9h-.9zM227.9 252.4h.9v.9h-.9zM231.1 255.8h.9v.9h-.9zM234.5 251.5h.9v.9h-.9zM231.3 256.4h.9v.9h-.9zM231.3 255.1h.9v.9h-.9zM232.8 249.3h.9v.9h-.9zM230.8 253.8h.9v.9h-.9zM230.2 251.0h.9v.9h-.9zM231.4 257.2h.9v.9h-.9zM235.8 251.9h.9v.9h-.9zM231.8 247.8h.9v.9h-.9zM231.2 248.2h.9v.9h-.9zM228.3 252.6h.9v.9h-.9zM233.1 253.3h.9v.9h-.9zM230.1 250.8h.9v.9h-.9zM229.6 253.2h.9v.9h-.9zM231.6 248.4h.9v.9h-.9zM230.2 254.0h.9v.9h-.9zM231.7 245.9h.9v.9h-.9zM228.5 253.5h.9v.9h-.9zM233.7 246.8h.9v.9h-.9zM241.6 274.6h.9v.9h-.9zM237.8 287.8h.9v.9h-.9zM240.7 263.3h.9v.9h-.9zM243.4 277.4h.9v.9h-.9zM245.3 259.6h.9v.9h-.9zM235.5 276.4h.9v.9h-.9zM246.1 269.0h.9v.9h-.9zM244.4 278.1h.9v.9h-.9zM235.5 275.8h.9v.9h-.9zM242.8 280.2h.9v.9h-.9zM246.9 270.9h.9v.9h-.9zM240.6 279.4h.9v.9h-.9zM243.5 267.1h.9v.9h-.9zM238.3 276.5h.9v.9h-.9zM242.0 280.8h.9v.9h-.9zM242.2 277.8h.9v.9h-.9zM244.2 266.5h.9v.9h-.9zM243.5 267.4h.9v.9h-.9zM236.7 277.5h.9v.9h-.9zM240.8 275.5h.9v.9h-.9zM243.8 281.0h.9v.9h-.9z"/><path fill="#3a4fc0" d="M239.5 253.3h.9v.9h-.9zM228.9 243.1h.9v.9h-.9zM221.2 254.6h.9v.9h-.9zM235.8 245.7h.9v.9h-.9zM224.4 248.5h.9v.9h-.9zM218.9 262.1h.9v.9h-.9zM223.9 249.7h.9v.9h-.9zM233.9 258.5h.9v.9h-.9zM236.8 253.8h.9v.9h-.9zM233.4 240.7h.9v.9h-.9zM231.9 242.7h.9v.9h-.9zM228.6 260.8h.9v.9h-.9zM223.0 253.7h.9v.9h-.9zM229.3 245.1h.9v.9h-.9zM219.2 252.0h.9v.9h-.9zM239.0 251.8h.9v.9h-.9zM224.6 253.1h.9v.9h-.9zM223.6 252.7h.9v.9h-.9zM225.5 244.9h.9v.9h-.9zM221.8 247.1h.9v.9h-.9zM235.8 260.7h.9v.9h-.9zM222.7 251.1h.9v.9h-.9zM227.8 246.0h.9v.9h-.9zM224.4 257.2h.9v.9h-.9zM225.8 241.1h.9v.9h-.9zM239.0 249.0h.9v.9h-.9zM225.7 248.1h.9v.9h-.9zM240.5 252.5h.9v.9h-.9zM233.9 258.2h.9v.9h-.9zM237.2 258.2h.9v.9h-.9zM236.8 254.6h.9v.9h-.9zM236.5 244.1h.9v.9h-.9zM224.5 260.7h.9v.9h-.9zM232.2 260.2h.9v.9h-.9zM223.0 253.2h.9v.9h-.9zM237.8 255.3h.9v.9h-.9zM241.3 241.1h.9v.9h-.9zM230.9 262.1h.9v.9h-.9zM223.6 253.4h.9v.9h-.9zM225.5 257.3h.9v.9h-.9zM236.2 259.0h.9v.9h-.9zM222.5 250.4h.9v.9h-.9zM227.3 266.3h.9v.9h-.9zM225.1 251.1h.9v.9h-.9zM233.3 262.4h.9v.9h-.9zM231.6 268.8h.9v.9h-.9zM232.5 273.2h.9v.9h-.9zM227.6 271.6h.9v.9h-.9zM235.4 266.7h.9v.9h-.9zM233.6 264.5h.9v.9h-.9zM229.0 286.7h.9v.9h-.9zM229.0 283.3h.9v.9h-.9zM240.7 250.4h.9v.9h-.9zM236.2 275.7h.9v.9h-.9zM236.6 267.5h.9v.9h-.9zM235.0 272.0h.9v.9h-.9zM241.6 280.1h.9v.9h-.9zM242.2 244.0h.9v.9h-.9zM235.6 257.7h.9v.9h-.9zM229.1 260.2h.9v.9h-.9zM237.0 260.0h.9v.9h-.9zM232.1 277.4h.9v.9h-.9zM230.3 274.1h.9v.9h-.9zM239.7 288.0h.9v.9h-.9zM231.5 268.0h.9v.9h-.9zM233.4 281.4h.9v.9h-.9zM233.1 263.8h.9v.9h-.9zM238.6 268.3h.9v.9h-.9zM242.9 262.3h.9v.9h-.9zM238.7 275.9h.9v.9h-.9zM227.1 281.0h.9v.9h-.9zM241.1 264.5h.9v.9h-.9zM230.3 272.4h.9v.9h-.9zM238.3 275.1h.9v.9h-.9zM234.9 270.4h.9v.9h-.9zM235.8 262.4h.9v.9h-.9zM238.2 270.9h.9v.9h-.9zM235.5 266.8h.9v.9h-.9zM237.3 272.6h.9v.9h-.9zM235.3 267.1h.9v.9h-.9zM234.2 291.0h.9v.9h-.9zM234.5 274.1h.9v.9h-.9zM241.6 276.2h.9v.9h-.9zM246.4 266.5h.9v.9h-.9zM230.5 263.7h.9v.9h-.9zM241.8 269.5h.9v.9h-.9zM236.0 263.2h.9v.9h-.9zM242.7 281.1h.9v.9h-.9zM237.9 269.3h.9v.9h-.9zM227.6 267.7h.9v.9h-.9zM225.8 282.1h.9v.9h-.9zM230.1 287.2h.9v.9h-.9zM234.1 267.8h.9v.9h-.9zM225.9 268.3h.9v.9h-.9zM233.4 269.8h.9v.9h-.9zM238.4 263.2h.9v.9h-.9zM241.2 262.0h.9v.9h-.9zM221.8 259.8h.9v.9h-.9zM235.9 274.6h.9v.9h-.9zM241.8 261.7h.9v.9h-.9zM235.9 261.0h.9v.9h-.9zM237.5 289.1h.9v.9h-.9zM236.4 288.6h.9v.9h-.9zM242.9 289.6h.9v.9h-.9zM233.4 289.8h.9v.9h-.9zM229.4 296.2h.9v.9h-.9zM235.6 291.2h.9v.9h-.9zM234.0 286.8h.9v.9h-.9zM240.3 289.8h.9v.9h-.9zM235.2 291.7h.9v.9h-.9zM244.4 286.6h.9v.9h-.9zM237.3 281.3h.9v.9h-.9zM243.0 290.9h.9v.9h-.9zM237.4 289.9h.9v.9h-.9zM247.2 298.4h.9v.9h-.9zM237.2 290.7h.9v.9h-.9z"/><path fill="#8090e0" d="M221.5 255.7h.9v.9h-.9zM235.0 242.5h.9v.9h-.9zM223.2 254.8h.9v.9h-.9zM232.4 242.4h.9v.9h-.9zM234.8 262.3h.9v.9h-.9zM231.8 260.9h.9v.9h-.9zM228.5 258.8h.9v.9h-.9zM236.8 246.0h.9v.9h-.9zM239.9 250.1h.9v.9h-.9zM237.5 260.5h.9v.9h-.9zM226.0 260.5h.9v.9h-.9zM231.5 238.7h.9v.9h-.9zM222.5 259.1h.9v.9h-.9zM227.8 263.7h.9v.9h-.9zM239.1 233.3h.9v.9h-.9zM224.6 256.1h.9v.9h-.9zM221.0 255.8h.9v.9h-.9zM225.8 259.0h.9v.9h-.9zM222.4 255.4h.9v.9h-.9zM221.3 244.0h.9v.9h-.9zM238.3 244.6h.9v.9h-.9zM225.0 253.0h.9v.9h-.9zM225.6 246.8h.9v.9h-.9zM231.1 262.5h.9v.9h-.9zM235.9 240.7h.9v.9h-.9zM235.5 255.2h.9v.9h-.9zM228.9 262.0h.9v.9h-.9zM227.6 244.9h.9v.9h-.9zM220.2 239.7h.9v.9h-.9zM223.7 262.9h.9v.9h-.9zM231.4 241.5h.9v.9h-.9zM237.6 241.5h.9v.9h-.9zM241.4 245.2h.9v.9h-.9zM237.2 239.7h.9v.9h-.9zM222.0 243.6h.9v.9h-.9zM233.7 243.0h.9v.9h-.9zM223.8 252.3h.9v.9h-.9zM225.8 258.3h.9v.9h-.9zM224.0 255.2h.9v.9h-.9zM226.6 249.6h.9v.9h-.9zM224.7 259.9h.9v.9h-.9zM236.2 258.3h.9v.9h-.9zM236.3 241.7h.9v.9h-.9zM237.3 254.3h.9v.9h-.9zM238.2 247.8h.9v.9h-.9zM225.8 257.6h.9v.9h-.9zM227.5 239.2h.9v.9h-.9zM227.1 261.9h.9v.9h-.9zM241.6 242.9h.9v.9h-.9zM227.4 242.9h.9v.9h-.9zM239.0 252.0h.9v.9h-.9zM239.0 249.2h.9v.9h-.9zM227.0 277.6h.9v.9h-.9zM237.2 271.8h.9v.9h-.9zM224.5 276.0h.9v.9h-.9zM250.4 257.7h.9v.9h-.9zM235.0 269.3h.9v.9h-.9zM239.9 272.6h.9v.9h-.9zM252.7 257.9h.9v.9h-.9zM232.4 274.3h.9v.9h-.9zM242.8 278.0h.9v.9h-.9zM231.6 282.2h.9v.9h-.9zM232.3 277.1h.9v.9h-.9zM234.8 264.6h.9v.9h-.9zM234.3 277.5h.9v.9h-.9zM235.4 286.1h.9v.9h-.9zM243.0 272.5h.9v.9h-.9zM233.4 275.0h.9v.9h-.9zM244.1 267.9h.9v.9h-.9zM228.4 277.7h.9v.9h-.9zM236.8 279.9h.9v.9h-.9zM248.2 255.2h.9v.9h-.9zM233.4 279.4h.9v.9h-.9zM227.6 274.6h.9v.9h-.9zM237.6 285.1h.9v.9h-.9zM228.1 262.9h.9v.9h-.9zM237.0 271.2h.9v.9h-.9zM229.4 272.6h.9v.9h-.9zM234.0 271.1h.9v.9h-.9zM242.4 259.1h.9v.9h-.9zM239.6 269.6h.9v.9h-.9zM230.1 265.7h.9v.9h-.9zM232.4 273.5h.9v.9h-.9zM243.9 257.8h.9v.9h-.9zM231.0 262.0h.9v.9h-.9zM239.1 272.1h.9v.9h-.9zM236.3 274.2h.9v.9h-.9zM235.9 274.2h.9v.9h-.9zM253.9 248.5h.9v.9h-.9zM228.5 259.9h.9v.9h-.9zM239.0 263.2h.9v.9h-.9zM228.6 275.3h.9v.9h-.9zM243.2 283.1h.9v.9h-.9zM233.1 273.4h.9v.9h-.9zM232.3 278.4h.9v.9h-.9zM238.6 277.5h.9v.9h-.9zM231.1 277.3h.9v.9h-.9zM231.0 272.3h.9v.9h-.9zM232.6 266.0h.9v.9h-.9zM235.2 271.4h.9v.9h-.9zM243.2 277.1h.9v.9h-.9zM241.1 272.9h.9v.9h-.9zM248.8 276.4h.9v.9h-.9zM238.2 269.3h.9v.9h-.9zM231.6 268.3h.9v.9h-.9zM240.3 275.8h.9v.9h-.9zM240.7 267.6h.9v.9h-.9zM233.6 273.3h.9v.9h-.9zM244.8 259.9h.9v.9h-.9zM237.6 279.2h.9v.9h-.9zM236.7 274.7h.9v.9h-.9zM238.7 274.7h.9v.9h-.9zM238.0 276.2h.9v.9h-.9zM237.5 271.5h.9v.9h-.9zM234.7 279.2h.9v.9h-.9zM241.7 263.3h.9v.9h-.9zM234.3 261.4h.9v.9h-.9zM238.1 271.6h.9v.9h-.9zM237.1 282.5h.9v.9h-.9zM237.6 269.9h.9v.9h-.9zM233.1 272.9h.9v.9h-.9zM231.1 270.2h.9v.9h-.9zM242.8 263.5h.9v.9h-.9zM228.8 277.4h.9v.9h-.9zM234.8 263.0h.9v.9h-.9zM244.8 290.4h.9v.9h-.9zM242.3 288.6h.9v.9h-.9zM241.6 297.5h.9v.9h-.9zM244.5 290.9h.9v.9h-.9zM232.2 293.9h.9v.9h-.9zM228.2 279.5h.9v.9h-.9zM234.9 302.1h.9v.9h-.9zM238.5 282.9h.9v.9h-.9zM231.3 287.1h.9v.9h-.9zM234.7 285.8h.9v.9h-.9zM238.2 291.2h.9v.9h-.9zM230.0 293.7h.9v.9h-.9zM244.2 291.7h.9v.9h-.9zM234.0 289.3h.9v.9h-.9zM242.4 286.9h.9v.9h-.9zM232.6 288.2h.9v.9h-.9zM238.8 291.6h.9v.9h-.9zM234.5 289.1h.9v.9h-.9zM231.3 288.5h.9v.9h-.9zM244.2 288.8h.9v.9h-.9zM239.7 292.3h.9v.9h-.9zM242.4 288.8h.9v.9h-.9zM240.8 288.7h.9v.9h-.9zM238.9 292.2h.9v.9h-.9zM235.8 286.3h.9v.9h-.9zM247.2 284.7h.9v.9h-.9zM235.6 286.8h.9v.9h-.9zM238.0 297.2h.9v.9h-.9z"/><path fill="#3050c0" d="M233.3 251.7h.9v.9h-.9zM231.8 249.1h.9v.9h-.9zM230.2 249.2h.9v.9h-.9zM233.8 248.7h.9v.9h-.9zM235.1 252.5h.9v.9h-.9zM234.4 254.4h.9v.9h-.9zM231.4 249.3h.9v.9h-.9zM236.9 246.3h.9v.9h-.9zM234.1 253.9h.9v.9h-.9zM229.7 258.0h.9v.9h-.9zM231.9 246.6h.9v.9h-.9zM225.8 251.1h.9v.9h-.9zM235.0 249.7h.9v.9h-.9zM236.2 253.1h.9v.9h-.9zM233.4 250.1h.9v.9h-.9zM235.9 252.1h.9v.9h-.9zM226.9 250.1h.9v.9h-.9zM227.8 252.7h.9v.9h-.9zM233.2 250.1h.9v.9h-.9zM233.2 253.8h.9v.9h-.9zM232.7 245.3h.9v.9h-.9zM231.9 247.4h.9v.9h-.9zM229.4 258.8h.9v.9h-.9zM227.4 255.0h.9v.9h-.9zM228.3 259.2h.9v.9h-.9zM225.5 252.1h.9v.9h-.9zM236.5 249.8h.9v.9h-.9zM235.5 247.3h.9v.9h-.9zM227.7 259.3h.9v.9h-.9zM229.5 250.9h.9v.9h-.9zM228.7 249.7h.9v.9h-.9zM232.6 257.0h.9v.9h-.9zM225.1 254.5h.9v.9h-.9zM229.7 259.2h.9v.9h-.9zM233.7 256.7h.9v.9h-.9zM230.3 245.0h.9v.9h-.9zM233.6 250.3h.9v.9h-.9zM229.0 257.4h.9v.9h-.9zM233.3 251.9h.9v.9h-.9zM232.8 244.6h.9v.9h-.9zM232.7 252.5h.9v.9h-.9zM230.4 245.1h.9v.9h-.9zM229.0 246.4h.9v.9h-.9zM235.0 250.3h.9v.9h-.9zM233.8 249.9h.9v.9h-.9zM233.8 252.3h.9v.9h-.9zM229.9 246.5h.9v.9h-.9zM231.5 258.0h.9v.9h-.9zM225.1 254.1h.9v.9h-.9zM228.0 245.2h.9v.9h-.9zM227.6 250.8h.9v.9h-.9zM230.4 256.6h.9v.9h-.9zM234.3 252.1h.9v.9h-.9zM229.8 252.0h.9v.9h-.9zM233.8 249.5h.9v.9h-.9zM227.1 252.9h.9v.9h-.9zM227.7 257.3h.9v.9h-.9zM229.4 255.8h.9v.9h-.9zM230.0 249.9h.9v.9h-.9zM227.8 248.3h.9v.9h-.9zM231.5 247.2h.9v.9h-.9zM229.8 256.9h.9v.9h-.9zM235.3 252.7h.9v.9h-.9zM229.4 255.6h.9v.9h-.9zM227.9 250.2h.9v.9h-.9zM227.1 249.5h.9v.9h-.9zM235.3 249.4h.9v.9h-.9zM232.4 254.5h.9v.9h-.9zM233.9 255.0h.9v.9h-.9zM233.4 254.6h.9v.9h-.9zM237.4 253.9h.9v.9h-.9zM229.5 253.3h.9v.9h-.9zM235.3 249.3h.9v.9h-.9zM226.9 249.4h.9v.9h-.9zM229.8 247.0h.9v.9h-.9zM226.5 249.9h.9v.9h-.9zM233.6 255.8h.9v.9h-.9zM236.8 249.8h.9v.9h-.9zM226.6 250.6h.9v.9h-.9zM231.5 253.6h.9v.9h-.9zM230.8 249.1h.9v.9h-.9zM238.5 248.9h.9v.9h-.9zM228.9 250.3h.9v.9h-.9zM230.3 254.2h.9v.9h-.9zM227.8 254.7h.9v.9h-.9zM233.2 252.4h.9v.9h-.9zM236.0 253.8h.9v.9h-.9zM230.3 253.0h.9v.9h-.9zM237.7 277.1h.9v.9h-.9zM239.2 271.0h.9v.9h-.9zM245.2 282.5h.9v.9h-.9zM240.3 273.8h.9v.9h-.9zM240.3 282.8h.9v.9h-.9zM243.4 284.0h.9v.9h-.9zM234.8 265.7h.9v.9h-.9zM243.6 277.9h.9v.9h-.9zM243.5 272.8h.9v.9h-.9zM243.9 277.1h.9v.9h-.9zM236.2 283.3h.9v.9h-.9zM239.5 280.6h.9v.9h-.9zM239.1 273.9h.9v.9h-.9zM238.8 270.4h.9v.9h-.9zM246.0 266.7h.9v.9h-.9zM235.9 265.9h.9v.9h-.9zM238.8 274.4h.9v.9h-.9zM241.5 273.9h.9v.9h-.9zM244.6 276.9h.9v.9h-.9zM233.9 282.8h.9v.9h-.9zM240.9 278.9h.9v.9h-.9zM241.0 279.0h.9v.9h-.9zM238.1 268.2h.9v.9h-.9zM239.0 272.6h.9v.9h-.9zM245.3 280.8h.9v.9h-.9zM242.8 278.3h.9v.9h-.9zM241.7 275.9h.9v.9h-.9zM235.0 276.1h.9v.9h-.9zM237.0 276.7h.9v.9h-.9z"/><path fill="#e8d020" d="M229.4 254.6h.9v.9h-.9zM229.5 249.8h.9v.9h-.9zM233.9 250.1h.9v.9h-.9zM231.4 253.6h.9v.9h-.9zM227.9 252.0h.9v.9h-.9zM230.6 255.9h.9v.9h-.9zM227.5 252.5h.9v.9h-.9zM233.7 247.8h.9v.9h-.9zM234.3 253.2h.9v.9h-.9zM231.4 253.8h.9v.9h-.9zM231.7 255.2h.9v.9h-.9zM233.8 248.5h.9v.9h-.9zM233.1 248.0h.9v.9h-.9zM228.5 251.7h.9v.9h-.9zM231.9 246.5h.9v.9h-.9zM233.4 254.3h.9v.9h-.9zM229.2 252.6h.9v.9h-.9zM230.3 254.7h.9v.9h-.9zM228.5 251.2h.9v.9h-.9zM230.5 256.4h.9v.9h-.9zM228.9 249.4h.9v.9h-.9zM232.5 255.1h.9v.9h-.9zM234.5 254.2h.9v.9h-.9zM230.3 254.4h.9v.9h-.9zM232.2 256.2h.9v.9h-.9zM232.7 249.1h.9v.9h-.9zM229.7 247.5h.9v.9h-.9zM233.6 253.1h.9v.9h-.9zM229.4 248.1h.9v.9h-.9zM229.1 255.9h.9v.9h-.9zM234.1 253.1h.9v.9h-.9zM229.1 252.1h.9v.9h-.9zM230.3 255.9h.9v.9h-.9zM229.2 250.9h.9v.9h-.9zM230.7 248.3h.9v.9h-.9zM234.4 248.1h.9v.9h-.9zM232.3 249.1h.9v.9h-.9zM232.3 246.5h.9v.9h-.9zM228.4 250.6h.9v.9h-.9zM243.8 269.1h.9v.9h-.9zM239.1 285.5h.9v.9h-.9zM239.7 275.7h.9v.9h-.9zM241.6 284.9h.9v.9h-.9zM239.9 274.8h.9v.9h-.9zM237.2 274.1h.9v.9h-.9zM239.2 272.6h.9v.9h-.9zM243.3 283.9h.9v.9h-.9zM237.2 270.3h.9v.9h-.9zM238.7 272.8h.9v.9h-.9zM241.3 272.4h.9v.9h-.9zM241.6 270.3h.9v.9h-.9zM243.1 278.1h.9v.9h-.9zM238.8 278.0h.9v.9h-.9zM241.5 269.6h.9v.9h-.9zM242.0 282.4h.9v.9h-.9zM242.3 282.1h.9v.9h-.9zM239.3 271.9h.9v.9h-.9zM247.5 271.8h.9v.9h-.9z"/><path fill="#6a7ad8" d="M238.2 255.8h.9v.9h-.9zM224.1 253.9h.9v.9h-.9zM222.8 248.9h.9v.9h-.9zM234.2 239.7h.9v.9h-.9zM237.7 246.9h.9v.9h-.9zM235.5 238.5h.9v.9h-.9zM227.9 262.2h.9v.9h-.9zM234.0 243.8h.9v.9h-.9zM238.0 246.4h.9v.9h-.9zM240.0 254.2h.9v.9h-.9zM230.5 239.7h.9v.9h-.9zM234.5 238.7h.9v.9h-.9zM233.9 242.1h.9v.9h-.9zM223.8 249.5h.9v.9h-.9zM218.6 258.8h.9v.9h-.9zM226.1 252.5h.9v.9h-.9zM237.4 250.0h.9v.9h-.9zM227.9 262.8h.9v.9h-.9zM223.2 252.7h.9v.9h-.9zM228.6 264.8h.9v.9h-.9zM234.4 260.7h.9v.9h-.9zM233.3 269.1h.9v.9h-.9zM237.1 241.8h.9v.9h-.9zM239.7 262.7h.9v.9h-.9zM237.5 242.8h.9v.9h-.9zM239.2 255.5h.9v.9h-.9zM235.5 258.9h.9v.9h-.9zM222.8 243.9h.9v.9h-.9zM236.5 241.8h.9v.9h-.9zM236.0 259.0h.9v.9h-.9zM238.8 244.0h.9v.9h-.9zM220.6 258.5h.9v.9h-.9zM222.1 249.6h.9v.9h-.9zM241.2 242.4h.9v.9h-.9zM236.7 232.9h.9v.9h-.9zM237.5 249.6h.9v.9h-.9zM226.0 251.4h.9v.9h-.9zM238.4 239.0h.9v.9h-.9zM222.0 249.9h.9v.9h-.9zM221.6 249.3h.9v.9h-.9zM234.9 242.8h.9v.9h-.9zM238.6 244.9h.9v.9h-.9zM234.1 253.6h.9v.9h-.9zM235.8 271.5h.9v.9h-.9zM233.5 279.5h.9v.9h-.9zM234.4 268.3h.9v.9h-.9zM246.4 278.5h.9v.9h-.9zM233.2 264.1h.9v.9h-.9zM233.9 283.3h.9v.9h-.9zM237.8 270.0h.9v.9h-.9zM235.6 270.4h.9v.9h-.9zM243.5 278.2h.9v.9h-.9zM238.1 264.7h.9v.9h-.9zM242.9 268.4h.9v.9h-.9zM244.5 279.8h.9v.9h-.9zM234.7 265.1h.9v.9h-.9zM235.1 263.2h.9v.9h-.9zM239.9 269.7h.9v.9h-.9zM231.3 282.0h.9v.9h-.9zM237.1 282.3h.9v.9h-.9zM226.8 276.9h.9v.9h-.9zM230.0 276.9h.9v.9h-.9zM231.9 280.4h.9v.9h-.9zM234.5 264.7h.9v.9h-.9zM242.5 268.4h.9v.9h-.9zM242.7 276.4h.9v.9h-.9zM233.5 277.0h.9v.9h-.9zM240.6 291.1h.9v.9h-.9zM230.9 284.1h.9v.9h-.9zM236.3 281.3h.9v.9h-.9zM233.8 272.9h.9v.9h-.9zM235.8 276.8h.9v.9h-.9zM239.4 277.5h.9v.9h-.9zM238.9 274.4h.9v.9h-.9zM230.5 261.4h.9v.9h-.9zM233.6 283.2h.9v.9h-.9zM241.4 284.3h.9v.9h-.9zM233.3 265.0h.9v.9h-.9zM236.1 255.1h.9v.9h-.9zM236.1 260.2h.9v.9h-.9zM237.3 276.1h.9v.9h-.9zM244.9 276.7h.9v.9h-.9zM245.3 278.0h.9v.9h-.9zM233.8 265.5h.9v.9h-.9zM234.2 279.6h.9v.9h-.9zM235.6 267.3h.9v.9h-.9zM240.5 276.3h.9v.9h-.9zM234.0 277.7h.9v.9h-.9zM243.4 286.1h.9v.9h-.9zM239.4 275.0h.9v.9h-.9zM234.5 265.3h.9v.9h-.9zM232.4 287.6h.9v.9h-.9zM236.6 280.6h.9v.9h-.9zM230.2 267.3h.9v.9h-.9zM235.0 262.9h.9v.9h-.9zM240.9 278.0h.9v.9h-.9zM233.3 274.9h.9v.9h-.9zM240.1 264.6h.9v.9h-.9zM229.5 269.6h.9v.9h-.9zM238.4 274.1h.9v.9h-.9zM235.9 266.0h.9v.9h-.9zM230.8 267.3h.9v.9h-.9zM229.3 288.3h.9v.9h-.9zM234.2 270.3h.9v.9h-.9zM238.2 281.6h.9v.9h-.9zM230.9 271.5h.9v.9h-.9zM240.6 266.4h.9v.9h-.9zM237.9 270.2h.9v.9h-.9zM236.5 259.0h.9v.9h-.9zM241.3 279.7h.9v.9h-.9zM229.1 274.9h.9v.9h-.9zM235.8 263.8h.9v.9h-.9zM240.6 271.3h.9v.9h-.9zM236.1 270.5h.9v.9h-.9zM237.3 274.0h.9v.9h-.9zM235.1 283.2h.9v.9h-.9zM239.1 276.8h.9v.9h-.9zM233.6 279.0h.9v.9h-.9zM238.3 281.9h.9v.9h-.9zM240.8 277.4h.9v.9h-.9zM228.7 284.1h.9v.9h-.9zM228.7 292.5h.9v.9h-.9zM235.3 290.2h.9v.9h-.9zM238.6 285.8h.9v.9h-.9zM237.1 293.2h.9v.9h-.9zM240.6 293.9h.9v.9h-.9zM237.9 289.5h.9v.9h-.9zM230.9 287.3h.9v.9h-.9zM225.9 294.6h.9v.9h-.9zM236.1 289.9h.9v.9h-.9zM236.0 297.4h.9v.9h-.9zM240.4 291.0h.9v.9h-.9zM226.3 292.0h.9v.9h-.9zM240.7 290.6h.9v.9h-.9zM237.9 288.0h.9v.9h-.9z"/><path fill="#2f45b8" d="M236.2 244.8h.9v.9h-.9zM231.6 259.3h.9v.9h-.9zM240.3 248.3h.9v.9h-.9zM236.2 261.9h.9v.9h-.9zM226.8 247.7h.9v.9h-.9zM239.0 237.7h.9v.9h-.9zM227.7 243.0h.9v.9h-.9zM224.4 275.2h.9v.9h-.9zM246.3 233.0h.9v.9h-.9zM239.9 254.8h.9v.9h-.9zM236.5 243.7h.9v.9h-.9zM232.8 264.0h.9v.9h-.9zM233.0 239.6h.9v.9h-.9zM230.5 258.9h.9v.9h-.9zM222.9 246.6h.9v.9h-.9zM230.3 261.2h.9v.9h-.9zM223.8 255.2h.9v.9h-.9zM225.7 261.6h.9v.9h-.9zM225.0 262.0h.9v.9h-.9zM241.4 239.5h.9v.9h-.9zM225.9 250.9h.9v.9h-.9zM220.6 268.4h.9v.9h-.9zM239.3 255.7h.9v.9h-.9zM237.9 262.7h.9v.9h-.9zM235.8 236.3h.9v.9h-.9zM226.1 258.1h.9v.9h-.9zM241.0 250.0h.9v.9h-.9zM227.2 239.5h.9v.9h-.9zM224.2 253.6h.9v.9h-.9zM237.9 257.3h.9v.9h-.9zM222.4 255.5h.9v.9h-.9zM230.6 239.3h.9v.9h-.9zM225.0 243.6h.9v.9h-.9zM234.1 262.3h.9v.9h-.9zM223.0 256.0h.9v.9h-.9zM232.1 237.2h.9v.9h-.9zM242.2 247.5h.9v.9h-.9zM224.7 257.6h.9v.9h-.9zM235.2 240.9h.9v.9h-.9zM236.3 263.8h.9v.9h-.9zM236.8 267.8h.9v.9h-.9zM232.0 277.4h.9v.9h-.9zM233.1 268.8h.9v.9h-.9zM239.3 279.3h.9v.9h-.9zM228.2 261.5h.9v.9h-.9zM224.5 260.9h.9v.9h-.9zM233.4 271.9h.9v.9h-.9zM236.8 273.6h.9v.9h-.9zM232.4 272.5h.9v.9h-.9zM245.7 272.5h.9v.9h-.9zM234.4 286.5h.9v.9h-.9zM233.9 264.4h.9v.9h-.9zM237.1 282.2h.9v.9h-.9zM238.6 269.5h.9v.9h-.9zM243.6 271.4h.9v.9h-.9zM235.1 272.4h.9v.9h-.9zM230.2 280.2h.9v.9h-.9zM244.8 279.3h.9v.9h-.9zM233.8 272.5h.9v.9h-.9zM238.2 281.1h.9v.9h-.9zM234.2 283.1h.9v.9h-.9zM231.8 258.3h.9v.9h-.9zM233.6 266.9h.9v.9h-.9zM236.5 264.9h.9v.9h-.9zM226.5 267.1h.9v.9h-.9zM232.0 260.2h.9v.9h-.9zM226.4 272.9h.9v.9h-.9zM246.9 269.9h.9v.9h-.9zM231.2 271.5h.9v.9h-.9zM239.7 258.8h.9v.9h-.9zM226.3 270.1h.9v.9h-.9zM244.9 268.3h.9v.9h-.9zM243.5 274.0h.9v.9h-.9zM234.8 271.4h.9v.9h-.9zM235.2 273.3h.9v.9h-.9zM240.2 267.4h.9v.9h-.9zM238.7 270.6h.9v.9h-.9zM241.6 290.6h.9v.9h-.9zM236.7 253.2h.9v.9h-.9zM235.1 275.0h.9v.9h-.9zM239.1 249.0h.9v.9h-.9zM231.8 266.2h.9v.9h-.9zM226.1 268.4h.9v.9h-.9zM244.5 273.1h.9v.9h-.9zM224.8 268.8h.9v.9h-.9zM236.2 256.6h.9v.9h-.9zM235.9 264.5h.9v.9h-.9zM233.4 283.2h.9v.9h-.9zM235.8 279.0h.9v.9h-.9zM245.0 262.1h.9v.9h-.9zM236.1 268.1h.9v.9h-.9zM239.9 269.4h.9v.9h-.9zM234.9 262.4h.9v.9h-.9zM232.2 266.4h.9v.9h-.9zM240.2 280.2h.9v.9h-.9zM241.2 271.3h.9v.9h-.9zM251.1 261.7h.9v.9h-.9zM236.9 276.6h.9v.9h-.9zM234.2 269.0h.9v.9h-.9zM230.4 259.2h.9v.9h-.9zM231.2 259.5h.9v.9h-.9zM235.9 278.9h.9v.9h-.9zM237.5 290.6h.9v.9h-.9zM235.0 276.0h.9v.9h-.9zM239.4 300.4h.9v.9h-.9zM234.1 288.9h.9v.9h-.9zM239.2 284.0h.9v.9h-.9zM239.1 283.5h.9v.9h-.9zM238.2 283.3h.9v.9h-.9zM244.5 293.9h.9v.9h-.9zM240.2 290.9h.9v.9h-.9zM236.9 295.6h.9v.9h-.9zM236.6 285.3h.9v.9h-.9zM249.6 291.1h.9v.9h-.9zM244.0 285.4h.9v.9h-.9zM246.8 286.2h.9v.9h-.9zM238.8 286.3h.9v.9h-.9zM233.7 286.8h.9v.9h-.9zM231.7 289.4h.9v.9h-.9zM238.6 285.7h.9v.9h-.9zM238.3 295.9h.9v.9h-.9z"/><path fill="#f0a020" d="M230.0 252.2h.9v.9h-.9zM230.8 251.5h.9v.9h-.9zM232.5 250.3h.9v.9h-.9zM230.3 252.1h.9v.9h-.9zM232.3 252.8h.9v.9h-.9zM231.4 253.2h.9v.9h-.9zM231.9 249.4h.9v.9h-.9zM231.2 252.0h.9v.9h-.9z"/><path fill="#2090a0" d="M226.2 250.0h.9v.9h-.9zM229.2 244.0h.9v.9h-.9zM227.0 257.3h.9v.9h-.9zM233.5 244.4h.9v.9h-.9zM233.5 244.9h.9v.9h-.9zM238.4 245.7h.9v.9h-.9zM229.7 244.6h.9v.9h-.9zM235.2 253.6h.9v.9h-.9zM237.2 250.1h.9v.9h-.9zM234.7 255.8h.9v.9h-.9zM236.5 245.4h.9v.9h-.9zM227.2 251.5h.9v.9h-.9zM226.4 253.4h.9v.9h-.9zM232.1 241.3h.9v.9h-.9zM226.5 250.0h.9v.9h-.9zM225.7 251.4h.9v.9h-.9zM230.4 247.2h.9v.9h-.9zM231.8 258.0h.9v.9h-.9zM234.0 243.9h.9v.9h-.9zM227.2 251.6h.9v.9h-.9zM235.1 252.6h.9v.9h-.9zM234.6 246.2h.9v.9h-.9zM234.6 256.0h.9v.9h-.9zM234.3 256.6h.9v.9h-.9zM231.6 245.4h.9v.9h-.9zM231.2 245.0h.9v.9h-.9zM228.6 243.7h.9v.9h-.9zM233.8 256.5h.9v.9h-.9zM232.9 243.0h.9v.9h-.9zM227.7 248.9h.9v.9h-.9zM237.4 251.4h.9v.9h-.9zM230.8 259.4h.9v.9h-.9zM234.9 252.1h.9v.9h-.9zM231.8 245.1h.9v.9h-.9zM235.5 245.1h.9v.9h-.9zM230.7 261.0h.9v.9h-.9zM228.7 257.5h.9v.9h-.9zM234.1 255.4h.9v.9h-.9zM227.4 253.9h.9v.9h-.9zM236.1 247.8h.9v.9h-.9zM226.8 247.3h.9v.9h-.9zM230.1 245.8h.9v.9h-.9zM226.5 253.2h.9v.9h-.9zM234.9 244.1h.9v.9h-.9zM228.6 245.9h.9v.9h-.9zM227.6 251.2h.9v.9h-.9z"/><path fill="#4060c8" d="M237.3 253.2h.9v.9h-.9zM232.7 240.2h.9v.9h-.9zM237.2 252.0h.9v.9h-.9zM227.1 250.4h.9v.9h-.9zM229.0 255.6h.9v.9h-.9zM238.3 254.1h.9v.9h-.9zM235.4 251.9h.9v.9h-.9zM225.5 249.0h.9v.9h-.9zM234.4 258.6h.9v.9h-.9zM227.2 249.7h.9v.9h-.9zM236.2 250.5h.9v.9h-.9zM224.7 244.5h.9v.9h-.9zM226.3 249.5h.9v.9h-.9zM237.2 255.4h.9v.9h-.9zM225.3 261.9h.9v.9h-.9zM236.1 256.5h.9v.9h-.9zM231.6 257.6h.9v.9h-.9zM229.2 259.0h.9v.9h-.9zM232.7 261.9h.9v.9h-.9zM234.9 258.3h.9v.9h-.9zM233.8 245.4h.9v.9h-.9zM227.0 262.7h.9v.9h-.9zM226.1 238.5h.9v.9h-.9zM228.5 246.6h.9v.9h-.9zM232.1 262.0h.9v.9h-.9zM240.2 253.6h.9v.9h-.9zM225.7 252.1h.9v.9h-.9zM237.6 250.5h.9v.9h-.9zM234.0 255.7h.9v.9h-.9zM225.7 252.7h.9v.9h-.9zM228.5 256.1h.9v.9h-.9zM225.8 251.9h.9v.9h-.9zM236.6 247.1h.9v.9h-.9zM226.8 251.1h.9v.9h-.9zM237.3 248.8h.9v.9h-.9zM219.1 253.1h.9v.9h-.9zM228.8 260.1h.9v.9h-.9zM227.3 258.5h.9v.9h-.9zM233.8 255.1h.9v.9h-.9zM232.4 243.9h.9v.9h-.9zM226.0 240.5h.9v.9h-.9zM222.4 253.4h.9v.9h-.9zM230.7 245.5h.9v.9h-.9zM230.2 245.1h.9v.9h-.9zM228.9 242.1h.9v.9h-.9zM236.0 248.3h.9v.9h-.9zM233.9 256.7h.9v.9h-.9zM231.5 258.0h.9v.9h-.9zM226.5 252.4h.9v.9h-.9zM226.9 250.7h.9v.9h-.9zM229.9 245.5h.9v.9h-.9zM235.3 254.3h.9v.9h-.9zM222.6 251.1h.9v.9h-.9zM232.4 256.2h.9v.9h-.9zM233.2 263.6h.9v.9h-.9zM235.2 255.0h.9v.9h-.9zM231.1 244.4h.9v.9h-.9zM226.5 254.9h.9v.9h-.9zM236.2 248.9h.9v.9h-.9zM232.1 243.8h.9v.9h-.9zM237.7 250.1h.9v.9h-.9zM223.9 256.7h.9v.9h-.9zM227.7 251.2h.9v.9h-.9zM224.8 255.6h.9v.9h-.9zM225.5 261.7h.9v.9h-.9zM237.8 253.2h.9v.9h-.9zM235.2 253.0h.9v.9h-.9zM227.9 250.3h.9v.9h-.9zM235.3 260.3h.9v.9h-.9zM233.2 258.8h.9v.9h-.9zM236.8 245.5h.9v.9h-.9zM227.8 257.5h.9v.9h-.9zM227.7 244.0h.9v.9h-.9zM234.7 243.4h.9v.9h-.9zM236.7 247.3h.9v.9h-.9zM226.6 252.5h.9v.9h-.9zM231.6 244.9h.9v.9h-.9zM230.6 241.7h.9v.9h-.9zM234.7 262.6h.9v.9h-.9zM225.8 261.8h.9v.9h-.9zM222.5 251.9h.9v.9h-.9zM231.6 257.6h.9v.9h-.9zM232.7 241.5h.9v.9h-.9zM229.0 247.1h.9v.9h-.9zM226.7 254.8h.9v.9h-.9zM236.4 252.8h.9v.9h-.9zM226.3 249.8h.9v.9h-.9zM236.6 270.8h.9v.9h-.9zM236.0 275.2h.9v.9h-.9zM232.3 266.9h.9v.9h-.9zM245.7 282.4h.9v.9h-.9zM231.8 248.1h.9v.9h-.9zM242.5 270.5h.9v.9h-.9zM235.6 265.4h.9v.9h-.9zM238.4 267.8h.9v.9h-.9zM238.2 268.0h.9v.9h-.9zM243.6 263.8h.9v.9h-.9zM238.3 285.7h.9v.9h-.9zM240.4 280.7h.9v.9h-.9zM239.5 265.4h.9v.9h-.9zM239.5 273.9h.9v.9h-.9zM218.9 268.9h.9v.9h-.9zM233.2 268.7h.9v.9h-.9zM233.2 265.6h.9v.9h-.9zM236.8 273.6h.9v.9h-.9zM239.1 265.0h.9v.9h-.9zM236.3 267.1h.9v.9h-.9zM238.4 272.1h.9v.9h-.9zM241.1 260.1h.9v.9h-.9zM237.1 278.6h.9v.9h-.9zM236.6 269.7h.9v.9h-.9zM237.1 256.1h.9v.9h-.9zM235.2 282.6h.9v.9h-.9zM231.1 280.9h.9v.9h-.9zM245.8 273.6h.9v.9h-.9zM243.8 270.3h.9v.9h-.9zM232.8 276.2h.9v.9h-.9zM225.4 279.9h.9v.9h-.9zM232.2 270.4h.9v.9h-.9zM224.7 263.6h.9v.9h-.9zM234.6 283.8h.9v.9h-.9zM233.2 279.8h.9v.9h-.9zM238.3 286.7h.9v.9h-.9zM225.3 285.7h.9v.9h-.9zM230.7 264.3h.9v.9h-.9zM242.0 267.5h.9v.9h-.9zM237.9 254.0h.9v.9h-.9zM244.1 261.2h.9v.9h-.9zM233.9 274.7h.9v.9h-.9zM236.1 263.6h.9v.9h-.9zM224.0 264.5h.9v.9h-.9zM236.1 272.9h.9v.9h-.9zM240.3 282.1h.9v.9h-.9zM238.5 259.0h.9v.9h-.9zM230.6 262.2h.9v.9h-.9zM237.8 278.6h.9v.9h-.9zM243.1 281.6h.9v.9h-.9zM231.6 283.6h.9v.9h-.9zM235.7 285.0h.9v.9h-.9zM237.7 261.7h.9v.9h-.9zM229.5 278.1h.9v.9h-.9zM227.3 264.8h.9v.9h-.9zM237.7 278.4h.9v.9h-.9zM226.8 266.0h.9v.9h-.9zM242.2 278.7h.9v.9h-.9zM232.3 265.0h.9v.9h-.9zM236.2 267.6h.9v.9h-.9zM238.2 276.5h.9v.9h-.9zM237.5 294.9h.9v.9h-.9zM243.4 261.0h.9v.9h-.9zM222.5 268.6h.9v.9h-.9zM228.8 281.1h.9v.9h-.9zM238.8 275.8h.9v.9h-.9zM251.2 273.3h.9v.9h-.9zM237.8 255.7h.9v.9h-.9zM232.2 271.7h.9v.9h-.9zM225.9 273.8h.9v.9h-.9zM236.9 275.0h.9v.9h-.9zM232.8 268.0h.9v.9h-.9zM234.0 275.9h.9v.9h-.9zM243.4 268.0h.9v.9h-.9zM233.1 284.3h.9v.9h-.9zM237.3 269.5h.9v.9h-.9zM236.1 275.7h.9v.9h-.9zM238.4 271.9h.9v.9h-.9zM239.0 273.5h.9v.9h-.9zM243.7 264.7h.9v.9h-.9zM242.7 279.6h.9v.9h-.9zM231.1 281.8h.9v.9h-.9zM230.4 258.4h.9v.9h-.9zM234.2 259.0h.9v.9h-.9zM242.4 266.1h.9v.9h-.9zM238.4 278.4h.9v.9h-.9zM243.0 271.6h.9v.9h-.9zM244.5 277.6h.9v.9h-.9zM242.3 273.1h.9v.9h-.9zM236.4 283.0h.9v.9h-.9zM240.3 279.6h.9v.9h-.9zM244.5 278.9h.9v.9h-.9zM236.4 282.9h.9v.9h-.9zM243.3 268.1h.9v.9h-.9zM241.0 267.7h.9v.9h-.9zM242.8 271.6h.9v.9h-.9zM240.8 270.2h.9v.9h-.9zM236.7 271.5h.9v.9h-.9zM243.0 281.2h.9v.9h-.9zM238.2 267.9h.9v.9h-.9zM243.8 277.3h.9v.9h-.9zM240.6 287.3h.9v.9h-.9zM240.9 270.4h.9v.9h-.9zM243.6 282.1h.9v.9h-.9zM241.2 275.3h.9v.9h-.9zM237.3 277.6h.9v.9h-.9zM239.4 269.2h.9v.9h-.9zM239.9 272.3h.9v.9h-.9zM238.3 273.2h.9v.9h-.9zM240.4 268.7h.9v.9h-.9zM245.4 263.1h.9v.9h-.9zM239.6 281.4h.9v.9h-.9zM240.2 281.5h.9v.9h-.9zM242.3 279.6h.9v.9h-.9zM238.2 293.2h.9v.9h-.9zM240.8 291.3h.9v.9h-.9zM234.4 283.7h.9v.9h-.9zM243.5 289.7h.9v.9h-.9zM244.2 284.7h.9v.9h-.9zM237.6 292.6h.9v.9h-.9zM237.9 293.2h.9v.9h-.9zM240.5 293.4h.9v.9h-.9zM243.7 287.7h.9v.9h-.9zM243.1 291.1h.9v.9h-.9zM239.5 289.8h.9v.9h-.9zM234.2 288.2h.9v.9h-.9zM233.9 298.2h.9v.9h-.9z"/><path fill="#e03020" d="M231.3 253.3h.9v.9h-.9zM232.6 249.5h.9v.9h-.9zM232.0 251.4h.9v.9h-.9zM231.3 250.6h.9v.9h-.9zM231.4 249.8h.9v.9h-.9zM231.6 251.1h.9v.9h-.9zM230.6 253.1h.9v.9h-.9zM232.4 251.4h.9v.9h-.9zM232.4 251.5h.9v.9h-.9zM231.9 250.6h.9v.9h-.9zM232.4 251.7h.9v.9h-.9zM230.6 252.3h.9v.9h-.9zM230.2 251.9h.9v.9h-.9zM232.3 251.0h.9v.9h-.9zM231.4 251.7h.9v.9h-.9zM231.0 253.4h.9v.9h-.9z"/></g>
<rect x="171.6" y="219.6" width="96.00000000000003" height="86.50000000000003" fill="none" stroke="#707070" stroke-width="1.2"/>
<line x1="171.6" y1="263.6" x2="267.6" y2="261" stroke="#222" stroke-width="0.9" />
<polyline points="250.4,219.6 237,262.3 234.8,306.1" fill="none" stroke="#222" stroke-width="0.9"/>
<text x="174.79999999999998" y="230.2" font-size="8.3" textLength="20.3" lengthAdjust="spacingAndGlyphs" fill="#333" >45.9%</text>
<rect x="244.1" y="223.0" width="21.2" height="7.6" fill="#fff" />
<rect x="249.6" y="219.4" width="1.6" height="1.8" fill="#111"/>
<text x="264.7" y="230.2" font-size="8.3" text-anchor="end" textLength="20.1" lengthAdjust="spacingAndGlyphs" fill="#333" >1.88%</text>
<text x="174.9" y="300.9" font-size="8.3" textLength="20.3" lengthAdjust="spacingAndGlyphs" fill="#333" >21.4%</text>
<text x="265.8" y="300.9" font-size="8.3" text-anchor="end" textLength="20.5" lengthAdjust="spacingAndGlyphs" fill="#333" >30.8%</text>
<line x1="168.2" y1="228.2806375442739" x2="171.6" y2="228.2806375442739" stroke="#333" stroke-width="1.0" />
<text x="166.6" y="230.9806375442739" font-size="7.7" text-anchor="end" fill="#2a2a2a" >10<tspan font-size="4.5" dy="-2.8">5</tspan></text>
<line x1="168.2" y1="249.0120425029516" x2="171.6" y2="249.0120425029516" stroke="#333" stroke-width="1.0" />
<text x="166.6" y="251.7120425029516" font-size="7.7" text-anchor="end" fill="#2a2a2a" >10<tspan font-size="4.5" dy="-2.8">4</tspan></text>
<line x1="168.2" y1="272.7050767414404" x2="171.6" y2="272.7050767414404" stroke="#333" stroke-width="1.0" />
<text x="166.6" y="275.4050767414404" font-size="7.7" text-anchor="end" fill="#2a2a2a" >10<tspan font-size="4.5" dy="-2.8">3</tspan></text>
<line x1="168.2" y1="286.3898465171193" x2="171.6" y2="286.3898465171193" stroke="#333" stroke-width="1.0" />
<text x="166.6" y="289.08984651711927" font-size="7.7" text-anchor="end" fill="#2a2a2a" >0</text>
<line x1="168.2" y1="300.17674144037784" x2="171.6" y2="300.17674144037784" stroke="#333" stroke-width="1.0" />
<text x="166.6" y="302.8767414403778" font-size="7.7" text-anchor="end" fill="#2a2a2a" >−10<tspan font-size="4.5" dy="-2.8">3</tspan></text>
<line x1="169.79999999999998" y1="242.77126775813264" x2="171.6" y2="242.77126775813264" stroke="#444" stroke-width="0.7" />
<line x1="169.79999999999998" y1="265.57276274736154" x2="171.6" y2="265.57276274736154" stroke="#444" stroke-width="0.7" />
<line x1="169.79999999999998" y1="239.12064855696588" x2="171.6" y2="239.12064855696588" stroke="#444" stroke-width="0.7" />
<line x1="169.79999999999998" y1="261.4006265174567" x2="171.6" y2="261.4006265174567" stroke="#444" stroke-width="0.7" />
<line x1="169.79999999999998" y1="236.53049301331362" x2="171.6" y2="236.53049301331362" stroke="#444" stroke-width="0.7" />
<line x1="169.79999999999998" y1="258.44044875328274" x2="171.6" y2="258.44044875328274" stroke="#444" stroke-width="0.7" />
<line x1="169.79999999999998" y1="234.52141228909292" x2="171.6" y2="234.52141228909292" stroke="#444" stroke-width="0.7" />
<line x1="169.79999999999998" y1="256.14435649703046" x2="171.6" y2="256.14435649703046" stroke="#444" stroke-width="0.7" />
<line x1="169.79999999999998" y1="232.8798738121469" x2="171.6" y2="232.8798738121469" stroke="#444" stroke-width="0.7" />
<line x1="169.79999999999998" y1="254.2683125233779" x2="171.6" y2="254.2683125233779" stroke="#444" stroke-width="0.7" />
<line x1="169.79999999999998" y1="231.49197280563124" x2="171.6" y2="231.49197280563124" stroke="#444" stroke-width="0.7" />
<line x1="169.79999999999998" y1="252.68213994450286" x2="171.6" y2="252.68213994450286" stroke="#444" stroke-width="0.7" />
<line x1="169.79999999999998" y1="230.28971826849465" x2="171.6" y2="230.28971826849465" stroke="#444" stroke-width="0.7" />
<line x1="169.79999999999998" y1="251.3081347592039" x2="171.6" y2="251.3081347592039" stroke="#444" stroke-width="0.7" />
<line x1="169.79999999999998" y1="229.22925461098015" x2="171.6" y2="229.22925461098015" stroke="#444" stroke-width="0.7" />
<line x1="169.79999999999998" y1="250.09617629347304" x2="171.6" y2="250.09617629347304" stroke="#444" stroke-width="0.7" />
<line x1="169.79999999999998" y1="276.9943329397875" x2="171.6" y2="276.9943329397875" stroke="#444" stroke-width="0.7" />
<line x1="169.79999999999998" y1="280.7729634002361" x2="171.6" y2="280.7729634002361" stroke="#444" stroke-width="0.7" />
<line x1="169.79999999999998" y1="290.9854781582054" x2="171.6" y2="290.9854781582054" stroke="#444" stroke-width="0.7" />
<line x1="169.79999999999998" y1="293.5386068476978" x2="171.6" y2="293.5386068476978" stroke="#444" stroke-width="0.7" />
<line x1="169.79999999999998" y1="296.09173553719006" x2="171.6" y2="296.09173553719006" stroke="#444" stroke-width="0.7" />
<line x1="169.79999999999998" y1="303.24049586776863" x2="171.6" y2="303.24049586776863" stroke="#444" stroke-width="0.7" />
<rect x="168.6" y="284.55159386068476" width="3.0" height="3.8" fill="#111"/>
<line x1="194.7" y1="306.1" x2="194.7" y2="309.3" stroke="#333" stroke-width="0.9" />
<text x="194.7" y="316.4" font-size="7.2" text-anchor="middle" fill="#2a2a2a" >0</text>
<line x1="236.7" y1="306.1" x2="236.7" y2="309.3" stroke="#333" stroke-width="0.9" />
<text x="236.7" y="316.4" font-size="7.2" text-anchor="middle" fill="#2a2a2a" >10<tspan font-size="4.5" dy="-2.8">4</tspan></text>
<line x1="258.4" y1="306.1" x2="258.4" y2="309.3" stroke="#333" stroke-width="0.9" />
<text x="258.4" y="316.4" font-size="7.2" text-anchor="middle" fill="#2a2a2a" >10<tspan font-size="4.5" dy="-2.8">5</tspan></text>
<line x1="221.5323509059084" y1="306.1" x2="221.5323509059084" y2="307.90000000000003" stroke="#555" stroke-width="0.6" />
<line x1="243.2323509059084" y1="306.1" x2="243.2323509059084" y2="307.90000000000003" stroke="#555" stroke-width="0.6" />
<line x1="225.35353122741668" y1="306.1" x2="225.35353122741668" y2="307.90000000000003" stroke="#555" stroke-width="0.6" />
<line x1="247.05353122741667" y1="306.1" x2="247.05353122741667" y2="307.90000000000003" stroke="#555" stroke-width="0.6" />
<line x1="228.06470181181678" y1="306.1" x2="228.06470181181678" y2="307.90000000000003" stroke="#555" stroke-width="0.6" />
<line x1="249.76470181181676" y1="306.1" x2="249.76470181181676" y2="307.90000000000003" stroke="#555" stroke-width="0.6" />
<line x1="230.1676490940916" y1="306.1" x2="230.1676490940916" y2="307.90000000000003" stroke="#555" stroke-width="0.6" />
<line x1="251.86764909409158" y1="306.1" x2="251.86764909409158" y2="307.90000000000003" stroke="#555" stroke-width="0.6" />
<line x1="231.88588213332505" y1="306.1" x2="231.88588213332505" y2="307.90000000000003" stroke="#555" stroke-width="0.6" />
<line x1="253.58588213332504" y1="306.1" x2="253.58588213332504" y2="307.90000000000003" stroke="#555" stroke-width="0.6" />
<line x1="233.33862746830937" y1="306.1" x2="233.33862746830937" y2="307.90000000000003" stroke="#555" stroke-width="0.6" />
<line x1="255.03862746830936" y1="306.1" x2="255.03862746830936" y2="307.90000000000003" stroke="#555" stroke-width="0.6" />
<line x1="234.59705271772518" y1="306.1" x2="234.59705271772518" y2="307.90000000000003" stroke="#555" stroke-width="0.6" />
<line x1="256.29705271772514" y1="306.1" x2="256.29705271772514" y2="307.90000000000003" stroke="#555" stroke-width="0.6" />
<line x1="235.70706245483333" y1="306.1" x2="235.70706245483333" y2="307.90000000000003" stroke="#555" stroke-width="0.6" />
<line x1="257.40706245483335" y1="306.1" x2="257.40706245483335" y2="307.90000000000003" stroke="#555" stroke-width="0.6" />
<line x1="177.6" y1="306.1" x2="177.6" y2="308.3" stroke="#444" stroke-width="0.7" />
<line x1="179.5" y1="306.1" x2="179.5" y2="308.3" stroke="#444" stroke-width="0.7" />
<line x1="181.39999999999998" y1="306.1" x2="181.39999999999998" y2="308.3" stroke="#444" stroke-width="0.7" />
<line x1="183.29999999999998" y1="306.1" x2="183.29999999999998" y2="308.3" stroke="#444" stroke-width="0.7" />
<line x1="185.2" y1="306.1" x2="185.2" y2="308.3" stroke="#444" stroke-width="0.7" />
<line x1="187.1" y1="306.1" x2="187.1" y2="308.3" stroke="#444" stroke-width="0.7" />
<line x1="189.0" y1="306.1" x2="189.0" y2="308.3" stroke="#444" stroke-width="0.7" />
<line x1="190.89999999999998" y1="306.1" x2="190.89999999999998" y2="308.3" stroke="#444" stroke-width="0.7" />
<line x1="192.79999999999998" y1="306.1" x2="192.79999999999998" y2="308.3" stroke="#444" stroke-width="0.7" />
<line x1="194.7" y1="306.1" x2="194.7" y2="308.3" stroke="#444" stroke-width="0.7" />
<line x1="196.6" y1="306.1" x2="196.6" y2="308.3" stroke="#444" stroke-width="0.7" />
<line x1="198.5" y1="306.1" x2="198.5" y2="308.3" stroke="#444" stroke-width="0.7" />
<line x1="200.39999999999998" y1="306.1" x2="200.39999999999998" y2="308.3" stroke="#444" stroke-width="0.7" />
<line x1="202.29999999999998" y1="306.1" x2="202.29999999999998" y2="308.3" stroke="#444" stroke-width="0.7" />
<line x1="204.2" y1="306.1" x2="204.2" y2="308.3" stroke="#444" stroke-width="0.7" />
<line x1="206.1" y1="306.1" x2="206.1" y2="308.3" stroke="#444" stroke-width="0.7" />
<line x1="208.0" y1="306.1" x2="208.0" y2="308.3" stroke="#444" stroke-width="0.7" />
<line x1="177.2" y1="306.1" x2="177.2" y2="309.3" stroke="#333" stroke-width="0.9" />
<rect x="192.5" y="306.1" width="4" height="2.8" fill="#111"/>
<text x="339.2" y="216.4" font-size="8.3" text-anchor="middle" textLength="90.9" lengthAdjust="spacingAndGlyphs" fill="#2a2a2a" >100 µM AA + Ferrostatin</text>
<g><path fill="#20a060" d="M359.0 251.2h.9v.9h-.9zM350.7 247.3h.9v.9h-.9zM346.6 256.6h.9v.9h-.9zM347.7 258.9h.9v.9h-.9zM358.8 246.3h.9v.9h-.9zM348.2 252.1h.9v.9h-.9zM356.1 255.2h.9v.9h-.9zM351.0 259.1h.9v.9h-.9zM353.1 256.1h.9v.9h-.9zM350.1 256.2h.9v.9h-.9zM355.0 258.6h.9v.9h-.9zM360.1 252.4h.9v.9h-.9zM351.6 258.7h.9v.9h-.9zM359.6 244.9h.9v.9h-.9zM355.4 245.8h.9v.9h-.9zM348.1 249.4h.9v.9h-.9zM357.2 252.8h.9v.9h-.9zM357.7 254.4h.9v.9h-.9zM352.2 250.2h.9v.9h-.9zM350.4 259.2h.9v.9h-.9zM349.3 250.0h.9v.9h-.9zM354.1 255.9h.9v.9h-.9zM348.3 249.8h.9v.9h-.9zM348.2 258.3h.9v.9h-.9zM355.4 250.0h.9v.9h-.9zM356.6 258.0h.9v.9h-.9zM357.5 250.6h.9v.9h-.9zM346.1 252.7h.9v.9h-.9zM351.5 248.0h.9v.9h-.9zM353.6 258.1h.9v.9h-.9zM355.4 254.6h.9v.9h-.9zM357.4 244.6h.9v.9h-.9zM356.1 254.3h.9v.9h-.9zM347.6 254.4h.9v.9h-.9zM357.9 255.1h.9v.9h-.9zM349.2 259.2h.9v.9h-.9zM359.3 250.9h.9v.9h-.9zM354.3 257.0h.9v.9h-.9zM349.8 256.9h.9v.9h-.9zM354.4 249.7h.9v.9h-.9zM352.0 246.2h.9v.9h-.9zM356.1 255.9h.9v.9h-.9zM357.1 247.6h.9v.9h-.9zM352.5 249.7h.9v.9h-.9zM347.1 258.2h.9v.9h-.9zM351.0 250.7h.9v.9h-.9zM352.8 258.3h.9v.9h-.9zM345.4 255.1h.9v.9h-.9zM347.7 263.5h.9v.9h-.9zM347.9 260.9h.9v.9h-.9zM354.9 257.2h.9v.9h-.9zM346.2 258.2h.9v.9h-.9zM350.9 251.1h.9v.9h-.9zM355.0 247.8h.9v.9h-.9zM354.2 257.8h.9v.9h-.9zM347.2 252.9h.9v.9h-.9zM351.5 258.4h.9v.9h-.9zM349.4 257.9h.9v.9h-.9zM348.8 258.3h.9v.9h-.9zM357.3 247.6h.9v.9h-.9zM354.5 246.3h.9v.9h-.9zM349.7 250.0h.9v.9h-.9zM352.7 258.0h.9v.9h-.9zM355.5 250.4h.9v.9h-.9zM360.9 248.7h.9v.9h-.9zM356.3 247.4h.9v.9h-.9zM356.0 254.4h.9v.9h-.9zM350.5 250.4h.9v.9h-.9zM347.2 259.8h.9v.9h-.9zM348.7 257.6h.9v.9h-.9zM356.0 251.9h.9v.9h-.9zM352.5 257.7h.9v.9h-.9zM352.1 250.2h.9v.9h-.9zM353.3 249.1h.9v.9h-.9zM357.9 247.7h.9v.9h-.9zM352.2 256.5h.9v.9h-.9zM358.8 247.4h.9v.9h-.9zM351.3 258.3h.9v.9h-.9zM357.6 246.3h.9v.9h-.9zM359.8 250.8h.9v.9h-.9zM359.6 245.6h.9v.9h-.9zM352.3 249.4h.9v.9h-.9zM356.6 246.4h.9v.9h-.9zM349.3 254.2h.9v.9h-.9zM356.7 251.1h.9v.9h-.9zM346.8 253.7h.9v.9h-.9zM348.0 249.0h.9v.9h-.9zM353.2 257.2h.9v.9h-.9zM357.9 249.1h.9v.9h-.9zM346.5 258.1h.9v.9h-.9zM359.9 250.1h.9v.9h-.9zM351.9 258.3h.9v.9h-.9zM347.6 258.3h.9v.9h-.9zM356.3 252.3h.9v.9h-.9zM354.0 247.9h.9v.9h-.9zM358.3 248.8h.9v.9h-.9z"/><path fill="#30b040" d="M349.6 254.3h.9v.9h-.9zM355.9 253.2h.9v.9h-.9zM353.4 258.8h.9v.9h-.9zM356.4 255.5h.9v.9h-.9zM350.7 257.6h.9v.9h-.9zM355.2 257.5h.9v.9h-.9zM348.7 256.2h.9v.9h-.9zM349.7 259.1h.9v.9h-.9zM352.0 259.2h.9v.9h-.9zM353.9 248.8h.9v.9h-.9zM351.1 251.9h.9v.9h-.9zM349.8 253.4h.9v.9h-.9zM349.6 251.8h.9v.9h-.9zM355.8 253.9h.9v.9h-.9zM351.2 258.8h.9v.9h-.9zM353.8 247.1h.9v.9h-.9zM357.4 250.5h.9v.9h-.9zM351.7 256.4h.9v.9h-.9zM348.9 252.0h.9v.9h-.9zM354.8 249.2h.9v.9h-.9zM350.3 251.7h.9v.9h-.9zM349.8 255.3h.9v.9h-.9zM348.3 256.0h.9v.9h-.9zM348.2 253.7h.9v.9h-.9zM356.2 249.9h.9v.9h-.9zM351.5 249.6h.9v.9h-.9zM349.3 256.6h.9v.9h-.9zM348.3 257.9h.9v.9h-.9zM348.7 258.4h.9v.9h-.9zM351.1 250.1h.9v.9h-.9zM347.4 253.1h.9v.9h-.9zM356.7 249.6h.9v.9h-.9zM354.3 249.5h.9v.9h-.9zM349.7 257.7h.9v.9h-.9zM356.4 248.0h.9v.9h-.9zM350.8 258.3h.9v.9h-.9zM350.9 251.1h.9v.9h-.9zM349.0 252.0h.9v.9h-.9zM349.3 256.6h.9v.9h-.9zM352.2 257.8h.9v.9h-.9zM354.4 249.0h.9v.9h-.9zM349.1 253.6h.9v.9h-.9zM350.9 256.7h.9v.9h-.9zM350.4 258.0h.9v.9h-.9zM348.3 251.7h.9v.9h-.9zM356.2 256.3h.9v.9h-.9zM356.8 254.5h.9v.9h-.9zM354.5 255.1h.9v.9h-.9zM349.9 252.0h.9v.9h-.9zM354.2 248.3h.9v.9h-.9zM356.4 249.0h.9v.9h-.9zM350.8 257.5h.9v.9h-.9zM352.0 250.6h.9v.9h-.9zM349.4 252.6h.9v.9h-.9zM357.1 247.1h.9v.9h-.9zM356.3 251.2h.9v.9h-.9zM357.4 249.1h.9v.9h-.9zM357.7 251.0h.9v.9h-.9zM349.0 255.7h.9v.9h-.9zM357.4 252.5h.9v.9h-.9zM355.7 254.3h.9v.9h-.9zM355.3 247.5h.9v.9h-.9zM356.1 249.0h.9v.9h-.9zM347.4 256.3h.9v.9h-.9zM349.0 253.8h.9v.9h-.9zM354.3 255.7h.9v.9h-.9zM348.2 256.8h.9v.9h-.9zM352.1 247.3h.9v.9h-.9zM351.3 249.9h.9v.9h-.9zM346.6 256.1h.9v.9h-.9zM351.0 257.4h.9v.9h-.9zM354.4 255.3h.9v.9h-.9zM354.5 257.5h.9v.9h-.9zM355.9 255.0h.9v.9h-.9zM355.5 248.9h.9v.9h-.9zM351.3 251.0h.9v.9h-.9zM348.4 254.7h.9v.9h-.9zM349.9 251.6h.9v.9h-.9zM356.4 251.6h.9v.9h-.9zM350.4 251.5h.9v.9h-.9zM354.1 249.9h.9v.9h-.9zM355.6 246.6h.9v.9h-.9zM347.7 256.6h.9v.9h-.9zM351.2 257.9h.9v.9h-.9zM355.7 254.0h.9v.9h-.9zM354.1 256.9h.9v.9h-.9zM357.3 251.4h.9v.9h-.9zM351.5 257.3h.9v.9h-.9zM357.0 253.0h.9v.9h-.9zM349.2 258.6h.9v.9h-.9zM349.5 253.8h.9v.9h-.9zM348.6 257.1h.9v.9h-.9zM352.1 257.2h.9v.9h-.9zM351.6 258.0h.9v.9h-.9zM351.2 251.4h.9v.9h-.9zM352.7 259.9h.9v.9h-.9zM348.9 252.5h.9v.9h-.9zM353.7 249.8h.9v.9h-.9zM350.1 257.2h.9v.9h-.9zM348.4 259.8h.9v.9h-.9zM351.2 248.4h.9v.9h-.9z"/><path fill="#90c830" d="M351.1 254.8h.9v.9h-.9zM354.3 254.6h.9v.9h-.9zM353.9 254.5h.9v.9h-.9zM350.7 253.5h.9v.9h-.9zM355.0 250.3h.9v.9h-.9zM352.2 250.7h.9v.9h-.9zM351.7 252.2h.9v.9h-.9zM351.4 256.7h.9v.9h-.9zM349.6 255.8h.9v.9h-.9zM352.8 250.7h.9v.9h-.9zM354.7 251.7h.9v.9h-.9zM351.1 256.2h.9v.9h-.9zM351.0 253.2h.9v.9h-.9zM355.2 253.2h.9v.9h-.9zM353.1 250.7h.9v.9h-.9zM351.9 256.4h.9v.9h-.9zM349.5 254.5h.9v.9h-.9zM350.4 255.1h.9v.9h-.9zM354.5 254.0h.9v.9h-.9zM349.9 254.2h.9v.9h-.9zM352.8 256.2h.9v.9h-.9zM350.1 256.9h.9v.9h-.9z"/><path fill="#8090e0" d="M345.7 249.5h.9v.9h-.9zM355.5 260.2h.9v.9h-.9zM342.2 252.4h.9v.9h-.9zM359.2 241.1h.9v.9h-.9zM348.5 248.9h.9v.9h-.9zM360.8 238.0h.9v.9h-.9zM344.9 262.9h.9v.9h-.9zM359.7 242.2h.9v.9h-.9zM344.0 258.8h.9v.9h-.9zM359.4 239.5h.9v.9h-.9zM343.7 256.9h.9v.9h-.9zM355.8 259.8h.9v.9h-.9zM359.6 250.8h.9v.9h-.9zM356.1 238.7h.9v.9h-.9zM349.5 264.4h.9v.9h-.9zM351.1 239.4h.9v.9h-.9zM360.2 246.3h.9v.9h-.9zM343.1 251.8h.9v.9h-.9zM361.9 244.5h.9v.9h-.9zM345.4 255.6h.9v.9h-.9zM346.2 252.0h.9v.9h-.9zM358.1 240.9h.9v.9h-.9zM346.3 252.1h.9v.9h-.9zM348.5 248.0h.9v.9h-.9zM346.4 247.2h.9v.9h-.9zM345.8 252.3h.9v.9h-.9zM354.5 244.2h.9v.9h-.9zM343.9 254.8h.9v.9h-.9zM348.7 268.2h.9v.9h-.9zM350.3 261.3h.9v.9h-.9zM351.3 276.1h.9v.9h-.9zM347.2 259.7h.9v.9h-.9zM351.4 273.0h.9v.9h-.9zM349.8 267.0h.9v.9h-.9zM347.7 279.3h.9v.9h-.9zM351.1 279.8h.9v.9h-.9zM346.9 260.0h.9v.9h-.9zM355.2 261.8h.9v.9h-.9zM349.7 264.4h.9v.9h-.9zM355.1 266.3h.9v.9h-.9zM350.1 271.6h.9v.9h-.9zM347.8 262.7h.9v.9h-.9zM353.4 280.0h.9v.9h-.9zM347.5 271.3h.9v.9h-.9zM355.2 252.2h.9v.9h-.9zM353.0 271.0h.9v.9h-.9zM353.3 254.8h.9v.9h-.9zM349.3 266.3h.9v.9h-.9zM350.2 268.8h.9v.9h-.9zM349.1 274.6h.9v.9h-.9zM357.8 267.8h.9v.9h-.9zM351.1 267.9h.9v.9h-.9zM353.3 261.5h.9v.9h-.9zM351.2 266.3h.9v.9h-.9zM348.8 264.3h.9v.9h-.9zM348.7 274.0h.9v.9h-.9zM349.6 262.3h.9v.9h-.9zM351.6 293.1h.9v.9h-.9zM350.3 282.1h.9v.9h-.9zM348.9 279.0h.9v.9h-.9zM348.7 297.1h.9v.9h-.9zM355.7 285.4h.9v.9h-.9zM349.4 298.2h.9v.9h-.9zM354.4 283.5h.9v.9h-.9zM343.0 291.4h.9v.9h-.9zM353.8 295.4h.9v.9h-.9zM352.9 291.5h.9v.9h-.9zM352.1 299.4h.9v.9h-.9zM356.3 288.7h.9v.9h-.9z"/><path fill="#c8d020" d="M355.3 250.6h.9v.9h-.9zM354.7 254.8h.9v.9h-.9zM350.4 256.4h.9v.9h-.9zM354.7 249.7h.9v.9h-.9zM354.4 256.6h.9v.9h-.9zM349.4 251.9h.9v.9h-.9zM351.3 248.0h.9v.9h-.9zM349.6 251.6h.9v.9h-.9zM354.8 257.7h.9v.9h-.9zM350.7 251.5h.9v.9h-.9zM350.3 259.6h.9v.9h-.9zM356.3 248.3h.9v.9h-.9zM352.9 258.5h.9v.9h-.9zM351.6 250.0h.9v.9h-.9zM355.8 250.4h.9v.9h-.9zM349.1 259.7h.9v.9h-.9zM354.4 249.8h.9v.9h-.9zM355.8 253.5h.9v.9h-.9zM349.9 257.6h.9v.9h-.9zM353.6 249.9h.9v.9h-.9zM351.1 258.8h.9v.9h-.9zM352.6 258.0h.9v.9h-.9zM355.2 249.8h.9v.9h-.9zM351.2 251.3h.9v.9h-.9zM348.0 258.8h.9v.9h-.9zM347.2 255.0h.9v.9h-.9zM350.2 254.6h.9v.9h-.9zM352.7 249.6h.9v.9h-.9zM349.5 253.6h.9v.9h-.9zM352.9 247.4h.9v.9h-.9zM348.7 258.1h.9v.9h-.9zM356.9 252.9h.9v.9h-.9zM355.7 248.8h.9v.9h-.9zM351.9 249.1h.9v.9h-.9zM356.5 255.0h.9v.9h-.9zM352.9 256.5h.9v.9h-.9zM352.3 248.8h.9v.9h-.9zM353.7 257.7h.9v.9h-.9zM356.7 247.1h.9v.9h-.9zM357.0 251.2h.9v.9h-.9zM349.9 258.1h.9v.9h-.9zM356.7 248.1h.9v.9h-.9zM348.8 255.2h.9v.9h-.9zM348.9 253.2h.9v.9h-.9zM355.4 246.1h.9v.9h-.9zM356.5 245.5h.9v.9h-.9zM357.2 248.3h.9v.9h-.9zM349.2 253.2h.9v.9h-.9zM354.2 249.4h.9v.9h-.9zM347.2 252.4h.9v.9h-.9zM352.8 258.3h.9v.9h-.9z"/><path fill="#3050c0" d="M351.1 246.1h.9v.9h-.9zM357.9 254.2h.9v.9h-.9zM349.2 261.8h.9v.9h-.9zM360.8 248.7h.9v.9h-.9zM347.0 257.2h.9v.9h-.9zM358.6 249.9h.9v.9h-.9zM355.3 247.3h.9v.9h-.9zM352.4 246.8h.9v.9h-.9zM358.2 253.3h.9v.9h-.9zM357.2 256.1h.9v.9h-.9zM358.3 255.2h.9v.9h-.9zM347.5 258.4h.9v.9h-.9zM357.8 246.0h.9v.9h-.9zM357.6 252.1h.9v.9h-.9zM359.8 252.6h.9v.9h-.9zM358.6 253.7h.9v.9h-.9zM346.0 258.1h.9v.9h-.9zM355.2 258.3h.9v.9h-.9zM348.1 248.9h.9v.9h-.9zM349.5 261.0h.9v.9h-.9zM353.1 258.9h.9v.9h-.9zM358.8 251.1h.9v.9h-.9zM353.6 259.9h.9v.9h-.9zM357.8 251.3h.9v.9h-.9zM352.5 248.0h.9v.9h-.9zM346.3 258.6h.9v.9h-.9zM354.2 242.6h.9v.9h-.9zM351.8 245.8h.9v.9h-.9zM356.3 255.3h.9v.9h-.9zM355.6 259.3h.9v.9h-.9zM350.3 259.5h.9v.9h-.9zM345.0 253.9h.9v.9h-.9zM346.4 255.4h.9v.9h-.9zM355.7 258.1h.9v.9h-.9zM347.0 258.8h.9v.9h-.9zM358.2 250.5h.9v.9h-.9zM347.8 259.3h.9v.9h-.9zM353.9 246.8h.9v.9h-.9zM356.4 256.8h.9v.9h-.9zM345.5 257.9h.9v.9h-.9zM350.0 247.7h.9v.9h-.9zM358.4 252.0h.9v.9h-.9zM359.4 248.2h.9v.9h-.9zM346.4 259.0h.9v.9h-.9zM354.6 245.9h.9v.9h-.9zM351.7 247.4h.9v.9h-.9zM347.2 256.2h.9v.9h-.9zM357.8 248.2h.9v.9h-.9zM349.4 249.9h.9v.9h-.9zM358.6 245.8h.9v.9h-.9z"/><path fill="#2090a0" d="M345.7 257.2h.9v.9h-.9zM348.7 252.3h.9v.9h-.9zM356.8 254.3h.9v.9h-.9zM354.8 260.2h.9v.9h-.9zM357.1 253.2h.9v.9h-.9zM351.6 246.7h.9v.9h-.9zM351.8 247.9h.9v.9h-.9zM347.1 255.5h.9v.9h-.9zM348.1 259.9h.9v.9h-.9zM346.6 254.4h.9v.9h-.9zM350.0 248.3h.9v.9h-.9zM352.3 245.7h.9v.9h-.9zM352.8 260.2h.9v.9h-.9zM355.7 245.9h.9v.9h-.9zM357.3 247.9h.9v.9h-.9zM357.3 250.2h.9v.9h-.9zM345.2 257.1h.9v.9h-.9zM352.8 262.6h.9v.9h-.9zM359.0 249.1h.9v.9h-.9zM346.9 255.6h.9v.9h-.9zM357.9 257.5h.9v.9h-.9zM347.1 258.3h.9v.9h-.9zM360.4 247.4h.9v.9h-.9zM346.3 259.3h.9v.9h-.9zM347.3 261.8h.9v.9h-.9zM349.1 259.6h.9v.9h-.9zM347.2 259.7h.9v.9h-.9zM352.1 246.1h.9v.9h-.9zM351.0 261.2h.9v.9h-.9zM355.4 257.8h.9v.9h-.9zM356.1 256.1h.9v.9h-.9zM359.6 254.4h.9v.9h-.9zM356.6 245.3h.9v.9h-.9zM348.4 251.3h.9v.9h-.9zM353.8 245.9h.9v.9h-.9zM356.1 243.8h.9v.9h-.9zM347.3 249.5h.9v.9h-.9zM346.9 255.4h.9v.9h-.9zM359.2 248.1h.9v.9h-.9zM357.8 255.0h.9v.9h-.9zM355.6 256.3h.9v.9h-.9zM346.6 256.3h.9v.9h-.9zM353.7 245.2h.9v.9h-.9zM354.4 245.9h.9v.9h-.9zM354.4 244.0h.9v.9h-.9zM352.0 246.3h.9v.9h-.9zM347.8 251.5h.9v.9h-.9zM358.8 248.2h.9v.9h-.9zM346.1 254.5h.9v.9h-.9zM350.8 247.6h.9v.9h-.9z"/><path fill="#5a6ad0" d="M343.5 259.0h.9v.9h-.9zM347.4 264.1h.9v.9h-.9zM345.1 251.0h.9v.9h-.9zM361.3 248.8h.9v.9h-.9zM352.4 244.4h.9v.9h-.9zM355.2 240.3h.9v.9h-.9zM360.9 248.5h.9v.9h-.9zM362.3 242.6h.9v.9h-.9zM346.0 250.1h.9v.9h-.9zM353.4 245.6h.9v.9h-.9zM346.9 246.1h.9v.9h-.9zM362.4 235.6h.9v.9h-.9zM355.5 259.5h.9v.9h-.9zM355.9 244.5h.9v.9h-.9zM347.8 240.4h.9v.9h-.9zM345.0 263.9h.9v.9h-.9zM362.2 244.1h.9v.9h-.9zM353.6 263.4h.9v.9h-.9zM358.2 243.1h.9v.9h-.9zM353.3 263.1h.9v.9h-.9zM352.2 262.2h.9v.9h-.9zM344.2 262.8h.9v.9h-.9zM353.2 244.0h.9v.9h-.9zM355.0 259.6h.9v.9h-.9zM342.9 249.0h.9v.9h-.9zM353.9 245.0h.9v.9h-.9zM355.6 259.4h.9v.9h-.9zM344.0 259.2h.9v.9h-.9zM345.5 263.1h.9v.9h-.9zM348.5 277.3h.9v.9h-.9zM345.5 260.7h.9v.9h-.9zM354.9 273.1h.9v.9h-.9zM361.2 260.0h.9v.9h-.9zM351.9 267.8h.9v.9h-.9zM353.4 281.4h.9v.9h-.9zM354.9 275.3h.9v.9h-.9zM348.9 268.5h.9v.9h-.9zM344.7 269.4h.9v.9h-.9zM349.5 270.4h.9v.9h-.9zM350.6 267.7h.9v.9h-.9zM350.2 267.3h.9v.9h-.9zM353.3 269.8h.9v.9h-.9zM349.6 259.0h.9v.9h-.9zM350.0 263.1h.9v.9h-.9zM348.0 278.8h.9v.9h-.9zM355.6 265.5h.9v.9h-.9zM355.7 266.4h.9v.9h-.9zM347.5 277.5h.9v.9h-.9zM346.6 263.3h.9v.9h-.9zM347.2 275.9h.9v.9h-.9zM346.2 269.3h.9v.9h-.9zM353.5 276.5h.9v.9h-.9zM355.9 271.2h.9v.9h-.9zM352.9 297.9h.9v.9h-.9zM351.3 276.7h.9v.9h-.9zM354.1 285.8h.9v.9h-.9zM349.6 286.9h.9v.9h-.9zM349.9 278.0h.9v.9h-.9zM356.9 292.0h.9v.9h-.9zM349.6 290.9h.9v.9h-.9zM357.1 280.7h.9v.9h-.9zM353.1 277.4h.9v.9h-.9zM353.2 292.0h.9v.9h-.9zM354.2 292.3h.9v.9h-.9zM351.1 291.7h.9v.9h-.9zM339.4 291.7h.9v.9h-.9zM356.8 289.4h.9v.9h-.9zM352.6 287.3h.9v.9h-.9z"/><path fill="#2f45b8" d="M359.1 250.2h.9v.9h-.9zM343.0 258.2h.9v.9h-.9zM349.3 245.6h.9v.9h-.9zM360.4 255.8h.9v.9h-.9zM345.8 250.3h.9v.9h-.9zM355.0 237.9h.9v.9h-.9zM350.3 245.3h.9v.9h-.9zM359.5 252.5h.9v.9h-.9zM347.7 250.5h.9v.9h-.9zM352.1 244.3h.9v.9h-.9zM352.2 245.3h.9v.9h-.9zM354.5 261.6h.9v.9h-.9zM357.3 236.7h.9v.9h-.9zM351.0 265.5h.9v.9h-.9zM347.9 262.2h.9v.9h-.9zM359.8 237.5h.9v.9h-.9zM360.8 242.3h.9v.9h-.9zM353.3 241.9h.9v.9h-.9zM345.0 255.7h.9v.9h-.9zM360.8 247.8h.9v.9h-.9zM361.8 237.6h.9v.9h-.9zM343.8 254.3h.9v.9h-.9zM355.9 261.7h.9v.9h-.9zM356.3 240.9h.9v.9h-.9zM342.9 257.9h.9v.9h-.9zM349.2 247.2h.9v.9h-.9zM349.8 243.9h.9v.9h-.9zM356.4 276.6h.9v.9h-.9zM350.6 268.1h.9v.9h-.9zM347.8 267.8h.9v.9h-.9zM353.6 265.7h.9v.9h-.9zM349.0 273.4h.9v.9h-.9zM356.9 262.8h.9v.9h-.9zM349.7 266.4h.9v.9h-.9zM351.4 266.3h.9v.9h-.9zM348.7 271.0h.9v.9h-.9zM354.0 278.3h.9v.9h-.9zM343.9 259.5h.9v.9h-.9zM347.9 271.6h.9v.9h-.9zM349.4 263.9h.9v.9h-.9zM356.3 253.4h.9v.9h-.9zM352.5 279.9h.9v.9h-.9zM353.1 277.6h.9v.9h-.9zM351.9 272.3h.9v.9h-.9zM349.4 276.2h.9v.9h-.9zM350.2 264.8h.9v.9h-.9zM352.7 265.9h.9v.9h-.9zM343.6 267.3h.9v.9h-.9zM347.3 276.2h.9v.9h-.9zM349.9 276.0h.9v.9h-.9zM357.9 271.0h.9v.9h-.9zM347.4 277.3h.9v.9h-.9zM353.3 270.4h.9v.9h-.9zM343.0 268.2h.9v.9h-.9zM350.8 269.4h.9v.9h-.9zM351.7 270.0h.9v.9h-.9zM354.0 257.3h.9v.9h-.9zM351.1 275.2h.9v.9h-.9zM348.1 267.2h.9v.9h-.9zM357.2 272.7h.9v.9h-.9zM344.5 269.4h.9v.9h-.9zM352.6 254.1h.9v.9h-.9zM355.0 271.9h.9v.9h-.9zM347.5 288.7h.9v.9h-.9zM351.7 294.5h.9v.9h-.9zM359.3 287.8h.9v.9h-.9zM346.7 286.1h.9v.9h-.9zM355.2 277.4h.9v.9h-.9zM350.9 285.6h.9v.9h-.9zM347.3 287.8h.9v.9h-.9zM354.0 280.7h.9v.9h-.9zM351.2 288.4h.9v.9h-.9zM356.6 283.5h.9v.9h-.9zM357.7 285.9h.9v.9h-.9zM350.9 290.8h.9v.9h-.9zM347.8 284.9h.9v.9h-.9zM356.0 282.1h.9v.9h-.9zM354.1 291.4h.9v.9h-.9zM353.7 283.2h.9v.9h-.9zM351.0 283.9h.9v.9h-.9z"/><path fill="#f0a020" d="M354.7 251.1h.9v.9h-.9zM354.0 254.0h.9v.9h-.9zM354.9 252.9h.9v.9h-.9zM354.9 251.2h.9v.9h-.9zM354.7 251.6h.9v.9h-.9zM353.9 251.0h.9v.9h-.9zM350.7 254.6h.9v.9h-.9zM351.0 254.1h.9v.9h-.9zM353.5 250.3h.9v.9h-.9zM353.5 251.0h.9v.9h-.9zM351.7 252.7h.9v.9h-.9zM352.7 250.3h.9v.9h-.9zM350.4 253.6h.9v.9h-.9zM351.6 256.6h.9v.9h-.9zM352.0 251.8h.9v.9h-.9zM354.6 250.7h.9v.9h-.9zM355.3 251.6h.9v.9h-.9zM351.6 251.7h.9v.9h-.9zM350.6 255.6h.9v.9h-.9zM352.6 256.8h.9v.9h-.9zM353.3 254.4h.9v.9h-.9zM354.3 252.7h.9v.9h-.9zM353.7 254.1h.9v.9h-.9z"/><path fill="#3a4fc0" d="M349.7 262.5h.9v.9h-.9zM347.2 246.3h.9v.9h-.9zM360.2 246.8h.9v.9h-.9zM362.6 250.7h.9v.9h-.9zM354.3 265.0h.9v.9h-.9zM347.1 250.9h.9v.9h-.9zM356.5 261.6h.9v.9h-.9zM360.2 243.7h.9v.9h-.9zM351.4 243.8h.9v.9h-.9zM357.2 244.8h.9v.9h-.9zM359.6 243.4h.9v.9h-.9zM355.6 238.9h.9v.9h-.9zM359.3 240.8h.9v.9h-.9zM359.6 256.5h.9v.9h-.9zM354.0 242.6h.9v.9h-.9zM359.0 255.8h.9v.9h-.9zM347.4 274.6h.9v.9h-.9zM355.5 254.0h.9v.9h-.9zM351.9 263.8h.9v.9h-.9zM350.5 254.8h.9v.9h-.9zM348.1 277.6h.9v.9h-.9zM351.1 275.1h.9v.9h-.9zM355.7 267.8h.9v.9h-.9zM351.5 265.1h.9v.9h-.9zM349.2 272.5h.9v.9h-.9zM341.5 282.1h.9v.9h-.9zM345.4 262.8h.9v.9h-.9zM356.5 268.8h.9v.9h-.9zM351.3 256.6h.9v.9h-.9zM353.1 277.2h.9v.9h-.9zM351.9 274.7h.9v.9h-.9zM345.7 276.0h.9v.9h-.9zM345.3 270.6h.9v.9h-.9zM351.2 270.7h.9v.9h-.9zM353.4 281.9h.9v.9h-.9zM355.1 267.2h.9v.9h-.9zM351.4 264.5h.9v.9h-.9zM345.5 273.9h.9v.9h-.9zM349.8 270.4h.9v.9h-.9zM343.4 265.6h.9v.9h-.9zM348.2 273.3h.9v.9h-.9zM352.4 259.7h.9v.9h-.9zM354.4 262.1h.9v.9h-.9zM359.8 260.1h.9v.9h-.9zM354.6 277.5h.9v.9h-.9zM352.4 274.6h.9v.9h-.9zM350.3 271.9h.9v.9h-.9zM347.1 256.5h.9v.9h-.9zM345.3 283.8h.9v.9h-.9zM351.5 292.4h.9v.9h-.9zM350.1 288.8h.9v.9h-.9zM350.4 292.8h.9v.9h-.9zM352.5 279.8h.9v.9h-.9zM349.8 293.3h.9v.9h-.9zM351.3 289.1h.9v.9h-.9zM352.9 298.3h.9v.9h-.9zM353.9 295.2h.9v.9h-.9zM356.1 280.1h.9v.9h-.9zM358.5 291.2h.9v.9h-.9zM351.8 278.3h.9v.9h-.9z"/><path fill="#58bc38" d="M349.1 254.8h.9v.9h-.9zM355.3 251.8h.9v.9h-.9zM355.5 250.6h.9v.9h-.9zM354.5 254.9h.9v.9h-.9zM349.6 252.8h.9v.9h-.9zM353.2 249.3h.9v.9h-.9zM348.2 255.1h.9v.9h-.9zM354.7 257.6h.9v.9h-.9zM355.7 250.7h.9v.9h-.9zM349.6 256.2h.9v.9h-.9zM351.3 257.3h.9v.9h-.9zM356.7 251.0h.9v.9h-.9zM347.3 258.8h.9v.9h-.9zM348.6 256.9h.9v.9h-.9zM358.6 250.3h.9v.9h-.9zM348.9 254.0h.9v.9h-.9zM350.7 249.3h.9v.9h-.9zM355.6 257.2h.9v.9h-.9zM352.2 250.5h.9v.9h-.9zM351.8 257.4h.9v.9h-.9zM349.4 253.8h.9v.9h-.9zM352.0 258.1h.9v.9h-.9zM353.5 255.8h.9v.9h-.9zM353.7 249.6h.9v.9h-.9zM354.2 259.7h.9v.9h-.9zM356.5 250.2h.9v.9h-.9zM355.4 256.7h.9v.9h-.9zM353.0 249.0h.9v.9h-.9zM353.1 260.0h.9v.9h-.9zM355.0 254.0h.9v.9h-.9zM356.3 249.5h.9v.9h-.9zM354.4 249.3h.9v.9h-.9zM356.7 249.3h.9v.9h-.9zM356.0 251.5h.9v.9h-.9zM347.0 257.0h.9v.9h-.9zM354.6 255.4h.9v.9h-.9zM353.1 257.7h.9v.9h-.9zM353.7 249.1h.9v.9h-.9zM353.1 247.5h.9v.9h-.9zM355.4 252.2h.9v.9h-.9zM349.0 255.4h.9v.9h-.9zM349.9 253.4h.9v.9h-.9zM355.9 251.0h.9v.9h-.9zM349.7 258.3h.9v.9h-.9zM357.4 251.2h.9v.9h-.9zM357.3 254.4h.9v.9h-.9zM348.6 257.7h.9v.9h-.9zM348.8 259.8h.9v.9h-.9zM348.5 253.5h.9v.9h-.9zM352.6 248.2h.9v.9h-.9zM355.8 248.1h.9v.9h-.9zM349.3 255.9h.9v.9h-.9zM355.3 254.6h.9v.9h-.9z"/><path fill="#6a7ad8" d="M353.8 244.6h.9v.9h-.9zM342.3 255.5h.9v.9h-.9zM356.5 240.3h.9v.9h-.9zM356.8 258.5h.9v.9h-.9zM355.6 263.7h.9v.9h-.9zM350.5 265.7h.9v.9h-.9zM360.9 244.2h.9v.9h-.9zM357.0 239.3h.9v.9h-.9zM357.1 262.4h.9v.9h-.9zM340.6 258.3h.9v.9h-.9zM343.9 259.7h.9v.9h-.9zM341.0 253.0h.9v.9h-.9zM358.5 246.0h.9v.9h-.9zM362.2 243.5h.9v.9h-.9zM353.7 240.1h.9v.9h-.9zM351.7 242.1h.9v.9h-.9zM355.5 238.1h.9v.9h-.9zM350.3 244.2h.9v.9h-.9zM349.8 246.2h.9v.9h-.9zM356.1 264.1h.9v.9h-.9zM345.1 265.0h.9v.9h-.9zM344.2 266.5h.9v.9h-.9zM355.6 274.4h.9v.9h-.9zM351.7 272.3h.9v.9h-.9zM351.3 264.4h.9v.9h-.9zM349.7 264.8h.9v.9h-.9zM347.7 265.1h.9v.9h-.9zM353.2 270.6h.9v.9h-.9zM350.1 271.3h.9v.9h-.9zM353.4 282.0h.9v.9h-.9zM355.2 263.8h.9v.9h-.9zM348.7 264.4h.9v.9h-.9zM349.2 261.4h.9v.9h-.9zM350.1 278.7h.9v.9h-.9zM344.4 275.1h.9v.9h-.9zM350.1 253.0h.9v.9h-.9zM349.5 271.0h.9v.9h-.9zM348.6 266.9h.9v.9h-.9zM352.4 257.9h.9v.9h-.9zM352.2 279.2h.9v.9h-.9zM362.4 275.2h.9v.9h-.9zM349.8 274.2h.9v.9h-.9zM357.8 272.1h.9v.9h-.9zM353.6 263.9h.9v.9h-.9zM345.0 268.3h.9v.9h-.9zM350.6 264.5h.9v.9h-.9zM350.2 268.8h.9v.9h-.9zM354.7 277.0h.9v.9h-.9zM349.6 267.2h.9v.9h-.9zM355.8 265.2h.9v.9h-.9zM351.1 258.2h.9v.9h-.9zM350.1 260.5h.9v.9h-.9zM349.5 278.5h.9v.9h-.9zM348.1 277.1h.9v.9h-.9zM350.5 260.4h.9v.9h-.9zM355.2 292.7h.9v.9h-.9zM349.5 299.9h.9v.9h-.9zM350.5 291.6h.9v.9h-.9zM358.2 287.6h.9v.9h-.9zM354.3 279.5h.9v.9h-.9zM347.3 291.9h.9v.9h-.9zM356.5 291.6h.9v.9h-.9zM354.3 280.4h.9v.9h-.9zM342.9 288.5h.9v.9h-.9zM349.7 274.6h.9v.9h-.9zM355.3 279.0h.9v.9h-.9zM347.0 285.4h.9v.9h-.9z"/><path fill="#e03020" d="M352.1 254.2h.9v.9h-.9zM351.1 254.2h.9v.9h-.9zM352.6 254.3h.9v.9h-.9zM352.6 254.4h.9v.9h-.9zM351.5 253.9h.9v.9h-.9zM351.3 254.4h.9v.9h-.9zM352.5 252.9h.9v.9h-.9zM351.4 254.5h.9v.9h-.9zM351.8 253.4h.9v.9h-.9zM351.5 253.3h.9v.9h-.9zM353.2 252.3h.9v.9h-.9zM353.1 253.2h.9v.9h-.9zM353.5 253.2h.9v.9h-.9zM351.1 254.2h.9v.9h-.9zM352.5 253.4h.9v.9h-.9zM353.6 253.7h.9v.9h-.9zM353.8 252.4h.9v.9h-.9zM351.7 255.0h.9v.9h-.9zM351.8 254.0h.9v.9h-.9zM352.3 252.1h.9v.9h-.9z"/><path fill="#4060c8" d="M344.7 247.9h.9v.9h-.9zM359.0 242.9h.9v.9h-.9zM361.0 242.4h.9v.9h-.9zM359.8 241.4h.9v.9h-.9zM349.0 244.6h.9v.9h-.9zM344.7 254.0h.9v.9h-.9zM349.5 242.7h.9v.9h-.9zM344.5 258.4h.9v.9h-.9zM355.5 244.4h.9v.9h-.9zM352.8 244.0h.9v.9h-.9zM349.2 265.2h.9v.9h-.9zM358.1 242.5h.9v.9h-.9zM361.3 245.3h.9v.9h-.9zM346.3 250.5h.9v.9h-.9zM358.3 240.6h.9v.9h-.9zM359.2 256.1h.9v.9h-.9zM351.0 244.7h.9v.9h-.9zM351.8 242.0h.9v.9h-.9zM345.5 250.8h.9v.9h-.9zM360.0 244.0h.9v.9h-.9zM345.6 259.1h.9v.9h-.9zM347.2 284.9h.9v.9h-.9zM345.9 272.9h.9v.9h-.9zM352.2 273.6h.9v.9h-.9zM348.7 278.1h.9v.9h-.9zM352.0 275.2h.9v.9h-.9zM347.2 270.8h.9v.9h-.9zM347.2 277.3h.9v.9h-.9zM358.0 285.7h.9v.9h-.9zM349.9 268.4h.9v.9h-.9zM352.4 258.5h.9v.9h-.9zM348.2 276.6h.9v.9h-.9zM351.6 267.7h.9v.9h-.9zM355.8 274.1h.9v.9h-.9zM353.8 279.2h.9v.9h-.9zM348.3 280.1h.9v.9h-.9zM352.7 267.3h.9v.9h-.9zM349.1 260.4h.9v.9h-.9zM349.7 277.4h.9v.9h-.9zM353.3 269.9h.9v.9h-.9zM352.7 264.0h.9v.9h-.9zM352.2 262.2h.9v.9h-.9zM348.0 275.8h.9v.9h-.9zM351.7 261.4h.9v.9h-.9zM346.9 267.6h.9v.9h-.9zM352.0 265.2h.9v.9h-.9zM345.6 283.1h.9v.9h-.9zM349.1 278.9h.9v.9h-.9zM344.0 269.2h.9v.9h-.9zM352.2 250.6h.9v.9h-.9zM350.0 281.1h.9v.9h-.9zM353.2 275.9h.9v.9h-.9zM350.9 268.5h.9v.9h-.9zM347.6 263.1h.9v.9h-.9zM349.2 257.4h.9v.9h-.9zM348.0 271.8h.9v.9h-.9zM350.8 276.9h.9v.9h-.9zM356.2 289.0h.9v.9h-.9zM350.8 284.0h.9v.9h-.9zM352.3 290.0h.9v.9h-.9zM349.7 276.1h.9v.9h-.9zM360.4 287.9h.9v.9h-.9zM352.9 291.2h.9v.9h-.9zM349.5 284.5h.9v.9h-.9zM352.3 289.1h.9v.9h-.9zM350.5 276.1h.9v.9h-.9zM357.1 287.1h.9v.9h-.9zM352.6 291.9h.9v.9h-.9zM347.9 296.8h.9v.9h-.9z"/><path fill="#f08020" d="M351.7 253.2h.9v.9h-.9zM352.7 252.8h.9v.9h-.9zM351.9 252.7h.9v.9h-.9zM353.0 252.9h.9v.9h-.9zM352.2 254.3h.9v.9h-.9zM353.2 251.8h.9v.9h-.9zM352.4 252.8h.9v.9h-.9zM353.0 251.9h.9v.9h-.9zM351.5 253.2h.9v.9h-.9zM353.3 252.4h.9v.9h-.9zM351.6 253.4h.9v.9h-.9zM351.5 255.0h.9v.9h-.9zM352.5 254.7h.9v.9h-.9zM352.9 253.4h.9v.9h-.9zM352.0 254.9h.9v.9h-.9zM352.2 253.5h.9v.9h-.9zM353.7 252.5h.9v.9h-.9zM351.8 253.8h.9v.9h-.9z"/><path fill="#e8d020" d="M354.5 254.8h.9v.9h-.9zM353.6 254.8h.9v.9h-.9zM355.3 250.8h.9v.9h-.9zM353.3 251.1h.9v.9h-.9zM351.3 253.5h.9v.9h-.9zM350.5 253.8h.9v.9h-.9zM353.0 250.7h.9v.9h-.9zM350.3 256.0h.9v.9h-.9zM354.7 252.0h.9v.9h-.9zM352.1 252.3h.9v.9h-.9zM352.7 256.1h.9v.9h-.9zM353.8 251.8h.9v.9h-.9zM353.5 251.0h.9v.9h-.9zM354.1 254.8h.9v.9h-.9zM350.6 255.3h.9v.9h-.9zM350.0 254.3h.9v.9h-.9zM351.0 256.0h.9v.9h-.9zM351.5 255.8h.9v.9h-.9zM350.2 253.6h.9v.9h-.9zM352.5 250.9h.9v.9h-.9zM350.5 253.8h.9v.9h-.9zM354.6 254.0h.9v.9h-.9z"/></g>
<rect x="298.4" y="220.6" width="85.20000000000005" height="85.20000000000002" fill="none" stroke="#707070" stroke-width="1.2"/>
<line x1="298.4" y1="263.5" x2="383.6" y2="261.6" stroke="#222" stroke-width="0.9" />
<polyline points="368.4,220.6 357.8,259.5 354.5,305.8" fill="none" stroke="#222" stroke-width="0.9"/>
<text x="301.59999999999997" y="231.2" font-size="8.3" textLength="20.3" lengthAdjust="spacingAndGlyphs" fill="#333" >69.3%</text>
<rect x="358.9" y="224.0" width="21.2" height="7.6" fill="#fff" />
<rect x="367.59999999999997" y="220.4" width="1.6" height="1.8" fill="#111"/>
<text x="379.5" y="231.2" font-size="8.3" text-anchor="end" textLength="20.1" lengthAdjust="spacingAndGlyphs" fill="#333" >4.36%</text>
<text x="301.7" y="300.9" font-size="8.3" textLength="20.3" lengthAdjust="spacingAndGlyphs" fill="#333" >15.3%</text>
<text x="380.6" y="300.9" font-size="8.3" text-anchor="end" textLength="20.5" lengthAdjust="spacingAndGlyphs" fill="#333" >11.0%</text>
<line x1="295.0" y1="229.15017709563165" x2="298.4" y2="229.15017709563165" stroke="#333" stroke-width="1.0" />
<text x="293.4" y="231.85017709563164" font-size="7.7" text-anchor="end" fill="#2a2a2a" >10<tspan font-size="4.5" dy="-2.8">5</tspan></text>
<line x1="295.0" y1="249.57001180637545" x2="298.4" y2="249.57001180637545" stroke="#333" stroke-width="1.0" />
<text x="293.4" y="252.27001180637544" font-size="7.7" text-anchor="end" fill="#2a2a2a" >10<tspan font-size="4.5" dy="-2.8">4</tspan></text>
<line x1="295.0" y1="272.90696576151123" x2="298.4" y2="272.90696576151123" stroke="#333" stroke-width="1.0" />
<text x="293.4" y="275.6069657615112" font-size="7.7" text-anchor="end" fill="#2a2a2a" >10<tspan font-size="4.5" dy="-2.8">3</tspan></text>
<line x1="295.0" y1="286.3860684769776" x2="298.4" y2="286.3860684769776" stroke="#333" stroke-width="1.0" />
<text x="293.4" y="289.0860684769776" font-size="7.7" text-anchor="end" fill="#2a2a2a" >0</text>
<line x1="295.0" y1="299.96576151121604" x2="298.4" y2="299.96576151121604" stroke="#333" stroke-width="1.0" />
<text x="293.4" y="302.66576151121603" font-size="7.7" text-anchor="end" fill="#2a2a2a" >−10<tspan font-size="4.5" dy="-2.8">3</tspan></text>
<line x1="296.59999999999997" y1="243.42302905194103" x2="298.4" y2="243.42302905194103" stroke="#444" stroke-width="0.7" />
<line x1="296.59999999999997" y1="265.8818426135862" x2="298.4" y2="265.8818426135862" stroke="#444" stroke-width="0.7" />
<line x1="296.59999999999997" y1="239.82727464801724" x2="298.4" y2="239.82727464801724" stroke="#444" stroke-width="0.7" />
<line x1="296.59999999999997" y1="261.77240900910186" x2="298.4" y2="261.77240900910186" stroke="#444" stroke-width="0.7" />
<line x1="296.59999999999997" y1="237.27604629750658" x2="298.4" y2="237.27604629750658" stroke="#444" stroke-width="0.7" />
<line x1="296.59999999999997" y1="258.8567194656612" x2="298.4" y2="258.8567194656612" stroke="#444" stroke-width="0.7" />
<line x1="296.59999999999997" y1="235.29715985006607" x2="298.4" y2="235.29715985006607" stroke="#444" stroke-width="0.7" />
<line x1="296.59999999999997" y1="256.5951349543005" x2="298.4" y2="256.5951349543005" stroke="#444" stroke-width="0.7" />
<line x1="296.59999999999997" y1="233.68029189358285" x2="298.4" y2="233.68029189358285" stroke="#444" stroke-width="0.7" />
<line x1="296.59999999999997" y1="254.74728586117683" x2="298.4" y2="254.74728586117683" stroke="#444" stroke-width="0.7" />
<line x1="296.59999999999997" y1="232.31324951491078" x2="298.4" y2="232.31324951491078" stroke="#444" stroke-width="0.7" />
<line x1="296.59999999999997" y1="253.18495171412306" x2="298.4" y2="253.18495171412306" stroke="#444" stroke-width="0.7" />
<line x1="296.59999999999997" y1="231.1290635430722" x2="298.4" y2="231.1290635430722" stroke="#444" stroke-width="0.7" />
<line x1="296.59999999999997" y1="251.8315963177361" x2="298.4" y2="251.8315963177361" stroke="#444" stroke-width="0.7" />
<line x1="296.59999999999997" y1="230.08453748965906" x2="298.4" y2="230.08453748965906" stroke="#444" stroke-width="0.7" />
<line x1="296.59999999999997" y1="250.63785225669253" x2="298.4" y2="250.63785225669253" stroke="#444" stroke-width="0.7" />
<line x1="296.59999999999997" y1="277.131759149941" x2="298.4" y2="277.131759149941" stroke="#444" stroke-width="0.7" />
<line x1="296.59999999999997" y1="280.85360094451005" x2="298.4" y2="280.85360094451005" stroke="#444" stroke-width="0.7" />
<line x1="296.59999999999997" y1="290.9126328217237" x2="298.4" y2="290.9126328217237" stroke="#444" stroke-width="0.7" />
<line x1="296.59999999999997" y1="293.42739079102716" x2="298.4" y2="293.42739079102716" stroke="#444" stroke-width="0.7" />
<line x1="296.59999999999997" y1="295.94214876033055" x2="298.4" y2="295.94214876033055" stroke="#444" stroke-width="0.7" />
<line x1="296.59999999999997" y1="302.9834710743802" x2="298.4" y2="302.9834710743802" stroke="#444" stroke-width="0.7" />
<rect x="295.4" y="284.5754427390791" width="3.0" height="3.8" fill="#111"/>
<line x1="318.1" y1="305.8" x2="318.1" y2="309.0" stroke="#333" stroke-width="0.9" />
<text x="318.1" y="316.4" font-size="7.2" text-anchor="middle" fill="#2a2a2a" >0</text>
<line x1="355.1" y1="305.8" x2="355.1" y2="309.0" stroke="#333" stroke-width="0.9" />
<text x="355.1" y="316.4" font-size="7.2" text-anchor="middle" fill="#2a2a2a" >10<tspan font-size="4.5" dy="-2.8">4</tspan></text>
<line x1="375.2" y1="305.8" x2="375.2" y2="309.0" stroke="#333" stroke-width="0.9" />
<text x="375.2" y="316.4" font-size="7.2" text-anchor="middle" fill="#2a2a2a" >10<tspan font-size="4.5" dy="-2.8">5</tspan></text>
<line x1="341.0507029128461" y1="305.8" x2="341.0507029128461" y2="307.6" stroke="#555" stroke-width="0.6" />
<line x1="361.15070291284604" y1="305.8" x2="361.15070291284604" y2="307.6" stroke="#555" stroke-width="0.6" />
<line x1="344.59013721986526" y1="305.8" x2="344.59013721986526" y2="307.6" stroke="#555" stroke-width="0.6" />
<line x1="364.6901372198652" y1="305.8" x2="364.6901372198652" y2="307.6" stroke="#555" stroke-width="0.6" />
<line x1="347.1014058256921" y1="305.8" x2="347.1014058256921" y2="307.6" stroke="#555" stroke-width="0.6" />
<line x1="367.20140582569206" y1="305.8" x2="367.20140582569206" y2="307.6" stroke="#555" stroke-width="0.6" />
<line x1="349.049297087154" y1="305.8" x2="349.049297087154" y2="307.6" stroke="#555" stroke-width="0.6" />
<line x1="369.14929708715397" y1="305.8" x2="369.14929708715397" y2="307.6" stroke="#555" stroke-width="0.6" />
<line x1="350.6408401327113" y1="305.8" x2="350.6408401327113" y2="307.6" stroke="#555" stroke-width="0.6" />
<line x1="370.74084013271124" y1="305.8" x2="370.74084013271124" y2="307.6" stroke="#555" stroke-width="0.6" />
<line x1="351.9864706042866" y1="305.8" x2="351.9864706042866" y2="307.6" stroke="#555" stroke-width="0.6" />
<line x1="372.08647060428655" y1="305.8" x2="372.08647060428655" y2="307.6" stroke="#555" stroke-width="0.6" />
<line x1="353.1521087385381" y1="305.8" x2="353.1521087385381" y2="307.6" stroke="#555" stroke-width="0.6" />
<line x1="373.2521087385381" y1="305.8" x2="373.2521087385381" y2="307.6" stroke="#555" stroke-width="0.6" />
<line x1="354.18027443973045" y1="305.8" x2="354.18027443973045" y2="307.6" stroke="#555" stroke-width="0.6" />
<line x1="374.2802744397304" y1="305.8" x2="374.2802744397304" y2="307.6" stroke="#555" stroke-width="0.6" />
<line x1="301.0" y1="305.8" x2="301.0" y2="308.0" stroke="#444" stroke-width="0.7" />
<line x1="302.90000000000003" y1="305.8" x2="302.90000000000003" y2="308.0" stroke="#444" stroke-width="0.7" />
<line x1="304.8" y1="305.8" x2="304.8" y2="308.0" stroke="#444" stroke-width="0.7" />
<line x1="306.70000000000005" y1="305.8" x2="306.70000000000005" y2="308.0" stroke="#444" stroke-width="0.7" />
<line x1="308.6" y1="305.8" x2="308.6" y2="308.0" stroke="#444" stroke-width="0.7" />
<line x1="310.5" y1="305.8" x2="310.5" y2="308.0" stroke="#444" stroke-width="0.7" />
<line x1="312.40000000000003" y1="305.8" x2="312.40000000000003" y2="308.0" stroke="#444" stroke-width="0.7" />
<line x1="314.3" y1="305.8" x2="314.3" y2="308.0" stroke="#444" stroke-width="0.7" />
<line x1="316.20000000000005" y1="305.8" x2="316.20000000000005" y2="308.0" stroke="#444" stroke-width="0.7" />
<line x1="318.1" y1="305.8" x2="318.1" y2="308.0" stroke="#444" stroke-width="0.7" />
<line x1="320.0" y1="305.8" x2="320.0" y2="308.0" stroke="#444" stroke-width="0.7" />
<line x1="321.90000000000003" y1="305.8" x2="321.90000000000003" y2="308.0" stroke="#444" stroke-width="0.7" />
<line x1="323.8" y1="305.8" x2="323.8" y2="308.0" stroke="#444" stroke-width="0.7" />
<line x1="325.70000000000005" y1="305.8" x2="325.70000000000005" y2="308.0" stroke="#444" stroke-width="0.7" />
<line x1="327.6" y1="305.8" x2="327.6" y2="308.0" stroke="#444" stroke-width="0.7" />
<line x1="329.5" y1="305.8" x2="329.5" y2="308.0" stroke="#444" stroke-width="0.7" />
<line x1="331.40000000000003" y1="305.8" x2="331.40000000000003" y2="308.0" stroke="#444" stroke-width="0.7" />
<line x1="300.6" y1="305.8" x2="300.6" y2="309.0" stroke="#333" stroke-width="0.9" />
<rect x="315.90000000000003" y="305.8" width="4" height="2.8" fill="#111"/>
<line x1="21.6" y1="228" x2="21.6" y2="304" stroke="#333" stroke-width="0.9" />
<path d="M21.6,224.3 L19.6,229.5 L23.6,229.5 Z" fill="#222"/>
<text transform="translate(18.4,286.3) rotate(-90)" font-size="10.6" text-anchor="middle" fill="#222" textLength="39" lengthAdjust="spacingAndGlyphs">GPX4-PE</text>
<line x1="40.2" y1="320.9" x2="380" y2="320.9" stroke="#333" stroke-width="0.9" />
<path d="M384.6,320.9 L379,318.8 L379,323 Z" fill="#222"/>
<text x="41" y="330.3" font-size="9.3" textLength="71.2" lengthAdjust="spacingAndGlyphs" fill="#2a2a2a" >Lipid ROX Green</text>
</svg><div id="b"></div></div></body></html>
